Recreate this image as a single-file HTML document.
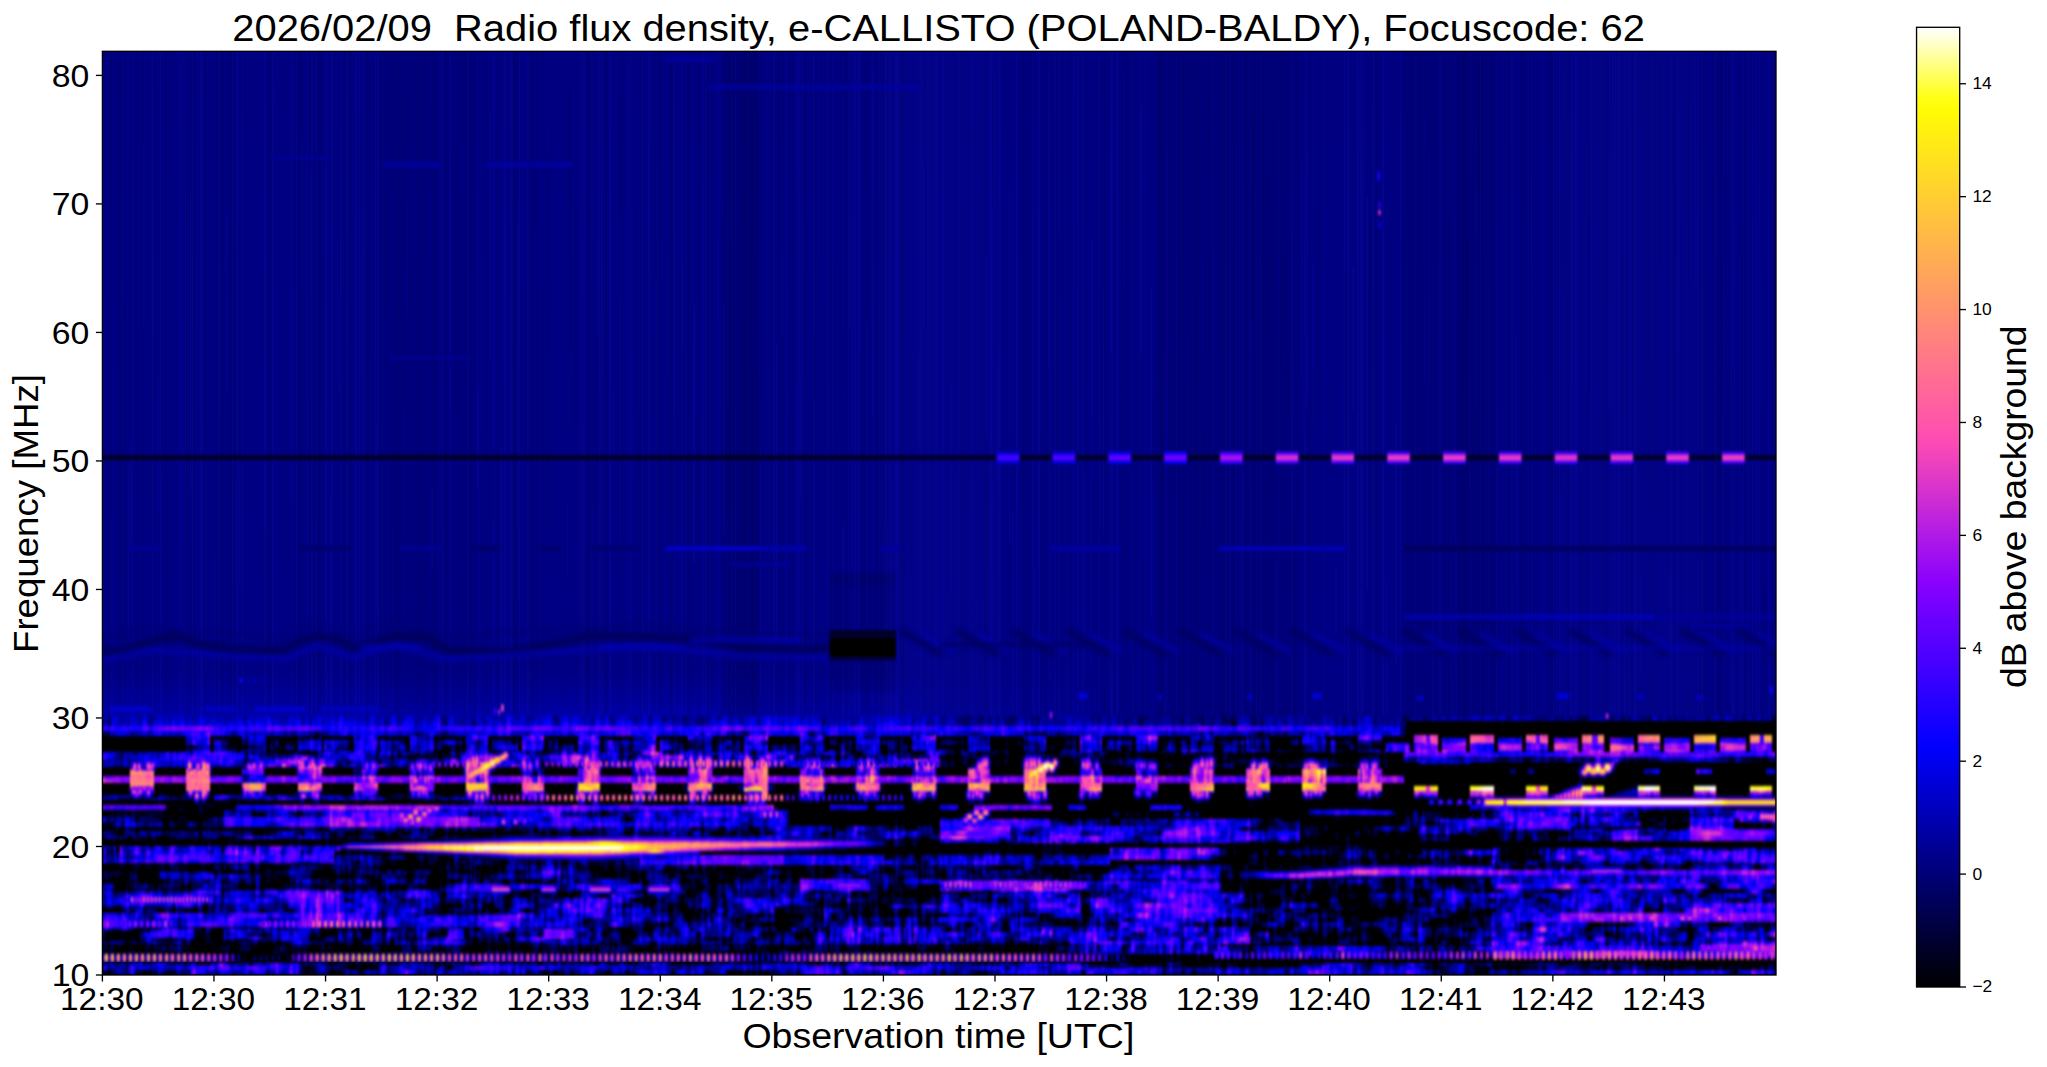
<!DOCTYPE html>
<html><head><meta charset="utf-8"><title>e-CALLISTO spectrogram</title>
<style>html,body{margin:0;padding:0;background:#fff;overflow:hidden}body{width:2047px;height:1067px;font-family:"Liberation Sans", sans-serif}</style></head>
<body>
<svg width="2047" height="1067" viewBox="0 0 2047 1067" font-family='"Liberation Sans", sans-serif' fill="#000" style="display:block">
<defs><clipPath id="axc"><rect x="102.40" y="51.30" width="1673.60" height="923.70"/></clipPath><filter id="bl" x="-1%" y="-5%" width="102%" height="110%" color-interpolation-filters="sRGB"><feGaussianBlur stdDeviation="1.1 1.6"/></filter><filter id="b2" x="-5%" y="-50%" width="110%" height="200%" color-interpolation-filters="sRGB"><feGaussianBlur stdDeviation="1.2 1.4"/></filter><filter id="b3" x="-5%" y="-50%" width="110%" height="200%" color-interpolation-filters="sRGB"><feGaussianBlur stdDeviation="2.5 2.2"/></filter><filter id="bd" x="-2%" y="-2%" width="104%" height="104%" color-interpolation-filters="sRGB"><feGaussianBlur stdDeviation="0.85 1.5"/></filter></defs>
<g clip-path="url(#axc)">
<defs><linearGradient id="ug" x1="0" y1="0" x2="0" y2="1"><stop offset="0" stop-color="#000081"/><stop offset="0.90" stop-color="#000084"/><stop offset="1" stop-color="#000085"/></linearGradient></defs>
<rect x="100.4" y="49.3" width="1677.6" height="670.0" fill="url(#ug)"/>
<linearGradient id="gl" x1="0" y1="0" x2="0" y2="1"><stop offset="0" stop-color="#0000ae" stop-opacity="0"/><stop offset="0.6" stop-color="#0000ae" stop-opacity="0.45"/><stop offset="1" stop-color="#0000ae" stop-opacity="0.95"/></linearGradient>
<rect x="100.4" y="672" width="617.6" height="47.3" fill="url(#gl)"/>
<rect x="718" y="672" width="200" height="47.3" fill="url(#gl)" opacity="0.65"/>
<rect x="918" y="672" width="180" height="47.3" fill="url(#gl)" opacity="0.3"/>
<path d="M318 51v668h2.0V51zM350 51v668h1.5V51zM320 51v668h2.0V51zM958 51v668h2.5V51zM333 51v668h1.0V51zM445 51v668h1.0V51zM1092 480v239h1.5V480zM884 530v189h1.5V530zM1229 533v134h1.0V533zM619 99v119h1.5V99zM1507 446v127h1.0V446zM1104 51v668h1.5V51zM928 51v668h1.0V51zM673 51v668h1.0V51zM1261 51v668h2.5V51zM1373 51v668h1.5V51zM1774 182v181h1.0V182zM646 51v668h1.5V51zM1621 51v668h1.0V51zM550 125v193h1.0V125zM588 51v668h1.5V51zM1028 51v668h1.5V51zM1741 225v247h1.5V225zM1612 51v668h2.0V51zM1182 51v668h2.5V51zM1349 51v668h1.5V51zM1447 51v668h1.5V51zM1568 51v668h1.5V51zM333 51v668h1.5V51zM986 325v353h1.0V325zM122 297v391h1.5V297zM236 245v233h1.0V245zM783 51v668h1.0V51zM1096 51v668h1.0V51zM591 51v668h1.5V51zM380 51v668h1.5V51zM1671 141v262h1.5V141zM315 260v258h1.5V260zM902 51v668h2.5V51zM771 51v668h1.5V51zM832 51v668h1.0V51zM121 51v668h1.0V51zM1551 51v668h1.0V51zM148 51v668h1.0V51zM215 51v668h1.5V51zM1046 51v668h1.0V51zM411 257v168h1.0V257zM1477 60v128h2.0V60zM1253 51v668h2.5V51zM1376 51v668h1.5V51zM781 51v668h1.0V51zM155 63v336h1.0V63zM1732 364v165h1.5V364zM277 51v668h1.0V51zM1602 51v668h1.5V51zM1244 51v668h2.5V51zM1520 51v668h1.5V51zM1654 51v668h1.5V51zM1712 51v668h2.5V51zM1178 51v668h1.0V51zM875 51v668h1.5V51zM1053 51v668h2.0V51zM1164 63v290h1.5V63zM1605 51v668h1.0V51zM379 51v668h1.0V51zM863 51v668h1.5V51zM998 204v136h2.0V204zM645 226v343h1.5V226zM1705 51v668h1.0V51zM658 51v668h2.0V51zM1224 51v668h1.0V51zM1458 51v668h1.0V51zM1251 109v212h2.5V109zM886 522v158h1.0V522zM686 51v668h1.5V51zM344 51v668h2.5V51zM879 51v668h2.5V51zM295 154v135h1.5V154zM230 308v280h2.5V308zM384 192v118h1.0V192zM1560 70v83h1.0V70zM711 51v668h2.0V51zM528 51v668h2.5V51zM1270 373v164h2.5V373zM1507 51v668h1.5V51zM1276 338v97h2.0V338zM1010 431v224h1.0V431zM291 504v215h1.0V504zM1560 198v297h1.5V198zM1286 51v668h1.0V51zM287 293v275h1.0V293zM1511 51v668h1.5V51zM542 291v179h1.0V291zM1528 51v668h1.5V51zM1632 51v668h1.0V51zM473 51v668h2.5V51zM1465 51v668h1.5V51zM151 462v128h1.0V462zM659 51v668h1.5V51zM262 275v87h1.0V275zM574 205v220h2.5V205zM188 51v668h2.0V51zM1762 405v256h1.5V405zM1153 394v88h1.5V394zM860 355v288h1.5V355zM599 51v668h1.5V51zM486 51v668h1.0V51zM796 104v263h1.0V104zM967 51v668h1.0V51zM698 51v668h1.5V51zM1238 51v668h1.0V51zM310 51v668h1.5V51zM1548 51v668h2.0V51zM985 51v668h2.0V51zM811 398v198h1.0V398zM1158 195v237h2.5V195zM761 51v668h1.5V51zM640 51v668h1.0V51zM604 51v668h1.0V51zM653 346v68h1.0V346zM387 51v668h1.0V51zM217 51v668h1.0V51zM696 416v102h2.5V416zM789 51v668h2.0V51zM1272 51v668h1.0V51zM1368 216v310h2.5V216zM543 51v668h1.5V51zM1022 51v668h2.5V51zM433 51v668h1.5V51zM1309 51v668h1.5V51zM239 224v238h1.0V224zM512 51v668h2.0V51zM1524 51v668h1.0V51zM831 51v668h1.0V51zM408 51v668h1.0V51zM391 537v150h1.5V537zM588 167v383h1.0V167zM706 51v668h2.5V51zM1466 239v256h2.0V239zM563 500v219h1.0V500zM1040 469v250h1.5V469zM497 388v275h2.0V388zM973 125v80h1.0V125zM746 51v668h2.5V51zM438 190v194h1.0V190zM1121 51v668h1.0V51zM1198 51v668h1.5V51zM805 51v668h1.5V51zM1529 51v668h1.0V51zM547 153v381h2.0V153zM1621 51v668h1.0V51zM234 51v668h1.5V51zM1293 521v198h2.5V521zM1024 51v668h1.0V51zM1533 51v668h1.0V51zM569 85v265h2.5V85zM1253 51v668h1.5V51zM1100 51v668h1.5V51zM1270 51v668h2.0V51zM686 51v668h1.0V51zM1629 447v272h2.0V447zM877 322v258h1.0V322zM315 151v376h1.0V151zM762 316v248h1.0V316zM1688 51v668h1.5V51zM1747 51v668h2.0V51zM533 51v668h1.0V51zM723 51v668h2.0V51zM1253 76v343h1.0V76zM1159 51v668h1.5V51zM1588 143v282h1.5V143zM122 383v147h1.5V383zM1371 51v668h1.0V51zM317 536v183h1.0V536zM1170 51v668h1.0V51zM1196 51v668h2.5V51zM348 51v668h1.0V51zM752 111v147h2.5V111zM849 552v168h1.5V552zM804 51v668h1.0V51zM492 448v74h2.5V448zM587 431v145h1.5V431zM1125 51v668h2.5V51zM1086 51v668h1.0V51zM534 161v69h2.0V161zM1317 51v668h1.5V51zM485 51v668h1.0V51zM118 364v168h1.0V364zM1477 400v158h1.0V400zM1479 145v350h1.5V145zM1052 113v265h1.5V113zM1603 51v668h1.0V51zM1209 51v668h1.5V51zM1265 51v668h1.5V51zM1220 51v668h2.5V51zM903 51v668h1.0V51zM1460 315v332h1.0V315zM771 51v668h2.5V51zM1552 51v668h1.5V51zM1481 51v668h2.0V51zM1287 352v61h1.5V352zM1133 51v668h2.5V51zM733 51v668h1.0V51zM1636 51v668h1.0V51zM1123 51v668h1.0V51zM845 51v668h1.5V51zM566 156v338h1.0V156zM605 51v668h2.0V51zM1471 169v370h2.0V169zM778 51v668h2.0V51zM1729 51v668h1.0V51zM1158 51v668h1.5V51zM225 273v338h1.0V273zM781 51v668h1.0V51zM984 476v236h1.0V476zM1716 51v668h1.5V51zM1724 178v83h1.0V178zM586 579v140h1.5V579zM395 51v668h2.0V51zM142 51v668h1.5V51zM1586 567v153h1.5V567zM1505 51v668h1.0V51zM221 197v338h1.5V197zM636 201v147h1.0V201zM1345 269v173h2.0V269zM1516 437v178h1.0V437zM655 51v668h1.0V51zM1226 51v668h2.0V51zM849 51v668h2.0V51zM263 529v190h2.0V529zM1743 51v668h1.5V51zM165 51v668h2.0V51zM131 51v668h1.0V51zM964 51v668h1.0V51zM884 51v668h1.0V51zM464 51v668h1.0V51zM1249 51v668h1.0V51zM124 51v668h1.5V51zM795 231v153h2.5V231zM298 51v668h2.0V51zM423 51v668h1.5V51zM821 51v668h1.0V51zM1739 51v668h1.0V51zM602 556v164h1.0V556zM346 230v269h1.0V230zM1462 51v668h2.5V51zM268 51v668h2.5V51zM792 51v668h1.5V51zM135 164v236h1.5V164zM1056 51v668h1.0V51zM509 128v255h1.5V128zM1633 113v290h1.0V113zM230 51v668h1.0V51zM1363 51v668h1.0V51zM992 74v133h1.5V74zM1062 51v668h1.0V51zM1157 51v668h1.5V51zM469 51v668h2.5V51zM532 51v668h1.0V51zM1419 51v668h1.0V51zM744 51v668h1.5V51zM300 51v668h2.0V51zM359 117v96h1.0V117zM1402 240v224h2.0V240zM215 51v668h2.0V51zM398 51v668h1.0V51zM583 51v668h1.5V51zM1391 227v240h1.0V227zM445 67v292h1.0V67zM1127 51v668h1.0V51zM173 51v668h1.0V51zM435 51v668h1.0V51zM639 415v67h1.5V415zM1058 233v219h2.0V233zM602 51v668h1.0V51zM312 51v668h1.5V51zM110 51v668h1.5V51zM834 263v241h1.0V263zM1139 51v668h1.0V51zM214 51v668h1.5V51zM1159 51v668h2.5V51zM1303 51v668h1.0V51zM1481 536v183h1.5V536zM674 413v306h1.0V413zM1232 51v668h2.0V51zM1621 253v165h2.5V253zM636 305v380h1.5V305zM1586 51v668h1.0V51zM1606 51v668h1.0V51zM688 51v668h1.5V51zM1508 51v668h1.0V51zM1161 51v668h2.5V51zM596 336v336h2.0V336zM1115 51v668h1.0V51zM228 51v668h1.5V51zM600 198v172h1.0V198zM1375 51v668h1.5V51zM1673 51v668h2.5V51zM1175 51v668h1.0V51zM1764 586v134h1.5V586zM1044 51v668h1.5V51zM1721 51v668h2.5V51zM1699 469v68h1.0V469zM592 295v210h1.0V295zM1452 51v668h1.5V51zM1567 51v668h2.0V51zM231 51v668h1.5V51zM1702 51v668h1.5V51zM308 51v668h1.0V51zM621 171v329h1.5V171zM1744 51v668h1.5V51zM881 51v668h2.0V51zM1475 560v115h1.0V560zM1188 51v668h1.5V51zM1512 51v668h1.0V51zM186 51v668h2.5V51zM578 51v668h1.0V51zM185 468v78h2.5V468zM1394 51v668h1.0V51zM926 51v668h1.0V51zM514 51v668h1.5V51zM1521 51v668h2.5V51zM1111 349v335h1.0V349zM1279 249v123h2.5V249zM444 51v668h1.0V51zM1331 391v75h1.0V391zM136 51v668h1.5V51zM221 51v668h2.5V51zM889 51v668h2.0V51zM204 51v668h2.0V51zM173 51v668h1.0V51zM536 51v668h1.5V51zM532 505v215h2.5V505zM604 111v345h1.0V111zM926 233v232h1.0V233zM417 51v668h1.5V51zM911 347v231h1.0V347zM221 504v216h1.0V504zM814 332v90h1.0V332zM1203 430v103h1.5V430zM670 51v668h2.5V51zM298 51v668h1.0V51zM1563 120v171h1.0V120zM323 257v141h1.0V257zM887 51v668h1.0V51zM1257 51v668h1.0V51zM1174 356v143h1.0V356zM525 281v176h1.5V281zM729 243v260h2.5V243zM403 448v272h1.0V448zM194 51v668h2.5V51zM117 51v668h2.5V51zM738 539v180h1.5V539zM1065 51v668h1.0V51zM952 51v668h1.0V51zM1279 51v668h1.0V51zM840 51v668h1.5V51zM1070 51v668h1.5V51zM1645 51v668h1.0V51zM900 51v668h1.5V51zM1648 51v668h1.0V51zM455 149v259h1.5V149zM1229 51v668h1.5V51zM515 51v668h2.5V51zM1230 51v668h1.0V51zM1580 489v231h2.5V489zM1719 51v668h2.5V51zM687 51v668h1.0V51zM731 51v668h1.0V51zM1700 51v668h1.0V51zM154 51v668h1.0V51zM497 51v668h1.5V51zM188 103v140h2.0V103zM1725 51v668h1.0V51zM425 51v668h1.0V51zM815 51v668h1.5V51zM866 51v668h2.5V51zM621 51v668h1.5V51zM1070 51v668h1.0V51zM533 332v338h1.0V332zM979 51v668h1.0V51zM367 386v163h1.0V386zM691 461v259h1.5V461zM378 51v668h1.5V51zM920 51v668h1.5V51zM166 477v242h1.5V477zM433 51v668h1.5V51zM1193 188v210h1.5V188zM1491 51v668h1.0V51zM752 372v347h2.5V372zM1031 51v668h1.0V51zM721 217v368h1.5V217zM299 566v154h1.5V566zM1010 570v66h1.0V570zM366 51v668h2.5V51zM585 542v177h1.5V542zM369 64v388h1.0V64zM1192 51v668h1.5V51zM813 86v370h1.5V86zM1403 51v668h1.0V51zM1468 51v668h2.0V51zM680 265v213h1.5V265zM373 51v668h1.0V51zM214 51v668h1.0V51zM1702 51v668h1.0V51zM587 51v668h1.0V51zM486 51v668h1.0V51zM1306 395v226h1.5V395zM872 193v113h1.5V193zM1142 557v162h2.0V557zM1318 206v219h1.5V206zM656 242v331h1.0V242zM1076 221v71h1.0V221zM1283 51v668h1.0V51zM646 228v294h1.5V228zM1659 64v205h2.0V64zM401 97v324h2.0V97zM339 51v668h1.0V51z" fill="#000" fill-opacity="0.085"/>
<path d="M1469 51v668h2.0V51zM438 51v668h1.5V51zM1270 60v114h1.0V60zM872 69v348h2.0V69zM1450 61v160h1.5V61zM630 51v668h1.5V51zM1352 267v143h2.5V267zM1344 51v668h1.0V51zM1150 288v327h2.0V288zM1559 318v87h1.0V318zM490 113v249h1.5V113zM630 51v668h1.5V51zM296 51v668h1.0V51zM1452 300v77h2.5V300zM1305 51v668h1.5V51zM581 51v668h2.0V51zM504 51v668h2.0V51zM362 51v668h1.5V51zM359 51v668h1.0V51zM1049 348v337h1.5V348zM1139 51v668h1.0V51zM1761 275v131h1.0V275zM1009 188v355h1.5V188zM832 51v668h1.5V51zM192 51v668h1.0V51zM1123 75v214h1.0V75zM1634 51v668h1.0V51zM359 406v314h1.0V406zM852 534v186h1.5V534zM1260 51v668h2.0V51zM1609 51v668h1.5V51zM152 51v668h1.0V51zM187 51v668h1.5V51zM1357 51v668h2.5V51zM842 527v193h2.5V527zM519 51v668h1.0V51zM477 196v291h1.0V196zM598 51v668h2.5V51zM1428 148v318h1.5V148zM325 51v668h2.5V51zM1065 51v668h1.0V51zM857 51v668h1.0V51zM1571 51v668h1.5V51zM356 51v668h1.0V51zM646 51v668h1.0V51zM527 515v204h2.5V515zM377 51v668h2.5V51zM1618 51v668h2.0V51zM355 550v169h1.0V550zM111 514v205h1.5V514zM971 51v668h1.0V51zM518 205v394h1.0V205zM1077 51v668h1.5V51zM990 51v668h2.5V51zM1225 51v668h2.5V51zM1570 385v334h1.0V385zM1140 106v248h2.5V106zM567 502v75h1.5V502zM500 448v271h2.5V448zM1361 51v668h1.0V51zM626 61v150h1.0V61zM1357 51v668h1.5V51zM1677 51v668h1.0V51zM239 458v129h1.5V458zM226 215v178h1.0V215zM382 51v668h1.0V51zM1611 156v252h1.5V156zM1743 51v668h1.0V51zM364 51v668h1.0V51zM1361 274v120h1.0V274zM1701 51v668h2.5V51zM1455 51v668h1.5V51zM1629 51v668h1.5V51zM731 51v668h1.5V51zM1451 537v182h1.5V537zM301 142v143h1.0V142zM1073 51v668h1.0V51zM277 51v668h1.0V51zM854 51v668h2.0V51zM196 51v668h1.5V51zM1017 51v668h1.0V51zM158 377v136h1.5V377zM693 305v259h2.5V305zM1255 187v171h1.5V187zM601 51v668h1.5V51zM527 51v668h1.5V51zM1236 51v668h1.5V51zM1241 443v276h2.5V443zM1686 225v399h1.0V225zM1225 55v145h2.5V55zM1449 51v668h1.0V51zM449 51v668h2.5V51zM1363 51v668h1.0V51zM1012 513v199h1.5V513zM919 357v88h2.5V357zM800 275v225h1.0V275zM1624 51v668h1.0V51zM1249 51v668h2.5V51zM1239 51v668h1.5V51zM443 51v668h1.5V51zM1360 51v668h1.5V51zM1517 456v263h1.5V456zM200 51v668h2.5V51zM493 51v668h1.5V51zM609 51v668h2.5V51zM773 51v668h2.0V51zM759 51v668h1.0V51zM1528 51v668h1.0V51zM747 51v668h1.0V51zM686 51v668h1.0V51zM583 51v668h2.5V51zM375 51v668h1.0V51zM1032 51v668h1.5V51zM958 51v668h2.0V51zM920 51v668h2.5V51zM406 205v109h1.5V205zM1498 224v294h1.5V224zM873 51v668h1.0V51zM1576 51v668h1.5V51zM895 51v668h1.5V51zM1193 51v668h1.0V51zM340 51v668h1.5V51zM1188 51v668h1.0V51zM1415 51v668h1.5V51zM1731 51v668h2.5V51zM613 390v70h1.0V390zM602 51v668h1.0V51zM813 51v668h2.0V51zM1585 217v175h1.5V217zM1202 262v95h1.0V262zM579 51v668h1.0V51zM1256 51v668h1.0V51zM467 51v668h2.0V51zM897 51v668h2.0V51zM673 51v668h2.0V51zM1275 563v156h2.5V563zM591 51v668h1.5V51zM237 69v378h1.0V69zM1164 51v668h1.5V51zM1084 474v204h1.5V474zM1624 128v249h1.5V128zM1742 496v215h1.0V496zM1373 51v668h2.0V51zM1612 51v668h2.5V51zM1335 565v69h2.0V565zM1542 51v668h1.0V51zM355 51v668h1.5V51zM850 51v668h1.5V51zM1756 51v668h1.0V51zM153 92v243h1.0V92zM190 197v117h1.5V197zM1400 51v668h1.0V51zM393 530v189h1.0V530zM889 51v668h1.0V51zM885 51v668h2.0V51zM1145 51v668h1.0V51zM604 51v668h1.0V51zM1302 161v273h1.0V161zM857 445v236h1.5V445zM441 51v668h2.0V51zM232 51v668h1.0V51zM735 51v668h1.0V51zM1506 51v668h1.0V51zM1198 51v668h1.5V51zM857 51v668h2.5V51zM1480 51v668h1.0V51zM655 278v375h1.5V278zM1016 51v668h1.5V51zM723 302v233h2.0V302zM827 51v668h1.5V51zM1304 434v285h1.0V434zM1440 51v668h2.0V51zM889 51v668h2.0V51zM866 322v338h2.0V322zM1447 51v668h1.0V51zM1366 196v394h2.5V196zM1382 51v668h2.5V51zM1438 51v668h2.5V51zM431 487v85h2.5V487zM132 51v668h1.0V51zM1020 508v212h1.0V508zM1103 292v241h1.0V292zM1291 51v668h2.0V51zM852 51v668h1.0V51zM1059 51v668h1.0V51zM130 445v107h2.0V445zM642 51v668h1.0V51zM1432 457v262h2.5V457zM1515 334v250h1.5V334zM718 51v668h1.0V51zM813 51v668h1.5V51zM1715 51v668h1.5V51zM1615 51v668h1.5V51zM681 51v668h1.0V51zM997 367v117h2.5V367zM1167 149v288h1.0V149zM1386 579v140h1.5V579zM1670 570v88h1.5V570zM122 51v668h1.0V51zM1640 579v91h1.5V579zM511 51v668h2.0V51zM1176 51v668h1.5V51zM999 51v668h2.0V51zM1323 51v668h1.0V51zM264 51v668h2.5V51zM848 51v668h1.5V51zM1342 249v282h1.0V249zM1424 118v265h1.0V118zM128 465v170h1.0V465zM786 51v668h1.0V51zM205 451v218h1.5V451zM1734 51v668h1.0V51zM620 298v244h1.0V298zM760 445v253h1.5V445zM1312 265v105h1.5V265zM330 497v223h1.0V497zM337 240v140h1.0V240zM376 426v183h1.0V426zM307 51v668h1.0V51zM1759 51v668h1.0V51zM359 257v383h1.5V257zM1348 51v668h1.5V51zM1671 51v668h1.5V51zM202 51v668h1.0V51zM796 51v668h2.5V51zM896 51v668h2.0V51zM1635 51v668h2.0V51zM1082 51v668h1.5V51zM1133 51v668h1.0V51zM1553 51v668h1.5V51zM1243 51v668h1.5V51zM1362 51v668h1.0V51zM1714 51v668h2.5V51zM242 51v668h1.0V51zM1452 51v668h2.5V51zM1756 51v668h1.5V51zM438 92v218h1.5V92zM849 127v198h1.0V127zM1420 455v88h1.5V455zM1739 533v186h2.5V533zM1347 51v668h2.5V51zM339 294v97h1.5V294zM1678 114v241h1.5V114zM923 165v162h1.5V165zM510 51v668h1.0V51zM1034 566v153h1.0V566zM727 194v207h1.5V194zM887 533v187h1.0V533zM1278 51v668h1.0V51zM1602 51v668h1.0V51zM1212 51v668h1.5V51zM1099 51v668h1.0V51zM648 51v668h2.5V51zM1166 500v220h1.5V500zM1476 123v110h1.0V123zM1759 51v668h1.0V51zM1166 51v668h1.5V51zM705 51v668h1.5V51zM891 481v238h1.0V481zM272 51v668h1.5V51zM517 222v306h2.0V222zM478 387v332h1.0V387zM179 51v668h1.5V51zM505 51v668h1.0V51zM628 51v668h1.0V51zM316 51v668h1.0V51zM718 51v668h1.0V51zM1695 100v184h1.5V100zM1048 71v296h2.0V71zM1067 549v170h1.0V549zM1722 416v143h2.0V416zM1591 51v668h1.5V51zM1511 51v668h2.0V51zM726 524v195h1.5V524zM1116 51v668h2.5V51zM1470 51v668h1.5V51zM160 51v668h1.0V51zM1292 51v668h1.0V51zM1229 51v668h2.5V51zM1496 51v668h2.0V51zM185 51v668h1.0V51zM346 51v668h2.0V51zM879 51v668h1.0V51zM291 51v668h1.5V51zM1624 51v668h1.0V51zM190 272v220h1.5V272zM1091 338v330h1.0V338zM1372 51v668h2.0V51zM529 51v668h1.0V51zM1768 51v668h1.5V51zM218 51v668h1.5V51zM682 264v85h1.0V264zM942 51v668h1.5V51zM1575 51v668h1.5V51zM1395 423v241h2.0V423zM332 51v668h1.5V51zM776 345v297h2.0V345zM854 51v668h1.5V51zM1304 177v158h1.5V177zM1723 51v668h1.0V51zM1576 384v336h1.0V384zM799 51v668h1.5V51zM1307 151v261h1.0V151zM1556 51v668h1.0V51zM657 51v668h1.0V51zM143 146v183h1.0V146zM927 51v668h2.0V51zM1559 51v668h1.5V51zM1111 51v668h2.0V51zM1187 513v206h1.5V513zM311 51v668h2.0V51zM935 51v668h2.5V51zM403 405v314h1.0V405zM215 51v668h1.0V51zM331 51v668h1.5V51zM1747 51v668h2.5V51zM236 51v668h2.0V51zM1091 239v173h2.0V239zM986 256v183h1.0V256zM1489 51v668h1.0V51zM1349 51v668h1.5V51zM1456 540v179h1.0V540zM703 51v668h1.0V51zM310 170v228h2.0V170zM1496 51v668h1.5V51zM782 139v198h1.0V139zM1531 51v668h1.0V51zM213 556v164h1.5V556zM1038 51v668h2.0V51zM1055 51v668h1.0V51zM802 51v668h1.0V51zM858 51v668h2.5V51zM1110 51v668h2.5V51zM273 51v668h1.5V51zM951 386v210h1.5V386zM1739 257v359h1.5V257zM387 451v266h1.5V451zM1053 51v668h1.5V51zM1055 51v668h1.0V51zM918 51v668h1.0V51zM182 51v668h1.5V51zM1752 51v668h1.0V51z" fill="#2424ff" fill-opacity="0.075"/>
<rect x="725.0" y="51.3" width="35.0" height="668.0" fill="#000" fill-opacity="0.10"/>
<rect x="1160.0" y="51.3" width="140.0" height="668.0" fill="#000" fill-opacity="0.06"/>
<rect x="1404.0" y="51.3" width="96.0" height="668.0" fill="#000" fill-opacity="0.07"/>
<rect x="380.0" y="51.3" width="90.0" height="668.0" fill="#000" fill-opacity="0.04"/>
<rect x="880.0" y="51.3" width="120.0" height="668.0" fill="#3030ff" fill-opacity="0.05"/>
<rect x="1560.0" y="51.3" width="140.0" height="668.0" fill="#3030ff" fill-opacity="0.04"/>
<g filter="url(#bl)"><rect x="96.4" y="716.34" width="1685.6" height="264.7" fill="#000"/>
<g transform="translate(102.40 718.735) scale(2.0 2.3950)" stroke-width="2.08" fill="none" shape-rendering="crispEdges">
<path stroke="#00001f" d="M560 0h1M566 2h1M22 8h1M98 8h5M105 8h1M265 8h1M576 8h1M578 8h1M753 8h1M63 10h1M72 10h1M85 10h1M92 10h2M151 10h1M205 10h1M225 10h1M231 10h1M233 10h1M235 10h1M288 10h1M290 10h2M294 10h1M307 10h1M316 10h1M372 10h1M428 10h2M452 10h1M481 10h1M484 10h1M502 10h1M506 10h1M530 10h2M539 10h1M618 10h1M641 10h1M682 10h1M42 12h1M70 12h1M86 12h1M91 12h1M123 12h1M145 12h1M170 12h1M174 12h1M225 12h1M228 12h2M259 12h1M313 12h1M397 12h1M418 12h2M430 12h1M452 12h1M467 12h1M474 12h1M482 12h2M512 12h1M531 12h1M548 12h1M559 12h2M568 12h1M601 12h1M630 12h2M636 12h2M100 14h1M502 14h1M149 16h1M152 16h2M164 16h1M260 16h1M264 16h1M307 16h1M315 16h1M361 16h1M363 16h1M372 16h1M557 16h1M560 16h1M578 16h2M602 16h1M630 16h2M650 16h1M139 18h1M169 18h1M391 18h1M421 18h2M424 18h1M429 18h2M436 18h1M444 18h1M447 18h2M487 18h1M507 18h1M540 18h1M562 18h1M565 18h3M573 18h1M585 18h1M587 18h1M592 18h1M596 18h2M642 18h1M646 18h1M740 18h1M180 20h1M528 20h1M110 22h2M115 22h1M127 22h1M180 22h1M208 22h1M312 22h1M534 22h1M593 22h1M598 22h1M627 22h1M737 22h1M7 28h1M258 28h1M261 28h2M321 32h1M377 32h1M388 32h1M431 32h1M442 32h1M473 32h1M526 32h1M555 32h1M581 32h1M543 38h1M576 38h1M4 40h2M7 40h1M9 40h1M19 40h1M21 40h1M23 40h1M25 40h1M27 40h2M30 40h1M49 40h1M77 40h1M81 40h1M99 40h1M184 40h1M249 40h1M251 40h1M253 40h1M261 40h2M343 40h1M449 40h1M505 40h1M514 40h1M519 40h1M525 40h1M527 40h1M531 40h1M535 40h1M539 40h1M545 40h1M652 40h1M666 40h1M668 40h2M676 40h3M685 40h1M693 40h2M737 40h1M763 40h2M28 42h2M33 42h2M38 42h4M51 42h1M261 42h1M397 42h1M617 42h2M642 42h1M651 42h1M654 42h2M663 42h2M773 42h3M780 42h1M785 42h3M790 42h2M2 44h2M10 44h1M33 44h1M38 44h1M40 44h1M483 44h2M498 44h1M501 44h1M513 44h1M583 44h3M587 44h1M594 44h1M655 44h1M658 44h1M666 44h1M738 44h1M776 44h2M825 44h1M829 44h1M7 46h1M14 46h1M53 46h2M56 46h1M94 46h1M97 46h2M100 46h1M107 46h1M128 46h1M147 46h1M149 46h2M163 46h1M167 46h2M175 46h1M189 46h1M193 46h1M196 46h1M208 46h2M212 46h1M236 46h1M245 46h1M262 46h1M295 46h1M311 46h1M317 46h1M326 46h1M398 46h1M415 46h1M578 46h1M600 46h2M606 46h1M631 46h3M654 46h1M693 46h1M7 48h1M31 48h1M70 48h1M75 48h1M110 48h1M114 48h2M121 48h1M151 48h2M154 48h1M163 48h1M195 48h1M201 48h1M210 48h1M212 48h1M216 48h2M219 48h1M229 48h1M247 48h1M251 48h1M270 48h2M282 48h1M300 48h1M310 48h2M316 48h2M324 48h2M332 48h1M416 48h3M600 48h1M604 48h1M606 48h1M608 48h1M626 48h1M634 48h1M637 48h1M643 48h1M649 48h2M688 48h1M692 48h1M697 48h1M703 48h1M712 48h1M718 48h1M782 48h1M663 50h2M676 50h1M700 50h1M703 50h1M721 50h1M732 50h1M735 50h1M751 50h1M50 52h1M53 52h1M63 52h2M66 52h2M95 52h1M97 52h1M108 52h1M113 52h1M393 52h1M401 52h1M407 52h1M622 52h1M7 54h1M397 54h1M453 54h2M472 54h3M476 54h1M478 54h2M560 54h2M597 54h2M605 54h2M608 54h1M610 54h2M615 54h2M618 54h1M621 54h1M625 54h1M629 54h1M631 54h1M562 56h1M576 56h2M593 56h1M604 56h1M612 56h1M615 56h3M619 56h2M630 56h1M648 56h1M653 56h1M663 56h1M670 56h1M674 56h1M702 56h1M715 56h1M724 56h1M141 58h3M157 58h1M164 58h2M391 58h1M394 58h1M396 58h1M400 58h2M406 58h1M409 58h1M416 58h1M469 58h1M492 58h1M558 58h1M702 58h1M712 58h1M720 58h1M127 60h1M141 60h1M144 60h2M159 60h2M166 60h1M169 60h1M172 60h1M179 60h1M182 60h2M193 60h1M195 60h4M229 60h1M255 60h2M409 60h1M531 60h2M573 60h1M575 60h1M610 60h2M621 60h1M624 60h2M627 60h1M629 60h1M634 60h1M646 60h1M650 60h1M656 60h1M658 60h1M676 60h3M689 60h1M9 62h2M18 62h1M22 62h3M28 62h2M31 62h1M33 62h1M38 62h4M50 62h2M60 62h1M62 62h1M91 62h1M93 62h1M108 62h1M110 62h1M114 62h1M122 62h1M125 62h1M128 62h1M132 62h1M155 62h1M159 62h1M169 62h1M178 62h1M183 62h1M185 62h1M194 62h1M201 62h1M213 62h1M218 62h1M230 62h1M232 62h1M237 62h1M239 62h2M243 62h1M249 62h1M275 62h1M283 62h1M286 62h1M289 62h1M293 62h1M295 62h1M303 62h1M318 62h1M326 62h2M329 62h1M332 62h1M335 62h1M337 62h2M360 62h1M366 62h2M373 62h1M394 62h1M401 62h2M430 62h1M442 62h2M469 62h1M504 62h1M507 62h1M595 62h1M600 62h1M698 62h1M704 62h1M781 62h1M787 62h1M794 62h1M59 64h1M67 64h1M71 64h1M77 64h1M84 64h1M89 64h2M119 64h2M124 64h1M142 64h1M145 64h2M152 64h1M155 64h1M164 64h1M169 64h1M178 64h1M181 64h1M184 64h1M194 64h1M201 64h1M213 64h1M244 64h1M258 64h2M261 64h1M269 64h1M287 64h2M296 64h2M300 64h1M303 64h1M309 64h1M318 64h1M330 64h1M343 64h2M352 64h1M354 64h1M360 64h1M367 64h1M386 64h1M398 64h1M409 64h1M411 64h1M433 64h1M436 64h2M448 64h2M461 64h1M467 64h1M485 64h1M503 64h1M559 64h1M562 64h1M568 64h1M0 66h1M3 66h2M7 66h1M28 66h1M75 66h1M82 66h6M90 66h1M93 66h1M104 66h1M126 66h1M136 66h1M148 66h1M151 66h1M162 66h1M185 66h1M230 66h1M245 66h1M248 66h2M257 66h1M261 66h2M283 66h1M292 66h1M300 66h1M308 66h1M310 66h3M320 66h1M324 66h1M326 66h1M334 66h1M344 66h1M349 66h2M376 66h3M381 66h1M383 66h1M409 66h2M412 66h1M415 66h1M418 66h1M451 66h1M463 66h1M469 66h1M486 66h1M498 66h1M559 66h1M762 66h1M2 68h1M4 68h1M12 68h1M22 68h1M40 68h1M69 68h1M83 68h1M95 68h1M109 68h2M116 68h1M122 68h1M125 68h1M152 68h3M162 68h1M177 68h1M179 68h1M190 68h1M195 68h1M222 68h2M225 68h1M236 68h2M273 68h1M289 68h1M296 68h1M299 68h1M339 68h1M396 68h1M399 68h2M559 68h1M564 68h1M595 68h1M605 68h1M608 68h2M615 68h1M640 68h1M769 68h1M6 70h1M12 70h1M15 70h1M25 70h2M30 70h1M41 70h2M60 70h1M66 70h1M90 70h2M93 70h1M99 70h1M105 70h2M108 70h1M110 70h1M113 70h2M123 70h1M125 70h2M129 70h2M136 70h1M140 70h1M143 70h1M229 70h1M271 70h1M296 70h1M301 70h1M307 70h1M310 70h1M393 70h1M397 70h2M570 70h1M584 70h1M599 70h2M608 70h1M624 70h1M628 70h1M633 70h1M644 70h1M648 70h2M659 70h2M673 70h1M680 70h2M807 70h1M295 72h1M297 72h1M303 72h1M307 72h1M310 72h1M316 72h1M330 72h1M602 72h1M604 72h1M641 72h1M661 72h1M663 72h2M681 72h1M688 72h1M694 72h2M721 72h1M746 72h1M748 72h1M791 72h1M800 72h1M832 72h1M201 74h1M214 74h1M217 74h1M220 74h1M224 74h1M226 74h2M237 74h1M272 74h1M274 74h2M291 74h1M327 74h3M345 74h1M365 74h1M371 74h1M374 74h2M377 74h1M391 74h1M396 74h1M415 74h1M429 74h1M480 74h1M489 74h1M496 74h1M591 74h1M614 74h1M616 74h1M620 74h1M624 74h1M643 74h1M663 74h1M714 74h1M801 74h1M121 76h2M150 76h1M169 76h2M185 76h1M187 76h1M201 76h1M213 76h1M279 76h2M299 76h1M307 76h1M311 76h1M356 76h1M358 76h1M382 76h1M385 76h1M393 76h1M400 76h2M411 76h3M437 76h1M440 76h1M442 76h1M490 76h1M562 76h1M592 76h1M599 76h3M642 76h1M645 76h1M650 76h1M693 76h1M696 76h1M719 76h2M722 76h1M813 76h1M816 76h2M821 76h2M832 76h1M92 78h1M186 78h1M190 78h1M201 78h1M272 78h1M276 78h1M288 78h1M310 78h1M362 78h1M492 78h1M568 78h1M574 78h1M579 78h1M619 78h1M627 78h1M630 78h1M655 78h1M662 78h1M780 78h1M14 80h1M21 80h1M27 80h1M30 80h2M34 80h1M38 80h1M79 80h1M92 80h1M94 80h1M162 80h1M166 80h1M173 80h1M175 80h1M216 80h1M275 80h1M280 80h1M288 80h1M296 80h1M306 80h1M337 80h1M341 80h1M344 80h2M347 80h1M353 80h1M356 80h1M359 80h2M380 80h1M385 80h1M395 80h1M398 80h1M407 80h1M409 80h1M461 80h1M582 80h1M591 80h1M611 80h1M777 80h2M229 82h1M284 82h1M290 82h1M302 82h1M310 82h3M322 82h1M333 82h1M336 82h1M348 82h1M355 82h1M359 82h1M385 82h2M388 82h1M396 82h1M403 82h2M421 82h1M433 82h2M456 82h1M471 82h1M473 82h1M494 82h1M576 82h1M584 82h1M595 82h1M598 82h1M602 82h1M609 82h1M616 82h1M618 82h1M650 82h1M654 82h1M674 82h1M683 82h1M689 82h1M691 82h1M242 84h2M245 84h1M285 84h1M291 84h1M295 84h1M297 84h2M301 84h1M304 84h1M314 84h1M320 84h1M324 84h2M327 84h1M344 84h5M350 84h1M356 84h2M366 84h1M370 84h1M382 84h2M391 84h1M395 84h1M399 84h1M413 84h1M451 84h2M468 84h1M473 84h1M484 84h2M558 84h1M575 84h1M594 84h1M604 84h1M611 84h1M624 84h1M626 84h1M640 84h1M676 84h1M684 84h1M243 86h1M252 86h1M271 86h1M273 86h2M276 86h1M282 86h2M293 86h1M318 86h1M335 86h1M346 86h2M356 86h1M384 86h1M410 86h1M431 86h1M476 86h1M478 86h1M480 86h1M484 86h1M487 86h1M498 86h1M503 86h1M506 86h1M556 86h1M561 86h1M571 86h2M575 86h2M579 86h1M596 86h2M604 86h1M624 86h5M634 86h1M648 86h1M656 86h1M660 86h1M662 86h1M670 86h1M672 86h1M688 86h1M692 86h1M749 86h1M794 86h1M825 86h2M830 86h1M832 86h1M836 86h1M19 88h2M46 88h1M80 88h1M112 88h2M121 88h2M128 88h1M137 88h1M142 88h1M146 88h1M152 88h3M156 88h1M172 88h1M251 88h2M257 88h1M270 88h1M280 88h1M323 88h1M333 88h1M353 88h1M360 88h2M428 88h1M431 88h1M437 88h1M453 88h1M486 88h1M503 88h1M551 88h1M603 88h1M613 88h1M615 88h1M617 88h1M621 88h1M626 88h1M629 88h2M638 88h1M648 88h1M675 88h1M712 88h2M741 88h1M752 88h1M757 88h1M788 88h1M796 88h1M805 88h1M831 88h1M4 90h1M10 90h1M46 90h2M50 90h2M53 90h1M60 90h1M81 90h2M84 90h1M116 90h1M134 90h1M140 90h2M152 90h1M156 90h1M163 90h1M167 90h3M183 90h1M206 90h1M212 90h1M218 90h1M241 90h1M245 90h1M273 90h1M287 90h1M297 90h1M332 90h1M336 90h1M340 90h1M346 90h1M354 90h1M362 90h1M405 90h1M519 90h1M588 90h5M595 90h1M620 90h1M626 90h1M629 90h1M632 90h2M645 90h1M670 90h1M683 90h1M758 90h1M768 90h1M785 90h1M795 90h1M14 92h1M52 92h1M54 92h1M60 92h1M106 92h1M125 92h1M127 92h1M131 92h2M141 92h1M144 92h1M148 92h1M155 92h1M182 92h1M198 92h1M200 92h1M244 92h1M254 92h1M261 92h1M297 92h2M301 92h1M313 92h1M324 92h1M340 92h1M350 92h1M352 92h1M354 92h1M431 92h1M454 92h1M468 92h1M505 92h2M512 92h1M540 92h1M577 92h2M580 92h1M584 92h2M603 92h1M611 92h1M618 92h2M621 92h1M624 92h1M627 92h1M629 92h1M645 92h1M657 92h1M666 92h2M672 92h2M683 92h1M691 92h2M694 92h1M768 92h1M771 92h1M795 92h1M775 94h1M780 94h1M787 94h1M790 94h1M792 94h1M794 94h1M1 96h1M3 96h1M14 96h1M21 96h1M32 96h1M40 96h1M56 96h1M60 96h1M68 96h1M74 96h1M88 96h1M92 96h1M94 96h1M96 96h2M100 96h1M102 96h1M108 96h1M111 96h1M113 96h1M129 96h1M155 96h2M166 96h2M171 96h1M179 96h1M203 96h1M218 96h1M220 96h3M228 96h1M232 96h1M234 96h2M240 96h2M263 96h1M276 96h1M279 96h1M322 96h1M324 96h1M328 96h3M341 96h1M351 96h1M354 96h2M365 96h1M372 96h1M376 96h1M392 96h1M412 96h1M420 96h1M424 96h3M440 96h1M449 96h2M457 96h1M471 96h3M476 96h1M481 96h2M498 96h1M511 96h1M573 96h1M575 96h1M642 96h1M666 96h1M672 96h1M676 96h1M678 96h1M42 98h1M223 98h1M286 98h1M364 98h1M366 98h1M370 98h1M375 98h1M379 98h1M473 98h1M573 98h1M656 98h1M661 98h2M667 98h1M687 98h2M690 98h1M75 100h1M78 100h1M81 100h1M102 100h1M150 100h1M156 100h1M162 100h1M168 100h1M228 100h1M237 100h1M279 100h1M282 100h1M294 100h1M303 100h1M309 100h1M312 100h1M354 100h1M436 100h1M442 100h1M445 100h1M487 100h1M490 100h1M535 100h1M547 100h2M52 102h1M173 102h1M187 102h1M226 102h1M295 102h1M447 102h1M100 104h2M105 104h1M121 104h1M166 104h1M172 104h1M452 104h1M701 104h1M713 104h1M715 104h1M717 104h1M740 104h1M742 104h1M746 104h1M755 104h1M759 104h1M771 104h1M773 104h1M777 104h1M786 104h1M792 104h2M808 104h1M813 104h2M819 104h1M836 104h1M2 106h1M17 106h1M26 106h1M31 106h1M34 106h1M83 106h1M101 106h1M105 106h2M113 106h1M117 106h1M130 106h1M166 106h1M213 106h1M225 106h1M228 106h1M230 106h1M235 106h1M251 106h1M254 106h1M312 106h1M330 106h1M335 106h1M347 106h1M371 106h1M416 106h1M435 106h1M438 106h2M530 106h1M555 106h1M592 106h1M670 106h1M672 106h1M682 106h1M686 106h1M689 106h1M691 106h1M707 106h1M814 106h1M817 106h1"/>
<path stroke="#00003e" d="M519 0h1M550 0h1M565 0h1M650 0h2M738 0h1M740 0h3M760 0h1M774 0h1M803 0h1M835 0h2M3 2h1M519 2h1M540 2h1M550 2h1M560 2h1M562 2h1M564 2h1M576 2h1M579 2h1M625 2h1M650 4h1M0 6h1M2 6h1M478 6h1M651 6h1M108 8h1M441 8h2M573 8h1M579 8h2M71 10h1M84 10h1M86 10h1M167 10h1M177 10h1M188 10h1M226 10h1M285 10h1M289 10h1M296 10h1M308 10h1M310 10h1M367 10h1M396 10h1M400 10h1M419 10h1M421 10h1M426 10h2M482 10h1M535 10h2M560 10h1M562 10h1M594 10h1M619 10h1M43 12h1M45 12h1M62 12h1M64 12h1M66 12h1M75 12h2M89 12h1M118 12h1M120 12h1M122 12h1M176 12h1M179 12h1M260 12h1M288 12h1M295 12h2M299 12h2M307 12h1M312 12h1M315 12h1M339 12h1M343 12h1M355 12h2M373 12h1M475 12h1M481 12h1M506 12h1M509 12h1M513 12h1M522 12h1M532 12h1M539 12h1M576 12h1M579 12h1M581 12h1M602 12h1M633 12h1M462 14h1M479 14h1M8 16h2M72 16h1M144 16h1M147 16h1M150 16h1M159 16h1M163 16h1M165 16h1M167 16h1M170 16h2M177 16h1M348 16h2M362 16h1M369 16h1M376 16h1M387 16h1M391 16h1M405 16h1M408 16h1M562 16h1M633 16h6M641 16h1M123 18h1M145 18h1M168 18h1M220 18h1M222 18h1M250 18h1M252 18h1M285 18h1M360 18h1M419 18h2M425 18h1M432 18h1M435 18h1M451 18h2M486 18h1M500 18h1M502 18h1M504 18h3M510 18h2M561 18h1M564 18h1M568 18h2M571 18h2M598 18h1M614 18h1M616 18h1M641 18h1M71 20h1M405 20h1M612 22h1M272 32h1M298 32h1M499 32h1M520 32h1M527 32h1M554 32h1M583 32h1M8 40h1M12 40h1M16 40h1M18 40h1M22 40h1M24 40h1M26 40h1M29 40h1M95 40h1M100 40h1M107 40h1M109 40h1M193 40h1M198 40h2M231 40h1M234 40h1M243 40h1M247 40h1M508 40h1M512 40h1M517 40h1M522 40h1M540 40h1M546 40h1M548 40h1M655 40h1M661 40h2M664 40h2M667 40h1M765 40h1M768 40h1M796 40h1M804 40h2M6 42h1M10 42h1M18 42h1M23 42h1M25 42h3M53 42h3M58 42h1M265 42h1M343 42h1M658 42h1M662 42h1M665 42h1M742 42h1M776 42h1M1 44h1M5 44h1M21 44h1M30 44h1M36 44h1M42 44h1M47 44h1M50 44h1M52 44h1M58 44h2M323 44h2M343 44h1M485 44h1M500 44h1M514 44h3M521 44h1M533 44h1M577 44h1M595 44h1M651 44h1M654 44h1M742 44h1M779 44h3M826 44h1M830 44h2M11 46h1M13 46h1M15 46h1M96 46h1M99 46h1M106 46h1M127 46h1M148 46h1M161 46h1M173 46h2M176 46h1M179 46h1M187 46h1M191 46h2M194 46h1M202 46h1M204 46h1M206 46h1M211 46h1M224 46h1M226 46h1M246 46h2M261 46h1M263 46h1M274 46h1M297 46h1M301 46h1M308 46h1M319 46h2M328 46h1M331 46h2M367 46h1M385 46h2M392 46h2M399 46h1M407 46h1M468 46h1M570 46h1M572 46h1M574 46h1M580 46h1M594 46h1M596 46h1M602 46h4M607 46h1M611 46h2M645 46h3M686 46h1M696 46h1M698 46h1M0 48h1M5 48h2M23 48h1M30 48h1M33 48h1M48 48h1M66 48h2M69 48h1M81 48h1M84 48h3M98 48h2M117 48h1M129 48h2M133 48h2M144 48h1M148 48h2M159 48h1M165 48h1M172 48h1M196 48h1M211 48h1M213 48h1M218 48h1M223 48h1M228 48h1M230 48h4M240 48h1M246 48h1M268 48h2M272 48h2M275 48h1M277 48h1M287 48h1M299 48h1M312 48h1M321 48h3M331 48h1M334 48h2M360 48h1M363 48h1M378 48h1M382 48h2M386 48h1M410 48h1M413 48h1M456 48h1M461 48h3M490 48h2M601 48h1M605 48h1M607 48h1M617 48h1M633 48h1M642 48h1M685 48h1M700 48h1M707 48h1M717 48h1M720 48h3M735 48h1M771 48h2M662 50h1M668 50h1M673 50h1M704 50h1M709 50h1M719 50h2M722 50h2M729 50h1M749 50h2M753 50h1M94 52h1M98 52h1M112 52h1M399 52h2M405 52h1M623 52h1M2 54h1M4 54h1M24 54h1M31 54h1M76 54h1M471 54h1M477 54h1M601 54h1M603 54h1M607 54h1M613 54h2M617 54h1M622 54h1M624 54h1M559 56h1M566 56h1M600 56h1M609 56h1M613 56h2M621 56h1M627 56h1M635 56h2M647 56h1M675 56h3M679 56h1M712 56h1M716 56h1M718 56h1M116 58h1M120 58h1M136 58h1M151 58h1M158 58h1M395 58h1M402 58h1M466 58h1M488 58h1M493 58h1M556 58h2M719 58h1M139 60h2M163 60h3M173 60h1M178 60h1M180 60h1M185 60h1M190 60h2M207 60h1M210 60h1M215 60h1M220 60h2M233 60h1M243 60h1M252 60h1M259 60h1M265 60h1M407 60h1M467 60h1M574 60h1M577 60h1M581 60h1M620 60h1M622 60h1M637 60h1M667 60h1M669 60h1M673 60h3M688 60h1M693 60h2M16 62h2M30 62h1M34 62h1M78 62h1M102 62h1M109 62h1M126 62h2M135 62h1M137 62h1M176 62h1M181 62h2M186 62h1M217 62h1M219 62h1M227 62h1M231 62h1M241 62h2M251 62h2M256 62h4M262 62h1M265 62h1M281 62h1M285 62h1M287 62h1M297 62h1M305 62h2M317 62h1M320 62h1M330 62h1M352 62h4M359 62h1M365 62h1M368 62h1M370 62h1M395 62h2M398 62h2M409 62h1M413 62h1M420 62h2M426 62h2M429 62h1M432 62h1M434 62h1M439 62h1M444 62h1M460 62h1M466 62h1M468 62h1M485 62h1M488 62h1M513 62h1M546 62h1M560 62h1M562 62h1M571 62h2M589 62h1M598 62h2M601 62h1M603 62h1M725 62h1M727 62h1M738 62h1M740 62h1M761 62h1M763 62h1M767 62h1M775 62h2M782 62h1M786 62h1M814 62h1M72 64h1M82 64h1M87 64h2M92 64h1M121 64h1M127 64h1M132 64h1M135 64h2M138 64h2M150 64h1M156 64h1M159 64h1M174 64h1M176 64h1M188 64h1M198 64h2M202 64h1M206 64h1M210 64h1M262 64h1M268 64h1M272 64h1M275 64h1M301 64h1M320 64h1M332 64h1M339 64h1M342 64h1M359 64h1M370 64h1M374 64h3M390 64h1M406 64h1M413 64h1M416 64h1M432 64h1M434 64h1M438 64h1M442 64h2M460 64h1M469 64h1M480 64h1M484 64h1M516 64h2M561 64h1M563 64h1M1 66h1M15 66h1M56 66h1M74 66h1M79 66h1M96 66h1M101 66h2M129 66h1M139 66h1M147 66h1M149 66h2M156 66h1M160 66h1M172 66h1M175 66h1M179 66h2M183 66h1M191 66h1M207 66h1M211 66h1M226 66h1M229 66h1M232 66h1M244 66h1M247 66h1M258 66h1M275 66h1M286 66h1M289 66h1M294 66h1M296 66h1M298 66h2M301 66h2M330 66h1M332 66h1M337 66h1M343 66h1M365 66h2M375 66h1M389 66h1M393 66h2M414 66h1M416 66h1M422 66h2M426 66h1M432 66h1M435 66h1M437 66h1M444 66h2M449 66h1M452 66h1M455 66h2M465 66h2M468 66h1M471 66h1M473 66h1M484 66h2M491 66h1M495 66h1M767 66h1M777 66h1M14 68h1M17 68h1M31 68h1M33 68h1M36 68h2M39 68h1M43 68h2M52 68h2M61 68h1M71 68h1M76 68h1M82 68h1M94 68h1M96 68h1M105 68h1M111 68h1M113 68h1M132 68h2M155 68h1M185 68h1M187 68h2M194 68h1M199 68h1M206 68h1M210 68h1M220 68h1M229 68h1M244 68h2M268 68h1M320 68h1M323 68h1M330 68h1M332 68h1M341 68h1M348 68h1M384 68h1M389 68h1M572 68h1M602 68h1M613 68h2M618 68h1M632 68h1M639 68h1M649 68h1M651 68h1M665 68h1M681 68h1M739 68h1M800 68h1M808 68h1M14 70h1M24 70h1M28 70h2M32 70h1M37 70h3M45 70h3M49 70h1M92 70h1M94 70h3M104 70h1M112 70h1M115 70h2M118 70h2M127 70h2M131 70h1M133 70h2M137 70h1M155 70h3M169 70h1M230 70h2M270 70h1M289 70h5M303 70h1M313 70h1M319 70h1M335 70h1M345 70h1M387 70h1M390 70h1M395 70h1M399 70h1M402 70h2M506 70h1M589 70h3M594 70h1M598 70h1M605 70h1M614 70h3M640 70h1M651 70h1M656 70h2M669 70h1M674 70h1M676 70h1M682 70h2M686 70h3M315 72h1M317 72h1M319 72h1M322 72h1M332 72h1M340 72h1M344 72h3M570 72h1M651 72h1M680 72h1M682 72h1M696 72h1M698 72h2M711 72h1M715 72h3M729 72h1M732 72h2M745 72h1M768 72h3M821 72h1M831 72h1M75 74h1M80 74h1M138 74h1M147 74h1M208 74h1M216 74h1M219 74h1M246 74h1M273 74h1M283 74h1M298 74h2M307 74h1M309 74h1M325 74h2M330 74h1M334 74h1M336 74h1M351 74h1M353 74h1M355 74h1M359 74h2M366 74h1M378 74h2M383 74h1M395 74h1M399 74h1M428 74h1M437 74h1M478 74h1M481 74h1M498 74h1M503 74h1M513 74h1M571 74h1M577 74h1M579 74h2M589 74h1M596 74h1M600 74h2M615 74h1M617 74h1M623 74h1M625 74h2M633 74h1M644 74h1M650 74h1M658 74h1M730 74h1M792 74h2M802 74h2M810 74h1M823 74h1M826 74h1M835 74h1M125 76h1M140 76h1M151 76h1M154 76h1M171 76h1M177 76h1M182 76h1M191 76h1M195 76h1M204 76h1M226 76h1M229 76h1M264 76h2M277 76h1M281 76h1M288 76h1M292 76h1M294 76h1M296 76h1M305 76h1M354 76h2M362 76h1M369 76h1M386 76h2M390 76h1M392 76h1M395 76h2M402 76h2M414 76h1M417 76h1M426 76h1M428 76h1M436 76h1M491 76h1M572 76h1M595 76h1M634 76h1M640 76h1M646 76h1M652 76h1M664 76h1M669 76h2M681 76h1M683 76h1M721 76h1M779 76h1M794 76h1M815 76h1M818 76h2M59 78h2M90 78h2M176 78h1M182 78h1M187 78h1M196 78h1M204 78h1M216 78h1M221 78h1M262 78h2M270 78h1M273 78h1M296 78h1M304 78h2M307 78h1M312 78h1M364 78h1M367 78h1M429 78h1M452 78h1M462 78h1M569 78h1M603 78h1M616 78h1M635 78h1M640 78h2M652 78h1M654 78h1M660 78h2M667 78h2M681 78h1M684 78h1M722 78h1M754 78h1M772 78h1M783 78h1M10 80h2M16 80h1M25 80h1M39 80h2M43 80h1M48 80h1M50 80h1M53 80h1M59 80h1M63 80h3M91 80h1M93 80h1M95 80h1M140 80h1M167 80h2M174 80h1M181 80h1M189 80h1M201 80h1M214 80h1M217 80h1M253 80h1M260 80h1M279 80h1M282 80h1M287 80h1M297 80h1M311 80h1M317 80h1M336 80h1M342 80h2M346 80h1M348 80h2M357 80h1M370 80h3M376 80h1M404 80h2M417 80h1M462 80h1M579 80h1M581 80h1M583 80h1M585 80h1M594 80h1M601 80h1M610 80h1M695 80h1M775 80h1M780 80h1M785 80h1M21 82h1M217 82h1M260 82h2M275 82h1M283 82h1M285 82h1M287 82h1M299 82h1M307 82h1M319 82h2M325 82h1M331 82h1M334 82h1M351 82h1M353 82h2M358 82h1M367 82h2M371 82h1M373 82h2M379 82h1M407 82h1M415 82h1M455 82h1M474 82h2M495 82h1M507 82h1M575 82h1M583 82h1M585 82h1M588 82h1M592 82h1M600 82h1M614 82h1M617 82h1M651 82h1M663 82h1M669 82h1M673 82h1M684 82h1M24 84h1M38 84h1M84 84h1M225 84h1M244 84h1M272 84h1M296 84h1M299 84h1M316 84h1M321 84h1M323 84h1M333 84h1M358 84h1M367 84h2M371 84h2M376 84h1M381 84h1M389 84h2M392 84h1M401 84h1M416 84h2M439 84h1M449 84h2M453 84h1M480 84h2M487 84h1M493 84h1M497 84h1M503 84h1M514 84h1M557 84h1M567 84h1M569 84h1M576 84h1M578 84h1M583 84h1M586 84h1M593 84h1M610 84h1M612 84h1M625 84h1M627 84h1M638 84h2M650 84h1M657 84h1M663 84h1M685 84h1M687 84h1M692 84h1M242 86h1M245 86h1M285 86h1M294 86h1M315 86h2M321 86h1M326 86h3M355 86h1M357 86h1M360 86h1M363 86h1M368 86h1M370 86h1M385 86h1M399 86h1M408 86h1M414 86h1M416 86h2M420 86h1M428 86h1M435 86h1M450 86h1M458 86h1M461 86h1M464 86h2M467 86h2M475 86h1M489 86h1M492 86h1M497 86h1M502 86h1M504 86h1M546 86h2M549 86h1M551 86h1M573 86h1M581 86h1M591 86h1M613 86h1M635 86h1M643 86h1M649 86h1M657 86h1M671 86h1M676 86h1M681 86h1M683 86h2M691 86h1M693 86h1M709 86h1M711 86h1M750 86h1M755 86h1M764 86h1M790 86h1M803 86h1M828 86h1M835 86h1M21 88h2M47 88h1M49 88h1M54 88h1M118 88h1M139 88h1M145 88h1M168 88h2M171 88h1M183 88h1M205 88h2M244 88h1M267 88h1M279 88h1M284 88h4M319 88h1M324 88h1M349 88h3M421 88h1M427 88h1M432 88h1M485 88h1M488 88h1M491 88h1M527 88h1M599 88h1M601 88h2M631 88h1M639 88h1M656 88h2M667 88h1M677 88h1M690 88h2M746 88h1M748 88h1M758 88h1M785 88h1M787 88h1M791 88h1M807 88h1M818 88h1M821 88h4M827 88h1M74 90h1M78 90h1M104 90h1M120 90h2M148 90h1M172 90h1M186 90h1M190 90h1M199 90h1M238 90h2M253 90h1M283 90h1M288 90h1M315 90h1M337 90h1M339 90h1M345 90h1M355 90h1M390 90h1M400 90h1M458 90h1M516 90h1M521 90h1M576 90h1M594 90h1M597 90h1M607 90h1M610 90h1M612 90h1M619 90h1M641 90h1M646 90h1M655 90h1M666 90h4M671 90h1M673 90h3M684 90h1M742 90h2M760 90h2M775 90h1M53 92h1M80 92h1M103 92h1M111 92h1M121 92h1M129 92h1M140 92h1M149 92h1M157 92h1M159 92h1M162 92h2M181 92h1M184 92h1M188 92h1M190 92h2M206 92h1M251 92h1M253 92h1M302 92h1M308 92h1M312 92h1M335 92h1M400 92h1M430 92h1M452 92h2M455 92h1M465 92h1M511 92h1M519 92h1M575 92h2M590 92h3M598 92h1M604 92h1M620 92h1M625 92h1M632 92h2M643 92h1M647 92h2M679 92h1M682 92h1M732 92h1M734 92h2M752 92h1M758 92h1M775 92h1M828 92h1M832 92h1M728 94h1M0 96h1M2 96h1M4 96h2M22 96h2M26 96h4M33 96h2M42 96h1M59 96h1M61 96h1M63 96h1M69 96h1M71 96h1M87 96h1M91 96h1M95 96h1M98 96h2M101 96h1M114 96h1M135 96h1M150 96h1M154 96h1M157 96h1M173 96h2M178 96h1M193 96h1M216 96h1M223 96h2M227 96h1M229 96h1M231 96h1M233 96h1M245 96h1M254 96h1M256 96h2M264 96h1M277 96h1M281 96h1M301 96h1M303 96h1M308 96h1M313 96h1M316 96h3M320 96h2M323 96h1M327 96h1M356 96h1M360 96h1M366 96h1M373 96h3M377 96h2M408 96h1M421 96h1M438 96h2M469 96h1M477 96h1M527 96h1M531 96h1M540 96h1M546 96h1M564 96h1M570 96h1M643 96h2M656 96h1M661 96h1M667 96h1M682 96h2M194 98h1M236 98h1M384 98h1M471 98h1M581 98h1M646 98h1M648 98h1M658 98h1M664 98h1M686 98h1M692 98h1M11 100h1M14 100h1M47 100h1M53 100h1M56 100h1M108 100h1M114 100h1M135 100h1M144 100h1M316 100h1M326 100h1M400 100h1M406 100h1M412 100h1M415 100h1M430 100h1M486 100h1M534 100h1M43 102h1M428 102h1M440 102h1M443 102h1M106 104h1M114 104h1M138 104h1M167 104h1M171 104h1M273 104h1M470 104h1M714 104h1M718 104h1M728 104h1M738 104h2M741 104h1M743 104h1M749 104h1M752 104h1M760 104h1M768 104h1M774 104h2M791 104h1M794 104h3M815 104h1M818 104h1M825 104h1M829 104h1M834 104h1M1 106h1M6 106h1M12 106h1M27 106h1M32 106h1M35 106h1M43 106h1M57 106h1M100 106h1M120 106h1M143 106h1M205 106h1M212 106h1M214 106h1M219 106h2M229 106h1M234 106h1M238 106h1M247 106h4M265 106h1M286 106h1M303 106h1M324 106h1M336 106h1M343 106h1M370 106h1M385 106h1M421 106h1M426 106h1M440 106h1M442 106h1M444 106h1M491 106h1M531 106h1M665 106h2M669 106h1M681 106h1M683 106h1M693 106h1M703 106h2M708 106h1"/>
<path stroke="#00005d" d="M0 0h1M3 0h1M171 0h1M227 0h1M281 0h1M285 0h1M291 0h1M300 0h1M429 0h1M431 0h4M438 0h3M443 0h1M447 0h1M451 0h1M453 0h4M465 0h1M467 0h2M476 0h1M495 0h1M498 0h1M503 0h1M518 0h1M520 0h1M522 0h2M535 0h1M539 0h2M545 0h1M547 0h3M555 0h1M561 0h2M564 0h1M566 0h1M574 0h3M579 0h1M617 0h1M620 0h2M625 0h1M636 0h1M652 0h2M657 0h1M661 0h2M664 0h1M668 0h1M702 0h1M718 0h1M721 0h1M727 0h1M730 0h1M734 0h1M739 0h1M743 0h1M754 0h2M761 0h1M763 0h1M769 0h1M772 0h2M783 0h1M786 0h1M802 0h1M820 0h2M825 0h1M830 0h1M0 2h1M171 2h1M185 2h2M291 2h1M300 2h1M360 2h1M415 2h1M429 2h1M431 2h3M438 2h1M443 2h1M451 2h1M453 2h2M456 2h1M467 2h1M511 2h2M518 2h1M520 2h1M535 2h1M544 2h1M554 2h1M567 2h1M575 2h1M580 2h1M592 2h1M617 2h1M620 2h2M626 2h1M636 2h1M650 2h1M651 4h1M1 6h1M3 6h1M96 6h1M110 6h1M170 6h3M315 6h1M320 6h1M587 6h1M591 6h2M650 6h1M72 8h1M104 8h1M109 8h1M162 8h1M266 8h1M269 8h1M382 8h1M440 8h1M550 8h1M574 8h1M577 8h1M581 8h2M608 8h1M61 10h2M123 10h1M145 10h1M150 10h1M168 10h1M196 10h1M202 10h1M204 10h1M256 10h1M258 10h1M283 10h2M293 10h1M295 10h1M371 10h1M373 10h1M391 10h2M394 10h1M397 10h1M420 10h1M425 10h1M430 10h1M458 10h1M485 10h1M533 10h1M559 10h1M563 10h1M568 10h2M596 10h1M621 10h4M46 12h2M61 12h1M73 12h2M78 12h2M85 12h1M87 12h1M94 12h1M158 12h1M168 12h1M188 12h1M223 12h2M230 12h1M263 12h1M265 12h1M285 12h1M287 12h1M290 12h1M293 12h1M297 12h2M338 12h1M342 12h1M344 12h1M371 12h1M374 12h1M396 12h1M399 12h2M462 12h1M468 12h1M485 12h2M549 12h1M567 12h1M578 12h1M604 12h1M609 12h1M628 12h1M634 12h1M468 14h1M79 16h1M82 16h1M85 16h1M88 16h1M107 16h1M142 16h1M151 16h1M172 16h1M204 16h1M266 16h1M326 16h1M351 16h1M400 16h3M404 16h1M406 16h1M518 16h1M561 16h1M13 18h1M118 18h2M144 18h1M251 18h1M307 18h1M314 18h1M319 18h1M347 18h1M387 18h1M512 18h1M570 18h1M584 18h1M609 18h1M615 18h1M153 20h1M129 22h1M219 22h1M705 22h1M738 22h1M71 24h1M109 32h1M137 32h1M413 32h1M441 32h1M443 32h1M492 32h1M582 32h1M639 32h1M11 40h1M96 40h1M108 40h1M183 40h1M187 40h1M189 40h1M197 40h1M238 40h1M242 40h1M245 40h2M255 40h2M264 40h1M277 40h1M287 40h1M321 40h1M507 40h1M541 40h1M544 40h1M663 40h1M689 40h1M691 40h1M695 40h1M735 40h1M752 40h2M761 40h1M797 40h1M808 40h1M813 40h1M3 42h1M16 42h1M19 42h1M21 42h2M24 42h1M59 42h1M260 42h1M311 42h1M332 42h1M652 42h2M738 42h1M762 42h1M765 42h1M767 42h2M792 42h1M6 44h1M17 44h1M22 44h2M53 44h5M60 44h1M321 44h1M490 44h2M502 44h2M509 44h1M511 44h2M520 44h1M528 44h1M532 44h1M534 44h1M578 44h1M591 44h1M593 44h1M596 44h1M652 44h1M657 44h1M661 44h1M667 44h1M671 44h1M674 44h1M699 44h1M749 44h1M778 44h1M95 46h1M103 46h3M124 46h1M126 46h1M129 46h2M153 46h2M156 46h1M162 46h1M171 46h1M182 46h1M184 46h1M188 46h1M190 46h1M195 46h1M201 46h1M210 46h1M213 46h1M215 46h1M220 46h2M223 46h1M225 46h1M227 46h1M290 46h1M294 46h1M298 46h1M302 46h2M307 46h1M316 46h1M342 46h2M357 46h1M372 46h1M391 46h1M409 46h2M412 46h1M469 46h1M528 46h1M530 46h1M569 46h1M576 46h1M583 46h1M586 46h4M593 46h1M595 46h1M636 46h4M648 46h1M658 46h1M669 46h2M685 46h1M692 46h1M697 46h1M2 48h1M4 48h1M11 48h1M32 48h1M34 48h1M36 48h3M42 48h4M55 48h1M58 48h3M65 48h1M68 48h1M97 48h1M107 48h1M113 48h1M118 48h1M120 48h1M135 48h1M142 48h2M160 48h1M222 48h1M248 48h1M276 48h1M278 48h1M295 48h1M303 48h1M313 48h1M319 48h1M359 48h1M371 48h1M379 48h1M381 48h1M384 48h1M387 48h1M412 48h1M415 48h1M455 48h1M466 48h1M492 48h2M521 48h1M527 48h1M582 48h1M627 48h2M636 48h1M684 48h1M686 48h2M699 48h1M704 48h1M709 48h1M713 48h2M733 48h2M745 48h2M751 48h1M773 48h1M182 50h1M384 50h1M659 50h1M665 50h1M667 50h1M669 50h2M699 50h1M707 50h1M718 50h1M730 50h2M748 50h1M780 50h1M398 52h1M406 52h1M5 54h1M25 54h1M75 54h1M104 54h1M602 54h1M627 54h2M561 56h1M581 56h2M591 56h1M594 56h1M596 56h1M599 56h1M608 56h1M631 56h1M662 56h1M720 56h2M782 56h3M0 58h1M5 58h1M13 58h1M119 58h1M121 58h1M137 58h3M150 58h1M163 58h1M166 58h2M178 58h1M398 58h2M411 58h1M435 58h1M439 58h1M450 58h2M470 58h1M473 58h2M481 58h1M489 58h1M491 58h1M554 58h2M697 58h1M721 58h1M122 60h1M124 60h1M126 60h1M132 60h1M136 60h1M138 60h1M177 60h1M181 60h1M194 60h1M203 60h1M208 60h2M212 60h1M216 60h1M251 60h1M261 60h1M400 60h1M406 60h1M412 60h1M466 60h1M468 60h1M476 60h1M576 60h1M618 60h2M626 60h1M628 60h1M635 60h1M666 60h1M668 60h1M671 60h2M35 62h3M56 62h1M58 62h1M61 62h1M64 62h2M68 62h2M94 62h2M97 62h2M103 62h1M106 62h2M115 62h2M119 62h1M121 62h1M130 62h1M133 62h1M172 62h1M177 62h1M207 62h1M211 62h1M226 62h1M236 62h1M263 62h2M267 62h1M290 62h1M300 62h1M322 62h4M328 62h1M333 62h1M369 62h1M374 62h2M388 62h1M390 62h1M407 62h1M410 62h1M412 62h1M415 62h1M418 62h1M428 62h1M431 62h1M433 62h1M458 62h1M508 62h1M530 62h1M540 62h2M545 62h1M563 62h2M581 62h1M602 62h1M700 62h1M711 62h2M726 62h1M741 62h1M769 62h2M777 62h2M788 62h1M817 62h1M829 62h3M58 64h1M73 64h1M83 64h1M91 64h1M102 64h1M104 64h1M123 64h1M128 64h1M130 64h1M144 64h1M149 64h1M160 64h1M173 64h1M177 64h1M186 64h1M217 64h1M230 64h1M232 64h1M238 64h4M243 64h1M273 64h1M278 64h2M338 64h1M368 64h1M385 64h1M388 64h1M399 64h2M407 64h1M410 64h1M422 64h1M425 64h2M451 64h1M455 64h1M462 64h2M515 64h1M524 64h1M564 64h1M2 66h1M17 66h1M39 66h1M62 66h1M76 66h1M95 66h1M103 66h1M127 66h2M137 66h1M146 66h1M157 66h2M161 66h1M178 66h1M188 66h1M194 66h4M208 66h3M213 66h1M236 66h1M263 66h1M280 66h1M288 66h1M293 66h1M295 66h1M297 66h1M309 66h1M318 66h1M327 66h1M329 66h1M355 66h1M371 66h1M384 66h1M386 66h1M388 66h1M395 66h1M401 66h1M403 66h1M406 66h1M425 66h1M430 66h1M433 66h1M436 66h1M440 66h2M448 66h1M450 66h1M454 66h1M464 66h1M472 66h1M487 66h1M489 66h2M494 66h1M520 66h1M705 66h1M745 66h1M761 66h1M769 66h1M773 66h1M775 66h1M792 66h1M16 68h1M38 68h1M45 68h2M50 68h1M63 68h1M68 68h1M99 68h1M106 68h2M112 68h1M120 68h2M126 68h1M140 68h2M196 68h3M204 68h2M221 68h1M227 68h1M232 68h1M238 68h2M243 68h1M246 68h1M262 68h1M269 68h1M275 68h1M280 68h1M283 68h2M288 68h1M295 68h1M300 68h1M316 68h1M321 68h2M325 68h1M329 68h1M331 68h1M338 68h1M342 68h1M344 68h1M385 68h4M394 68h1M604 68h1M660 68h1M663 68h1M666 68h1M694 68h1M705 68h1M713 68h1M740 68h1M742 68h1M762 68h1M775 68h1M799 68h1M801 68h1M803 68h3M17 70h3M35 70h2M48 70h1M62 70h2M65 70h1M67 70h1M98 70h1M100 70h3M124 70h1M153 70h2M232 70h1M295 70h1M302 70h1M311 70h1M314 70h1M316 70h1M332 70h1M338 70h1M344 70h1M348 70h1M384 70h3M404 70h1M407 70h1M494 70h1M496 70h1M505 70h1M507 70h1M559 70h1M569 70h1M623 70h1M638 70h2M652 70h1M658 70h1M664 70h1M667 70h2M672 70h1M689 70h1M803 70h1M808 70h1M301 72h2M309 72h1M323 72h1M327 72h1M329 72h1M342 72h1M635 72h1M649 72h1M653 72h1M697 72h1M712 72h3M718 72h1M720 72h1M731 72h1M734 72h1M1 74h1M6 74h1M56 74h1M79 74h1M148 74h1M150 74h1M187 74h1M198 74h1M200 74h1M206 74h2M218 74h1M247 74h1M270 74h1M276 74h1M281 74h2M288 74h1M297 74h1M316 74h2M319 74h1M321 74h4M332 74h1M337 74h1M354 74h1M356 74h1M370 74h1M372 74h1M384 74h2M387 74h1M419 74h1M434 74h1M442 74h1M451 74h2M482 74h1M494 74h1M497 74h1M500 74h1M574 74h1M649 74h1M664 74h1M715 74h1M718 74h1M728 74h1M761 74h2M769 74h1M776 74h1M779 74h1M787 74h1M807 74h1M824 74h2M56 76h1M60 76h1M123 76h1M148 76h2M155 76h2M174 76h1M178 76h1M184 76h1M190 76h1M194 76h1M198 76h1M200 76h1M214 76h1M225 76h1M234 76h1M283 76h1M287 76h1M291 76h1M295 76h1M298 76h1M304 76h1M310 76h1M312 76h1M351 76h1M363 76h3M376 76h1M381 76h1M383 76h2M391 76h1M397 76h3M404 76h3M416 76h1M427 76h1M429 76h1M439 76h1M441 76h1M447 76h1M453 76h2M458 76h1M460 76h2M523 76h1M561 76h1M571 76h1M574 76h1M578 76h1M590 76h2M635 76h2M638 76h1M641 76h1M648 76h2M658 76h4M668 76h1M692 76h1M695 76h1M699 76h4M707 76h1M717 76h1M723 76h1M766 76h1M768 76h1M803 76h1M812 76h1M814 76h1M820 76h1M823 76h1M826 76h1M830 76h1M835 76h1M56 78h1M62 78h2M86 78h2M144 78h1M148 78h1M154 78h1M156 78h1M158 78h1M166 78h3M183 78h1M200 78h1M218 78h3M277 78h1M280 78h3M286 78h1M295 78h1M297 78h1M315 78h3M319 78h1M363 78h1M451 78h1M461 78h1M566 78h1M578 78h1M580 78h1M589 78h1M592 78h1M602 78h1M614 78h2M618 78h1M638 78h1M653 78h1M664 78h1M678 78h1M685 78h1M687 78h1M692 78h1M699 78h1M716 78h1M724 78h1M726 78h1M753 78h1M765 78h1M767 78h1M771 78h1M773 78h1M15 80h1M22 80h1M33 80h1M49 80h1M62 80h1M66 80h1M71 80h2M78 80h1M81 80h4M96 80h1M146 80h1M161 80h1M163 80h3M178 80h2M182 80h4M192 80h1M199 80h2M203 80h1M209 80h1M215 80h1M218 80h1M229 80h1M276 80h2M281 80h1M302 80h1M318 80h2M350 80h3M354 80h2M358 80h1M369 80h1M373 80h1M378 80h2M386 80h1M412 80h1M418 80h1M513 80h1M564 80h1M572 80h2M586 80h1M588 80h1M595 80h1M720 80h1M726 80h1M732 80h3M747 80h1M749 80h2M754 80h1M776 80h1M787 80h2M22 82h1M24 82h1M51 82h1M139 82h1M141 82h1M156 82h3M218 82h1M238 82h1M252 82h1M276 82h1M288 82h1M303 82h1M316 82h2M321 82h1M326 82h1M352 82h1M370 82h1M378 82h1M397 82h1M411 82h1M423 82h1M429 82h2M435 82h1M452 82h1M454 82h1M457 82h1M460 82h1M597 82h1M603 82h2M615 82h1M652 82h1M655 82h3M660 82h2M668 82h1M672 82h1M25 84h1M140 84h1M221 84h1M224 84h1M240 84h1M271 84h1M273 84h1M286 84h1M290 84h1M300 84h1M302 84h1M305 84h1M312 84h1M326 84h1M355 84h1M363 84h2M380 84h1M384 84h1M393 84h1M411 84h1M458 84h1M488 84h1M498 84h1M502 84h1M505 84h1M507 84h1M512 84h1M515 84h1M560 84h1M566 84h1M573 84h1M577 84h1M601 84h1M605 84h1M617 84h1M644 84h2M651 84h2M654 84h1M656 84h1M660 84h1M693 84h1M38 86h1M238 86h1M250 86h2M264 86h1M267 86h1M278 86h1M298 86h1M319 86h1M348 86h2M359 86h1M369 86h1M377 86h1M382 86h1M386 86h1M390 86h1M405 86h1M418 86h2M421 86h2M427 86h1M446 86h2M453 86h1M463 86h1M466 86h1M469 86h1M472 86h3M539 86h1M542 86h1M580 86h1M588 86h1M598 86h1M629 86h2M633 86h1M637 86h1M644 86h2M647 86h1M679 86h1M682 86h1M685 86h1M687 86h1M710 86h1M715 86h1M756 86h1M759 86h1M765 86h1M792 86h1M814 86h1M822 86h2M834 86h1M105 88h1M119 88h1M123 88h2M127 88h1M135 88h2M147 88h3M155 88h1M164 88h3M185 88h1M189 88h1M212 88h1M216 88h1M218 88h2M243 88h1M250 88h1M256 88h1M266 88h1M268 88h1M294 88h2M305 88h1M310 88h2M315 88h1M318 88h1M320 88h2M325 88h1M330 88h2M344 88h1M347 88h1M355 88h1M359 88h1M383 88h1M395 88h1M413 88h1M449 88h1M468 88h1M487 88h1M502 88h1M506 88h2M557 88h1M598 88h1M605 88h2M610 88h1M612 88h1M614 88h1M622 88h1M640 88h1M647 88h1M649 88h1M663 88h2M668 88h1M670 88h1M673 88h2M676 88h1M678 88h1M687 88h1M697 88h1M710 88h1M714 88h1M745 88h1M751 88h1M754 88h1M780 88h1M797 88h1M819 88h1M825 88h1M19 90h1M52 90h1M62 90h1M75 90h1M79 90h1M83 90h1M107 90h2M125 90h1M149 90h1M191 90h2M195 90h1M200 90h2M210 90h2M213 90h1M246 90h1M254 90h1M268 90h1M271 90h1M275 90h1M279 90h2M284 90h1M286 90h1M304 90h1M314 90h1M329 90h1M344 90h1M356 90h1M366 90h1M434 90h1M440 90h2M454 90h1M456 90h1M515 90h1M520 90h1M536 90h1M548 90h2M556 90h1M558 90h1M577 90h1M586 90h1M618 90h1M630 90h1M642 90h1M654 90h1M663 90h2M676 90h2M686 90h1M713 90h2M739 90h1M741 90h1M744 90h1M746 90h1M756 90h1M759 90h1M764 90h4M779 90h1M783 90h2M786 90h2M792 90h1M796 90h1M19 92h2M81 92h2M116 92h1M122 92h1M189 92h1M194 92h1M196 92h1M239 92h1M250 92h1M252 92h1M255 92h2M266 92h2M275 92h1M295 92h1M299 92h1M315 92h1M328 92h1M330 92h1M332 92h2M339 92h1M346 92h1M362 92h2M369 92h1M405 92h1M429 92h1M451 92h1M467 92h1M481 92h1M503 92h2M510 92h1M556 92h2M579 92h1M581 92h1M594 92h1M622 92h1M644 92h1M661 92h1M684 92h1M686 92h1M728 92h4M733 92h1M742 92h1M756 92h1M761 92h1M792 92h1M804 92h1M725 94h2M729 94h1M761 94h1M768 94h1M772 94h1M782 94h1M784 94h1M789 94h1M35 96h3M62 96h1M70 96h1M72 96h2M90 96h1M110 96h1M136 96h1M138 96h1M151 96h2M172 96h1M175 96h1M217 96h1M225 96h2M237 96h1M249 96h3M253 96h1M255 96h1M262 96h1M302 96h1M304 96h1M306 96h2M310 96h1M319 96h1M358 96h1M361 96h2M364 96h1M368 96h1M409 96h3M423 96h1M483 96h1M487 96h1M497 96h1M512 96h1M520 96h1M536 96h1M553 96h1M565 96h2M568 96h2M571 96h2M581 96h1M589 96h2M645 96h1M653 96h2M668 96h1M684 96h1M152 98h1M175 98h1M208 98h1M245 98h1M251 98h1M344 98h1M569 98h1M580 98h1M582 98h1M592 98h1M615 98h3M641 98h1M643 98h1M650 98h2M653 98h3M660 98h1M668 98h1M672 98h1M674 98h2M682 98h1M689 98h1M29 100h1M104 100h1M323 100h1M357 100h1M394 100h1M403 100h1M409 100h1M22 102h1M34 102h1M40 102h1M395 102h1M398 102h1M12 104h1M99 104h1M115 104h2M118 104h3M122 104h1M143 104h1M168 104h1M175 104h1M285 104h1M288 104h1M293 104h1M328 104h1M370 104h1M473 104h1M626 104h1M719 104h1M726 104h2M729 104h1M736 104h2M744 104h1M754 104h1M761 104h1M763 104h1M769 104h2M776 104h1M779 104h1M809 104h1M835 104h1M5 106h1M19 106h1M25 106h1M39 106h3M82 106h1M99 106h1M104 106h1M107 106h1M112 106h1M121 106h1M124 106h1M128 106h1M158 106h2M161 106h1M164 106h1M171 106h1M187 106h1M199 106h1M218 106h1M236 106h1M259 106h1M266 106h1M284 106h1M301 106h1M304 106h4M334 106h1M337 106h2M342 106h1M419 106h1M427 106h3M436 106h1M447 106h1M535 106h1M541 106h1M548 106h1M553 106h1M574 106h1M591 106h1M593 106h1M596 106h1M626 106h1M632 106h1M667 106h1M671 106h1M675 106h1M684 106h2M696 106h1M815 106h1M836 106h1"/>
<path stroke="#00007c" d="M9 0h1M18 0h1M23 0h2M71 0h1M100 0h1M104 0h1M132 0h1M142 0h1M148 0h1M159 0h1M170 0h1M172 0h1M179 0h1M185 0h1M190 0h1M213 0h1M215 0h1M226 0h1M245 0h1M254 0h2M266 0h2M273 0h2M280 0h1M283 0h1M287 0h1M290 0h1M292 0h2M297 0h3M302 0h2M308 0h1M319 0h1M328 0h1M360 0h2M366 0h1M368 0h1M371 0h1M374 0h1M378 0h1M405 0h1M415 0h1M419 0h3M427 0h2M430 0h1M436 0h1M444 0h1M448 0h1M452 0h1M457 0h1M461 0h2M464 0h1M466 0h1M471 0h2M494 0h1M497 0h1M499 0h1M507 0h2M510 0h6M517 0h1M521 0h1M525 0h5M532 0h1M534 0h1M536 0h3M541 0h1M544 0h1M546 0h1M552 0h3M556 0h2M559 0h1M563 0h1M567 0h1M577 0h1M580 0h1M586 0h1M589 0h1M591 0h2M596 0h2M601 0h1M604 0h6M612 0h1M616 0h1M622 0h2M626 0h2M637 0h1M639 0h2M642 0h5M654 0h1M660 0h1M672 0h2M677 0h1M680 0h2M690 0h1M697 0h1M703 0h2M716 0h2M719 0h2M722 0h2M726 0h1M728 0h2M733 0h1M735 0h1M737 0h1M751 0h1M756 0h1M759 0h1M764 0h1M770 0h2M778 0h2M782 0h1M784 0h1M787 0h1M789 0h3M794 0h1M796 0h1M809 0h2M816 0h2M832 0h1M834 0h1M23 2h2M141 2h2M170 2h1M172 2h1M179 2h1M226 2h2M285 2h1M293 2h1M297 2h3M302 2h1M328 2h1M361 2h1M363 2h1M368 2h1M375 2h1M405 2h1M412 2h2M421 2h1M427 2h2M430 2h1M436 2h1M439 2h2M447 2h1M452 2h1M455 2h1M462 2h1M464 2h2M468 2h1M472 2h1M476 2h1M478 2h1M480 2h2M495 2h1M498 2h1M503 2h1M508 2h1M513 2h2M522 2h1M526 2h2M529 2h1M536 2h1M538 2h2M541 2h1M545 2h3M549 2h1M552 2h2M555 2h1M561 2h1M563 2h1M574 2h1M577 2h2M586 2h1M591 2h1M596 2h2M601 2h2M604 2h1M608 2h1M622 2h2M627 2h1M637 2h1M640 2h1M642 2h1M646 2h1M651 2h1M649 4h1M15 6h1M65 6h2M91 6h1M95 6h1M112 6h1M169 6h1M319 6h1M472 6h1M474 6h1M477 6h1M479 6h3M535 6h2M564 6h1M566 6h1M586 6h1M588 6h3M599 6h1M627 6h1M127 8h1M137 8h1M160 8h1M163 8h1M267 8h1M300 8h1M381 8h1M383 8h3M439 8h1M443 8h1M462 8h1M544 8h1M549 8h1M572 8h1M575 8h1M611 8h1M60 10h1M70 10h1M100 10h1M148 10h2M169 10h2M178 10h1M187 10h1M223 10h2M257 10h1M259 10h1M265 10h1M271 10h1M286 10h2M297 10h2M317 10h1M364 10h3M370 10h1M399 10h1M423 10h2M483 10h1M510 10h1M513 10h1M541 10h1M561 10h1M565 10h1M567 10h1M49 12h1M60 12h1M77 12h1M80 12h1M84 12h1M119 12h1M121 12h1M146 12h2M167 12h1M169 12h1M175 12h1M182 12h1M196 12h1M226 12h1M232 12h1M241 12h1M243 12h1M251 12h2M258 12h1M262 12h1M269 12h1M301 12h1M308 12h1M314 12h1M316 12h2M335 12h1M337 12h1M340 12h1M345 12h2M369 12h1M379 12h1M382 12h1M394 12h1M401 12h2M466 12h1M502 12h1M514 12h1M535 12h2M570 12h1M574 12h1M577 12h1M583 12h1M603 12h1M608 12h1M616 12h1M624 12h1M7 16h1M10 16h1M13 16h1M71 16h1M80 16h1M83 16h2M86 16h1M89 16h1M92 16h1M106 16h1M114 16h1M120 16h1M132 16h4M138 16h1M141 16h1M143 16h1M146 16h1M174 16h1M176 16h1M252 16h1M258 16h1M325 16h1M339 16h1M350 16h1M364 16h1M366 16h1M373 16h1M375 16h1M386 16h1M392 16h1M399 16h1M413 16h1M0 18h2M9 18h1M70 18h1M120 18h1M124 18h1M140 18h1M142 18h1M152 18h2M170 18h1M178 18h1M208 18h1M223 18h1M225 18h2M259 18h2M291 18h1M306 18h1M339 18h1M363 18h1M369 18h1M375 18h2M388 18h1M431 18h1M508 18h2M610 18h1M679 18h2M495 20h1M638 20h1M128 22h1M220 22h1M405 22h1M704 22h1M706 22h1M72 24h1M71 26h1M271 32h1M758 32h1M760 32h1M706 38h1M15 40h1M64 40h2M74 40h1M82 40h1M84 40h2M94 40h1M102 40h2M191 40h2M196 40h1M230 40h1M233 40h1M235 40h1M237 40h1M240 40h1M248 40h1M254 40h1M257 40h1M260 40h1M263 40h1M265 40h1M288 40h1M323 40h1M506 40h1M536 40h1M657 40h1M660 40h1M736 40h1M742 40h1M747 40h1M749 40h1M762 40h1M803 40h1M810 40h3M814 40h1M2 42h1M4 42h1M7 42h1M20 42h1M189 42h1M221 42h3M259 42h1M277 42h2M310 42h1M323 42h3M659 42h1M666 42h1M668 42h1M761 42h1M763 42h1M766 42h1M781 42h1M9 44h1M20 44h1M26 44h1M34 44h2M45 44h2M51 44h1M209 44h1M300 44h1M320 44h1M325 44h1M331 44h1M342 44h1M475 44h3M480 44h3M486 44h2M497 44h1M499 44h1M510 44h1M519 44h1M522 44h2M526 44h1M530 44h1M575 44h1M588 44h3M592 44h1M653 44h1M656 44h1M659 44h1M670 44h1M700 44h1M741 44h1M748 44h1M753 44h1M769 44h1M835 44h1M12 46h1M101 46h2M119 46h3M131 46h1M151 46h1M166 46h1M180 46h1M214 46h1M218 46h1M234 46h1M237 46h1M242 46h1M249 46h1M251 46h1M254 46h1M269 46h2M287 46h1M304 46h3M314 46h1M318 46h1M321 46h2M330 46h1M333 46h1M344 46h1M362 46h1M373 46h2M383 46h2M387 46h1M390 46h1M396 46h1M400 46h1M408 46h1M413 46h1M456 46h1M464 46h4M529 46h1M573 46h1M584 46h2M590 46h1M653 46h1M663 46h1M671 46h1M674 46h1M687 46h1M689 46h1M691 46h1M13 48h2M16 48h1M18 48h1M22 48h1M24 48h1M29 48h1M35 48h1M39 48h1M41 48h1M46 48h1M52 48h1M56 48h2M72 48h3M87 48h1M89 48h1M96 48h1M101 48h1M109 48h1M111 48h1M131 48h2M161 48h2M164 48h1M214 48h2M249 48h1M252 48h1M259 48h2M279 48h2M283 48h2M288 48h1M290 48h3M301 48h1M329 48h1M336 48h1M357 48h2M364 48h1M385 48h1M388 48h1M409 48h1M454 48h1M457 48h1M468 48h1M498 48h1M520 48h1M522 48h1M524 48h3M529 48h1M579 48h1M602 48h2M715 48h1M738 48h1M742 48h1M747 48h2M753 48h1M768 48h1M770 48h1M774 48h2M777 48h1M382 50h1M660 50h1M671 50h1M710 50h1M715 50h1M717 50h1M728 50h1M734 50h1M754 50h1M779 50h1M782 50h1M396 52h2M0 54h1M38 54h1M61 54h1M103 54h1M623 54h1M626 54h1M595 56h1M601 56h1M605 56h3M622 56h1M625 56h1M633 56h1M673 56h1M678 56h1M680 56h1M698 56h1M725 56h1M751 56h1M781 56h1M785 56h1M787 56h2M2 58h3M7 58h1M12 58h1M14 58h2M122 58h1M124 58h2M128 58h1M131 58h2M135 58h1M144 58h1M147 58h2M159 58h2M183 58h1M397 58h1M403 58h1M405 58h1M415 58h1M417 58h1M423 58h1M432 58h3M471 58h2M475 58h1M480 58h1M490 58h1M496 58h1M698 58h1M724 58h1M735 58h1M753 58h1M771 58h1M773 58h2M116 60h1M121 60h1M176 60h1M184 60h1M187 60h1M189 60h1M192 60h1M235 60h2M239 60h1M242 60h1M249 60h1M257 60h2M264 60h1M267 60h2M410 60h1M413 60h1M451 60h1M459 60h2M465 60h1M477 60h1M623 60h1M636 60h1M665 60h1M57 62h1M73 62h1M77 62h1M96 62h1M105 62h1M117 62h2M120 62h1M124 62h1M131 62h1M134 62h1M173 62h1M184 62h1M202 62h1M229 62h1M235 62h1M266 62h1M272 62h3M280 62h1M288 62h1M292 62h1M296 62h1M301 62h1M331 62h1M379 62h1M386 62h1M414 62h1M419 62h1M423 62h1M425 62h1M437 62h2M441 62h1M465 62h1M486 62h1M509 62h3M516 62h1M529 62h1M542 62h1M554 62h1M696 62h1M701 62h1M703 62h1M723 62h2M736 62h2M768 62h1M780 62h1M783 62h3M795 62h2M813 62h1M815 62h1M818 62h1M824 62h1M832 62h1M93 64h1M103 64h1M117 64h2M131 64h1M133 64h2M147 64h1M151 64h1M157 64h1M161 64h3M212 64h1M236 64h2M242 64h1M277 64h1M331 64h1M336 64h1M355 64h1M369 64h1M377 64h2M382 64h1M384 64h1M387 64h1M401 64h1M403 64h1M405 64h1M412 64h1M423 64h1M427 64h1M444 64h2M450 64h1M452 64h1M454 64h1M456 64h2M459 64h1M468 64h1M518 64h1M520 64h4M14 66h1M32 66h2M40 66h1M43 66h1M57 66h1M60 66h1M69 66h1M94 66h1M99 66h2M142 66h4M173 66h1M182 66h1M186 66h1M206 66h1M219 66h1M227 66h1M231 66h1M233 66h1M237 66h1M243 66h1M272 66h2M278 66h1M281 66h2M287 66h1M328 66h1M331 66h1M367 66h2M374 66h1M385 66h1M397 66h1M402 66h1M407 66h1M427 66h1M431 66h1M438 66h1M442 66h2M446 66h1M453 66h1M474 66h1M488 66h1M492 66h1M521 66h1M563 66h1M702 66h3M719 66h1M729 66h1M739 66h1M741 66h1M744 66h1M755 66h1M766 66h1M768 66h1M772 66h1M774 66h1M776 66h1M778 66h1M806 66h1M34 68h2M47 68h1M49 68h1M51 68h1M56 68h1M59 68h1M64 68h1M72 68h1M74 68h1M98 68h1M117 68h1M123 68h1M130 68h1M148 68h1M151 68h1M159 68h1M182 68h1M184 68h1M192 68h2M233 68h1M241 68h2M248 68h1M263 68h1M287 68h1M301 68h1M324 68h1M328 68h1M335 68h1M390 68h1M393 68h1M395 68h1M397 68h1M408 68h1M619 68h1M647 68h1M707 68h1M710 68h3M714 68h1M743 68h3M755 68h1M761 68h1M768 68h1M802 68h1M806 68h2M5 70h1M20 70h1M31 70h1M33 70h1M64 70h1M78 70h1M97 70h1M103 70h1M117 70h1M142 70h1M175 70h1M308 70h2M328 70h1M330 70h1M334 70h1M339 70h1M346 70h2M405 70h2M495 70h1M597 70h1M602 70h1M604 70h1M617 70h1M634 70h1M647 70h1M653 70h1M684 70h2M690 70h1M695 70h1M836 70h1M308 72h1M321 72h1M331 72h1M333 72h1M338 72h1M348 72h1M700 72h1M710 72h1M719 72h1M730 72h1M744 72h1M749 72h1M766 72h2M771 72h1M784 72h1M792 72h1M799 72h1M822 72h1M830 72h1M7 74h1M9 74h1M59 74h1M63 74h1M76 74h1M121 74h1M141 74h1M146 74h1M149 74h1M172 74h1M186 74h1M191 74h2M194 74h2M215 74h1M225 74h1M239 74h1M245 74h1M268 74h1M287 74h1M303 74h1M308 74h1M315 74h1M320 74h1M331 74h1M338 74h1M342 74h2M346 74h1M352 74h1M367 74h2M386 74h1M424 74h1M426 74h2M435 74h2M438 74h1M440 74h2M450 74h1M455 74h1M477 74h1M479 74h1M495 74h1M502 74h1M512 74h1M514 74h1M590 74h1M634 74h3M642 74h1M645 74h1M653 74h1M655 74h1M671 74h1M683 74h1M708 74h1M710 74h1M716 74h1M719 74h1M731 74h1M760 74h1M767 74h2M771 74h1M777 74h1M788 74h2M795 74h1M804 74h1M809 74h1M830 74h3M834 74h1M1 76h1M87 76h2M90 76h1M124 76h1M138 76h1M142 76h1M144 76h1M152 76h2M162 76h1M172 76h2M175 76h2M183 76h1M192 76h1M205 76h1M209 76h1M212 76h1M218 76h1M221 76h2M224 76h1M227 76h2M278 76h1M284 76h2M293 76h1M297 76h1M308 76h1M352 76h1M357 76h1M361 76h1M366 76h1M368 76h1M374 76h2M377 76h2M380 76h1M419 76h1M425 76h1M433 76h3M438 76h1M455 76h1M459 76h1M462 76h2M489 76h1M493 76h1M507 76h1M510 76h2M522 76h1M526 76h1M594 76h1M617 76h1M637 76h1M639 76h1M653 76h1M655 76h1M665 76h1M671 76h1M691 76h1M706 76h1M712 76h1M716 76h1M737 76h1M764 76h2M776 76h1M788 76h1M795 76h1M801 76h1M810 76h1M833 76h2M64 78h2M79 78h2M85 78h1M88 78h1M129 78h1M140 78h3M149 78h2M165 78h1M198 78h1M205 78h1M222 78h2M253 78h2M257 78h1M267 78h2M279 78h1M294 78h1M299 78h1M318 78h1M443 78h2M448 78h2M454 78h1M463 78h1M484 78h1M567 78h1M617 78h1M665 78h2M669 78h1M672 78h1M679 78h1M688 78h1M693 78h1M696 78h1M698 78h1M717 78h2M720 78h2M723 78h1M725 78h1M728 78h1M764 78h1M766 78h1M774 78h1M778 78h1M782 78h1M784 78h2M787 78h1M789 78h1M13 80h1M20 80h1M24 80h1M26 80h1M56 80h1M60 80h1M85 80h3M90 80h1M122 80h1M124 80h2M142 80h1M147 80h1M176 80h2M188 80h1M204 80h1M210 80h1M221 80h1M228 80h1M252 80h1M261 80h1M264 80h1M271 80h1M274 80h1M286 80h1M300 80h1M316 80h1M320 80h1M329 80h2M333 80h1M366 80h1M368 80h1M387 80h1M416 80h1M458 80h1M463 80h1M466 80h1M489 80h1M562 80h2M570 80h1M575 80h4M587 80h1M597 80h3M697 80h1M699 80h1M703 80h2M719 80h1M728 80h1M746 80h1M751 80h1M753 80h1M758 80h1M764 80h2M784 80h1M786 80h1M790 80h1M20 82h1M23 82h1M25 82h1M52 82h1M55 82h1M62 82h1M138 82h1M142 82h1M146 82h1M216 82h1M221 82h1M228 82h1M230 82h1M253 82h1M264 82h1M274 82h1M277 82h1M279 82h2M282 82h1M286 82h1M300 82h1M305 82h2M315 82h1M318 82h1M332 82h1M364 82h1M387 82h1M406 82h1M410 82h1M436 82h1M451 82h1M459 82h1M467 82h1M501 82h2M586 82h1M593 82h2M596 82h1M605 82h1M611 82h2M658 82h1M662 82h1M664 82h1M667 82h1M671 82h1M724 82h1M39 84h1M83 84h1M85 84h2M212 84h1M246 84h2M250 84h1M252 84h1M254 84h1M274 84h1M283 84h1M287 84h1M310 84h2M313 84h1M328 84h3M334 84h1M351 84h1M369 84h1M375 84h1M394 84h1M410 84h1M414 84h1M440 84h1M454 84h1M467 84h1M471 84h1M495 84h1M510 84h2M570 84h1M572 84h1M587 84h2M591 84h1M596 84h2M602 84h2M606 84h1M620 84h1M643 84h1M647 84h1M658 84h1M661 84h1M686 84h1M691 84h1M694 84h1M34 86h1M140 86h1M150 86h1M152 86h1M156 86h1M239 86h2M244 86h1M246 86h2M249 86h1M253 86h1M261 86h1M263 86h1M265 86h1M269 86h2M297 86h1M305 86h1M310 86h3M350 86h1M353 86h2M358 86h1M362 86h1M380 86h2M388 86h2M396 86h1M401 86h1M429 86h1M437 86h1M449 86h1M462 86h1M471 86h1M493 86h1M495 86h1M501 86h1M543 86h1M545 86h1M550 86h1M553 86h1M566 86h2M574 86h1M582 86h1M589 86h1M603 86h1M610 86h1M616 86h1M632 86h1M654 86h2M659 86h1M686 86h1M697 86h3M726 86h1M753 86h1M763 86h1M789 86h1M791 86h1M797 86h2M800 86h3M815 86h1M820 86h1M94 88h1M97 88h1M108 88h1M144 88h1M150 88h1M159 88h1M167 88h1M190 88h1M213 88h1M246 88h2M269 88h1M276 88h1M283 88h1M288 88h1M302 88h1M306 88h2M317 88h1M332 88h1M335 88h2M348 88h1M354 88h1M366 88h1M402 88h1M405 88h1M412 88h1M414 88h1M419 88h2M426 88h1M429 88h1M433 88h1M445 88h1M458 88h1M490 88h1M505 88h1M528 88h1M532 88h1M539 88h1M556 88h1M568 88h2M586 88h1M596 88h1M611 88h1M643 88h1M662 88h1M669 88h1M688 88h1M692 88h3M698 88h1M706 88h3M738 88h2M747 88h1M749 88h1M778 88h2M803 88h1M806 88h1M808 88h1M817 88h1M826 88h1M20 90h1M63 90h1M72 90h2M76 90h2M88 90h1M94 90h1M122 90h1M127 90h1M151 90h1M153 90h3M162 90h1M187 90h1M194 90h1M198 90h1M207 90h1M240 90h1M249 90h1M258 90h1M270 90h1M272 90h1M282 90h1M299 90h1M301 90h3M307 90h1M310 90h1M328 90h1M338 90h1M341 90h1M343 90h1M357 90h1M389 90h1M402 90h1M431 90h3M453 90h1M457 90h1M482 90h1M517 90h2M532 90h1M537 90h2M540 90h1M550 90h1M559 90h1M580 90h1M593 90h1M631 90h1M649 90h1M662 90h1M672 90h1M680 90h1M685 90h1M698 90h2M735 90h1M738 90h1M740 90h1M745 90h1M771 90h1M778 90h1M782 90h1M797 90h3M804 90h1M828 90h1M831 90h1M21 92h1M102 92h1M113 92h1M134 92h1M139 92h1M146 92h1M150 92h2M158 92h1M164 92h2M168 92h1M193 92h1M197 92h1M238 92h1M257 92h1M271 92h1M274 92h1M293 92h2M296 92h1M309 92h1M318 92h1M323 92h1M327 92h1M336 92h1M351 92h1M356 92h1M383 92h1M386 92h1M389 92h1M402 92h1M418 92h1M422 92h3M441 92h3M456 92h1M458 92h1M464 92h1M475 92h3M480 92h1M482 92h1M514 92h1M516 92h2M539 92h1M543 92h1M574 92h1M587 92h1M589 92h1M593 92h1M596 92h1M623 92h1M630 92h2M646 92h1M649 92h1M685 92h1M690 92h1M709 92h1M712 92h1M736 92h1M745 92h1M753 92h1M755 92h1M759 92h2M763 92h2M767 92h1M769 92h1M785 92h3M813 92h1M822 92h1M831 92h1M722 94h1M724 94h1M727 94h1M753 94h1M757 94h1M771 94h1M781 94h1M788 94h1M30 96h2M39 96h1M89 96h1M137 96h1M159 96h1M162 96h3M176 96h2M236 96h1M252 96h1M258 96h4M278 96h1M300 96h1M305 96h1M357 96h1M359 96h1M367 96h1M478 96h3M486 96h1M488 96h1M494 96h1M513 96h1M517 96h3M539 96h1M555 96h2M567 96h1M576 96h1M580 96h1M582 96h1M592 96h1M600 96h2M605 96h1M634 96h1M641 96h1M646 96h2M651 96h1M655 96h1M658 96h1M662 96h1M673 96h3M681 96h1M685 96h1M793 96h2M565 98h2M577 98h1M591 98h1M619 98h1M638 98h3M644 98h2M649 98h1M659 98h1M673 98h1M679 98h1M693 98h1M367 100h1M3 104h1M107 104h1M112 104h2M117 104h1M161 104h1M176 104h1M180 104h1M272 104h1M274 104h1M282 104h2M286 104h2M289 104h1M292 104h1M294 104h1M296 104h1M302 104h1M316 104h1M326 104h1M371 104h1M416 104h1M429 104h1M435 104h1M453 104h1M474 104h1M630 104h1M722 104h1M730 104h4M735 104h1M753 104h1M762 104h1M765 104h1M767 104h1M830 104h1M833 104h1M10 106h1M13 106h1M30 106h1M42 106h1M53 106h1M56 106h1M65 106h2M74 106h1M85 106h1M91 106h1M111 106h1M135 106h1M137 106h2M142 106h1M144 106h2M172 106h1M180 106h1M183 106h2M188 106h1M200 106h1M202 106h1M231 106h1M233 106h1M237 106h1M255 106h1M258 106h1M261 106h1M264 106h1M292 106h2M308 106h1M321 106h1M327 106h1M344 106h2M372 106h1M386 106h1M388 106h1M422 106h1M424 106h1M433 106h2M445 106h1M448 106h1M452 106h1M473 106h2M477 106h1M479 106h1M532 106h2M537 106h1M539 106h1M544 106h1M547 106h1M549 106h3M561 106h1M570 106h1M575 106h1M577 106h1M580 106h2M631 106h1M633 106h1M668 106h1M673 106h1M697 106h1M706 106h1M709 106h1M712 106h1M742 106h1M757 106h1M772 106h1M784 106h1M797 106h1"/>
<path stroke="#00009b" d="M4 0h1M10 0h2M13 0h1M19 0h1M25 0h2M31 0h1M33 0h2M41 0h2M45 0h3M53 0h1M58 0h1M61 0h4M66 0h1M72 0h1M85 0h1M87 0h1M89 0h4M99 0h1M101 0h1M103 0h1M117 0h1M121 0h1M128 0h1M133 0h1M137 0h2M141 0h1M143 0h1M147 0h1M149 0h2M156 0h3M160 0h1M162 0h4M169 0h1M176 0h2M180 0h3M184 0h1M186 0h1M191 0h1M196 0h2M199 0h3M207 0h2M212 0h1M214 0h1M219 0h1M225 0h1M228 0h1M233 0h1M239 0h1M241 0h1M244 0h1M246 0h1M249 0h2M253 0h1M256 0h1M264 0h2M268 0h2M282 0h1M286 0h1M288 0h2M294 0h3M301 0h1M304 0h1M307 0h1M309 0h1M313 0h3M318 0h1M320 0h1M349 0h2M353 0h1M358 0h2M362 0h4M369 0h1M372 0h1M375 0h3M382 0h2M406 0h1M408 0h2M412 0h3M422 0h1M425 0h2M435 0h1M437 0h1M441 0h2M445 0h2M449 0h2M458 0h3M463 0h1M469 0h2M473 0h3M477 0h5M485 0h9M496 0h1M500 0h3M504 0h1M506 0h1M509 0h1M516 0h1M524 0h1M530 0h2M533 0h1M542 0h2M551 0h1M558 0h1M568 0h2M571 0h3M578 0h1M581 0h3M585 0h1M587 0h2M590 0h1M595 0h1M598 0h2M602 0h2M610 0h1M613 0h3M618 0h2M629 0h2M635 0h1M638 0h1M641 0h1M647 0h3M655 0h2M658 0h2M663 0h1M667 0h1M669 0h1M671 0h1M674 0h1M678 0h2M682 0h3M689 0h1M696 0h1M698 0h1M705 0h1M708 0h5M714 0h2M724 0h2M731 0h2M736 0h1M745 0h3M749 0h1M752 0h2M757 0h2M762 0h1M765 0h1M767 0h2M780 0h1M785 0h1M788 0h1M792 0h2M795 0h1M797 0h5M804 0h2M808 0h1M811 0h1M815 0h1M818 0h2M822 0h1M824 0h1M826 0h2M829 0h1M833 0h1M2 2h1M4 2h1M9 2h1M13 2h1M18 2h1M71 2h1M100 2h1M104 2h1M132 2h1M137 2h1M143 2h1M148 2h1M156 2h2M159 2h1M176 2h2M180 2h2M184 2h1M190 2h2M201 2h1M213 2h1M228 2h1M241 2h1M244 2h2M254 2h3M266 2h2M273 2h2M280 2h2M287 2h1M290 2h1M292 2h1M295 2h2M313 2h1M319 2h2M340 2h1M362 2h1M366 2h1M371 2h1M374 2h1M376 2h1M382 2h2M385 2h2M406 2h1M414 2h1M418 2h3M425 2h1M434 2h1M437 2h1M444 2h1M448 2h1M457 2h1M461 2h1M466 2h1M470 2h2M474 2h1M477 2h1M479 2h1M485 2h1M490 2h2M497 2h1M499 2h1M502 2h1M504 2h1M507 2h1M509 2h2M515 2h1M517 2h1M521 2h1M523 2h1M525 2h1M528 2h1M530 2h1M532 2h1M534 2h1M537 2h1M542 2h2M548 2h1M551 2h1M556 2h4M581 2h3M585 2h1M587 2h1M589 2h2M599 2h2M603 2h1M605 2h3M609 2h2M612 2h1M616 2h1M618 2h2M635 2h1M638 2h2M641 2h1M643 2h3M647 2h3M14 6h1M16 6h2M19 6h1M23 6h2M67 6h1M84 6h2M92 6h1M94 6h1M111 6h1M113 6h1M141 6h1M148 6h2M167 6h1M175 6h1M313 6h1M316 6h1M361 6h1M404 6h1M432 6h1M476 6h1M484 6h1M487 6h1M532 6h1M560 6h1M565 6h1M567 6h3M585 6h1M593 6h1M596 6h1M598 6h1M626 6h1M642 6h1M649 6h1M76 8h1M128 8h1M158 8h1M165 8h1M268 8h1M270 8h2M296 8h2M354 8h1M386 8h1M407 8h2M437 8h2M498 8h1M546 8h1M551 8h1M554 8h2M607 8h1M609 8h1M43 10h1M59 10h1M75 10h2M81 10h1M101 10h1M120 10h1M122 10h1M142 10h1M146 10h1M158 10h1M160 10h1M171 10h1M179 10h1M186 10h1M189 10h1M197 10h1M200 10h2M207 10h1M227 10h1M241 10h1M252 10h1M269 10h1M311 10h1M318 10h1M374 10h1M390 10h1M393 10h1M422 10h1M486 10h1M511 10h2M534 10h1M595 10h1M48 12h1M57 12h1M59 12h1M92 12h1M95 12h1M113 12h2M117 12h1M137 12h1M142 12h1M144 12h1M148 12h1M151 12h1M157 12h1M187 12h1M195 12h1M206 12h1M233 12h2M242 12h1M261 12h1M267 12h1M271 12h1M286 12h1M289 12h1M336 12h1M378 12h1M383 12h1M393 12h1M433 12h1M463 12h2M469 12h1M490 12h2M498 12h1M503 12h2M527 12h1M542 12h1M547 12h1M561 12h2M564 12h1M573 12h1M575 12h1M582 12h1M611 12h1M614 12h1M625 12h1M330 14h1M6 16h1M90 16h1M109 16h2M121 16h1M136 16h1M139 16h2M175 16h1M205 16h2M214 16h1M219 16h2M249 16h1M261 16h2M270 16h1M327 16h1M340 16h1M346 16h1M365 16h1M388 16h1M394 16h1M409 16h4M418 16h1M2 18h3M6 18h3M10 18h1M14 18h1M34 18h1M117 18h1M121 18h1M125 18h1M128 18h1M141 18h1M143 18h1M146 18h1M166 18h1M171 18h1M207 18h1M221 18h1M224 18h1M254 18h1M258 18h1M264 18h1M284 18h1M292 18h1M297 18h1M310 18h1M316 18h1M318 18h1M349 18h1M371 18h1M389 18h1M392 18h1M513 18h1M515 18h1M611 18h2M638 18h1M663 18h1M669 18h1M673 18h1M681 18h1M388 22h1M713 22h3M772 22h2M70 24h1M72 26h1M359 32h2M412 32h1M711 38h1M713 38h1M721 38h1M66 40h1M69 40h2M72 40h1M87 40h1M93 40h1M101 40h1M104 40h1M106 40h1M185 40h1M190 40h1M194 40h1M200 40h1M206 40h1M232 40h1M278 40h1M286 40h1M292 40h2M324 40h1M342 40h1M538 40h1M547 40h1M690 40h1M697 40h2M734 40h1M750 40h2M760 40h1M767 40h1M795 40h1M798 40h2M801 40h1M5 42h1M9 42h1M14 42h2M56 42h2M60 42h1M220 42h1M250 42h1M279 42h4M300 42h1M303 42h1M342 42h1M657 42h1M661 42h1M735 42h1M741 42h1M764 42h1M19 44h1M25 44h1M27 44h1M43 44h1M84 44h2M204 44h1M215 44h2M262 44h1M299 44h1M319 44h1M322 44h1M330 44h1M332 44h1M474 44h1M478 44h1M493 44h1M496 44h1M517 44h2M524 44h2M527 44h1M565 44h1M597 44h1M669 44h1M673 44h1M675 44h1M703 44h1M737 44h1M743 44h1M750 44h3M759 44h1M765 44h1M116 46h3M122 46h2M125 46h1M132 46h1M136 46h1M139 46h1M144 46h1M152 46h1M155 46h1M157 46h2M164 46h2M181 46h1M185 46h2M203 46h1M219 46h1M222 46h1M230 46h2M238 46h1M240 46h2M243 46h2M248 46h1M252 46h2M256 46h1M275 46h1M281 46h1M284 46h2M291 46h1M293 46h1M312 46h1M315 46h1M329 46h1M334 46h2M345 46h1M351 46h1M363 46h1M382 46h1M388 46h1M411 46h1M414 46h1M455 46h1M457 46h1M516 46h1M521 46h1M526 46h1M591 46h2M597 46h1M644 46h1M652 46h1M662 46h1M664 46h1M668 46h1M675 46h1M681 46h1M688 46h1M690 46h1M1 48h1M3 48h1M12 48h1M15 48h1M19 48h1M21 48h1M26 48h2M40 48h1M47 48h1M50 48h1M53 48h2M63 48h1M71 48h1M106 48h1M108 48h1M112 48h1M119 48h1M156 48h1M158 48h1M254 48h1M256 48h1M266 48h1M302 48h1M318 48h1M330 48h1M342 48h2M350 48h2M355 48h2M370 48h1M380 48h1M390 48h1M398 48h1M402 48h2M411 48h1M414 48h1M459 48h2M467 48h1M469 48h1M472 48h1M495 48h1M516 48h4M523 48h1M560 48h1M575 48h1M581 48h1M701 48h2M708 48h1M710 48h1M736 48h1M739 48h3M750 48h1M769 48h1M776 48h1M780 48h2M364 50h1M372 50h2M661 50h1M672 50h1M701 50h1M708 50h1M746 50h1M752 50h1M781 50h1M787 50h1M10 54h1M12 54h1M19 54h3M32 54h2M39 54h2M42 54h1M55 54h1M59 54h1M70 54h1M81 54h1M560 56h1M588 56h1M590 56h1M597 56h2M602 56h2M610 56h2M629 56h1M634 56h1M660 56h1M667 56h1M669 56h1M672 56h1M726 56h1M735 56h1M747 56h1M765 56h2M790 56h1M834 56h1M117 58h1M123 58h1M127 58h1M145 58h1M149 58h1M176 58h1M184 58h1M278 58h1M289 58h1M370 58h1M410 58h1M413 58h2M418 58h1M420 58h1M438 58h1M449 58h1M456 58h2M459 58h2M465 58h1M476 58h1M482 58h2M487 58h1M494 58h1M498 58h1M500 58h1M546 58h1M737 58h1M739 58h1M752 58h1M770 58h1M772 58h1M119 60h2M129 60h3M135 60h1M137 60h1M186 60h1M204 60h2M224 60h2M228 60h1M234 60h1M263 60h1M396 60h1M398 60h2M401 60h1M405 60h1M417 60h1M423 60h1M449 60h2M452 60h2M457 60h1M469 60h3M478 60h1M489 60h2M496 60h1M66 62h1M70 62h1M72 62h1M99 62h3M104 62h1M123 62h1M129 62h1M204 62h1M206 62h1M212 62h1M214 62h1M221 62h1M268 62h1M270 62h2M276 62h2M291 62h1M334 62h1M376 62h1M378 62h1M382 62h1M422 62h1M436 62h1M440 62h1M461 62h1M464 62h1M487 62h1M512 62h1M520 62h2M524 62h1M533 62h1M539 62h1M543 62h2M547 62h1M552 62h1M555 62h1M559 62h1M561 62h1M699 62h1M722 62h1M742 62h1M779 62h1M799 62h2M803 62h2M806 62h1M816 62h1M819 62h1M823 62h1M825 62h1M98 64h1M100 64h2M137 64h1M143 64h1M148 64h1M158 64h1M203 64h1M205 64h1M215 64h2M218 64h2M229 64h1M276 64h1M335 64h1M337 64h1M383 64h1M397 64h1M402 64h1M414 64h2M430 64h2M441 64h1M446 64h2M453 64h1M510 64h2M525 64h1M555 64h1M16 66h1M44 66h2M61 66h1M68 66h1M70 66h1M73 66h1M78 66h1M98 66h1M140 66h2M174 66h1M177 66h1M181 66h1M184 66h1M200 66h3M238 66h2M241 66h2M276 66h1M333 66h1M372 66h1M387 66h1M390 66h1M404 66h2M429 66h1M434 66h1M447 66h1M500 66h1M515 66h1M522 66h1M533 66h1M696 66h1M701 66h1M713 66h3M720 66h2M725 66h1M728 66h1M731 66h1M756 66h1M763 66h1M770 66h2M783 66h1M788 66h1M800 66h2M803 66h1M805 66h1M816 66h1M41 68h1M48 68h1M54 68h1M65 68h3M73 68h1M78 68h1M104 68h1M108 68h1M118 68h2M124 68h1M147 68h1M149 68h2M156 68h1M180 68h1M191 68h1M230 68h1M247 68h1M256 68h2M259 68h2M276 68h1M278 68h1M281 68h2M302 68h1M317 68h2M343 68h1M401 68h1M635 68h1M688 68h1M702 68h1M706 68h1M715 68h1M738 68h1M749 68h2M760 68h1M767 68h1M770 68h1M773 68h2M776 68h2M787 68h1M809 68h1M813 68h1M1 70h1M16 70h1M21 70h1M34 70h1M50 70h1M53 70h4M61 70h1M172 70h3M227 70h1M233 70h1M323 70h1M325 70h1M329 70h1M331 70h1M336 70h2M340 70h1M342 70h1M425 70h1M499 70h1M517 70h1M520 70h1M595 70h1M635 70h1M661 70h1M663 70h1M665 70h2M675 70h1M835 70h1M290 72h1M313 72h1M318 72h1M320 72h1M324 72h1M343 72h1M347 72h1M735 72h3M743 72h1M750 72h1M765 72h1M772 72h2M781 72h1M0 74h1M5 74h1M74 74h1M78 74h1M81 74h1M83 74h1M122 74h1M125 74h1M133 74h1M137 74h1M139 74h1M144 74h1M165 74h1M167 74h2M185 74h1M188 74h1M241 74h1M244 74h1M267 74h1M269 74h1M277 74h1M280 74h1M302 74h1M318 74h1M333 74h1M348 74h1M362 74h1M364 74h1M369 74h1M425 74h1M439 74h1M445 74h1M448 74h2M453 74h1M461 74h1M487 74h1M499 74h1M501 74h1M504 74h1M506 74h1M515 74h1M519 74h2M566 74h1M578 74h1M646 74h1M651 74h2M665 74h1M670 74h1M684 74h1M688 74h1M691 74h2M702 74h1M709 74h1M732 74h3M751 74h1M764 74h1M772 74h1M775 74h1M778 74h1M782 74h1M785 74h1M791 74h1M797 74h1M805 74h1M822 74h1M836 74h1M59 76h1M75 76h1M86 76h1M139 76h1M146 76h2M158 76h1M165 76h1M179 76h1M188 76h2M197 76h1M199 76h1M215 76h1M223 76h1M230 76h1M241 76h1M253 76h2M263 76h1M282 76h1M309 76h1M313 76h3M335 76h1M338 76h1M344 76h2M367 76h1M379 76h1M415 76h1M424 76h1M430 76h1M445 76h1M466 76h1M492 76h1M508 76h1M512 76h2M520 76h2M524 76h1M563 76h1M570 76h1M614 76h1M616 76h1M647 76h1M667 76h1M684 76h1M687 76h2M703 76h3M708 76h1M711 76h1M714 76h1M724 76h1M771 76h1M777 76h2M787 76h1M789 76h1M802 76h1M804 76h1M807 76h1M58 78h1M61 78h1M66 78h1M69 78h1M78 78h1M82 78h3M89 78h1M143 78h1M146 78h2M151 78h1M155 78h1M157 78h1M162 78h1M180 78h2M184 78h1M197 78h1M224 78h1M229 78h1M265 78h2M269 78h1M278 78h1M293 78h1M298 78h1M308 78h2M314 78h1M361 78h1M373 78h1M428 78h1M430 78h1M442 78h1M447 78h1M453 78h1M455 78h1M485 78h1M489 78h1M513 78h1M562 78h1M564 78h1M593 78h1M598 78h1M604 78h1M607 78h1M639 78h1M670 78h2M674 78h1M677 78h1M680 78h1M686 78h1M691 78h1M697 78h1M700 78h3M704 78h3M711 78h2M714 78h2M727 78h1M729 78h1M737 78h1M748 78h1M750 78h2M775 78h2M786 78h1M788 78h1M794 78h1M23 80h1M32 80h1M37 80h1M54 80h1M61 80h1M73 80h1M77 80h1M88 80h1M139 80h1M141 80h1M148 80h1M158 80h1M180 80h1M219 80h1M254 80h1M278 80h1M303 80h1M307 80h1M313 80h1M321 80h1M332 80h1M365 80h1M396 80h2M406 80h1M411 80h1M413 80h2M436 80h1M460 80h1M465 80h1M467 80h1M475 80h1M494 80h2M514 80h1M568 80h1M571 80h1M590 80h1M596 80h1M600 80h1M698 80h1M702 80h1M718 80h1M722 80h1M724 80h1M727 80h1M729 80h1M736 80h2M744 80h2M752 80h1M783 80h1M8 82h1M13 82h2M53 82h1M132 82h1M147 82h1M152 82h1M154 82h1M254 82h1M262 82h2M267 82h1M289 82h1M335 82h1M363 82h1M427 82h2M437 82h1M453 82h1M468 82h1M489 82h1M506 82h1M508 82h1M573 82h1M587 82h1M606 82h1M610 82h1M653 82h1M659 82h1M665 82h2M670 82h1M696 82h4M714 82h1M722 82h2M18 84h1M21 84h3M41 84h1M51 84h1M87 84h1M89 84h3M95 84h1M138 84h1M141 84h1M149 84h1M187 84h1M211 84h1M213 84h1M222 84h2M226 84h1M229 84h1M238 84h1M249 84h1M251 84h1M253 84h1M261 84h1M264 84h1M280 84h1M332 84h1M352 84h3M385 84h2M388 84h1M402 84h1M405 84h1M456 84h1M465 84h2M494 84h1M506 84h1M516 84h1M542 84h2M556 84h1M574 84h1M598 84h2M607 84h1M619 84h1M641 84h2M646 84h1M655 84h1M659 84h1M696 84h1M21 86h1M39 86h1M149 86h1M151 86h1M153 86h2M183 86h1M186 86h1M212 86h1M221 86h1M232 86h1M237 86h1M262 86h1M266 86h1M268 86h1M286 86h1M295 86h1M299 86h1M301 86h2M307 86h1M314 86h1M320 86h1M352 86h1M364 86h4M376 86h1M387 86h1M402 86h1M407 86h1M415 86h1M423 86h1M430 86h1M439 86h2M445 86h1M456 86h1M460 86h1M500 86h1M508 86h1M515 86h1M540 86h1M590 86h1M599 86h1M605 86h1M611 86h2M614 86h1M620 86h1M631 86h1M636 86h1M638 86h1M640 86h1M642 86h1M646 86h1M652 86h1M696 86h1M706 86h2M723 86h2M742 86h1M766 86h1M795 86h1M816 86h1M52 88h2M95 88h1M104 88h1M106 88h1M151 88h1M163 88h1M184 88h1M204 88h1M207 88h1M210 88h2M215 88h1M217 88h1M220 88h1M241 88h1M277 88h1M281 88h1M296 88h2M301 88h1M304 88h1M314 88h1M316 88h1M329 88h1M358 88h1M376 88h1M399 88h1M409 88h1M425 88h1M430 88h1M434 88h1M441 88h2M444 88h1M446 88h2M454 88h1M464 88h2M469 88h1M475 88h2M479 88h1M492 88h1M511 88h2M529 88h1M558 88h1M597 88h1M600 88h1M618 88h2M624 88h1M645 88h1M661 88h1M671 88h1M689 88h1M696 88h1M699 88h1M701 88h1M711 88h1M735 88h2M740 88h1M775 88h1M781 88h4M786 88h1M809 88h2M834 88h1M0 90h1M103 90h1M128 90h2M139 90h1M147 90h1M150 90h1M157 90h1M159 90h1M185 90h1M189 90h1M193 90h1M208 90h2M214 90h1M220 90h1M237 90h1M242 90h1M244 90h1M247 90h1M257 90h1M269 90h1M285 90h1M289 90h1M305 90h2M308 90h1M311 90h1M316 90h3M321 90h2M324 90h1M342 90h1M369 90h1M380 90h1M399 90h1M412 90h1M435 90h1M439 90h1M452 90h1M455 90h1M476 90h1M481 90h1M506 90h2M514 90h1M527 90h1M529 90h1M531 90h1M535 90h1M539 90h1M552 90h2M560 90h1M578 90h1M611 90h1M643 90h2M661 90h1M678 90h1M681 90h1M690 90h2M694 90h1M722 90h1M726 90h1M734 90h1M748 90h1M769 90h1M788 90h1M800 90h1M112 92h1M114 92h2M120 92h1M123 92h2M138 92h1M147 92h1M169 92h2M201 92h3M212 92h1M241 92h1M243 92h1M246 92h2M258 92h1M287 92h1M289 92h1M316 92h2M322 92h1M329 92h1M366 92h1M381 92h2M390 92h1M407 92h1M409 92h1M420 92h2M428 92h1M432 92h2M466 92h1M471 92h2M479 92h1M507 92h1M518 92h1M520 92h2M553 92h2M583 92h1M586 92h1M588 92h1M626 92h1M650 92h1M656 92h1M711 92h1M754 92h1M762 92h1M770 92h1M772 92h1M776 92h1M778 92h1M788 92h1M796 92h1M801 92h1M807 92h1M821 92h1M827 92h1M723 94h1M733 94h2M746 94h2M751 94h1M762 94h2M774 94h1M776 94h1M783 94h1M795 94h1M798 94h1M153 96h1M158 96h1M311 96h1M422 96h1M484 96h1M489 96h2M495 96h1M499 96h1M547 96h1M549 96h1M554 96h1M557 96h1M579 96h1M584 96h1M591 96h1M602 96h1M606 96h1M628 96h1M650 96h1M652 96h1M663 96h1M671 96h1M679 96h2M686 96h1M791 96h1M578 98h1M589 98h2M594 98h1M599 98h2M614 98h1M618 98h1M622 98h1M634 98h1M637 98h1M669 98h1M671 98h1M680 98h2M683 98h1M685 98h1M694 98h1M4 104h1M6 104h2M9 104h3M24 104h1M34 104h1M41 104h1M144 104h3M151 104h1M153 104h1M158 104h1M164 104h1M177 104h2M229 104h2M233 104h3M253 104h1M263 104h1M265 104h2M270 104h2M290 104h1M303 104h3M308 104h1M315 104h1M325 104h1M329 104h1M335 104h2M348 104h1M397 104h1M426 104h1M428 104h1M430 104h2M451 104h1M457 104h1M468 104h1M471 104h1M491 104h1M605 104h1M627 104h1M642 104h1M645 104h1M676 104h1M723 104h1M7 106h1M11 106h1M29 106h1M37 106h2M52 106h1M67 106h3M90 106h1M108 106h3M123 106h1M127 106h1M131 106h1M146 106h2M157 106h1M160 106h1M162 106h1M165 106h1M178 106h1M201 106h1M206 106h1M209 106h1M215 106h2M241 106h1M267 106h2M283 106h1M296 106h1M311 106h1M340 106h1M349 106h1M380 106h3M390 106h1M417 106h1M425 106h1M432 106h1M443 106h1M446 106h1M476 106h1M480 106h2M489 106h1M501 106h1M523 106h1M528 106h1M536 106h1M538 106h1M542 106h2M552 106h1M554 106h1M556 106h1M560 106h1M569 106h1M576 106h1M578 106h1M582 106h1M597 106h1M621 106h1M625 106h1M642 106h1M651 106h1M662 106h1M674 106h1M676 106h2M698 106h2M702 106h1M705 106h1M710 106h1M721 106h1M740 106h2M743 106h1M758 106h1M773 106h1M778 106h1M781 106h1M785 106h1M812 106h2"/>
<path stroke="#0000b9" d="M1 0h2M8 0h1M12 0h1M15 0h3M20 0h1M22 0h1M27 0h2M30 0h1M36 0h3M43 0h2M48 0h1M51 0h2M54 0h4M59 0h2M65 0h1M67 0h4M74 0h3M78 0h2M81 0h1M84 0h1M86 0h1M88 0h1M93 0h1M95 0h2M105 0h3M110 0h5M116 0h1M122 0h6M129 0h3M136 0h1M139 0h2M144 0h1M151 0h1M173 0h1M178 0h1M183 0h1M188 0h2M192 0h1M194 0h2M198 0h1M205 0h2M209 0h1M211 0h1M216 0h3M229 0h1M234 0h1M240 0h1M242 0h2M251 0h1M257 0h3M261 0h3M270 0h1M272 0h1M275 0h5M284 0h1M306 0h1M310 0h1M316 0h2M321 0h3M325 0h1M327 0h1M329 0h1M334 0h2M338 0h1M340 0h1M343 0h2M351 0h1M354 0h1M356 0h2M367 0h1M370 0h1M373 0h1M380 0h2M384 0h4M389 0h2M392 0h1M395 0h1M398 0h5M407 0h1M418 0h1M423 0h2M482 0h3M505 0h1M570 0h1M584 0h1M593 0h2M600 0h1M624 0h1M628 0h1M631 0h1M634 0h1M665 0h2M670 0h1M675 0h2M685 0h1M687 0h2M691 0h1M693 0h3M700 0h2M713 0h1M744 0h1M748 0h1M750 0h1M766 0h1M775 0h1M777 0h1M781 0h1M806 0h2M813 0h2M823 0h1M828 0h1M831 0h1M1 2h1M7 2h2M10 2h3M15 2h1M19 2h1M25 2h1M31 2h1M33 2h2M42 2h1M45 2h2M53 2h1M58 2h1M61 2h2M66 2h1M72 2h1M76 2h1M81 2h1M85 2h1M89 2h4M103 2h1M110 2h2M117 2h1M128 2h1M133 2h1M136 2h1M138 2h1M147 2h1M149 2h1M158 2h1M162 2h2M169 2h1M178 2h1M182 2h2M187 2h2M192 2h1M195 2h2M200 2h1M205 2h1M207 2h1M211 2h2M215 2h1M219 2h1M225 2h1M233 2h1M239 2h1M243 2h1M246 2h1M268 2h2M283 2h1M286 2h1M288 2h2M294 2h1M301 2h1M303 2h2M314 2h2M321 2h1M327 2h1M329 2h1M338 2h1M344 2h1M353 2h2M358 2h2M364 2h2M369 2h1M372 2h1M377 2h2M381 2h1M390 2h1M400 2h3M404 2h1M408 2h2M422 2h1M424 2h1M426 2h1M435 2h1M441 2h2M445 2h2M449 2h1M469 2h1M473 2h1M475 2h1M482 2h1M484 2h1M486 2h2M489 2h1M492 2h1M494 2h1M496 2h1M500 2h1M506 2h1M516 2h1M524 2h1M531 2h1M533 2h1M568 2h2M571 2h3M584 2h1M588 2h1M594 2h2M598 2h1M613 2h3M624 2h1M629 2h2M634 2h1M157 4h1M385 4h1M636 4h3M4 6h3M13 6h1M18 6h1M31 6h1M34 6h1M37 6h2M64 6h1M71 6h1M78 6h1M88 6h1M90 6h1M93 6h1M97 6h1M101 6h1M116 6h2M123 6h2M142 6h1M153 6h2M168 6h1M173 6h2M176 6h2M181 6h2M190 6h1M205 6h6M225 6h2M229 6h1M233 6h2M243 6h1M249 6h1M280 6h1M285 6h2M314 6h1M318 6h1M330 6h1M344 6h1M357 6h1M359 6h1M372 6h1M375 6h1M381 6h1M406 6h1M427 6h5M457 6h1M473 6h1M475 6h1M482 6h2M485 6h1M488 6h2M491 6h1M502 6h1M504 6h1M506 6h1M512 6h2M529 6h3M537 6h4M542 6h1M547 6h1M553 6h1M558 6h2M562 6h2M584 6h1M594 6h2M597 6h1M611 6h2M617 6h1M623 6h1M625 6h1M628 6h1M640 6h2M643 6h1M43 8h1M71 8h1M157 8h1M159 8h1M161 8h1M248 8h1M298 8h1M301 8h1M321 8h1M353 8h1M355 8h2M380 8h1M387 8h1M436 8h1M461 8h1M467 8h1M497 8h1M545 8h1M604 8h1M42 10h1M44 10h1M49 10h2M73 10h2M80 10h1M87 10h1M98 10h2M107 10h1M109 10h1M112 10h2M118 10h2M141 10h1M144 10h1M147 10h1M157 10h1M162 10h1M176 10h1M185 10h1M190 10h1M195 10h1M198 10h1M203 10h1M218 10h1M251 10h1M260 10h1M262 10h2M267 10h1M270 10h1M272 10h1M281 10h1M309 10h1M312 10h1M395 10h1M503 10h1M507 10h1M509 10h1M514 10h1M540 10h1M566 10h1M616 10h1M50 12h1M52 12h1M93 12h1M106 12h1M112 12h1M155 12h1M160 12h1M162 12h1M183 12h1M231 12h1M248 12h1M256 12h1M266 12h1M284 12h1M310 12h2M318 12h1M325 12h1M357 12h1M377 12h1M380 12h2M384 12h1M387 12h1M395 12h1M437 12h1M439 12h1M442 12h1M461 12h1M465 12h1M470 12h1M492 12h1M507 12h2M517 12h1M519 12h1M521 12h1M523 12h1M525 12h1M540 12h2M546 12h1M550 12h2M554 12h2M565 12h2M572 12h1M605 12h1M607 12h1M610 12h1M691 12h1M799 12h1M801 12h2M11 16h2M15 16h1M17 16h1M78 16h1M81 16h1M91 16h1M93 16h2M103 16h1M115 16h1M117 16h1M119 16h1M122 16h1M179 16h1M216 16h1M222 16h1M254 16h1M267 16h1M273 16h1M308 16h1M310 16h1M314 16h1M337 16h1M389 16h2M397 16h1M5 18h1M12 18h1M28 18h4M67 18h3M107 18h1M127 18h1M147 18h2M163 18h1M165 18h1M167 18h1M206 18h1M257 18h1M261 18h1M317 18h1M343 18h1M361 18h2M366 18h1M514 18h1M664 18h1M667 18h2M672 18h1M676 18h3M54 20h1M249 20h1M126 22h1M265 22h1M381 22h1M774 22h1M836 22h1M73 24h1M70 26h1M75 26h1M218 32h1M221 32h1M242 32h1M297 32h1M355 32h1M759 32h1M707 38h1M709 38h1M718 38h1M720 38h1M722 38h1M765 38h1M63 40h1M71 40h1M86 40h1M105 40h1M110 40h2M178 40h1M182 40h1M186 40h1M188 40h1M195 40h1M201 40h1M207 40h1M211 40h1M236 40h1M241 40h1M258 40h2M266 40h2M285 40h1M294 40h1M319 40h1M325 40h1M543 40h1M656 40h1M696 40h1M746 40h1M748 40h1M755 40h1M759 40h1M800 40h1M806 40h1M809 40h1M8 42h1M11 42h1M224 42h1M244 42h2M266 42h1M287 42h1M299 42h1M304 42h1M309 42h1M319 42h1M326 42h1M328 42h1M330 42h1M656 42h1M667 42h1M734 42h1M749 42h1M759 42h2M18 44h1M24 44h1M28 44h2M82 44h1M86 44h1M198 44h1M208 44h1M214 44h1M261 44h1M265 44h1M274 44h1M281 44h1M309 44h1M492 44h1M495 44h1M529 44h1M531 44h1M535 44h1M557 44h1M564 44h1M566 44h1M574 44h1M576 44h1M598 44h1M660 44h1M676 44h1M681 44h1M701 44h1M706 44h1M739 44h1M754 44h1M756 44h1M760 44h1M796 44h1M811 44h1M133 46h1M135 46h1M138 46h1M140 46h1M143 46h1M172 46h1M177 46h1M229 46h1M255 46h1M257 46h1M268 46h1M273 46h1M277 46h2M282 46h1M286 46h1M289 46h1M341 46h1M346 46h1M349 46h2M355 46h2M358 46h1M361 46h1M364 46h1M375 46h1M381 46h1M389 46h1M397 46h1M470 46h1M475 46h1M509 46h1M517 46h1M525 46h1M568 46h1M640 46h2M651 46h1M665 46h1M676 46h2M684 46h1M20 48h1M25 48h1M28 48h1M51 48h1M61 48h2M64 48h1M88 48h1M102 48h3M155 48h1M157 48h1M253 48h1M255 48h1M257 48h2M267 48h1M289 48h1M337 48h1M349 48h1M367 48h3M372 48h1M374 48h1M389 48h1M391 48h1M395 48h1M404 48h1M408 48h1M473 48h1M489 48h1M494 48h1M497 48h1M500 48h1M561 48h1M564 48h2M574 48h1M584 48h3M716 48h1M737 48h1M743 48h1M749 48h1M754 48h1M783 48h2M787 48h1M348 50h1M469 50h1M472 50h1M565 50h1M666 50h1M702 50h1M745 50h1M747 50h1M776 50h2M784 50h2M836 50h1M3 54h1M11 54h1M13 54h1M23 54h1M30 54h1M41 54h1M52 54h1M58 54h1M73 54h1M82 54h2M91 54h1M105 54h1M110 54h1M589 56h1M624 56h1M628 56h1M661 56h1M664 56h1M668 56h1M671 56h1M681 56h1M691 56h1M694 56h1M748 56h2M779 56h1M789 56h1M801 56h1M8 58h1M11 58h1M20 58h2M59 58h2M134 58h1M146 58h1M177 58h1M277 58h1M279 58h3M342 58h3M367 58h1M369 58h1M371 58h1M389 58h1M404 58h1M412 58h1M424 58h1M426 58h2M440 58h1M455 58h1M464 58h1M478 58h1M484 58h1M499 58h1M530 58h1M545 58h1M725 58h1M736 58h1M738 58h1M740 58h1M765 58h1M790 58h1M793 58h1M117 60h1M123 60h1M188 60h1M206 60h1M240 60h1M262 60h1M266 60h1M345 60h3M376 60h1M389 60h1M391 60h1M395 60h1M402 60h2M416 60h1M418 60h1M433 60h2M458 60h1M461 60h1M464 60h1M473 60h1M481 60h3M491 60h2M203 62h1M205 62h1M208 62h3M215 62h1M220 62h1M233 62h1M269 62h1M278 62h1M380 62h2M387 62h1M397 62h1M424 62h1M463 62h1M522 62h1M531 62h2M548 62h1M553 62h1M556 62h2M702 62h1M743 62h1M797 62h1M801 62h1M805 62h1M812 62h1M96 64h2M99 64h1M129 64h1M204 64h1M214 64h1M231 64h1M233 64h1M274 64h1M379 64h1M404 64h1M429 64h1M440 64h1M458 64h1M509 64h1M514 64h1M526 64h3M554 64h1M29 66h1M34 66h1M38 66h1M41 66h1M58 66h2M71 66h2M77 66h1M97 66h1M176 66h1M198 66h2M205 66h1M214 66h2M217 66h1M225 66h1M234 66h2M277 66h1M279 66h1M369 66h2M373 66h1M391 66h2M424 66h1M428 66h1M493 66h1M514 66h1M516 66h1M540 66h1M558 66h1M697 66h1M707 66h1M710 66h1M718 66h1M722 66h1M732 66h2M742 66h2M751 66h4M782 66h1M787 66h1M793 66h1M799 66h1M802 66h1M804 66h1M813 66h1M55 68h1M127 68h1M131 68h1M157 68h2M160 68h2M186 68h1M255 68h1M261 68h1M274 68h1M277 68h1M326 68h1M334 68h1M336 68h2M391 68h1M403 68h1M409 68h1M416 68h2M623 68h1M690 68h1M696 68h1M700 68h1M703 68h1M729 68h1M756 68h1M763 68h1M788 68h1M816 68h1M818 68h1M0 70h1M22 70h1M59 70h1M77 70h1M183 70h1M204 70h1M217 70h1M228 70h1M236 70h1M312 70h1M317 70h1M320 70h1M322 70h1M326 70h2M343 70h1M391 70h2M426 70h1M493 70h1M497 70h2M500 70h1M503 70h2M515 70h2M519 70h1M522 70h2M596 70h1M636 70h2M654 70h1M662 70h1M696 70h1M722 70h1M802 70h1M809 70h1M314 72h1M511 72h1M552 72h1M701 72h1M709 72h1M738 72h1M760 72h5M774 72h3M778 72h3M782 72h2M795 72h1M823 72h1M2 74h1M8 74h1M10 74h2M58 74h1M61 74h2M64 74h1M69 74h1M73 74h1M82 74h1M84 74h2M119 74h1M129 74h1M140 74h1M145 74h1M151 74h1M184 74h1M193 74h1M197 74h1M199 74h1M254 74h1M260 74h1M279 74h1M284 74h3M312 74h1M339 74h1M361 74h1M363 74h1M420 74h1M423 74h1M454 74h1M458 74h1M462 74h2M475 74h2M507 74h1M511 74h1M516 74h2M567 74h1M641 74h1M648 74h1M682 74h1M687 74h1M707 74h1M717 74h1M720 74h1M722 74h2M727 74h1M737 74h1M750 74h1M752 74h1M770 74h1M780 74h1M783 74h1M786 74h1M808 74h1M812 74h2M816 74h1M828 74h1M833 74h1M5 76h2M63 76h1M85 76h1M126 76h1M157 76h1M159 76h1M164 76h1M168 76h1M181 76h1M193 76h1M196 76h1M211 76h1M219 76h2M260 76h2M286 76h1M301 76h1M334 76h1M336 76h1M339 76h1M350 76h1M372 76h1M420 76h1M457 76h1M464 76h2M472 76h4M480 76h2M506 76h1M509 76h1M525 76h1M556 76h1M615 76h1M666 76h1M685 76h1M689 76h2M697 76h1M713 76h1M715 76h1M728 76h2M738 76h1M762 76h1M769 76h1M772 76h1M775 76h1M797 76h2M805 76h1M825 76h1M836 76h1M57 78h1M70 78h3M81 78h1M93 78h1M111 78h1M119 78h1M125 78h1M128 78h1M145 78h1M152 78h2M159 78h1M185 78h1M189 78h1M199 78h1M206 78h1M213 78h1M238 78h1M258 78h1M303 78h1M313 78h1M320 78h1M440 78h2M450 78h1M458 78h1M460 78h1M486 78h1M507 78h1M514 78h1M561 78h1M563 78h1M591 78h1M597 78h1M599 78h1M606 78h1M673 78h1M689 78h2M694 78h1M703 78h1M719 78h1M749 78h1M752 78h1M777 78h1M793 78h1M18 80h1M57 80h2M70 80h1M75 80h2M89 80h1M97 80h2M102 80h1M123 80h1M126 80h1M138 80h1M144 80h1M159 80h1M220 80h1M257 80h1M270 80h1M310 80h1M315 80h1M322 80h1M367 80h1M410 80h1M415 80h1M429 80h2M434 80h2M437 80h1M451 80h2M454 80h3M459 80h1M464 80h1M501 80h2M559 80h1M569 80h1M574 80h1M580 80h1M589 80h1M706 80h1M711 80h2M725 80h1M731 80h1M735 80h1M757 80h1M762 80h2M766 80h2M770 80h1M791 80h1M821 80h1M15 82h1M18 82h1M54 82h1M56 82h1M61 82h1M94 82h1M131 82h1M148 82h1M153 82h1M159 82h1M222 82h1M225 82h1M232 82h1M241 82h1M251 82h1M257 82h2M268 82h2M271 82h3M281 82h1M309 82h1M314 82h1M369 82h1M425 82h2M431 82h2M439 82h2M449 82h1M476 82h2M481 82h1M486 82h1M488 82h1M498 82h1M504 82h1M510 82h1M530 82h1M562 82h3M568 82h1M589 82h1M607 82h1M706 82h1M709 82h1M715 82h1M20 84h1M29 84h1M36 84h1M55 84h1M80 84h1M82 84h1M88 84h1M94 84h1M96 84h1M137 84h1M150 84h1M154 84h1M163 84h2M178 84h1M183 84h1M186 84h1M209 84h2M216 84h1M218 84h1M232 84h1M248 84h1M255 84h1M263 84h1M275 84h1M279 84h1M288 84h1M331 84h1M362 84h1M373 84h1M396 84h1M398 84h1M404 84h1M407 84h1M415 84h1M433 84h2M437 84h2M461 84h1M463 84h2M489 84h1M496 84h1M501 84h1M537 84h1M539 84h1M552 84h1M565 84h1M571 84h1M600 84h1M618 84h1M653 84h1M697 84h1M706 84h1M20 86h1M22 86h1M41 86h1M71 86h1M130 86h3M141 86h1M157 86h1M178 86h1M184 86h2M209 86h3M213 86h1M218 86h1M225 86h1M248 86h1M260 86h1M287 86h2M290 86h1M292 86h1M296 86h1M304 86h1M306 86h1M351 86h1M371 86h2M436 86h1M441 86h1M494 86h1M499 86h1M521 86h1M538 86h1M541 86h1M554 86h2M565 86h1M584 86h2M587 86h1M606 86h1M619 86h1M639 86h1M650 86h1M658 86h1M694 86h1M716 86h1M722 86h1M741 86h1M767 86h1M771 86h1M785 86h1M796 86h1M799 86h1M817 86h3M0 88h1M81 88h1M96 88h1M98 88h1M143 88h1M160 88h1M162 88h1M209 88h1M214 88h1M237 88h2M242 88h1M278 88h1M282 88h1M293 88h1M298 88h1M303 88h1M312 88h1M328 88h1M345 88h1M377 88h1M436 88h1M438 88h2M456 88h1M467 88h1M477 88h1M483 88h2M504 88h1M513 88h1M526 88h1M530 88h2M538 88h1M540 88h1M550 88h1M553 88h1M567 88h1M570 88h4M607 88h1M620 88h1M623 88h1M641 88h2M644 88h1M650 88h1M654 88h2M672 88h1M679 88h1M700 88h1M730 88h2M737 88h1M750 88h1M753 88h1M760 88h2M764 88h1M798 88h1M813 88h1M820 88h1M828 88h1M830 88h1M64 90h1M71 90h1M87 90h1M89 90h1M95 90h1M102 90h1M119 90h1M135 90h1M137 90h2M145 90h2M184 90h1M196 90h2M216 90h2M243 90h1M255 90h2M281 90h1M293 90h2M309 90h1M323 90h1M361 90h1M367 90h1M395 90h1M409 90h1M418 90h1M428 90h1M436 90h2M442 90h1M451 90h1M461 90h1M483 90h1M486 90h1M503 90h1M513 90h1M528 90h1M530 90h1M547 90h1M551 90h1M562 90h2M581 90h1M583 90h1M650 90h1M652 90h2M682 90h1M687 90h2M693 90h1M697 90h1M700 90h2M712 90h1M736 90h1M747 90h1M749 90h2M770 90h1M780 90h1M789 90h1M805 90h1M821 90h2M827 90h1M832 90h2M100 92h2M118 92h1M137 92h1M166 92h2M207 92h1M213 92h1M236 92h2M270 92h1M283 92h2M290 92h3M300 92h1M320 92h2M337 92h1M341 92h1M343 92h3M380 92h1M388 92h1M399 92h1M401 92h1M412 92h1M419 92h1M434 92h1M437 92h1M439 92h2M444 92h1M449 92h1M469 92h1M478 92h1M541 92h2M555 92h1M595 92h1M597 92h1M651 92h2M688 92h1M701 92h1M710 92h1M713 92h2M724 92h1M727 92h1M737 92h1M739 92h1M741 92h1M766 92h1M777 92h1M783 92h2M797 92h1M802 92h1M810 92h1M814 92h2M817 92h1M819 92h2M836 92h1M721 94h1M730 94h1M735 94h1M748 94h1M754 94h1M756 94h1M764 94h1M769 94h1M777 94h1M38 96h1M161 96h1M309 96h1M312 96h1M485 96h1M491 96h1M493 96h1M509 96h1M521 96h3M525 96h1M530 96h1M545 96h1M563 96h1M577 96h2M585 96h1M588 96h1M593 96h2M599 96h1M607 96h3M613 96h2M635 96h1M640 96h1M664 96h1M669 96h1M747 96h1M778 96h2M785 96h3M790 96h1M792 96h1M559 98h1M564 98h1M567 98h2M579 98h1M593 98h1M607 98h1M633 98h1M652 98h1M670 98h1M684 98h1M792 98h3M0 104h1M8 104h1M13 104h1M17 104h2M26 104h2M31 104h1M33 104h1M35 104h2M43 104h1M108 104h1M142 104h1M152 104h1M154 104h1M156 104h2M159 104h1M162 104h1M165 104h1M170 104h1M205 104h2M209 104h1M212 104h1M222 104h1M236 104h1M238 104h1M254 104h1M262 104h1M267 104h3M275 104h1M277 104h3M281 104h1M284 104h1M291 104h1M295 104h1M301 104h1M306 104h2M309 104h1M314 104h1M317 104h1M319 104h1M322 104h1M337 104h1M340 104h1M343 104h3M369 104h1M398 104h1M400 104h3M404 104h1M415 104h1M420 104h2M424 104h1M427 104h1M432 104h3M441 104h1M454 104h1M458 104h1M472 104h1M490 104h1M493 104h1M604 104h1M614 104h1M643 104h1M648 104h1M651 104h1M657 104h1M724 104h2M734 104h1M8 106h2M16 106h1M58 106h1M63 106h1M70 106h1M73 106h1M86 106h1M89 106h1M92 106h1M98 106h1M125 106h2M132 106h1M134 106h1M148 106h1M156 106h1M163 106h1M170 106h1M173 106h2M177 106h1M181 106h2M185 106h1M191 106h1M193 106h1M196 106h1M198 106h1M211 106h1M217 106h1M224 106h1M232 106h1M242 106h1M246 106h1M257 106h1M274 106h1M287 106h1M294 106h1M297 106h1M300 106h1M339 106h1M341 106h1M350 106h1M373 106h1M377 106h2M383 106h1M387 106h1M412 106h1M414 106h2M418 106h1M423 106h1M457 106h1M468 106h1M470 106h1M498 106h2M516 106h1M520 106h2M566 106h1M579 106h1M583 106h1M586 106h1M588 106h1M598 106h2M620 106h1M629 106h2M635 106h1M637 106h1M643 106h1M646 106h2M663 106h2M694 106h1M711 106h1M714 106h2M717 106h1M720 106h1M733 106h1M735 106h1M756 106h1M771 106h1M775 106h1M777 106h1M780 106h1M798 106h1M811 106h1M818 106h3M823 106h1M831 106h1"/>
<path stroke="#0000d8" d="M5 0h3M14 0h1M29 0h1M32 0h1M35 0h1M39 0h2M50 0h1M73 0h1M77 0h1M80 0h1M82 0h1M94 0h1M97 0h2M102 0h1M109 0h1M115 0h1M118 0h1M120 0h1M134 0h1M146 0h1M152 0h4M161 0h1M166 0h2M174 0h2M187 0h1M193 0h1M204 0h1M210 0h1M220 0h5M230 0h2M235 0h4M247 0h2M260 0h1M271 0h1M305 0h1M311 0h2M324 0h1M326 0h1M330 0h3M337 0h1M339 0h1M341 0h2M345 0h4M352 0h1M355 0h1M379 0h1M388 0h1M391 0h1M393 0h1M396 0h2M403 0h2M410 0h2M416 0h2M611 0h1M632 0h2M686 0h1M692 0h1M699 0h1M706 0h2M776 0h1M812 0h1M6 2h1M14 2h1M16 2h2M26 2h2M30 2h1M37 2h2M41 2h1M43 2h2M47 2h2M50 2h3M54 2h4M59 2h2M63 2h2M67 2h1M75 2h1M87 2h2M93 2h1M95 2h2M99 2h1M101 2h1M106 2h2M109 2h1M112 2h3M116 2h1M121 2h1M124 2h2M127 2h1M129 2h3M139 2h2M144 2h1M150 2h1M160 2h1M164 2h2M173 2h1M175 2h1M189 2h1M193 2h2M197 2h3M206 2h1M208 2h3M214 2h1M217 2h2M229 2h1M234 2h1M238 2h1M242 2h1M249 2h3M253 2h1M262 2h1M265 2h1M270 2h1M272 2h1M275 2h1M278 2h2M282 2h1M284 2h1M306 2h3M316 2h1M318 2h1M322 2h2M325 2h1M330 2h1M337 2h1M339 2h1M341 2h1M343 2h1M347 2h1M349 2h3M356 2h1M367 2h1M370 2h1M373 2h1M380 2h1M384 2h1M387 2h1M389 2h1M392 2h1M398 2h2M407 2h1M411 2h1M416 2h2M423 2h1M450 2h1M458 2h3M463 2h1M483 2h1M488 2h1M493 2h1M501 2h1M505 2h1M570 2h1M593 2h1M611 2h1M628 2h1M631 2h3M156 4h1M158 4h2M163 4h1M360 4h2M368 4h1M384 4h1M386 4h1M467 4h1M490 4h1M617 4h1M620 4h2M625 4h3M630 4h2M635 4h1M639 4h2M646 4h1M7 6h1M9 6h1M11 6h2M21 6h2M25 6h1M30 6h1M33 6h1M36 6h1M39 6h1M62 6h2M73 6h2M77 6h1M80 6h1M82 6h2M86 6h1M89 6h1M99 6h1M102 6h1M114 6h2M118 6h1M125 6h1M127 6h2M132 6h2M138 6h1M143 6h1M145 6h3M150 6h3M166 6h1M179 6h2M183 6h2M186 6h1M189 6h1M191 6h1M195 6h2M214 6h1M221 6h1M228 6h1M235 6h1M246 6h1M248 6h1M271 6h1M281 6h1M283 6h1M287 6h2M307 6h2M312 6h1M317 6h1M325 6h1M329 6h1M331 6h1M338 6h1M340 6h1M368 6h2M371 6h1M376 6h1M390 6h1M392 6h2M396 6h1M398 6h1M400 6h1M402 6h1M409 6h1M416 6h2M421 6h1M425 6h1M445 6h3M454 6h1M456 6h1M458 6h3M494 6h1M496 6h3M503 6h1M505 6h1M507 6h1M510 6h2M520 6h3M528 6h1M534 6h1M541 6h1M543 6h1M551 6h1M556 6h2M570 6h3M602 6h2M605 6h1M607 6h2M613 6h1M619 6h2M624 6h1M629 6h1M636 6h1M644 6h1M42 8h1M44 8h1M70 8h1M73 8h1M81 8h1M131 8h2M136 8h1M164 8h1M182 8h3M238 8h1M273 8h1M299 8h1M302 8h3M377 8h1M388 8h1M433 8h3M465 8h1M470 8h1M495 8h1M548 8h1M610 8h1M57 10h1M77 10h3M102 10h2M106 10h1M108 10h1M116 10h1M121 10h1M127 10h1M131 10h2M143 10h1M159 10h1M163 10h1M172 10h1M183 10h2M199 10h1M212 10h2M217 10h1M243 10h1M266 10h1M268 10h1M273 10h1M282 10h1M313 10h1M504 10h1M614 10h1M51 12h1M56 12h1M81 12h1M100 12h4M107 12h1M116 12h1M126 12h2M139 12h3M143 12h1M156 12h1M159 12h1M186 12h1M189 12h2M192 12h1M197 12h1M202 12h1M204 12h1M220 12h1M235 12h1M238 12h1M240 12h1M257 12h1M268 12h1M270 12h1M272 12h1M302 12h3M330 12h1M341 12h1M349 12h3M354 12h1M358 12h1M360 12h1M388 12h1M407 12h2M411 12h1M413 12h1M434 12h2M438 12h1M440 12h2M471 12h1M495 12h1M497 12h1M505 12h1M520 12h1M524 12h1M534 12h1M544 12h2M552 12h2M563 12h1M606 12h1M643 12h1M798 12h1M803 12h1M243 14h1M302 14h1M4 16h2M14 16h1M16 16h1M18 16h3M23 16h1M87 16h1M104 16h1M108 16h1M112 16h1M116 16h1M118 16h1M131 16h1M215 16h1M221 16h1M253 16h1M291 16h1M297 16h1M316 16h2M338 16h1M341 16h1M370 16h1M374 16h1M403 16h1M11 18h1M19 18h2M32 18h2M35 18h1M37 18h2M40 18h1M61 18h1M66 18h1M81 18h2M85 18h1M102 18h1M112 18h1M126 18h1M129 18h1M150 18h2M173 18h1M201 18h1M255 18h2M262 18h1M265 18h2M283 18h1M308 18h1M334 18h1M345 18h2M348 18h1M350 18h1M364 18h1M374 18h1M390 18h1M394 18h1M662 18h1M670 18h1M675 18h1M266 22h1M353 22h1M522 22h1M771 22h1M775 22h1M832 22h2M835 22h1M79 24h1M73 26h1M80 26h1M127 26h1M188 26h1M70 32h1M103 32h1M714 38h1M719 38h1M723 38h1M738 38h1M755 38h1M758 38h1M764 38h1M61 40h2M67 40h2M73 40h1M83 40h1M88 40h2M92 40h1M169 40h1M180 40h2M202 40h1M204 40h1M210 40h1M212 40h1M215 40h1M218 40h1M239 40h1M276 40h1M279 40h3M289 40h2M295 40h1M320 40h1M322 40h1M341 40h1M537 40h1M542 40h1M706 40h1M725 40h2M739 40h1M741 40h1M743 40h1M754 40h1M766 40h1M794 40h1M802 40h1M807 40h1M815 40h1M1 42h1M13 42h1M107 42h1M190 42h2M198 42h1M204 42h1M219 42h1M243 42h1M256 42h1M267 42h1M274 42h1M283 42h2M288 42h1M294 42h2M302 42h1M305 42h1M308 42h1M312 42h3M318 42h1M327 42h1M329 42h1M660 42h1M699 42h1M737 42h1M743 42h1M747 42h2M758 42h1M827 42h1M7 44h2M11 44h1M14 44h1M44 44h1M69 44h1M83 44h1M87 44h1M202 44h1M212 44h2M217 44h1M223 44h1M259 44h1M264 44h1M282 44h1M287 44h1M310 44h1M317 44h2M326 44h3M337 44h1M424 44h1M439 44h1M479 44h1M488 44h2M545 44h2M552 44h1M558 44h1M567 44h1M571 44h1M672 44h1M677 44h1M697 44h1M702 44h1M736 44h1M740 44h1M747 44h1M758 44h1M764 44h1M812 44h2M815 44h1M836 44h1M115 46h1M137 46h1M141 46h1M146 46h1M228 46h1M232 46h1M239 46h1M260 46h1M266 46h1M271 46h2M279 46h2M288 46h1M292 46h1M336 46h1M340 46h1M347 46h2M352 46h1M378 46h1M454 46h1M462 46h2M472 46h3M476 46h1M491 46h1M495 46h1M500 46h2M513 46h1M518 46h1M522 46h1M524 46h1M527 46h1M562 46h1M564 46h3M598 46h1M643 46h1M649 46h1M666 46h2M673 46h1M680 46h1M682 46h1M92 48h4M105 48h1M296 48h1M339 48h2M344 48h1M373 48h1M394 48h1M399 48h1M407 48h1M470 48h1M496 48h1M499 48h1M511 48h2M562 48h1M583 48h1M587 48h1M596 48h1M744 48h1M752 48h1M778 48h2M788 48h1M336 50h1M340 50h1M733 50h1M775 50h1M778 50h1M786 50h1M791 50h1M835 50h1M385 52h1M15 54h1M49 54h1M51 54h1M54 54h1M57 54h1M65 54h1M68 54h1M79 54h1M90 54h1M100 54h1M102 54h1M114 54h1M116 54h1M626 56h1M666 56h1M689 56h2M697 56h1M719 56h1M722 56h1M731 56h2M736 56h1M746 56h1M752 56h2M773 56h2M776 56h1M778 56h1M786 56h1M791 56h2M806 56h2M823 56h1M832 56h2M836 56h1M1 58h1M6 58h1M16 58h1M18 58h1M24 58h1M61 58h1M99 58h1M118 58h1M126 58h1M130 58h1M133 58h1M271 58h1M273 58h1M275 58h2M282 58h1M286 58h1M341 58h1M345 58h1M358 58h1M361 58h2M366 58h1M368 58h1M379 58h2M387 58h1M430 58h1M437 58h1M445 58h1M452 58h2M458 58h1M461 58h1M463 58h1M477 58h1M479 58h1M485 58h2M495 58h1M497 58h1M501 58h2M529 58h1M549 58h1M726 58h1M734 58h1M741 58h1M766 58h1M769 58h1M775 58h1M794 58h1M814 58h1M828 58h1M118 60h1M133 60h2M222 60h2M241 60h1M298 60h1M341 60h1M343 60h2M348 60h2M351 60h1M357 60h1M361 60h1M367 60h1M375 60h1M379 60h1M404 60h1M414 60h1M420 60h1M424 60h1M432 60h1M435 60h1M454 60h1M456 60h1M472 60h1M475 60h1M488 60h1M494 60h1M501 60h1M71 62h1M216 62h1M222 62h1M228 62h1M377 62h1M462 62h1M517 62h2M523 62h1M527 62h2M695 62h1M802 62h1M807 62h2M835 62h2M235 64h1M333 64h1M424 64h1M428 64h1M504 64h3M513 64h1M519 64h1M529 64h1M540 64h2M30 66h2M36 66h2M42 66h1M46 66h1M63 66h1M66 66h2M212 66h1M218 66h1M240 66h1M274 66h1M502 66h2M513 66h1M517 66h1M526 66h1M541 66h1M695 66h1M700 66h1M706 66h1M708 66h1M716 66h2M727 66h1M730 66h1M738 66h1M740 66h1M746 66h2M750 66h1M760 66h1M764 66h2M779 66h1M784 66h1M789 66h1M807 66h2M814 66h2M817 66h1M836 66h1M42 68h1M58 68h1M77 68h1M97 68h1M100 68h1M129 68h1M143 68h2M146 68h1M228 68h1M234 68h1M240 68h1M249 68h2M258 68h1M279 68h1M285 68h1M327 68h1M382 68h2M402 68h1M413 68h1M415 68h1M701 68h1M704 68h1M708 68h1M716 68h2M719 68h1M721 68h2M746 68h2M751 68h2M754 68h1M757 68h1M759 68h1M771 68h2M783 68h1M810 68h1M812 68h1M814 68h1M826 68h1M2 70h2M52 70h1M205 70h1M207 70h1M213 70h1M218 70h1M234 70h1M255 70h3M284 70h1M321 70h1M324 70h1M363 70h2M419 70h1M421 70h1M424 70h1M508 70h1M514 70h1M521 70h1M524 70h1M526 70h3M603 70h1M655 70h1M714 70h3M723 70h1M739 70h2M755 70h2M783 70h1M789 70h2M810 70h1M820 70h2M834 70h1M312 72h1M501 72h1M550 72h1M739 72h1M751 72h1M777 72h1M793 72h2M798 72h1M65 74h2M68 74h1M70 74h2M86 74h1M123 74h2M130 74h1M134 74h3M162 74h1M166 74h1M173 74h3M182 74h2M190 74h1M240 74h1M243 74h1M278 74h1M301 74h1M313 74h1M340 74h1M347 74h1M350 74h1M358 74h1M373 74h1M465 74h1M470 74h1M484 74h1M486 74h1M505 74h1M508 74h1M510 74h1M521 74h1M555 74h1M558 74h2M562 74h4M637 74h2M640 74h1M654 74h1M681 74h1M685 74h1M689 74h1M693 74h1M696 74h1M701 74h1M721 74h1M725 74h1M740 74h1M753 74h1M758 74h1M765 74h2M784 74h1M790 74h1M806 74h1M817 74h1M820 74h1M827 74h1M829 74h1M0 76h1M2 76h1M7 76h1M11 76h1M57 76h1M64 76h2M74 76h1M76 76h1M89 76h1M91 76h2M119 76h1M127 76h3M137 76h1M143 76h1M145 76h1M161 76h1M163 76h1M166 76h2M206 76h1M210 76h1M231 76h1M235 76h1M238 76h1M262 76h1M300 76h1M302 76h2M316 76h1M319 76h1M326 76h2M332 76h2M337 76h1M348 76h1M432 76h1M446 76h1M456 76h1M467 76h1M487 76h1M503 76h2M519 76h1M555 76h1M557 76h4M654 76h1M672 76h1M680 76h1M698 76h1M710 76h1M725 76h3M733 76h2M739 76h2M750 76h2M753 76h1M760 76h2M780 76h1M791 76h3M796 76h1M800 76h1M808 76h2M811 76h1M824 76h1M68 78h1M73 78h1M77 78h1M96 78h2M126 78h2M138 78h2M164 78h1M209 78h1M214 78h2M225 78h1M237 78h1M252 78h1M256 78h1M301 78h2M327 78h1M329 78h1M427 78h1M439 78h1M459 78h1M510 78h3M515 78h1M543 78h1M558 78h3M565 78h1M590 78h1M605 78h1M708 78h1M710 78h1M713 78h1M731 78h2M736 78h1M762 78h1M768 78h1M781 78h1M790 78h3M12 80h1M67 80h1M69 80h1M74 80h1M111 80h1M116 80h1M119 80h1M121 80h1M133 80h1M143 80h1M149 80h1M160 80h1M205 80h1M207 80h1M222 80h1M225 80h1M227 80h1M263 80h1M267 80h1M314 80h1M323 80h2M331 80h1M362 80h2M427 80h1M443 80h1M457 80h1M472 80h1M477 80h2M496 80h1M511 80h2M515 80h1M566 80h1M701 80h1M705 80h1M710 80h1M721 80h1M756 80h1M759 80h2M782 80h1M836 80h1M0 82h2M9 82h1M12 82h1M16 82h1M19 82h1M38 82h1M57 82h3M63 82h1M84 82h1M90 82h2M93 82h1M133 82h1M137 82h1M144 82h1M149 82h1M155 82h1M160 82h1M213 82h1M227 82h1M231 82h1M234 82h1M237 82h1M240 82h1M243 82h1M308 82h1M313 82h1M424 82h1M438 82h1M447 82h1M450 82h1M478 82h1M487 82h1M500 82h1M503 82h1M505 82h1M509 82h1M513 82h1M515 82h1M525 82h1M533 82h1M566 82h1M569 82h1M572 82h1M574 82h1M591 82h1M710 82h3M726 82h1M13 84h2M16 84h2M19 84h1M26 84h2M34 84h1M37 84h1M40 84h1M42 84h1M47 84h1M50 84h1M71 84h2M74 84h1M77 84h3M93 84h1M97 84h2M131 84h2M139 84h1M151 84h1M153 84h1M156 84h1M179 84h1M182 84h1M215 84h1M220 84h1M228 84h1M237 84h1M260 84h1M262 84h1M270 84h1M276 84h2M289 84h1M303 84h1M306 84h1M335 84h1M397 84h1M418 84h1M432 84h1M435 84h1M448 84h1M455 84h1M457 84h1M517 84h2M532 84h2M545 84h2M561 84h1M589 84h2M662 84h1M698 84h2M712 84h2M18 86h2M36 86h2M40 86h1M72 86h1M74 86h1M91 86h1M133 86h1M148 86h1M155 86h1M187 86h1M215 86h1M219 86h2M235 86h2M254 86h1M289 86h1M300 86h1M309 86h1M313 86h1M361 86h1M375 86h1M397 86h2M404 86h1M406 86h1M424 86h1M444 86h1M448 86h1M454 86h1M457 86h1M496 86h1M514 86h1M525 86h1M544 86h1M583 86h1M602 86h1M615 86h1M617 86h1M641 86h1M653 86h1M708 86h1M718 86h1M725 86h1M727 86h1M735 86h4M770 86h1M82 88h1M99 88h1M101 88h2M107 88h1M157 88h1M191 88h1M194 88h2M208 88h1M236 88h1M249 88h1M289 88h1M308 88h2M326 88h1M346 88h1M364 88h2M367 88h1M369 88h1M384 88h1M390 88h1M416 88h2M435 88h1M440 88h1M448 88h1M461 88h3M480 88h1M482 88h1M489 88h1M497 88h2M501 88h1M508 88h1M510 88h1M525 88h1M562 88h3M566 88h1M646 88h1M660 88h1M704 88h1M715 88h1M723 88h1M755 88h1M759 88h1M767 88h1M772 88h1M801 88h2M814 88h2M835 88h1M21 90h1M23 90h1M65 90h2M85 90h1M93 90h1M99 90h2M118 90h1M123 90h1M136 90h1M142 90h1M144 90h1M188 90h1M215 90h1M236 90h1M277 90h2M295 90h2M319 90h2M325 90h1M365 90h1M368 90h1M381 90h1M386 90h1M388 90h1M391 90h2M407 90h1M413 90h1M420 90h2M460 90h1M465 90h1M472 90h1M477 90h1M479 90h2M485 90h1M487 90h2M490 90h1M511 90h2M522 90h1M533 90h1M543 90h1M545 90h2M554 90h1M564 90h1M651 90h1M660 90h1M689 90h1M709 90h1M715 90h1M718 90h1M721 90h1M723 90h1M725 90h1M733 90h1M737 90h1M762 90h2M772 90h1M774 90h1M790 90h1M801 90h1M95 92h1M99 92h1M135 92h2M142 92h1M160 92h1M240 92h1M242 92h1M249 92h1M268 92h1M276 92h2M280 92h1M282 92h1M286 92h1M288 92h1M319 92h1M342 92h1M361 92h1M365 92h1M370 92h2M410 92h1M425 92h2M436 92h1M447 92h2M457 92h1M488 92h1M490 92h1M500 92h1M502 92h1M515 92h1M524 92h2M527 92h1M529 92h1M544 92h1M559 92h1M654 92h1M687 92h1M689 92h1M696 92h1M698 92h2M708 92h1M722 92h2M725 92h2M765 92h1M779 92h1M782 92h1M789 92h1M791 92h1M798 92h1M803 92h1M808 92h2M818 92h1M823 92h1M825 92h1M541 94h1M701 94h2M732 94h1M736 94h1M743 94h1M755 94h1M767 94h1M773 94h1M797 94h1M160 96h1M503 96h1M505 96h1M524 96h1M533 96h1M537 96h1M548 96h1M583 96h1M587 96h1M603 96h1M610 96h1M615 96h2M629 96h1M633 96h1M636 96h3M648 96h2M659 96h2M670 96h1M691 96h1M746 96h1M772 96h1M777 96h1M782 96h1M784 96h1M795 96h1M797 96h1M584 98h1M595 98h1M601 98h1M608 98h3M621 98h1M623 98h1M626 98h1M635 98h2M723 98h1M791 98h1M798 98h1M802 98h3M5 104h1M21 104h1M23 104h1M25 104h1M32 104h1M40 104h1M42 104h1M69 104h2M83 104h1M91 104h1M109 104h1M111 104h1M139 104h1M147 104h1M160 104h1M163 104h1M169 104h1M179 104h1M208 104h1M211 104h1M213 104h2M223 104h1M231 104h2M237 104h1M247 104h3M251 104h2M255 104h1M258 104h2M276 104h1M297 104h1M318 104h1M323 104h2M327 104h1M341 104h2M347 104h1M353 104h1M365 104h2M399 104h1M403 104h1M405 104h2M414 104h1M417 104h1M422 104h1M425 104h1M436 104h3M459 104h2M463 104h1M465 104h1M469 104h1M475 104h3M602 104h1M608 104h2M617 104h3M621 104h1M625 104h1M637 104h1M641 104h1M644 104h1M653 104h1M658 104h1M28 106h1M54 106h2M64 106h1M75 106h1M81 106h1M84 106h1M93 106h1M122 106h1M133 106h1M136 106h1M167 106h1M175 106h1M179 106h1M186 106h1M190 106h1M195 106h1M208 106h1M239 106h1M243 106h1M256 106h1M260 106h1M273 106h1M275 106h1M278 106h2M282 106h1M288 106h1M298 106h1M309 106h1M346 106h1M369 106h1M376 106h1M391 106h2M409 106h1M430 106h2M451 106h1M456 106h1M478 106h1M482 106h1M486 106h2M497 106h1M502 106h1M504 106h1M513 106h3M517 106h1M527 106h1M559 106h1M562 106h1M568 106h1M571 106h1M573 106h1M587 106h1M590 106h1M601 106h1M614 106h1M619 106h1M627 106h1M634 106h1M638 106h1M641 106h1M648 106h1M650 106h1M659 106h2M678 106h3M695 106h1M700 106h2M713 106h1M716 106h1M718 106h1M722 106h2M732 106h1M736 106h1M738 106h2M745 106h1M748 106h1M750 106h2M764 106h1M774 106h1M776 106h1M782 106h2M789 106h2M792 106h1M799 106h2M803 106h1M806 106h2M821 106h1M832 106h1"/>
<path stroke="#0000f7" d="M21 0h1M49 0h1M83 0h1M108 0h1M135 0h1M145 0h1M202 0h1M232 0h1M252 0h1M336 0h1M394 0h1M5 2h1M20 2h1M22 2h1M28 2h2M32 2h1M36 2h1M39 2h1M65 2h1M68 2h3M74 2h1M78 2h3M82 2h1M84 2h1M86 2h1M94 2h1M97 2h1M102 2h1M105 2h1M108 2h1M120 2h1M122 2h2M126 2h1M134 2h2M146 2h1M151 2h1M153 2h3M161 2h1M167 2h1M174 2h1M204 2h1M216 2h1M220 2h2M224 2h1M230 2h1M235 2h3M240 2h1M257 2h3M261 2h1M264 2h1M271 2h1M276 2h2M305 2h1M309 2h1M312 2h1M317 2h1M326 2h1M331 2h1M334 2h3M342 2h1M345 2h2M348 2h1M352 2h1M355 2h1M357 2h1M379 2h1M388 2h1M393 2h1M395 2h3M403 2h1M410 2h1M110 4h1M112 4h2M117 4h1M124 4h1M128 4h1M155 4h1M160 4h3M164 4h2M195 4h1M280 4h1M291 4h1M293 4h1M362 4h2M369 4h1M371 4h1M383 4h1M418 4h4M431 4h3M453 4h2M465 4h2M471 4h2M474 4h1M476 4h1M478 4h1M491 4h1M566 4h1M596 4h2M616 4h1M619 4h1M622 4h2M629 4h1M632 4h1M642 4h4M647 4h1M8 6h1M10 6h1M20 6h1M27 6h1M32 6h1M35 6h1M40 6h2M50 6h1M61 6h1M68 6h2M87 6h1M98 6h1M119 6h1M131 6h1M134 6h1M136 6h1M139 6h2M144 6h1M178 6h1M185 6h1M187 6h1M194 6h1M197 6h1M204 6h1M215 6h1M222 6h3M227 6h1M236 6h1M241 6h1M245 6h1M250 6h3M255 6h2M265 6h2M272 6h2M278 6h2M282 6h1M284 6h1M290 6h2M294 6h1M305 6h1M324 6h1M335 6h3M339 6h1M341 6h3M345 6h1M362 6h2M370 6h1M373 6h2M377 6h1M389 6h1M391 6h1M394 6h2M397 6h1M401 6h1M403 6h1M410 6h2M418 6h1M426 6h1M441 6h4M448 6h2M453 6h1M455 6h1M486 6h1M493 6h1M501 6h1M508 6h2M518 6h1M533 6h1M552 6h1M561 6h1M616 6h1M618 6h1M621 6h2M638 6h1M50 8h3M74 8h2M77 8h2M80 8h1M129 8h1M154 8h2M188 8h1M210 8h1M272 8h1M274 8h1M351 8h1M360 8h1M378 8h2M463 8h2M466 8h1M469 8h1M490 8h1M496 8h1M517 8h1M547 8h1M600 8h2M606 8h1M635 8h1M47 10h2M51 10h1M114 10h1M117 10h1M140 10h1M155 10h1M161 10h1M165 10h1M174 10h2M182 10h1M214 10h1M242 10h1M255 10h1M261 10h1M274 10h1M280 10h1M314 10h1M505 10h1M597 10h1M53 12h1M98 12h2M131 12h1M149 12h2M163 12h1M191 12h1M198 12h1M205 12h1M212 12h1M217 12h1M227 12h1M239 12h1M244 12h1M247 12h1M283 12h1M309 12h1M326 12h1M331 12h1M353 12h1M359 12h1M409 12h2M415 12h1M436 12h1M443 12h1M493 12h2M496 12h1M518 12h1M526 12h1M533 12h1M644 12h1M690 12h1M692 12h1M694 12h2M796 12h2M804 12h1M135 14h2M239 14h1M383 14h1M3 16h1M21 16h1M65 16h1M70 16h1M73 16h1M76 16h1M95 16h1M111 16h1M207 16h1M223 16h1M250 16h2M257 16h1M342 16h1M393 16h1M395 16h1M27 18h1M36 18h1M39 18h1M41 18h1M77 18h1M83 18h2M116 18h1M172 18h1M204 18h2M227 18h2M253 18h1M275 18h1M278 18h1M286 18h1M311 18h1M335 18h1M337 18h2M395 18h1M398 18h1M659 18h1M665 18h2M671 18h1M674 18h1M682 18h2M133 22h1M356 22h1M489 22h1M776 22h1M778 22h1M799 22h1M803 22h1M834 22h1M77 24h2M80 24h1M99 24h1M76 26h1M79 26h1M217 32h1M684 36h1M735 38h1M759 38h1M91 40h1M122 40h1M124 40h1M132 40h1M167 40h1M174 40h1M205 40h1M208 40h1M213 40h2M216 40h1M219 40h2M222 40h1M268 40h2M282 40h1M284 40h1M299 40h1M311 40h1M318 40h1M326 40h2M707 40h1M722 40h1M727 40h1M730 40h3M745 40h1M758 40h1M827 40h1M0 42h1M12 42h1M69 42h1M75 42h3M81 42h1M84 42h2M97 42h2M108 42h1M192 42h3M199 42h1M202 42h1M216 42h3M240 42h1M242 42h1M246 42h2M249 42h1M252 42h2M255 42h1M257 42h2M269 42h2M275 42h2M289 42h2M292 42h2M298 42h1M301 42h1M317 42h1M320 42h2M335 42h1M338 42h1M700 42h1M707 42h1M736 42h1M756 42h1M13 44h1M16 44h1M67 44h1M70 44h1M75 44h3M79 44h1M81 44h1M89 44h1M221 44h2M224 44h1M240 44h1M250 44h1M260 44h1M263 44h1M266 44h1M275 44h1M280 44h1M292 44h1M303 44h3M308 44h1M311 44h1M314 44h1M316 44h1M329 44h1M333 44h1M335 44h2M338 44h1M341 44h1M430 44h1M494 44h1M536 44h1M540 44h1M562 44h1M568 44h3M678 44h1M680 44h1M692 44h2M698 44h1M735 44h1M744 44h1M761 44h3M766 44h1M795 44h1M797 44h1M801 44h1M805 44h1M808 44h1M810 44h1M814 44h1M114 46h1M134 46h1M145 46h1M233 46h1M258 46h2M276 46h1M313 46h1M353 46h2M359 46h2M379 46h1M420 46h2M424 46h2M458 46h1M461 46h1M471 46h1M477 46h2M487 46h1M490 46h1M492 46h2M504 46h1M506 46h1M510 46h2M520 46h1M523 46h1M557 46h2M560 46h2M567 46h1M642 46h1M650 46h1M659 46h1M90 48h1M285 48h1M297 48h2M338 48h1M341 48h1M352 48h1M354 48h1M377 48h1M392 48h1M401 48h1M405 48h1M458 48h1M471 48h1M513 48h1M559 48h1M566 48h1M571 48h1M577 48h2M580 48h1M589 48h1M591 48h1M593 48h3M785 48h1M791 48h1M793 48h1M206 50h1M330 50h1M470 50h1M561 50h1M716 50h1M783 50h1M788 50h1M790 50h1M793 50h1M832 50h3M384 52h1M14 54h1M22 54h1M26 54h1M29 54h1M37 54h1M43 54h1M47 54h2M50 54h1M56 54h1M69 54h1M72 54h1M74 54h1M80 54h1M97 54h1M101 54h1M109 54h1M111 54h1M623 56h1M686 56h2M692 56h1M723 56h1M727 56h1M734 56h1M750 56h1M764 56h1M767 56h1M775 56h1M777 56h1M780 56h1M802 56h1M805 56h1M831 56h1M835 56h1M17 58h1M19 58h1M25 58h1M57 58h2M62 58h1M68 58h1M82 58h2M90 58h1M100 58h1M114 58h1M270 58h1M274 58h1M283 58h2M287 58h1M290 58h1M294 58h1M298 58h1M346 58h4M351 58h1M357 58h1M359 58h1M372 58h1M374 58h3M381 58h2M386 58h1M388 58h1M419 58h1M421 58h2M425 58h1M431 58h1M436 58h1M442 58h1M454 58h1M462 58h1M503 58h1M531 58h1M547 58h1M552 58h2M695 58h2M723 58h1M751 58h1M754 58h1M756 58h2M764 58h1M782 58h1M787 58h1M789 58h1M791 58h2M813 58h1M823 58h1M282 60h2M342 60h1M350 60h1M358 60h1M360 60h1M362 60h1M380 60h3M393 60h1M421 60h1M425 60h3M429 60h2M439 60h1M442 60h1M448 60h1M455 60h1M463 60h1M474 60h1M480 60h1M484 60h1M493 60h1M497 60h2M500 60h1M502 60h1M67 62h1M234 62h1M279 62h1M385 62h1M525 62h1M558 62h1M798 62h1M820 62h1M833 62h1M94 64h2M226 64h2M334 64h1M380 64h2M507 64h2M512 64h1M530 64h1M546 64h1M556 64h3M725 64h1M727 64h2M762 64h1M35 66h1M47 66h4M203 66h2M216 66h1M224 66h1M501 66h1M506 66h1M509 66h1M518 66h2M523 66h3M528 66h2M532 66h1M534 66h3M539 66h1M557 66h1M711 66h2M723 66h1M734 66h1M748 66h1M757 66h1M781 66h1M785 66h1M812 66h1M818 66h1M833 66h3M57 68h1M101 68h2M142 68h1M145 68h1M181 68h1M231 68h1M235 68h1M252 68h3M286 68h1M333 68h1M356 68h1M392 68h1M404 68h3M410 68h1M418 68h1M695 68h1M697 68h1M699 68h1M718 68h1M720 68h1M723 68h1M725 68h1M728 68h1M737 68h1M748 68h1M753 68h1M764 68h1M766 68h1M779 68h2M782 68h1M784 68h3M792 68h1M798 68h1M815 68h1M817 68h1M819 68h1M4 70h1M51 70h1M58 70h1M176 70h1M185 70h1M206 70h1M208 70h1M216 70h1M219 70h1M235 70h1M264 70h1M269 70h1M341 70h1M356 70h1M359 70h3M420 70h1M423 70h1M427 70h2M430 70h1M432 70h1M448 70h1M502 70h1M513 70h1M518 70h1M529 70h1M711 70h3M717 70h2M721 70h1M754 70h1M782 70h1M784 70h3M811 70h1M819 70h1M822 70h1M825 70h2M518 72h1M537 72h1M539 72h1M542 72h1M740 72h1M742 72h1M752 72h1M759 72h1M796 72h1M829 72h1M3 74h2M57 74h1M67 74h1M72 74h1M77 74h1M87 74h2M120 74h1M126 74h1M128 74h1M143 74h1M155 74h1M164 74h1M178 74h2M189 74h1M196 74h1M257 74h1M261 74h1M266 74h1M300 74h1M314 74h1M357 74h1M421 74h1M447 74h1M456 74h2M464 74h1M466 74h1M471 74h1M483 74h1M518 74h1M522 74h2M553 74h2M557 74h1M639 74h1M666 74h1M672 74h3M680 74h1M703 74h1M705 74h2M724 74h1M726 74h1M735 74h1M744 74h1M747 74h1M749 74h1M757 74h1M759 74h1M763 74h1M773 74h2M796 74h1M811 74h1M815 74h1M819 74h1M821 74h1M4 76h1M8 76h1M13 76h1M32 76h1M47 76h1M51 76h2M58 76h1M61 76h1M66 76h1M71 76h3M78 76h3M84 76h1M133 76h1M160 76h1M180 76h1M207 76h2M246 76h1M317 76h1M325 76h1M329 76h2M346 76h2M349 76h1M423 76h1M431 76h1M477 76h2M484 76h1M486 76h1M514 76h1M517 76h1M531 76h2M564 76h1M566 76h1M678 76h2M686 76h1M744 76h1M754 76h1M763 76h1M773 76h2M783 76h1M799 76h1M806 76h1M827 76h1M67 78h1M76 78h1M102 78h2M116 78h1M120 78h3M124 78h1M130 78h1M163 78h1M188 78h1M207 78h1M228 78h1M241 78h1M244 78h2M255 78h1M259 78h1M328 78h1M333 78h1M419 78h1M433 78h2M437 78h1M445 78h2M456 78h2M464 78h1M466 78h1M483 78h1M494 78h1M506 78h1M508 78h1M544 78h1M551 78h1M595 78h2M600 78h2M675 78h2M695 78h1M707 78h1M709 78h1M730 78h1M733 78h1M747 78h1M755 78h1M758 78h1M760 78h2M763 78h1M769 78h2M801 78h1M803 78h1M17 80h1M19 80h1M103 80h1M106 80h1M114 80h1M132 80h1M134 80h1M145 80h1M150 80h3M154 80h1M157 80h1M206 80h1M226 80h1M230 80h1M232 80h1M238 80h1M258 80h1M262 80h1M268 80h2M272 80h2M328 80h1M419 80h1M423 80h3M428 80h1M433 80h1M444 80h1M447 80h3M470 80h1M474 80h1M476 80h1M479 80h1M498 80h1M500 80h1M507 80h1M510 80h1M516 80h1M530 80h1M558 80h1M560 80h1M565 80h1M567 80h1M700 80h1M709 80h1M714 80h1M717 80h1M723 80h1M730 80h1M743 80h1M755 80h1M761 80h1M781 80h1M810 80h1M820 80h1M830 80h1M835 80h1M5 82h1M7 82h1M11 82h1M26 82h1M39 82h1M47 82h1M50 82h1M60 82h1M83 82h1M89 82h1M92 82h1M95 82h1M122 82h1M134 82h1M145 82h1M151 82h1M212 82h1M219 82h1M223 82h2M226 82h1M233 82h1M239 82h1M244 82h1M255 82h1M259 82h1M266 82h1M270 82h1M278 82h1M442 82h1M446 82h1M479 82h2M482 82h2M485 82h1M496 82h2M514 82h1M526 82h1M529 82h1M534 82h1M556 82h1M559 82h1M567 82h1M570 82h1M590 82h1M695 82h1M704 82h1M713 82h1M725 82h1M15 84h1M28 84h1M35 84h1M46 84h1M48 84h1M52 84h2M56 84h1M62 84h1M73 84h1M75 84h2M92 84h1M121 84h2M142 84h1M146 84h3M152 84h1M157 84h1M162 84h1M165 84h1M177 84h1M180 84h2M217 84h1M219 84h1M227 84h1M230 84h1M239 84h1M257 84h1M267 84h1M269 84h1M282 84h1M307 84h1M361 84h1M378 84h2M387 84h1M420 84h1M422 84h1M429 84h1M431 84h1M441 84h2M459 84h1M462 84h1M500 84h1M508 84h1M525 84h1M529 84h2M538 84h1M553 84h2M704 84h1M709 84h1M714 84h1M804 84h1M13 86h1M16 86h1M23 86h2M29 86h1M31 86h1M33 86h1M35 86h1M66 86h1M69 86h2M75 86h3M84 86h1M89 86h2M95 86h1M121 86h1M126 86h1M158 86h3M162 86h1M175 86h1M177 86h1M179 86h2M182 86h1M190 86h1M205 86h1M222 86h1M226 86h1M231 86h1M233 86h1M259 86h1M291 86h1M308 86h1M426 86h1M442 86h1M459 86h1M513 86h1M516 86h1M520 86h1M522 86h2M537 86h1M586 86h1M601 86h1M607 86h1M651 86h1M717 86h1M731 86h2M739 86h2M772 86h1M774 86h1M100 88h1M103 88h1M158 88h1M161 88h1M192 88h2M196 88h1M239 88h1M248 88h1M290 88h1M327 88h1M368 88h1M370 88h1M380 88h3M389 88h1M394 88h1M404 88h1M408 88h1M410 88h1M443 88h1M457 88h1M466 88h1M478 88h1M481 88h1M493 88h2M521 88h1M533 88h1M543 88h1M548 88h1M695 88h1M702 88h2M705 88h1M724 88h1M756 88h1M762 88h2M766 88h1M768 88h1M771 88h1M800 88h1M811 88h2M816 88h1M829 88h1M34 90h1M41 90h2M45 90h1M61 90h1M67 90h1M70 90h1M86 90h1M90 90h2M98 90h1M101 90h1M158 90h1M178 90h3M290 90h1M312 90h2M360 90h1M364 90h1M377 90h1M383 90h1M404 90h1M408 90h1M410 90h1M414 90h1M417 90h1M422 90h1M429 90h1M459 90h1M464 90h1M468 90h1M484 90h1M491 90h1M500 90h1M502 90h1M505 90h1M508 90h1M510 90h1M525 90h1M534 90h1M544 90h1M555 90h1M566 90h1M579 90h1M679 90h1M692 90h1M724 90h1M727 90h1M732 90h1M773 90h1M776 90h1M781 90h1M791 90h1M813 90h1M817 90h3M823 90h1M829 90h2M22 92h2M94 92h1M97 92h2M119 92h1M171 92h1M208 92h1M211 92h1M248 92h1M279 92h1M285 92h1M338 92h1M357 92h1M368 92h1M376 92h1M379 92h1M384 92h2M408 92h1M427 92h1M435 92h1M446 92h1M450 92h1M483 92h1M486 92h1M491 92h1M499 92h1M509 92h1M522 92h2M538 92h1M546 92h1M558 92h1M582 92h1M653 92h1M655 92h1M659 92h2M695 92h1M697 92h1M700 92h1M738 92h1M740 92h1M746 92h1M774 92h1M790 92h1M799 92h1M805 92h2M826 92h1M699 94h1M705 94h1M714 94h1M741 94h2M744 94h2M750 94h1M758 94h1M760 94h1M796 94h1M500 96h1M506 96h1M508 96h1M516 96h1M526 96h1M528 96h1M532 96h1M544 96h1M550 96h1M586 96h1M598 96h1M604 96h1M622 96h4M627 96h1M630 96h1M632 96h1M639 96h1M692 96h1M702 96h1M712 96h1M729 96h1M735 96h2M743 96h3M748 96h1M767 96h2M771 96h1M775 96h2M780 96h2M783 96h1M788 96h2M796 96h1M798 96h1M560 98h1M563 98h1M583 98h1M585 98h1M588 98h1M596 98h1M598 98h1M605 98h2M611 98h1M613 98h1M620 98h1M625 98h1M628 98h1M632 98h1M722 98h1M790 98h1M797 98h1M799 98h1M805 98h3M2 104h1M16 104h1M19 104h2M22 104h1M28 104h3M57 104h1M65 104h1M68 104h1M71 104h1M92 104h2M96 104h1M110 104h1M148 104h1M150 104h1M155 104h1M181 104h1M215 104h2M221 104h1M226 104h3M241 104h1M243 104h1M250 104h1M256 104h2M261 104h1M264 104h1M280 104h1M298 104h3M310 104h4M320 104h1M332 104h3M338 104h2M349 104h1M354 104h1M361 104h1M396 104h1M419 104h1M423 104h1M439 104h1M442 104h1M444 104h1M447 104h1M450 104h1M456 104h1M461 104h1M464 104h1M467 104h1M479 104h1M481 104h1M492 104h1M600 104h1M606 104h2M615 104h1M622 104h1M628 104h1M636 104h1M638 104h1M652 104h1M654 104h1M678 104h1M680 104h1M44 106h1M51 106h1M59 106h1M61 106h2M71 106h1M79 106h1M88 106h1M96 106h1M139 106h1M141 106h1M168 106h1M176 106h1M189 106h1M192 106h1M204 106h1M240 106h1M245 106h1M270 106h3M290 106h2M310 106h1M361 106h1M365 106h2M375 106h1M379 106h1M384 106h1M389 106h1M393 106h2M397 106h1M406 106h1M408 106h1M413 106h1M449 106h1M453 106h2M463 106h1M475 106h1M484 106h2M488 106h1M496 106h1M500 106h1M503 106h1M529 106h1M534 106h1M557 106h1M565 106h1M567 106h1M584 106h2M589 106h1M600 106h1M602 106h1M618 106h1M622 106h2M636 106h1M645 106h1M649 106h1M657 106h1M661 106h1M719 106h1M744 106h1M747 106h1M755 106h1M759 106h2M768 106h1M770 106h1M779 106h1M787 106h2M791 106h1M793 106h1M796 106h1M810 106h1M822 106h1M835 106h1"/>
<path stroke="#1200ff" d="M119 0h1M168 0h1M203 0h1M333 0h1M35 2h1M40 2h1M49 2h1M73 2h1M77 2h1M98 2h1M115 2h1M118 2h1M145 2h1M152 2h1M166 2h1M202 2h1M222 2h2M231 2h1M247 2h2M252 2h1M263 2h1M310 2h2M324 2h1M332 2h1M391 2h1M0 4h1M3 4h1M6 4h4M13 4h1M15 4h5M24 4h1M59 4h1M62 4h2M65 4h3M71 4h2M81 4h1M111 4h1M114 4h1M116 4h1M120 4h1M123 4h1M125 4h1M127 4h1M129 4h1M131 4h3M137 4h2M141 4h1M151 4h1M153 4h2M166 4h2M169 4h4M181 4h1M184 4h3M190 4h2M196 4h1M269 4h1M273 4h2M278 4h2M285 4h3M290 4h1M292 4h1M294 4h3M300 4h1M340 4h1M344 4h1M359 4h1M370 4h1M372 4h1M382 4h1M387 4h1M389 4h2M405 4h1M415 4h1M425 4h1M429 4h2M434 4h1M446 4h2M455 4h2M461 4h2M464 4h1M468 4h1M470 4h1M473 4h1M475 4h1M477 4h1M479 4h3M485 4h1M487 4h3M492 4h1M498 4h1M502 4h2M511 4h2M560 4h1M562 4h1M565 4h1M579 4h2M582 4h2M586 4h3M595 4h1M598 4h4M614 4h2M618 4h1M628 4h1M633 4h2M641 4h1M648 4h1M26 6h1M29 6h1M56 6h1M59 6h1M120 6h1M122 6h1M193 6h1M200 6h2M230 6h3M237 6h1M253 6h2M277 6h1M289 6h1M292 6h1M306 6h1M334 6h1M346 6h2M399 6h1M420 6h1M422 6h3M451 6h2M500 6h1M514 6h3M645 6h4M46 8h2M49 8h1M79 8h1M126 8h1M130 8h1M133 8h1M190 8h1M211 8h1M217 8h1M247 8h1M294 8h2M322 8h1M352 8h1M405 8h2M409 8h1M468 8h1M471 8h1M499 8h1M518 8h1M552 8h2M602 8h2M605 8h1M52 10h1M56 10h1M105 10h1M111 10h1M126 10h1M128 10h1M130 10h1M133 10h2M137 10h1M139 10h1M156 10h1M164 10h1M173 10h1M191 10h1M219 10h2M240 10h1M248 10h1M275 10h2M508 10h1M570 10h1M58 12h1M105 12h1M108 12h2M115 12h1M128 12h1M130 12h1M132 12h3M154 12h1M161 12h1M199 12h2M203 12h1M213 12h2M218 12h1M246 12h1M273 12h1M280 12h2M323 12h2M327 12h1M370 12h1M385 12h1M405 12h2M412 12h1M416 12h1M499 12h1M615 12h1M650 12h1M687 12h3M693 12h1M720 12h1M747 12h1M800 12h1M805 12h1M126 14h1M130 14h1M185 14h1M189 14h1M321 14h1M413 14h1M415 14h2M712 14h1M777 14h1M832 14h1M2 16h1M22 16h1M57 16h1M61 16h3M67 16h3M75 16h1M77 16h1M113 16h1M123 16h1M127 16h2M208 16h1M213 16h1M228 16h1M244 16h1M255 16h1M292 16h1M296 16h1M311 16h2M318 16h1M320 16h1M328 16h1M343 16h1M21 18h1M45 18h1M54 18h2M57 18h1M60 18h1M62 18h1M86 18h1M113 18h2M130 18h1M149 18h1M179 18h1M239 18h1M290 18h1M305 18h1M312 18h1M333 18h1M340 18h1M344 18h1M370 18h1M372 18h2M661 18h1M133 20h1M71 22h1M218 22h1M239 22h1M357 22h1M377 22h1M523 22h1M777 22h1M804 22h1M75 24h1M98 24h1M100 24h3M74 26h1M77 26h1M122 26h1M196 26h1M216 26h1M239 26h1M267 26h1M313 26h2M78 32h1M299 32h1M358 32h1M742 38h1M748 38h1M750 38h1M761 38h1M90 40h1M112 40h1M123 40h1M133 40h1M144 40h1M168 40h1M170 40h4M179 40h1M203 40h1M209 40h1M217 40h1M223 40h1M229 40h1M270 40h1M274 40h2M283 40h1M291 40h1M296 40h1M298 40h1M310 40h1M314 40h1M340 40h1M710 40h2M723 40h2M733 40h1M756 40h1M816 40h1M67 42h2M70 42h1M78 42h3M82 42h1M93 42h3M109 42h1M132 42h2M197 42h1M205 42h1M212 42h2M215 42h1M225 42h1M251 42h1M254 42h1M268 42h1M285 42h2M296 42h2M306 42h2M322 42h1M336 42h1M341 42h1M706 42h1M718 42h1M739 42h1M746 42h1M757 42h1M821 42h1M825 42h2M12 44h1M15 44h1M66 44h1M68 44h1M74 44h1M78 44h1M80 44h1M88 44h1M107 44h1M109 44h2M197 44h1M203 44h1M218 44h1M220 44h1M235 44h2M238 44h2M242 44h1M245 44h1M269 44h1M277 44h2M288 44h1M290 44h2M293 44h1M296 44h1M301 44h2M313 44h1M315 44h1M334 44h1M339 44h2M421 44h1M425 44h1M431 44h2M438 44h1M440 44h1M444 44h1M446 44h2M455 44h1M469 44h1M544 44h1M548 44h1M551 44h1M553 44h1M556 44h1M559 44h2M563 44h1M679 44h1M682 44h1M689 44h1M694 44h3M704 44h2M707 44h1M711 44h1M734 44h1M745 44h2M755 44h1M757 44h1M800 44h1M804 44h1M142 46h1M267 46h1M283 46h1M339 46h1M419 46h1M422 46h2M426 46h2M459 46h1M480 46h2M485 46h1M498 46h1M502 46h2M508 46h1M512 46h1M514 46h2M519 46h1M552 46h1M559 46h1M678 46h1M683 46h1M91 48h1M286 48h1M348 48h1M353 48h1M375 48h1M397 48h1M501 48h1M503 48h2M514 48h2M530 48h1M569 48h1M576 48h1M588 48h1M590 48h1M592 48h1M757 48h1M786 48h1M789 48h2M792 48h1M465 50h1M562 50h1M768 50h1M792 50h1M382 52h2M1 54h1M6 54h1M27 54h1M36 54h1M46 54h1M62 54h1M92 54h1M96 54h1M106 54h1M112 54h2M115 54h1M117 54h1M665 56h1M682 56h1M685 56h1M693 56h1M729 56h1M754 56h1M763 56h1M768 56h5M814 56h1M829 56h1M10 58h1M23 58h1M39 58h1M54 58h1M56 58h1M63 58h1M65 58h1M81 58h1M84 58h3M108 58h1M129 58h1M285 58h1M291 58h3M297 58h1M350 58h1M353 58h2M360 58h1M363 58h3M373 58h1M390 58h1M428 58h2M446 58h1M507 58h1M544 58h1M551 58h1M722 58h1M732 58h2M742 58h1M755 58h1M758 58h1M767 58h2M776 58h1M779 58h1M783 58h2M788 58h1M796 58h2M800 58h2M824 58h1M272 60h2M275 60h1M284 60h1M286 60h1M289 60h1M352 60h2M363 60h2M366 60h1M368 60h1M370 60h2M374 60h1M383 60h1M388 60h1M392 60h1M394 60h1M397 60h1M415 60h1M422 60h1M428 60h1M443 60h1M445 60h1M462 60h1M479 60h1M485 60h3M495 60h1M499 60h1M223 62h3M383 62h2M519 62h1M526 62h1M534 62h1M536 62h2M549 62h1M551 62h1M809 62h1M811 62h1M822 62h1M834 62h1M234 64h1M539 64h1M547 64h2M726 64h1M731 64h1M739 64h1M766 64h2M792 64h1M51 66h1M53 66h2M65 66h1M220 66h1M222 66h1M507 66h1M510 66h1M527 66h1M542 66h1M547 66h2M555 66h1M698 66h1M709 66h1M726 66h1M735 66h1M749 66h1M780 66h1M790 66h1M794 66h1M831 66h2M103 68h1M128 68h1M251 68h1M357 68h2M361 68h1M372 68h1M377 68h1M407 68h1M411 68h1M414 68h1M709 68h1M730 68h2M758 68h1M778 68h1M797 68h1M820 68h1M823 68h3M834 68h1M178 70h2M182 70h1M184 70h1M189 70h2M215 70h1M237 70h1M239 70h1M241 70h2M265 70h1M267 70h1M287 70h1M318 70h1M333 70h1M357 70h2M362 70h1M431 70h1M433 70h1M449 70h1M478 70h1M491 70h2M525 70h1M532 70h2M537 70h1M539 70h2M543 70h2M710 70h1M719 70h1M724 70h1M738 70h1M741 70h2M748 70h1M753 70h1M757 70h1M761 70h1M787 70h2M791 70h1M801 70h1M824 70h1M832 70h2M524 72h1M540 72h1M554 72h1M702 72h1M708 72h1M741 72h1M753 72h1M797 72h1M824 72h1M13 74h1M90 74h1M127 74h1M132 74h1M142 74h1M156 74h1M176 74h2M242 74h1M258 74h1M262 74h1M264 74h1M341 74h1M349 74h1M446 74h1M460 74h1M485 74h1M509 74h1M524 74h1M526 74h1M537 74h1M556 74h1M568 74h1M570 74h1M647 74h1M667 74h1M669 74h1M679 74h1M686 74h1M690 74h1M694 74h1M697 74h1M699 74h2M738 74h2M741 74h1M745 74h1M748 74h1M781 74h1M814 74h1M818 74h1M3 76h1M9 76h1M30 76h2M33 76h1M35 76h1M44 76h1M46 76h1M55 76h1M62 76h1M69 76h2M83 76h1M102 76h2M120 76h1M136 76h1M232 76h2M245 76h1M252 76h1M257 76h1M320 76h1M331 76h1M340 76h1M342 76h1M476 76h1M479 76h1M482 76h1M485 76h1M496 76h1M505 76h1M515 76h2M527 76h1M530 76h1M533 76h1M551 76h1M568 76h2M673 76h2M709 76h1M730 76h1M732 76h1M745 76h1M748 76h1M752 76h1M770 76h1M790 76h1M828 76h2M74 78h2M94 78h2M98 78h1M110 78h1M123 78h1M131 78h1M133 78h1M137 78h1M160 78h2M211 78h2M230 78h1M236 78h1M300 78h1M321 78h1M326 78h1M330 78h1M332 78h1M335 78h1M424 78h3M436 78h1M438 78h1M467 78h1M481 78h2M487 78h1M495 78h1M509 78h1M550 78h1M552 78h1M556 78h2M734 78h1M738 78h1M740 78h1M795 78h1M804 78h1M810 78h1M815 78h2M821 78h1M826 78h1M830 78h2M68 80h1M101 80h1M105 80h1M110 80h1M112 80h1M120 80h1M127 80h1M129 80h1M131 80h1M137 80h1M153 80h1M156 80h1M208 80h1M223 80h2M231 80h1M241 80h1M247 80h1M251 80h1M259 80h1M265 80h2M308 80h2M325 80h1M327 80h1M364 80h1M420 80h1M426 80h1M431 80h1M440 80h1M442 80h1M453 80h1M468 80h2M473 80h1M480 80h2M484 80h1M503 80h1M517 80h2M529 80h1M533 80h1M561 80h1M713 80h1M716 80h1M809 80h1M817 80h2M822 80h1M826 80h1M829 80h1M831 80h1M834 80h1M3 82h2M6 82h1M27 82h1M35 82h2M40 82h2M44 82h3M64 82h1M82 82h1M98 82h1M111 82h1M121 82h1M124 82h1M126 82h1M129 82h1M143 82h1M150 82h1M215 82h1M220 82h1M235 82h2M242 82h1M245 82h1M250 82h1M256 82h1M265 82h1M362 82h1M441 82h1M444 82h1M484 82h1M499 82h1M511 82h1M516 82h1M531 82h1M546 82h1M548 82h3M555 82h1M705 82h1M707 82h2M716 82h3M721 82h1M727 82h2M0 84h1M8 84h2M31 84h1M44 84h2M54 84h1M57 84h1M61 84h1M70 84h1M81 84h1M114 84h1M133 84h1M136 84h1M155 84h1M158 84h1M170 84h1M175 84h2M184 84h2M194 84h1M231 84h1M233 84h1M236 84h1M256 84h1M258 84h1M281 84h1M309 84h1M374 84h1M403 84h1M406 84h1M419 84h1M421 84h1M423 84h1M427 84h2M430 84h1M436 84h1M447 84h1M460 84h1M499 84h1M509 84h1M519 84h3M523 84h1M531 84h1M534 84h3M544 84h1M548 84h1M555 84h1M695 84h1M700 84h2M705 84h1M707 84h1M710 84h2M724 84h1M17 86h1M42 86h1M46 86h3M62 86h1M67 86h2M73 86h1M88 86h1M94 86h1M96 86h1M117 86h1M122 86h1M129 86h1M134 86h1M138 86h2M147 86h1M161 86h1M163 86h2M166 86h1M168 86h1M170 86h1M181 86h1M204 86h1M214 86h1M216 86h1M224 86h1M228 86h2M234 86h1M258 86h1M373 86h1M378 86h2M438 86h1M455 86h1M519 86h1M524 86h1M526 86h4M618 86h1M700 86h1M703 86h2M730 86h1M734 86h1M768 86h1M773 86h1M775 86h1M779 86h1M784 86h1M787 86h2M203 88h1M240 88h1M291 88h1M299 88h1M313 88h1M385 88h1M401 88h1M415 88h1M418 88h1M455 88h1M460 88h1M472 88h1M500 88h1M514 88h2M522 88h1M536 88h2M544 88h2M549 88h1M559 88h2M652 88h1M729 88h1M732 88h1M734 88h1M765 88h1M773 88h1M776 88h1M799 88h1M836 88h1M22 90h1M25 90h1M38 90h2M43 90h2M69 90h1M92 90h1M97 90h1M124 90h1M160 90h1M276 90h1M291 90h1M300 90h1M326 90h2M376 90h1M379 90h1M385 90h1M393 90h1M401 90h1M411 90h1M416 90h1M424 90h1M430 90h1M443 90h2M449 90h2M462 90h1M467 90h1M478 90h1M498 90h1M501 90h1M509 90h1M524 90h1M542 90h1M561 90h1M567 90h2M658 90h2M702 90h1M710 90h1M716 90h1M719 90h2M730 90h2M806 90h2M820 90h1M96 92h1M143 92h1M161 92h1M214 92h1M272 92h2M281 92h1M367 92h1M374 92h1M377 92h1M395 92h1M397 92h1M411 92h1M413 92h1M417 92h1M438 92h1M445 92h1M463 92h1M485 92h1M487 92h1M489 92h1M498 92h1M501 92h1M508 92h1M528 92h1M530 92h4M545 92h1M547 92h2M552 92h1M560 92h1M563 92h2M566 92h1M658 92h1M702 92h1M706 92h1M715 92h1M751 92h1M773 92h1M800 92h1M816 92h1M824 92h1M829 92h2M538 94h1M542 94h1M698 94h1M703 94h1M731 94h1M759 94h1M502 96h1M504 96h1M507 96h1M514 96h1M529 96h1M535 96h1M538 96h1M541 96h2M559 96h1M595 96h1M611 96h2M617 96h1M626 96h1M631 96h1M690 96h1M693 96h1M698 96h1M701 96h1M703 96h1M711 96h1M713 96h2M728 96h1M737 96h1M741 96h2M752 96h1M756 96h2M761 96h1M556 98h2M561 98h1M586 98h2M602 98h1M624 98h1M627 98h1M629 98h1M631 98h1M712 98h2M780 98h1M788 98h2M795 98h2M800 98h2M37 104h3M44 104h1M47 104h2M51 104h2M56 104h1M64 104h1M67 104h1M82 104h1M90 104h1M98 104h1M183 104h1M193 104h1M196 104h1M199 104h2M202 104h1M210 104h1M217 104h2M225 104h1M239 104h2M242 104h1M260 104h1M330 104h1M346 104h1M350 104h1M352 104h1M363 104h1M368 104h1M372 104h1M375 104h1M378 104h1M380 104h1M385 104h1M394 104h1M407 104h3M412 104h1M440 104h1M445 104h1M448 104h2M462 104h1M466 104h1M480 104h1M603 104h1M616 104h1M620 104h1M623 104h1M649 104h2M655 104h2M679 104h1M766 104h1M15 106h1M47 106h4M60 106h1M72 106h1M76 106h2M80 106h1M95 106h1M149 106h2M154 106h2M169 106h1M197 106h1M203 106h1M269 106h1M277 106h1M280 106h2M289 106h1M299 106h1M351 106h1M353 106h1M402 106h1M404 106h1M410 106h1M455 106h1M459 106h2M462 106h1M467 106h1M471 106h2M505 106h1M519 106h1M522 106h1M564 106h1M594 106h2M615 106h1M724 106h1M726 106h1M734 106h1M737 106h1M746 106h1M749 106h1M761 106h3M767 106h1M769 106h1M794 106h2M801 106h2M804 106h1M808 106h1M828 106h1M834 106h1"/>
<path stroke="#2a00ff" d="M21 2h1M83 2h1M119 2h1M203 2h1M232 2h1M260 2h1M394 2h1M1 4h2M4 4h1M10 4h3M14 4h1M23 4h1M25 4h1M56 4h1M58 4h1M60 4h2M64 4h1M68 4h2M73 4h2M76 4h1M78 4h3M91 4h1M107 4h1M109 4h1M115 4h1M118 4h2M121 4h2M126 4h1M130 4h1M136 4h1M142 4h1M147 4h4M152 4h1M173 4h8M182 4h2M188 4h1M192 4h1M194 4h1M197 4h1M201 4h1M211 4h1M213 4h1M225 4h5M233 4h2M244 4h1M265 4h1M267 4h2M270 4h3M275 4h1M277 4h1M281 4h1M288 4h2M297 4h3M302 4h1M304 4h1M308 4h1M321 4h2M325 4h1M328 4h2M353 4h3M358 4h1M364 4h3M373 4h3M381 4h1M388 4h1M392 4h2M396 4h1M398 4h1M400 4h1M404 4h1M406 4h4M412 4h3M416 4h2M423 4h2M427 4h2M435 4h2M438 4h3M445 4h1M448 4h2M451 4h2M457 4h1M459 4h2M469 4h1M482 4h3M486 4h1M493 4h3M497 4h1M499 4h1M501 4h1M504 4h1M506 4h1M513 4h1M526 4h2M532 4h1M535 4h2M539 4h3M544 4h1M554 4h1M558 4h2M561 4h1M563 4h2M567 4h1M574 4h5M581 4h1M584 4h2M589 4h1M592 4h1M594 4h1M602 4h1M604 4h1M608 4h3M624 4h1M28 6h1M54 6h2M57 6h2M60 6h1M121 6h1M198 6h1M202 6h1M258 6h1M264 6h1M309 6h1M311 6h1M333 6h1M348 6h1M365 6h3M419 6h1M614 6h2M45 8h1M134 8h1M156 8h1M189 8h1M191 8h2M212 8h1M218 8h1M239 8h1M241 8h1M243 8h1M275 8h1M349 8h1M357 8h1M519 8h2M638 8h2M829 8h1M58 10h1M104 10h1M115 10h1M129 10h1M154 10h1M192 10h1M211 10h1M216 10h1M238 10h1M244 10h1M829 10h1M104 12h1M129 12h1M136 12h1M164 12h2M184 12h2M201 12h1M207 12h1M219 12h1M253 12h3M282 12h1M321 12h2M328 12h2M332 12h1M352 12h1M386 12h1M414 12h1M642 12h1M645 12h1M649 12h1M656 12h1M663 12h1M685 12h1M713 12h1M719 12h1M746 12h1M806 12h1M127 14h1M183 14h1M191 14h2M244 14h1M332 14h1M693 14h1M714 14h2M774 14h1M796 14h1M799 14h1M802 14h1M1 16h1M58 16h1M60 16h1M64 16h1M66 16h1M74 16h1M124 16h3M129 16h2M180 16h1M182 16h1M209 16h2M212 16h1M226 16h1M256 16h1M274 16h1M313 16h1M331 16h1M396 16h1M26 18h1M46 18h1M56 18h1M58 18h1M63 18h1M65 18h1M78 18h1M115 18h1M202 18h2M229 18h1M240 18h1M277 18h1M281 18h1M300 18h1M313 18h1M365 18h1M393 18h1M404 18h2M660 18h1M131 20h1M275 20h1M496 20h1M498 20h1M72 22h1M136 22h1M165 22h1M383 22h1M387 22h1M490 22h1M498 22h1M519 22h1M800 22h3M74 24h1M76 24h1M293 24h1M81 26h1M98 26h2M104 26h1M119 26h1M125 26h1M128 26h2M132 26h1M160 26h1M187 26h1M197 26h1M217 26h1M222 26h1M399 26h1M419 26h1M515 26h1M568 26h1M76 32h1M739 38h1M756 38h1M113 40h1M116 40h1M121 40h1M143 40h1M165 40h1M175 40h3M221 40h1M224 40h1M313 40h1M328 40h1M332 40h1M335 40h1M338 40h1M699 40h1M709 40h1M712 40h2M715 40h1M718 40h1M721 40h1M744 40h1M66 42h1M72 42h1M74 42h1M83 42h1M86 42h1M91 42h2M96 42h1M100 42h1M103 42h1M105 42h2M195 42h2M203 42h1M214 42h1M226 42h1M230 42h2M238 42h1M241 42h1M248 42h1M271 42h2M291 42h1M315 42h2M340 42h1M701 42h1M712 42h1M715 42h3M719 42h1M733 42h1M750 42h1M753 42h3M822 42h1M61 44h1M71 44h3M90 44h2M97 44h2M108 44h1M144 44h1M147 44h1M167 44h1M189 44h1M219 44h1M237 44h1M246 44h2M252 44h3M256 44h3M270 44h1M273 44h1M276 44h1M279 44h1M284 44h1M289 44h1M295 44h1M298 44h1M306 44h1M312 44h1M420 44h1M422 44h2M426 44h3M434 44h1M437 44h1M441 44h2M445 44h1M448 44h1M454 44h1M456 44h1M464 44h5M470 44h1M537 44h1M539 44h1M541 44h1M543 44h1M547 44h1M549 44h2M561 44h1M572 44h1M688 44h1M690 44h2M726 44h1M733 44h1M767 44h1M802 44h2M806 44h1M337 46h1M380 46h1M429 46h1M482 46h3M486 46h1M494 46h1M496 46h2M505 46h1M507 46h1M553 46h1M563 46h1M672 46h1M679 46h1M345 48h1M347 48h1M393 48h1M396 48h1M400 48h1M406 48h1M425 48h1M476 48h1M485 48h4M502 48h1M506 48h1M509 48h1M545 48h1M552 48h1M558 48h1M567 48h2M570 48h1M597 48h2M756 48h1M759 48h1M765 48h1M835 48h2M471 50h1M491 50h1M501 50h1M563 50h1M789 50h1M831 50h1M16 54h1M18 54h1M66 54h1M95 54h1M99 54h1M107 54h2M688 56h1M733 56h1M737 56h1M762 56h1M793 56h1M800 56h1M808 56h1M815 56h1M817 56h1M830 56h1M22 58h1M26 58h1M38 58h1M55 58h1M66 58h1M69 58h1M98 58h1M103 58h1M107 58h1M110 58h1M113 58h1M115 58h1M288 58h1M295 58h1M302 58h3M319 58h1M352 58h1M378 58h1M383 58h3M441 58h1M443 58h1M448 58h1M504 58h3M508 58h1M543 58h1M548 58h1M550 58h1M727 58h1M759 58h2M762 58h2M778 58h1M781 58h1M785 58h1M795 58h1M809 58h1M815 58h1M829 58h1M833 58h2M836 58h1M271 60h1M274 60h1M276 60h6M285 60h1M297 60h1M330 60h2M354 60h1M356 60h1M359 60h1M369 60h1M372 60h1M378 60h1M386 60h2M419 60h1M431 60h1M438 60h1M446 60h1M503 60h1M810 62h1M821 62h1M531 64h3M545 64h1M552 64h2M710 64h1M720 64h2M732 64h1M761 64h1M763 64h3M787 64h1M793 64h1M799 64h2M806 64h1M52 66h1M55 66h1M64 66h1M221 66h1M223 66h1M228 66h1M508 66h1M511 66h2M537 66h1M544 66h3M552 66h1M556 66h1M699 66h1M724 66h1M736 66h2M758 66h2M786 66h1M809 66h2M819 66h1M823 66h1M829 66h2M354 68h1M360 68h1M367 68h1M374 68h1M376 68h1M378 68h1M412 68h1M698 68h1M724 68h1M727 68h1M732 68h3M736 68h1M765 68h1M781 68h1M789 68h1M794 68h1M829 68h1M831 68h3M57 70h1M177 70h1M191 70h2M194 70h1M211 70h2M214 70h1M243 70h1M263 70h1M266 70h1M268 70h1M288 70h1M365 70h1M382 70h2M441 70h2M444 70h1M447 70h1M473 70h1M475 70h1M501 70h1M509 70h1M538 70h1M547 70h1M720 70h1M743 70h1M747 70h1M749 70h1M752 70h1M760 70h1M762 70h1M771 70h1M781 70h1M812 70h1M823 70h1M827 70h1M831 70h1M529 72h1M532 72h1M545 72h2M549 72h1M703 72h2M758 72h1M828 72h1M111 74h1M131 74h1M152 74h1M159 74h2M163 74h1M259 74h1M265 74h1M422 74h1M459 74h1M472 74h1M474 74h1M488 74h1M550 74h1M552 74h1M561 74h1M668 74h1M677 74h2M704 74h1M736 74h1M742 74h2M746 74h1M10 76h1M14 76h1M26 76h4M43 76h1M45 76h1M49 76h2M53 76h1M77 76h1M82 76h1M104 76h1M111 76h1M116 76h1M130 76h1M132 76h1M134 76h2M236 76h2M240 76h1M242 76h1M247 76h1M249 76h1M255 76h2M318 76h1M324 76h1M328 76h1M343 76h1M421 76h2M468 76h1M470 76h2M494 76h2M518 76h1M529 76h1M536 76h2M547 76h2M550 76h1M567 76h1M677 76h1M731 76h1M736 76h1M741 76h3M747 76h1M749 76h1M755 76h4M782 76h1M784 76h2M104 78h2M132 78h1M134 78h1M210 78h1M251 78h1M334 78h1M420 78h1M423 78h1M431 78h2M435 78h1M465 78h1M504 78h1M548 78h1M735 78h1M739 78h1M744 78h3M756 78h2M800 78h1M802 78h1M813 78h1M832 78h1M113 80h1M115 80h1M128 80h1M234 80h1M250 80h1M326 80h1M334 80h1M361 80h1M422 80h1M432 80h1M438 80h2M446 80h1M450 80h1M471 80h1M485 80h1M497 80h1M499 80h1M506 80h1M519 80h2M525 80h1M531 80h1M534 80h1M707 80h2M715 80h1M738 80h1M741 80h2M792 80h1M808 80h1M819 80h1M823 80h1M832 80h1M2 82h1M34 82h1M42 82h2M69 82h1M72 82h1M78 82h1M80 82h1M85 82h1M88 82h1M96 82h1M101 82h2M110 82h1M112 82h1M123 82h1M125 82h1M130 82h1M136 82h1M211 82h1M443 82h1M448 82h1M512 82h1M532 82h1M535 82h1M537 82h1M539 82h1M545 82h1M551 82h2M557 82h2M560 82h1M565 82h1M700 82h1M720 82h1M1 84h1M5 84h1M12 84h1M30 84h1M43 84h1M49 84h1M58 84h2M69 84h1M111 84h1M116 84h1M130 84h1M134 84h1M159 84h3M166 84h1M171 84h2M188 84h1M193 84h1M195 84h1M197 84h2M214 84h1M234 84h2M265 84h1M268 84h1M424 84h2M524 84h1M528 84h1M540 84h1M547 84h1M703 84h1M715 84h1M717 84h1M720 84h1M722 84h1M726 84h1M728 84h1M736 84h1M787 84h2M800 84h1M805 84h1M826 84h1M831 84h1M8 86h1M14 86h2M25 86h1M27 86h2M30 86h1M32 86h1M58 86h4M85 86h2M93 86h1M116 86h1M123 86h1M128 86h1M142 86h1M165 86h1M167 86h1M169 86h1M172 86h3M176 86h1M188 86h2M191 86h1M206 86h1M217 86h1M223 86h1M227 86h1M230 86h1M303 86h1M403 86h1M425 86h1M518 86h1M530 86h1M695 86h1M701 86h2M721 86h1M728 86h2M733 86h1M769 86h1M778 86h1M786 86h1M197 88h2M292 88h1M300 88h1M375 88h1M386 88h1M388 88h1M392 88h1M397 88h2M403 88h1M411 88h1M459 88h1M495 88h1M499 88h1M509 88h1M516 88h1M535 88h1M554 88h2M651 88h1M653 88h1M658 88h2M716 88h1M726 88h2M774 88h1M777 88h1M24 90h1M27 90h1M30 90h1M33 90h1M40 90h1M68 90h1M96 90h1M248 90h1M292 90h1M358 90h2M370 90h1M394 90h1M396 90h2M403 90h1M415 90h1M419 90h1M423 90h1M427 90h1M466 90h1M497 90h1M499 90h1M504 90h1M523 90h1M541 90h1M569 90h2M573 90h1M696 90h1M708 90h1M711 90h1M717 90h1M777 90h1M824 90h2M209 92h2M219 92h1M269 92h1M278 92h1M360 92h1M364 92h1M387 92h1M392 92h2M403 92h2M414 92h1M459 92h4M526 92h1M536 92h2M562 92h1M705 92h1M707 92h1M780 92h1M811 92h2M551 94h1M700 94h1M704 94h1M720 94h1M737 94h1M739 94h1M749 94h1M765 94h2M552 96h1M560 96h1M562 96h1M596 96h1M621 96h1M687 96h1M694 96h1M696 96h2M699 96h1M704 96h2M721 96h1M724 96h2M730 96h1M732 96h3M739 96h2M753 96h1M755 96h1M766 96h1M773 96h1M558 98h1M562 98h1M630 98h1M707 98h2M711 98h1M714 98h1M716 98h2M721 98h1M724 98h1M779 98h1M781 98h2M785 98h3M808 98h1M1 104h1M49 104h2M53 104h1M66 104h1M79 104h1M81 104h1M84 104h3M88 104h2M95 104h1M97 104h1M141 104h1M149 104h1M182 104h1M185 104h1M198 104h1M201 104h1M204 104h1M207 104h1M224 104h1M244 104h3M321 104h1M331 104h1M351 104h1M355 104h2M364 104h1M367 104h1M376 104h1M379 104h1M381 104h1M386 104h1M395 104h1M410 104h1M413 104h1M418 104h1M443 104h1M446 104h1M455 104h1M482 104h1M489 104h1M639 104h2M14 106h1M78 106h1M140 106h1M153 106h1M194 106h1M207 106h1M210 106h1M276 106h1M295 106h1M352 106h1M355 106h1M363 106h2M368 106h1M374 106h1M396 106h1M405 106h1M407 106h1M411 106h1M450 106h1M458 106h1M461 106h1M465 106h1M469 106h1M492 106h2M495 106h1M506 106h4M511 106h2M518 106h1M525 106h2M558 106h1M611 106h1M617 106h1M628 106h1M639 106h1M644 106h1M656 106h1M658 106h1M725 106h1M727 106h2M731 106h1M752 106h1M754 106h1M765 106h1M786 106h1M824 106h1M829 106h1M833 106h1"/>
<path stroke="#4200ff" d="M168 2h1M333 2h1M5 4h1M20 4h1M26 4h2M57 4h1M70 4h1M75 4h1M77 4h1M82 4h1M85 4h1M89 4h2M92 4h1M94 4h4M103 4h4M108 4h1M134 4h2M139 4h2M143 4h1M145 4h2M168 4h1M187 4h1M189 4h1M193 4h1M200 4h1M205 4h1M207 4h4M212 4h1M214 4h2M230 4h3M243 4h1M245 4h2M249 4h1M256 4h1M258 4h2M261 4h4M266 4h1M276 4h1M282 4h2M301 4h1M303 4h1M305 4h1M307 4h1M315 4h1M320 4h1M323 4h1M326 4h2M330 4h1M334 4h2M337 4h3M341 4h1M343 4h1M345 4h2M356 4h2M367 4h1M376 4h3M380 4h1M391 4h1M394 4h2M397 4h1M399 4h1M401 4h2M410 4h2M422 4h1M426 4h1M437 4h1M442 4h3M458 4h1M463 4h1M496 4h1M500 4h1M505 4h1M507 4h1M510 4h1M515 4h1M517 4h6M525 4h1M528 4h3M534 4h1M537 4h2M542 4h2M545 4h3M553 4h1M555 4h1M557 4h1M571 4h3M590 4h2M593 4h1M603 4h1M605 4h3M611 4h3M199 6h1M203 6h1M257 6h1M259 6h1M261 6h2M310 6h1M364 6h1M48 8h1M135 8h1M185 8h1M213 8h1M240 8h1M293 8h1M325 8h1M350 8h1M410 8h2M413 8h1M489 8h1M521 8h1M628 8h2M634 8h1M636 8h2M45 10h2M135 10h2M210 10h1M215 10h1M253 10h2M279 10h1M615 10h1M830 10h1M111 12h1M135 12h1M215 12h2M245 12h1M279 12h1M489 12h1M647 12h2M653 12h1M686 12h1M745 12h1M748 12h1M771 12h4M826 12h1M833 12h2M129 14h1M656 14h1M664 14h1M687 14h1M729 14h1M732 14h1M771 14h3M797 14h2M833 14h1M0 16h1M56 16h1M59 16h1M96 16h1M181 16h1M224 16h2M229 16h1M233 16h1M247 16h1M285 16h1M319 16h1M335 16h2M416 16h2M49 18h1M64 18h1M88 18h2M106 18h1M108 18h1M111 18h1M161 18h1M177 18h1M180 18h1M233 18h1M276 18h1M282 18h1M289 18h1M336 18h1M399 18h1M137 20h1M70 22h1M101 22h2M134 22h1M276 22h1M354 22h2M360 22h1M378 22h1M410 22h1M416 22h1M499 22h1M103 24h1M193 24h1M69 26h1M78 26h1M82 26h1M100 26h1M107 26h1M109 26h1M117 26h2M120 26h2M123 26h2M140 26h2M172 26h1M178 26h1M180 26h2M190 26h1M195 26h1M202 26h2M223 26h1M233 26h1M235 26h3M254 26h1M265 26h2M280 26h1M293 26h1M315 26h2M318 26h1M341 26h1M380 26h1M395 26h1M397 26h2M420 26h2M438 26h1M516 26h1M540 26h1M557 26h3M563 26h2M567 26h1M569 26h3M580 26h1M354 32h1M115 40h1M117 40h1M119 40h2M131 40h1M146 40h1M152 40h1M158 40h1M166 40h1M297 40h1M300 40h1M303 40h3M315 40h1M336 40h1M700 40h1M703 40h1M705 40h1M708 40h1M716 40h1M728 40h2M821 40h1M61 42h2M65 42h1M71 42h1M73 42h1M87 42h1M89 42h2M99 42h1M101 42h2M104 42h1M110 42h1M127 42h1M134 42h3M144 42h1M208 42h2M227 42h1M229 42h1M232 42h1M234 42h2M239 42h1M273 42h1M339 42h1M711 42h1M713 42h1M720 42h1M740 42h1M744 42h2M751 42h1M62 44h2M65 44h1M92 44h2M96 44h1M106 44h1M111 44h1M140 44h1M146 44h1M148 44h2M168 44h1M192 44h3M196 44h1M225 44h3M230 44h2M234 44h1M241 44h1M243 44h2M249 44h1M251 44h1M255 44h1M267 44h1M272 44h1M283 44h1M286 44h1M294 44h1M297 44h1M307 44h1M419 44h1M443 44h1M449 44h1M453 44h1M457 44h3M462 44h2M471 44h3M538 44h1M555 44h1M683 44h1M686 44h2M710 44h1M712 44h1M717 44h2M727 44h3M732 44h1M794 44h1M798 44h2M807 44h1M809 44h1M430 46h1M443 46h1M460 46h1M479 46h1M488 46h2M499 46h1M556 46h1M661 46h1M346 48h1M434 48h9M452 48h2M475 48h1M482 48h2M508 48h1M510 48h1M546 48h1M553 48h1M557 48h1M563 48h1M755 48h1M758 48h1M818 48h1M834 48h1M502 50h2M567 50h2M755 50h1M757 50h1M769 50h6M816 50h4M379 52h3M17 54h1M28 54h1M34 54h1M44 54h2M53 54h1M78 54h1M93 54h1M98 54h1M695 56h1M742 56h1M745 56h1M755 56h1M757 56h1M760 56h2M794 56h1M797 56h1M809 56h1M820 56h1M822 56h1M9 58h1M27 58h1M31 58h2M40 58h1M43 58h6M50 58h3M64 58h1M70 58h1M72 58h1M74 58h2M79 58h1M89 58h1M91 58h2M97 58h1M104 58h2M109 58h1M111 58h2M269 58h1M317 58h1M329 58h1M336 58h2M356 58h1M377 58h1M444 58h1M447 58h1M509 58h2M514 58h2M527 58h1M731 58h1M743 58h1M761 58h1M786 58h1M799 58h1M802 58h1M804 58h3M808 58h1M817 58h1M822 58h1M826 58h1M832 58h1M270 60h1M287 60h1M290 60h1M294 60h1M305 60h1M316 60h1M329 60h1M332 60h1M365 60h1M373 60h1M377 60h1M384 60h1M390 60h1M437 60h1M440 60h1M444 60h1M447 60h1M535 62h1M550 62h1M220 64h1M542 64h1M549 64h1M705 64h1M707 64h3M719 64h1M733 64h1M735 64h1M738 64h1M741 64h1M760 64h1M769 64h1M771 64h3M786 64h1M788 64h3M803 64h2M530 66h1M543 66h1M549 66h1M553 66h2M791 66h1M795 66h1M797 66h2M811 66h1M820 66h2M824 66h1M826 66h1M355 68h1M359 68h1M363 68h2M366 68h1M368 68h3M373 68h1M375 68h1M379 68h3M735 68h1M793 68h1M796 68h1M811 68h1M828 68h1M830 68h1M187 70h2M193 70h1M209 70h1M238 70h1M285 70h2M355 70h1M380 70h1M422 70h1M429 70h1M435 70h1M440 70h1M443 70h1M450 70h1M474 70h1M479 70h1M486 70h2M510 70h2M534 70h1M541 70h2M545 70h2M554 70h2M558 70h1M697 70h1M709 70h1M725 70h1M736 70h2M744 70h1M746 70h1M750 70h2M758 70h2M770 70h1M772 70h1M780 70h1M795 70h1M818 70h1M828 70h1M830 70h1M521 72h1M528 72h1M541 72h1M705 72h1M707 72h1M754 72h1M756 72h2M827 72h1M43 74h1M91 74h2M95 74h1M104 74h1M106 74h1M116 74h1M154 74h1M158 74h1M161 74h1M256 74h1M263 74h1M467 74h1M469 74h1M527 74h1M529 74h1M531 74h2M538 74h2M547 74h1M551 74h1M560 74h1M698 74h1M754 74h3M12 76h1M16 76h1M34 76h1M36 76h1M41 76h2M48 76h1M67 76h2M81 76h1M93 76h1M96 76h2M105 76h1M131 76h1M239 76h1M321 76h3M469 76h1M528 76h1M534 76h2M543 76h2M552 76h3M735 76h1M746 76h1M786 76h1M106 78h1M112 78h4M117 78h1M208 78h1M234 78h2M240 78h1M243 78h1M324 78h2M331 78h1M475 78h1M478 78h1M480 78h1M496 78h1M501 78h1M503 78h1M505 78h1M516 78h1M526 78h1M532 78h2M542 78h1M553 78h1M555 78h1M759 78h1M799 78h1M805 78h1M812 78h1M814 78h1M817 78h1M820 78h1M822 78h2M835 78h1M99 80h1M117 80h1M135 80h1M237 80h1M240 80h1M245 80h2M249 80h1M255 80h2M335 80h1M421 80h1M441 80h1M486 80h1M504 80h1M508 80h2M526 80h1M532 80h1M537 80h1M550 80h1M557 80h1M740 80h1M794 80h1M811 80h3M816 80h1M824 80h2M833 80h1M10 82h1M17 82h1M28 82h1M37 82h1M48 82h1M65 82h3M70 82h2M73 82h1M77 82h1M79 82h1M86 82h1M97 82h1M99 82h1M106 82h1M114 82h1M116 82h1M128 82h1M135 82h1M214 82h1M247 82h1M361 82h1M445 82h1M524 82h1M528 82h1M547 82h1M701 82h1M719 82h1M785 82h1M800 82h1M804 82h1M836 82h1M3 84h2M6 84h2M33 84h1M60 84h1M67 84h2M99 84h1M110 84h1M112 84h1M126 84h1M135 84h1M144 84h1M169 84h1M190 84h2M196 84h1M199 84h1M204 84h3M259 84h1M266 84h1M278 84h1M308 84h1M426 84h1M443 84h1M522 84h1M526 84h1M541 84h1M549 84h1M551 84h1M702 84h1M708 84h1M718 84h1M721 84h1M723 84h1M725 84h1M727 84h1M737 84h1M803 84h1M823 84h2M827 84h1M829 84h2M832 84h2M5 86h1M7 86h1M9 86h1M12 86h1M44 86h2M49 86h1M51 86h1M55 86h1M57 86h1M63 86h1M65 86h1M78 86h1M87 86h1M92 86h1M97 86h1M124 86h2M127 86h1M137 86h1M144 86h1M146 86h1M171 86h1M203 86h1M207 86h1M255 86h1M257 86h1M443 86h1M509 86h2M512 86h1M517 86h1M535 86h2M705 86h1M719 86h2M780 86h1M199 88h1M371 88h2M391 88h1M393 88h1M396 88h1M407 88h1M523 88h1M534 88h1M542 88h1M722 88h1M725 88h1M728 88h1M26 90h1M29 90h1M31 90h2M37 90h1M161 90h1M173 90h1M175 90h1M177 90h1M225 90h1M382 90h1M384 90h1M387 90h1M398 90h1M438 90h1M445 90h3M463 90h1M469 90h1M489 90h1M495 90h1M526 90h1M703 90h1M707 90h1M728 90h1M812 90h1M814 90h2M826 90h1M391 92h1M394 92h1M396 92h1M415 92h1M484 92h1M494 92h2M497 92h1M534 92h1M716 92h1M721 92h1M748 92h1M781 92h1M706 94h1M713 94h1M715 94h4M740 94h1M770 94h1M492 96h1M496 96h1M501 96h1M543 96h1M561 96h1M688 96h2M700 96h1M706 96h1M709 96h2M722 96h1M726 96h1M738 96h1M750 96h2M754 96h1M758 96h3M763 96h2M769 96h1M774 96h1M813 96h1M597 98h1M612 98h1M695 98h2M709 98h2M715 98h1M719 98h2M727 98h1M729 98h1M778 98h1M783 98h2M809 98h5M815 98h3M14 104h2M45 104h2M58 104h1M63 104h1M73 104h2M78 104h1M80 104h1M140 104h1M184 104h1M186 104h2M190 104h3M195 104h1M197 104h1M203 104h1M219 104h2M359 104h2M373 104h2M377 104h1M382 104h1M388 104h1M411 104h1M478 104h1M87 106h1M97 106h1M151 106h1M244 106h1M354 106h1M356 106h1M403 106h1M464 106h1M466 106h1M483 106h1M510 106h1M524 106h1M563 106h1M572 106h1M605 106h1M609 106h1M612 106h2M616 106h1M624 106h1M640 106h1M655 106h1M729 106h1M809 106h1M827 106h1"/>
<path stroke="#5b00ff" d="M21 4h2M28 4h4M34 4h1M38 4h1M41 4h4M55 4h1M84 4h1M86 4h1M88 4h1M93 4h1M98 4h4M144 4h1M198 4h2M202 4h1M204 4h1M206 4h1M218 4h2M221 4h4M235 4h2M241 4h1M248 4h1M250 4h2M254 4h2M257 4h1M260 4h1M284 4h1M306 4h1M309 4h1M313 4h2M316 4h1M324 4h1M331 4h1M333 4h1M336 4h1M342 4h1M347 4h1M351 4h2M379 4h1M403 4h1M441 4h1M450 4h1M508 4h2M514 4h1M516 4h1M523 4h2M531 4h1M533 4h1M550 4h1M552 4h1M556 4h1M568 4h3M260 6h1M263 6h1M450 6h1M186 8h2M216 8h1M242 8h1M244 8h1M246 8h1M323 8h1M330 8h2M358 8h2M412 8h1M491 8h1M494 8h1M522 8h1M663 8h1M717 8h1M745 8h2M830 8h1M239 10h1M245 10h3M211 12h1M651 12h1M659 12h4M664 12h1M666 12h1M670 12h3M712 12h1M721 12h2M749 12h1M768 12h1M775 12h1M824 12h2M800 14h1M805 14h2M828 14h1M97 16h1M99 16h1M227 16h1M240 16h1M278 16h1M281 16h1M287 16h1M309 16h1M345 16h1M414 16h2M59 18h1M287 18h1M341 18h2M400 18h2M416 18h1M418 18h1M181 20h1M77 22h1M131 22h1M156 22h1M159 22h1M349 22h1M409 22h1M518 22h1M544 22h1M629 22h1M633 22h1M797 22h2M295 24h3M59 26h1M66 26h1M68 26h1M83 26h2M86 26h4M92 26h3M103 26h1M105 26h1M108 26h1M139 26h1M142 26h1M151 26h3M158 26h1M164 26h1M170 26h2M179 26h1M194 26h1M198 26h4M204 26h1M206 26h2M215 26h1M221 26h1M224 26h4M230 26h3M234 26h1M249 26h2M252 26h2M255 26h1M273 26h2M277 26h1M286 26h1M288 26h1M292 26h1M295 26h1M303 26h2M311 26h2M317 26h1M319 26h2M334 26h1M337 26h2M340 26h1M389 26h1M391 26h1M394 26h1M400 26h2M408 26h1M414 26h1M428 26h1M437 26h1M449 26h1M458 26h1M486 26h2M501 26h1M507 26h1M510 26h3M525 26h1M532 26h1M536 26h2M539 26h1M541 26h2M556 26h1M562 26h1M585 26h1M614 26h1M620 26h1M624 26h3M629 26h1M132 30h1M219 32h1M301 38h1M118 40h1M126 40h1M135 40h2M142 40h1M151 40h1M159 40h1M271 40h1M308 40h2M312 40h1M317 40h1M329 40h1M339 40h1M701 40h1M717 40h1M757 40h1M818 40h3M822 40h1M826 40h1M63 42h2M111 42h3M126 42h1M128 42h1M131 42h1M156 42h1M167 42h1M187 42h2M228 42h1M233 42h1M236 42h2M703 42h1M714 42h1M721 42h1M723 42h3M730 42h1M752 42h1M820 42h1M64 44h1M94 44h1M100 44h1M103 44h1M105 44h1M112 44h2M141 44h1M143 44h1M145 44h1M150 44h1M153 44h1M160 44h2M166 44h1M169 44h1M191 44h1M195 44h1M229 44h1M268 44h1M271 44h1M285 44h1M429 44h1M433 44h1M451 44h2M461 44h1M542 44h1M554 44h1M573 44h1M685 44h1M715 44h2M719 44h1M724 44h2M768 44h1M338 46h1M376 46h2M439 46h4M444 46h1M549 46h3M554 46h1M660 46h1M376 48h1M419 48h1M424 48h1M443 48h3M449 48h3M474 48h1M484 48h1M505 48h1M507 48h1M543 48h2M550 48h1M572 48h2M760 48h1M764 48h1M766 48h2M813 48h3M819 48h2M832 48h2M807 50h2M815 50h1M820 50h1M823 50h6M830 50h1M63 54h1M67 54h1M71 54h1M77 54h1M89 54h1M94 54h1M16 56h1M35 56h1M87 56h1M94 56h1M115 56h1M517 56h1M525 56h2M536 56h1M547 56h1M683 56h1M696 56h1M728 56h1M730 56h1M756 56h1M803 56h2M813 56h1M818 56h2M30 58h1M33 58h1M35 58h3M42 58h1M49 58h1M53 58h1M67 58h1M71 58h1M73 58h1M76 58h1M78 58h1M87 58h2M93 58h1M95 58h2M101 58h2M106 58h1M296 58h1M299 58h1M301 58h1M305 58h1M307 58h3M314 58h1M316 58h1M318 58h1M320 58h9M330 58h6M338 58h1M340 58h1M355 58h1M516 58h1M521 58h1M523 58h2M528 58h1M532 58h1M536 58h2M540 58h1M542 58h1M744 58h1M749 58h2M777 58h1M780 58h1M798 58h1M803 58h1M807 58h1M820 58h1M825 58h1M830 58h2M835 58h1M269 60h1M288 60h1M291 60h3M299 60h1M302 60h1M304 60h1M306 60h5M312 60h4M317 60h3M324 60h5M335 60h6M355 60h1M436 60h1M441 60h1M538 62h1M221 64h2M225 64h1M537 64h1M543 64h2M550 64h2M704 64h1M715 64h1M722 64h3M734 64h1M740 64h1M742 64h1M768 64h1M770 64h1M774 64h1M778 64h1M785 64h1M794 64h2M797 64h2M801 64h1M805 64h1M807 64h2M813 64h2M505 66h1M531 66h1M550 66h2M796 66h1M822 66h1M828 66h1M351 68h3M362 68h1M365 68h1M726 68h1M790 68h1M795 68h1M821 68h2M827 68h1M835 68h1M180 70h2M186 70h1M240 70h1M353 70h2M366 70h1M381 70h1M434 70h1M437 70h1M445 70h2M451 70h4M471 70h2M477 70h1M480 70h1M482 70h1M484 70h1M490 70h1M512 70h1M530 70h2M535 70h2M548 70h3M552 70h2M556 70h1M726 70h1M735 70h1M745 70h1M763 70h1M766 70h1M778 70h2M792 70h1M794 70h1M796 70h1M800 70h1M813 70h4M829 70h1M525 72h3M530 72h2M533 72h1M535 72h2M706 72h1M755 72h1M825 72h1M12 74h1M21 74h2M42 74h1M48 74h1M89 74h1M93 74h1M96 74h2M102 74h2M105 74h1M109 74h2M113 74h1M117 74h2M153 74h1M180 74h2M473 74h1M525 74h1M530 74h1M542 74h3M548 74h1M676 74h1M695 74h1M15 76h1M17 76h3M21 76h5M37 76h2M40 76h1M54 76h1M94 76h2M98 76h2M106 76h1M113 76h1M117 76h1M243 76h2M248 76h1M250 76h2M258 76h2M341 76h1M373 76h1M488 76h1M500 76h3M539 76h2M549 76h1M565 76h1M676 76h1M759 76h1M99 78h1M101 78h1M135 78h1M226 78h1M231 78h2M239 78h1M246 78h2M249 78h2M322 78h2M422 78h1M470 78h1M472 78h1M477 78h1M488 78h1M500 78h1M502 78h1M517 78h1M519 78h2M525 78h1M531 78h1M534 78h1M537 78h1M540 78h1M545 78h3M549 78h1M594 78h1M741 78h1M797 78h2M809 78h1M811 78h1M827 78h1M829 78h1M834 78h1M104 80h1M118 80h1M130 80h1M136 80h1M155 80h1M233 80h1M235 80h1M239 80h1M244 80h1M248 80h1M445 80h1M482 80h2M487 80h1M521 80h1M524 80h1M528 80h1M535 80h1M543 80h1M545 80h5M551 80h1M555 80h2M768 80h2M793 80h1M807 80h1M815 80h1M827 80h1M29 82h1M33 82h1M49 82h1M68 82h1M74 82h3M81 82h1M87 82h1M103 82h1M105 82h1M113 82h1M115 82h1M127 82h1M209 82h2M246 82h1M248 82h2M527 82h1M536 82h1M540 82h1M542 82h2M553 82h2M561 82h1M571 82h1M703 82h1M779 82h1M783 82h2M786 82h2M794 82h1M801 82h1M803 82h1M831 82h2M835 82h1M10 84h2M32 84h1M66 84h1M101 84h2M115 84h1M117 84h1M120 84h1M123 84h1M127 84h3M143 84h1M145 84h1M167 84h2M173 84h2M189 84h1M192 84h1M200 84h4M207 84h1M444 84h1M446 84h1M527 84h1M716 84h1M719 84h1M735 84h1M744 84h1M752 84h1M754 84h1M771 84h2M785 84h2M797 84h3M801 84h1M806 84h1M819 84h1M825 84h1M834 84h1M836 84h1M0 86h1M6 86h1M26 86h1M43 86h1M50 86h1M53 86h2M56 86h1M83 86h1M98 86h1M101 86h2M109 86h4M114 86h2M120 86h1M135 86h2M143 86h1M145 86h1M192 86h3M208 86h1M374 86h1M511 86h1M531 86h3M600 86h1M783 86h1M200 88h1M202 88h1M387 88h1M496 88h1M518 88h2M524 88h1M541 88h1M546 88h2M561 88h1M565 88h1M733 88h1M770 88h1M28 90h1M35 90h2M143 90h1M174 90h1M176 90h1M224 90h1M226 90h1M228 90h1M232 90h1M234 90h2M371 90h2M378 90h1M406 90h1M425 90h2M448 90h1M695 90h1M706 90h1M729 90h1M802 90h2M810 90h1M816 90h1M172 92h1M215 92h2M220 92h1M358 92h1M372 92h2M406 92h1M416 92h1M492 92h2M535 92h1M549 92h1M551 92h1M561 92h1M567 92h1M703 92h1M747 92h1M750 92h1M496 94h1M719 94h1M738 94h1M534 96h1M558 96h1M695 96h1M715 96h2M720 96h1M723 96h1M727 96h1M731 96h1M749 96h1M762 96h1M765 96h1M804 96h1M819 96h1M603 98h2M697 98h1M706 98h1M718 98h1M725 98h2M728 98h1M730 98h1M738 98h2M742 98h1M773 98h1M814 98h1M818 98h4M825 98h1M828 98h2M54 104h2M61 104h1M72 104h1M75 104h1M77 104h1M188 104h2M194 104h1M357 104h2M362 104h1M383 104h2M387 104h1M390 104h1M393 104h1M484 104h1M486 104h2M624 104h1M357 106h4M395 106h1M401 106h1M494 106h1M652 106h3M730 106h1M753 106h1M805 106h1M826 106h1M830 106h1"/>
<path stroke="#7300ff" d="M32 4h2M36 4h2M39 4h2M45 4h3M50 4h2M53 4h2M83 4h1M87 4h1M102 4h1M216 4h2M220 4h1M238 4h3M242 4h1M247 4h1M252 4h2M310 4h1M317 4h3M332 4h1M349 4h2M548 4h2M551 4h1M53 8h1M214 8h1M276 8h1M326 8h2M633 8h1M662 8h1M718 8h1M747 8h1M53 10h1M210 12h1M274 12h1M646 12h1M657 12h1M665 12h1M667 12h1M673 12h3M684 12h1M714 12h1M716 12h1M740 12h1M750 12h1M789 12h2M828 12h2M832 12h1M733 14h1M193 16h1M211 16h1M232 16h1M284 16h1M334 16h1M747 16h1M87 18h1M90 18h3M174 18h1M181 18h1M230 18h1M238 18h1M288 18h1M309 18h1M397 18h1M402 18h2M410 18h1M414 18h1M273 20h1M437 20h1M75 22h2M78 22h1M80 22h1M238 22h1M268 22h1M382 22h1M517 22h1M104 24h1M107 24h1M190 24h1M294 24h1M443 24h1M544 24h1M549 24h1M10 26h1M33 26h2M41 26h1M55 26h1M57 26h2M60 26h2M67 26h1M85 26h1M95 26h3M101 26h2M110 26h1M112 26h3M137 26h2M143 26h1M150 26h1M159 26h1M166 26h1M169 26h1M173 26h2M177 26h1M189 26h1M205 26h1M208 26h2M228 26h1M240 26h1M251 26h1M256 26h2M259 26h1M270 26h2M278 26h2M281 26h3M285 26h1M287 26h1M294 26h1M327 26h1M333 26h1M335 26h1M339 26h1M344 26h2M347 26h2M363 26h1M374 26h1M376 26h1M388 26h1M390 26h1M392 26h2M396 26h1M406 26h1M418 26h1M422 26h1M426 26h1M453 26h1M457 26h1M459 26h2M480 26h2M483 26h3M488 26h1M498 26h1M503 26h2M506 26h1M513 26h2M528 26h2M533 26h3M560 26h1M565 26h2M584 26h1M588 26h1M592 26h1M596 26h4M613 26h1M615 26h5M621 26h1M627 26h1M638 26h1M648 26h2M164 28h2M522 28h2M17 30h1M108 32h1M316 38h1M320 38h1M127 40h3M134 40h1M137 40h5M147 40h1M225 40h3M273 40h1M302 40h1M306 40h1M316 40h1M330 40h1M333 40h1M704 40h1M714 40h1M740 40h1M817 40h1M825 40h1M88 42h1M129 42h1M137 42h1M141 42h3M161 42h1M163 42h3M168 42h2M184 42h3M702 42h1M705 42h1M708 42h3M722 42h1M726 42h1M729 42h1M731 42h2M95 44h1M99 44h1M101 44h1M104 44h1M121 44h1M127 44h1M133 44h1M139 44h1M152 44h1M157 44h1M159 44h1M165 44h1M170 44h1M183 44h1M185 44h1M187 44h1M190 44h1M228 44h1M232 44h2M248 44h1M450 44h1M460 44h1M684 44h1M709 44h1M723 44h1M730 44h1M431 46h1M438 46h1M445 46h1M555 46h1M420 48h1M423 48h1M446 48h1M448 48h1M532 48h1M536 48h1M551 48h1M554 48h1M556 48h1M762 48h2M812 48h1M821 48h1M831 48h1M498 50h1M756 50h1M794 50h3M806 50h1M809 50h6M821 50h2M829 50h1M9 54h1M35 54h1M64 54h1M84 54h3M118 54h1M17 56h1M34 56h1M62 56h2M78 56h1M96 56h1M513 56h1M534 56h2M537 56h1M540 56h1M741 56h1M743 56h1M758 56h2M796 56h1M798 56h1M810 56h2M816 56h1M821 56h1M28 58h2M34 58h1M41 58h1M77 58h1M80 58h1M94 58h1M300 58h1M306 58h1M310 58h1M312 58h2M315 58h1M339 58h1M513 58h1M518 58h3M522 58h1M526 58h1M533 58h3M539 58h1M541 58h1M729 58h1M745 58h2M748 58h1M816 58h1M819 58h1M821 58h1M295 60h1M300 60h1M303 60h1M311 60h1M333 60h2M385 60h1M223 64h2M228 64h1M536 64h1M538 64h1M696 64h2M703 64h1M706 64h1M711 64h1M713 64h2M716 64h1M736 64h2M743 64h1M775 64h3M782 64h3M791 64h1M796 64h1M802 64h1M809 64h1M812 64h1M815 64h3M836 64h1M504 66h1M538 66h1M349 68h2M210 70h1M436 70h1M438 70h2M455 70h1M458 70h3M470 70h1M476 70h1M481 70h1M485 70h1M488 70h2M551 70h1M557 70h1M700 70h4M708 70h1M727 70h1M764 70h2M767 70h1M773 70h1M777 70h1M793 70h1M799 70h1M817 70h1M826 72h1M94 74h1M107 74h1M157 74h1M255 74h1M468 74h1M528 74h1M536 74h1M540 74h2M546 74h1M549 74h1M569 74h1M675 74h1M20 76h1M39 76h1M101 76h1M109 76h2M118 76h1M483 76h1M497 76h3M538 76h1M546 76h1M675 76h1M109 78h1M118 78h1M136 78h1M227 78h1M242 78h1M421 78h1M471 78h1M473 78h2M476 78h1M479 78h1M518 78h1M529 78h2M538 78h2M541 78h1M554 78h1M742 78h2M796 78h1M806 78h2M819 78h1M824 78h2M828 78h1M833 78h1M836 78h1M236 80h1M243 80h1M488 80h1M505 80h1M523 80h1M536 80h1M539 80h2M544 80h1M552 80h1M739 80h1M804 80h1M806 80h1M828 80h1M31 82h1M517 82h1M523 82h1M538 82h1M544 82h1M702 82h1M732 82h2M748 82h1M758 82h1M771 82h1M780 82h1M782 82h1M789 82h1M793 82h1M799 82h1M802 82h1M808 82h1M810 82h1M812 82h2M818 82h1M821 82h1M823 82h1M826 82h2M833 82h2M2 84h1M63 84h1M65 84h1M105 84h2M113 84h1M124 84h2M208 84h1M550 84h1M734 84h1M738 84h1M741 84h1M743 84h1M745 84h1M751 84h1M753 84h1M757 84h1M762 84h1M767 84h1M778 84h3M783 84h2M795 84h1M802 84h1M810 84h1M813 84h1M818 84h1M828 84h1M835 84h1M1 86h1M11 86h1M52 86h1M64 86h1M79 86h2M105 86h2M195 86h1M202 86h1M256 86h1M534 86h1M201 88h1M373 88h1M517 88h1M520 88h1M717 88h1M769 88h1M221 90h1M223 90h1M227 90h1M231 90h1M233 90h1M374 90h1M492 90h1M494 90h1M565 90h1M571 90h2M582 90h1M808 90h2M811 90h1M834 90h2M217 92h2M359 92h1M375 92h1M398 92h1M550 92h1M565 92h1M704 92h1M696 94h2M712 94h1M551 96h1M597 96h1M619 96h2M707 96h2M717 96h1M799 96h1M802 96h1M808 96h1M812 96h1M817 96h2M820 96h1M698 98h3M704 98h2M737 98h1M740 98h2M743 98h3M774 98h1M777 98h1M822 98h1M824 98h1M826 98h2M830 98h1M59 104h2M62 104h1M76 104h1M87 104h1M94 104h1M389 104h1M391 104h2M485 104h1M362 106h1M367 106h1M398 106h1M603 106h2M606 106h1M608 106h1"/>
<path stroke="#8b02fd" d="M35 4h1M48 4h2M52 4h1M203 4h1M237 4h1M311 4h2M348 4h1M215 8h1M219 8h1M324 8h1M328 8h2M415 8h1M492 8h1M527 8h1M630 8h2M276 12h1M658 12h1M676 12h6M698 12h1M715 12h1M718 12h1M742 12h3M770 12h1M788 12h1M791 12h1M827 12h1M734 14h1M741 14h2M747 14h1M190 16h1M195 16h1M246 16h1M276 16h2M286 16h1M748 16h1M109 18h2M279 18h1M396 18h1M408 20h1M523 20h1M574 20h1M74 22h1M79 22h1M103 22h1M107 22h1M130 22h1M193 22h1M240 22h1M272 22h1M275 22h1M293 22h1M296 22h2M303 22h1M350 22h1M415 22h1M437 22h1M494 22h1M549 22h2M639 22h1M109 24h1M240 24h1M303 24h1M547 24h1M555 24h1M9 26h1M11 26h3M26 26h3M31 26h2M40 26h1M54 26h1M56 26h1M62 26h4M91 26h1M106 26h1M111 26h1M115 26h2M126 26h1M130 26h2M133 26h1M144 26h5M165 26h1M167 26h1M175 26h2M193 26h1M229 26h1M238 26h1M258 26h1M260 26h3M264 26h1M284 26h1M289 26h3M306 26h3M310 26h1M336 26h1M342 26h2M346 26h1M362 26h1M364 26h1M368 26h1M373 26h1M375 26h1M402 26h2M423 26h2M427 26h1M431 26h2M436 26h1M446 26h1M448 26h1M450 26h1M454 26h3M477 26h2M482 26h1M497 26h1M500 26h1M502 26h1M505 26h1M508 26h2M518 26h1M530 26h2M538 26h1M543 26h1M548 26h2M555 26h1M561 26h1M581 26h1M586 26h2M589 26h2M594 26h2M612 26h1M622 26h2M642 26h3M650 26h1M130 28h2M163 28h1M517 28h5M220 32h1M270 32h1M228 38h1M438 38h1M125 40h1M130 40h1M145 40h1M228 40h1M272 40h1M307 40h1M702 40h1M719 40h2M115 42h2M125 42h1M130 42h1M145 42h4M160 42h1M162 42h1M166 42h1M170 42h3M178 42h1M183 42h1M727 42h2M819 42h1M102 44h1M119 44h2M126 44h1M128 44h1M134 44h3M142 44h1M151 44h1M158 44h1M162 44h3M171 44h1M175 44h1M178 44h2M184 44h1M186 44h1M708 44h1M713 44h1M720 44h3M731 44h1M436 46h2M446 46h1M450 46h3M421 48h2M447 48h1M531 48h1M534 48h2M549 48h1M761 48h1M794 48h3M822 48h2M826 48h5M797 50h3M805 50h1M87 54h2M9 56h1M64 56h1M66 56h1M77 56h1M511 56h1M539 56h1M541 56h2M552 56h2M744 56h1M795 56h1M799 56h1M812 56h1M311 58h1M525 58h1M728 58h1M747 58h1M818 58h1M296 60h1M301 60h1M321 60h1M323 60h1M534 64h1M695 64h1M700 64h1M712 64h1M779 64h1M781 64h1M818 64h2M823 64h1M828 64h4M834 64h2M825 66h1M827 66h1M791 68h1M836 68h1M349 70h1M461 70h1M483 70h1M698 70h2M704 70h1M707 70h1M734 70h1M769 70h1M774 70h3M797 70h2M98 74h2M533 74h1M545 74h1M100 76h1M112 76h1M114 76h2M542 76h1M545 76h1M781 76h1M100 78h1M468 78h2M498 78h2M535 78h2M808 78h1M818 78h1M100 80h1M109 80h1M242 80h1M522 80h1M527 80h1M538 80h1M542 80h1M553 80h2M805 80h1M814 80h1M100 82h1M117 82h1M119 82h2M520 82h1M729 82h1M731 82h1M734 82h4M746 82h2M749 82h4M754 82h1M757 82h1M772 82h1M778 82h1M781 82h1M788 82h1M790 82h3M798 82h1M805 82h1M809 82h1M811 82h1M816 82h2M819 82h1M822 82h1M824 82h2M829 82h2M64 84h1M100 84h1M103 84h1M108 84h2M119 84h1M729 84h1M733 84h1M740 84h1M742 84h1M755 84h1M766 84h1M781 84h1M796 84h1M812 84h1M815 84h3M3 86h2M10 86h1M99 86h1M113 86h1M201 86h1M374 88h1M379 88h1M406 88h1M718 88h1M222 90h1M229 90h1M373 90h1M493 90h1M496 90h1M704 90h2M378 92h1M568 92h1M572 92h2M717 92h1M749 92h1M709 94h1M515 96h1M618 96h1M718 96h1M770 96h1M800 96h2M805 96h3M810 96h1M814 96h3M822 96h2M828 96h1M701 98h1M703 98h1M731 98h1M735 98h2M746 98h1M754 98h2M772 98h1M775 98h1M823 98h1M831 98h2M483 104h1M488 104h1M45 106h2M94 106h1M152 106h1M400 106h1M610 106h1M766 106h1"/>
<path stroke="#a312ed" d="M220 8h1M245 8h1M414 8h1M416 8h1M493 8h1M525 8h1M632 8h1M656 8h2M652 12h1M705 12h1M708 12h2M717 12h1M735 12h3M741 12h1M769 12h1M777 12h2M781 12h4M787 12h1M792 12h2M809 12h2M830 12h2M743 14h1M746 14h1M189 16h1M191 16h1M230 16h1M234 16h1M239 16h1M275 16h1M279 16h2M283 16h1M290 16h1M344 16h1M93 18h2M97 18h1M175 18h2M188 18h1M232 18h1M234 18h1M409 18h1M412 18h1M417 18h1M524 20h1M548 20h1M104 22h2M351 22h1M443 22h1M555 22h1M632 22h1M636 22h1M638 22h1M108 24h1M304 24h1M442 24h1M553 24h1M5 26h4M29 26h2M35 26h5M90 26h1M136 26h1M149 26h1M162 26h1M168 26h1M184 26h1M219 26h2M263 26h1M269 26h1M296 26h2M309 26h1M361 26h1M367 26h1M369 26h4M378 26h2M381 26h1M387 26h1M404 26h1M417 26h1M425 26h1M429 26h2M434 26h2M445 26h1M452 26h1M473 26h4M479 26h1M489 26h1M520 26h1M550 26h1M593 26h1M603 26h2M609 26h1M632 26h2M640 26h2M645 26h1M647 26h1M129 28h1M132 28h2M155 28h1M321 28h1M524 28h3M490 30h1M353 32h1M224 38h2M114 40h1M301 40h1M118 42h2M122 42h1M149 42h1M173 42h4M704 42h1M115 44h2M118 44h1M122 44h1M132 44h1M137 44h2M173 44h2M176 44h1M180 44h3M188 44h1M714 44h1M432 46h1M435 46h1M447 46h3M453 46h1M798 46h1M533 48h1M537 48h2M540 48h1M542 48h1M547 48h1M555 48h1M797 48h2M824 48h2M497 50h1M800 50h1M804 50h1M71 56h1M512 56h1M538 56h1M549 56h1M551 56h1M684 56h1M738 56h3M511 58h1M517 58h1M320 60h1M322 60h1M535 64h1M698 64h1M701 64h2M780 64h1M810 64h2M824 64h1M826 64h2M832 64h2M350 70h3M456 70h1M705 70h2M728 70h2M768 70h1M101 74h1M108 74h1M114 74h1M535 74h1M108 76h1M541 76h1M108 78h1M233 78h1M248 78h1M521 78h1M523 78h2M527 78h1M107 80h2M795 80h1M797 80h2M800 80h1M30 82h1M32 82h1M104 82h1M108 82h2M518 82h1M521 82h1M541 82h1M730 82h1M738 82h1M740 82h1M743 82h2M753 82h1M759 82h4M765 82h3M770 82h1M773 82h2M795 82h1M797 82h1M806 82h2M815 82h1M820 82h1M104 84h1M445 84h1M731 84h2M739 84h1M747 84h4M756 84h1M761 84h1M768 84h1M770 84h1M777 84h1M782 84h1M811 84h1M814 84h1M82 86h1M100 86h1M103 86h2M108 86h1M119 86h1M196 86h1M200 86h1M781 86h1M378 88h1M230 90h1M570 92h1M718 92h1M695 94h1M707 94h1M710 94h2M719 96h1M803 96h1M809 96h1M811 96h1M821 96h1M824 96h1M833 96h1M702 98h1M732 98h3M747 98h1M756 98h1M762 98h2M771 98h1M776 98h1M833 98h1M835 98h2M399 106h1M607 106h1M825 106h1"/>
<path stroke="#bb21de" d="M332 8h1M526 8h1M658 8h2M275 12h1M699 12h1M702 12h3M706 12h2M733 12h2M763 12h1M776 12h1M785 12h2M811 12h1M821 12h1M192 16h1M194 16h1M231 16h1M245 16h1M288 16h1M332 16h2M231 18h1M280 18h1M408 18h1M411 18h1M135 20h1M214 20h1M248 22h1M294 22h1M304 22h1M386 22h1M495 22h1M547 22h2M631 22h1M634 22h1M637 22h1M105 24h1M241 24h1M248 24h1M327 24h1M437 24h1M441 24h1M545 24h1M552 24h1M2 26h3M154 26h2M163 26h1M183 26h1M185 26h2M210 26h1M212 26h1M245 26h1M248 26h1M276 26h1M305 26h1M326 26h1M365 26h2M377 26h1M405 26h1M407 26h1M410 26h1M413 26h1M415 26h1M444 26h1M447 26h1M451 26h1M472 26h1M496 26h1M519 26h1M527 26h1M544 26h1M553 26h1M591 26h1M628 26h1M631 26h1M637 26h1M639 26h1M646 26h1M104 28h1M128 28h1M134 28h1M527 28h1M216 32h1M269 32h1M121 42h1M179 42h4M117 44h1M124 44h2M129 44h1M131 44h1M433 46h2M539 48h1M541 48h1M548 48h1M799 48h1M809 48h1M801 50h1M803 50h1M512 58h1M538 58h1M730 58h1M624 64h1M699 64h1M820 64h3M457 70h1M462 70h2M465 70h1M730 70h1M100 74h1M112 74h1M115 74h1M534 74h1M107 76h1M107 78h1M528 78h1M541 80h1M799 80h1M801 80h1M803 80h1M519 82h1M741 82h1M745 82h1M755 82h2M763 82h2M777 82h1M814 82h1M828 82h1M118 84h1M769 84h1M81 86h1M118 86h1M197 86h3M776 86h2M782 86h1M375 90h1M496 92h1M569 92h1M571 92h1M720 92h1M708 94h1M825 96h1M829 96h1M831 96h2M834 96h2M748 98h2M753 98h1M757 98h1M764 98h5M834 98h1"/>
<path stroke="#d331ce" d="M523 8h2M660 8h1M692 8h3M700 12h2M732 12h1M762 12h1M764 12h1M816 12h5M235 16h2M282 16h1M236 18h1M406 18h1M47 20h1M75 20h1M184 20h1M242 20h1M497 20h1M108 22h1M183 22h1M359 22h1M436 22h1M442 22h1M553 22h1M572 22h1M580 22h2M245 24h1M326 24h1M1 26h1M135 26h1M213 26h1M247 26h1M275 26h1M298 26h1M302 26h1M322 26h3M354 26h1M383 26h1M386 26h1M409 26h1M412 26h1M433 26h1M439 26h1M517 26h1M524 26h1M526 26h1M545 26h1M547 26h1M552 26h1M630 26h1M70 28h1M126 28h2M135 28h1M266 28h1M268 28h2M489 28h1M107 32h1M466 32h1M114 42h1M120 42h1M155 42h1M177 42h1M114 44h1M123 44h1M130 44h1M172 44h1M177 44h1M800 48h2M804 48h5M802 50h1M67 56h1M548 56h1M550 56h1M623 64h1M825 64h1M467 70h2M731 70h1M733 70h1M497 78h1M522 78h1M107 82h1M118 82h1M522 82h1M739 82h1M742 82h1M768 82h2M775 82h1M796 82h1M776 84h1M721 88h1M836 90h1M719 92h1M830 96h1M836 96h1M750 98h3M758 98h2M761 98h1M769 98h2"/>
<path stroke="#eb40bf" d="M661 8h1M666 8h2M691 8h1M695 8h1M720 8h3M726 12h1M729 12h3M760 12h2M765 12h1M812 12h4M237 16h2M289 16h1M235 18h1M237 18h1M298 18h1M407 18h1M48 20h1M211 20h1M547 20h1M635 20h2M109 22h1M242 22h1M326 22h1M329 22h1M385 22h1M440 22h1M545 22h1M552 22h1M582 22h1M242 24h1M324 24h1M434 24h1M436 24h1M551 24h1M0 26h1M134 26h1M157 26h1M161 26h1M191 26h1M214 26h1M411 26h1M442 26h1M468 26h2M493 26h1M499 26h1M521 26h1M546 26h1M574 26h1M579 26h1M605 26h1M81 28h1M136 28h1M154 28h1M220 28h1M267 28h1M354 28h4M388 28h1M490 28h1M572 28h1M611 28h1M437 30h1M718 30h1M745 30h2M408 32h1M802 48h2M464 70h1M466 70h1M469 70h1M732 70h1M796 80h1M802 80h1M776 82h1M107 84h1M2 86h1M719 88h2M827 96h1M760 98h1"/>
<path stroke="#ff4fb0" d="M664 8h2M684 8h1M689 8h2M715 8h2M727 12h2M241 18h1M100 20h1M274 20h1M492 20h1M42 22h1M106 22h1M244 22h2M321 22h1M384 22h1M433 22h1M439 22h1M441 22h1M551 22h1M573 22h2M635 22h1M22 24h2M106 24h1M246 24h1M192 26h1M211 26h1M241 26h1M244 26h1M246 26h1M268 26h1M272 26h1M300 26h2M328 26h2M350 26h1M358 26h1M440 26h1M443 26h1M471 26h1M490 26h1M492 26h1M494 26h1M572 26h1M600 26h1M610 26h1M636 26h1M42 28h1M103 28h1M137 28h1M210 28h2M219 28h1M265 28h1M270 28h1M293 28h1M360 28h1M491 28h3M544 28h2M573 28h1M575 28h2M610 28h1M628 28h1M239 32h1M331 40h1M337 40h1M107 86h1M826 96h1"/>
<path stroke="#ff5fa0" d="M685 8h4M712 8h3M719 8h1M768 8h2M754 12h1M759 12h1M23 20h1M295 20h1M322 20h1M411 20h1M299 22h2M324 22h1M434 22h1M462 22h1M583 22h1M630 22h1M24 24h1M44 24h4M52 24h2M546 24h1M554 24h1M42 26h1M156 26h1M182 26h1M218 26h1M321 26h1M325 26h1M356 26h1M360 26h1M441 26h1M461 26h1M470 26h1M491 26h1M522 26h2M551 26h1M554 26h1M577 26h2M606 26h1M634 26h1M49 28h1M52 28h1M80 28h1M107 28h3M212 28h1M271 28h1M294 28h1M330 28h1M332 28h1M466 28h1M468 28h1M494 28h1M497 28h3M546 28h1M574 28h1M639 28h1M301 30h1M332 30h1M334 40h1"/>
<path stroke="#ff6e91" d="M740 8h3M770 8h1M755 12h4M183 20h1M606 20h1M192 22h1M243 22h1M325 22h1M328 22h1M461 22h1M554 22h1M576 22h1M600 22h1M628 22h1M751 22h1M15 24h1M17 24h2M20 24h2M25 24h1M42 24h2M48 24h2M51 24h1M243 24h1M435 24h1M462 24h1M470 24h1M22 26h2M43 26h2M47 26h1M49 26h1M242 26h1M330 26h1M332 26h1M355 26h1M357 26h1M416 26h1M462 26h1M466 26h1M582 26h2M607 26h1M43 28h2M48 28h1M50 28h1M98 28h4M213 28h3M218 28h1M272 28h3M350 28h1M381 28h3M411 28h3M416 28h1M465 28h1M495 28h2M547 28h5M577 28h1M609 28h1M629 28h1M44 30h1"/>
<path stroke="#ff7e81" d="M743 8h1M771 8h2M775 8h2M299 18h1M407 20h1M575 20h1M246 22h2M323 22h1M330 22h1M435 22h1M463 22h1M579 22h1M604 22h2M14 24h1M16 24h1M19 24h1M50 24h1M332 24h1M468 24h1M15 26h7M24 26h2M46 26h1M48 26h1M243 26h1M299 26h1M331 26h1M351 26h3M463 26h1M573 26h1M575 26h1M601 26h2M45 28h1M53 28h1M72 28h1M216 28h2M295 28h2M331 28h1M349 28h1M469 28h1M552 28h1M630 28h2M635 28h1M638 28h1M330 30h2M332 32h1"/>
<path stroke="#ff8d72" d="M744 8h1M749 8h2M773 8h2M777 8h1M824 8h2M828 8h1M187 18h1M331 20h2M182 22h1M332 22h1M546 22h1M575 22h1M577 22h1M603 22h1M330 24h2M14 26h1M45 26h1M50 26h4M349 26h1M382 26h1M465 26h1M495 26h1M576 26h1M635 26h1M71 28h1M73 28h1M79 28h1M275 28h2M377 28h1M406 28h1M410 28h1M442 28h2M470 28h1M553 28h2M608 28h1M632 28h3M636 28h1M330 32h1"/>
<path stroke="#ff9d62" d="M748 8h1M778 8h1M796 8h2M826 8h2M182 20h1M301 22h1M331 22h1M601 22h1M385 26h1M611 26h1M77 28h1M301 28h2M405 28h1M433 28h2M439 28h1M441 28h1M461 28h1M555 28h1M607 28h1M637 28h1M331 32h1"/>
<path stroke="#ffac53" d="M798 8h2M831 8h4M187 22h1M606 22h1M609 22h2M359 26h1M384 26h1M464 26h1M74 28h3M78 28h1M243 28h1M298 28h1M300 28h1M303 28h2M407 28h1M435 28h1M438 28h1M440 28h1M462 28h3M471 28h1M578 28h1M606 28h1"/>
<path stroke="#ffbc43" d="M800 8h4M578 22h1M602 22h1M608 26h1M184 28h1M242 28h1M244 28h2M299 28h1M409 28h1M436 28h2M467 28h1"/>
<path stroke="#ffcb34" d="M804 8h2M607 22h1M746 22h1M467 26h1M183 28h1M185 28h4M190 28h3M238 28h1M241 28h1M246 28h1M248 28h1M408 28h1M583 28h1M605 28h1"/>
<path stroke="#ffdb24" d="M806 8h1M182 28h1M189 28h1M239 28h2M247 28h1M579 28h1M582 28h1M247 52h1"/>
<path stroke="#ffea15" d="M750 22h1M580 28h2M600 28h5M248 52h1"/>
<path stroke="#fff906" d="M249 52h4"/>
<path stroke="#ffff3e" d="M608 22h1"/>
<path stroke="#ffff9e" d="M611 22h1"/>
<path stroke="#ffffff" d="M471 20h1M474 20h1M191 54h64"/>
</g>
<g transform="translate(102.40 717.537) scale(2.0 2.3950)" stroke-width="1.08" fill="none" shape-rendering="crispEdges">
<path stroke="#00001f" d="M579 6h1M157 7h1M462 7h1M466 7h1M470 7h2M583 7h1M462 10h1M635 10h1M644 10h3M300 11h1M353 11h1M467 11h1M580 11h1M636 11h2M44 14h1M65 14h1M87 14h1M101 14h1M145 14h1M195 14h1M198 14h2M220 14h1M260 14h1M263 14h1M283 14h1M287 14h1M325 14h1M397 14h1M400 14h2M427 14h1M448 14h1M507 14h1M527 14h1M537 14h1M586 14h1M593 14h1M595 14h1M597 14h1M617 14h1M621 14h2M624 14h1M86 15h1M93 15h1M98 15h2M105 15h1M162 15h1M166 15h1M178 15h1M212 15h1M217 15h1M221 15h1M259 15h1M265 15h1M267 15h1M285 15h1M355 15h1M367 15h2M389 15h1M423 15h1M433 15h1M440 15h3M444 15h1M447 15h1M461 15h1M467 15h1M469 15h2M497 15h1M512 15h2M531 15h1M533 15h4M547 15h1M550 15h1M552 15h1M555 15h1M563 15h1M571 15h1M616 15h1M637 15h2M353 16h1M355 16h1M359 16h1M379 16h1M407 16h1M430 16h1M438 16h2M445 16h1M452 16h1M458 16h1M477 16h1M482 16h2M490 16h2M511 16h1M517 16h1M556 16h1M575 16h1M160 17h1M435 17h3M471 17h1M485 17h2M488 17h1M496 17h1M498 17h1M500 17h1M520 17h2M545 17h2M601 17h1M606 17h1M629 17h1M632 17h1M656 17h1M698 17h1M703 17h1M708 17h1M712 17h1M717 17h1M719 17h1M723 17h2M731 17h1M737 17h1M739 17h2M761 17h1M809 17h3M816 17h1M819 17h2M828 17h2M219 18h1M495 18h1M522 18h1M527 18h1M600 18h1M628 18h1M712 18h1M728 18h1M761 18h1M763 18h1M767 18h1M770 18h1M772 18h1M775 18h1M814 18h1M825 18h1M827 18h1M829 18h1M836 18h1M138 19h1M168 20h1M173 20h1M179 20h1M252 20h1M313 20h1M315 20h1M317 20h1M341 20h1M376 20h1M401 20h1M419 20h1M423 20h2M426 20h1M431 20h1M444 20h1M447 20h1M454 20h1M458 20h2M499 20h1M504 20h3M510 20h1M515 20h1M535 20h1M538 20h1M541 20h2M566 20h1M586 20h1M618 20h1M620 20h2M623 20h1M625 20h1M739 20h1M111 21h1M198 21h1M205 21h1M219 21h2M333 21h1M366 21h1M390 21h1M396 21h1M562 21h2M565 21h1M614 21h1M737 21h1M756 21h1M138 22h1M196 22h1M477 22h1M756 22h1M194 23h1M217 23h1M305 23h1M320 23h1M476 23h1M755 23h1M129 24h1M249 24h1M265 24h2M365 24h1M393 24h1M425 24h1M530 24h1M646 24h1M738 24h1M753 24h1M739 25h1M743 25h1M738 27h1M153 28h1M194 28h1M292 28h1M305 28h1M319 28h1M334 28h1M389 28h1M677 28h1M736 28h1M767 28h1M166 29h1M290 29h1M307 29h1M317 29h1M348 29h1M362 29h1M390 29h1M418 29h1M765 29h1M152 30h1M181 30h1M209 30h1M221 30h1M236 30h1M306 30h1M318 30h1M336 30h1M348 30h1M375 30h1M403 30h1M488 30h1M627 30h1M762 30h1M125 31h1M473 31h1M515 31h1M571 31h1M729 31h1M758 31h1M95 32h1M404 32h1M515 32h1M571 32h1M25 33h1M38 33h1M42 33h1M121 33h1M140 33h1M151 33h2M172 33h1M175 33h1M181 33h1M236 33h1M273 33h1M417 33h1M461 33h1M525 33h1M627 33h1M9 34h3M13 34h2M18 34h2M54 34h2M65 34h2M109 34h1M154 34h1M167 34h1M194 34h1M218 34h1M303 34h1M355 34h1M378 34h1M412 34h1M414 34h1M441 34h1M491 34h1M517 34h1M519 34h1M544 34h1M576 34h1M607 34h3M628 34h3M632 34h1M664 34h2M668 34h1M674 34h1M684 34h1M689 34h1M28 35h1M101 35h1M135 35h1M182 35h1M185 35h1M214 35h1M217 35h1M221 35h1M237 35h1M265 35h1M271 35h1M274 35h2M332 35h1M351 35h2M385 35h2M406 35h2M410 35h1M432 35h1M437 35h1M462 35h1M490 35h1M545 35h1M551 35h1M553 35h1M192 36h1M245 36h1M248 36h1M268 36h1M270 36h1M293 36h1M299 36h1M469 36h1M666 36h2M675 36h1M33 37h1M36 37h2M40 37h2M58 37h4M501 37h1M542 37h2M573 37h3M50 38h1M435 38h1M606 38h3M613 38h22M810 38h27M0 39h1M40 39h1M48 39h1M75 39h1M171 39h1M249 39h1M266 39h1M287 39h1M655 39h1M690 39h1M770 39h1M772 39h1M780 39h1M430 41h1M616 41h3M620 41h3M629 41h4M634 41h2M639 41h1M641 41h2M442 42h1M456 42h1M553 42h2M688 42h1M693 42h1M475 43h1M478 43h1M487 43h1M580 43h1M583 43h1M585 43h1M596 43h2M740 46h1M744 46h1M750 46h1M763 46h1M768 46h2M835 46h1M700 47h1M721 47h1M782 47h1M784 47h1M788 47h1M680 48h2M239 49h1M241 49h5M250 49h1M261 49h5M274 49h1M281 49h1M293 49h1M665 49h1M8 50h1M24 50h1M32 50h1M34 50h1M50 50h1M58 50h1M122 50h1M124 50h1M127 50h2M137 50h2M149 50h1M164 50h1M174 50h2M181 50h1M192 50h1M194 50h2M197 50h2M359 50h1M361 50h2M365 50h1M411 50h1M413 50h1M602 50h2M605 50h1M607 50h1M71 51h3M105 51h1M155 51h1M167 51h5M387 51h5M393 51h1M406 51h1M449 51h1M451 51h1M517 51h1M519 51h1M623 51h1M739 51h1M123 52h1M127 52h2M130 52h2M135 52h5M141 52h5M449 52h1M451 52h1M578 52h2M582 52h1M118 53h1M466 53h2M470 53h1M473 53h1M476 53h1M484 53h1M497 53h1M502 53h1M534 53h1M539 53h1M541 53h2M544 53h1M560 53h1M385 54h2M388 54h1M509 54h1M517 54h1M539 54h3M543 54h2M556 54h1M777 54h1M119 55h1M365 55h8M377 55h1M679 55h2M699 55h1M701 55h1M715 55h1M718 55h1M726 55h1M814 55h1M4 56h1M60 56h1M100 56h1M103 56h1M123 56h1M144 56h1M339 56h1M346 56h1M470 56h2M473 56h2M7 57h1M122 57h1M129 57h2M157 57h5M321 57h1M337 57h1M340 57h2M344 57h2M347 57h2M352 57h1M363 57h1M404 57h1M428 57h1M437 57h1M442 57h1M446 57h1M454 57h1M472 57h1M477 57h1M480 57h1M482 57h1M497 57h1M499 57h1M501 57h3M173 58h3M561 58h1M582 58h1M610 58h2M618 58h1M632 58h1M637 58h1M639 58h1M646 58h1M650 58h1M655 58h1M667 58h1M674 58h2M679 58h1M685 58h1M687 58h1M693 58h1M180 59h1M182 59h1M187 59h1M190 59h7M621 59h1M625 59h1M627 59h1M634 59h3M642 59h1M658 59h1M660 59h2M668 59h1M673 59h1M678 59h1M684 59h1M688 59h2M211 60h1M213 60h2M217 60h3M226 60h2M230 60h3M254 60h1M260 60h1M702 60h1M715 60h1M737 60h1M769 60h1M14 61h2M24 61h1M27 61h1M29 61h1M42 61h1M49 61h2M52 61h2M57 61h2M62 61h1M72 61h2M84 61h2M95 61h2M110 61h3M237 61h1M245 61h2M248 61h1M697 61h1M711 61h1M729 61h1M736 61h1M738 61h1M751 61h1M772 61h2M796 61h2M819 61h1M823 61h1M828 61h1M604 62h1M613 62h1M618 62h4M717 62h1M729 62h1M752 62h1M754 62h1M606 63h1M715 63h1M720 63h1M1 64h2M7 64h1M30 64h1M37 64h1M50 64h2M569 64h7M0 65h1M9 65h2M15 65h1M17 65h1M621 67h3M629 67h1M634 67h1M642 67h1M656 67h2M659 67h3M663 67h2M667 67h1M671 67h2M675 67h1M680 67h4M685 67h2M691 67h3M435 68h1M470 68h1M478 68h1M480 68h1M484 68h2M493 68h1M498 68h1M517 68h1M521 68h1M527 68h1M544 68h5M553 68h1M571 68h1M621 68h1M685 68h1M596 69h1M600 69h1M682 69h1M12 72h1M16 72h1M21 72h1M41 72h1M59 72h1M66 72h1M69 72h1M71 72h1M74 72h1M76 72h1M88 72h1M110 72h1M115 72h1M129 72h1M131 72h1M149 72h1M213 72h1M218 72h1M389 72h1M396 72h1M411 72h1M414 72h1M564 72h2M568 72h1M584 72h3M591 72h1M615 72h1M617 72h1M634 72h1M637 72h1M683 72h1M691 72h1M6 73h2M9 73h1M13 73h1M32 73h1M121 73h1M125 73h1M169 73h1M206 73h2M234 73h1M361 73h2M367 73h1M375 73h1M381 73h1M383 73h4M391 73h1M399 73h1M424 73h1M446 73h1M448 73h1M503 73h1M578 73h1M588 73h1M611 73h2M614 73h1M616 73h1M642 73h1M692 73h1M52 78h1M344 78h1M356 78h2M379 78h1M401 78h2M405 78h1M409 78h1M417 78h1M6 79h1M22 79h1M25 79h1M36 79h1M46 79h2M343 79h1M348 79h4M354 79h2M375 79h1M381 79h1M386 79h1M408 79h1M614 80h1M620 80h1M624 80h1M626 80h2M649 80h2M668 80h1M681 80h1M619 81h1M653 81h1M655 81h3M685 81h2M166 82h2M174 82h1M184 82h2M190 82h1M194 82h1M16 88h3M28 88h1M61 88h1M67 88h1M79 88h1M89 88h1M175 88h1M1 89h1M4 89h1M12 89h1M34 92h1M68 93h1M70 93h1M3 94h1M17 94h2M20 94h1M32 94h1M41 94h1M47 94h1M53 94h2M66 94h1M80 94h1M85 94h1M111 94h1M122 94h1M125 94h1M200 94h3M209 94h2M259 94h1M262 94h1M264 94h1M276 94h1M311 94h1M314 94h1M334 94h1M418 94h1M441 94h1M455 94h1M459 94h3M476 94h1M480 94h1M588 94h1M612 94h1M624 94h1M647 94h2M654 94h1M661 94h2M666 94h1M673 94h1M4 95h2M7 95h3M23 95h3M36 95h2M39 95h1M72 95h2M75 95h1M77 95h1M104 95h2M108 95h1M133 95h1M137 95h3M142 95h1M146 95h1M148 95h1M155 95h2M184 95h1M193 95h1M207 95h2M220 95h2M228 95h1M238 95h2M244 95h1M249 95h1M252 95h1M273 95h1M277 95h1M280 95h1M295 95h2M299 95h1M301 95h1M306 95h3M312 95h1M315 95h1M321 95h1M331 95h1M347 95h1M352 95h2M356 95h1M365 95h1M370 95h1M379 95h1M388 95h1M390 95h1M396 95h2M406 95h1M410 95h3M414 95h1M417 95h1M421 95h1M427 95h1M445 95h2M450 95h1M487 95h2M546 95h1M553 95h1M577 95h1M659 95h2M671 95h1M690 95h1M5 98h1M13 98h1M15 98h1M37 98h1M39 98h1M62 98h1M85 98h1M89 98h1M91 98h2M98 98h3M102 98h1M133 98h2M145 98h1M154 98h2M158 98h1M161 98h1M164 98h2M172 98h1M174 98h1M191 98h1M199 98h1M201 98h1M209 98h2M214 98h1M222 98h1M227 98h1M244 98h1M271 98h1M278 98h1M284 98h1M299 98h1M305 98h1M327 98h3M346 98h1M348 98h1M361 98h1M372 98h1M425 98h2M440 98h3M469 98h1M472 98h1M478 98h2M486 98h1M510 98h1M536 98h1M29 99h2M35 99h2M41 99h1M48 99h1M104 99h1M107 99h1M177 99h1M185 99h1M211 99h2M217 99h2M224 99h1M229 99h2M238 99h1M247 99h1M256 99h1M258 99h1M283 99h1M289 99h1M292 99h1M298 99h1M301 99h1M307 99h1M310 99h1M313 99h1M320 99h1M323 99h1M338 99h1M341 99h1M351 99h1M355 99h1M357 99h2M360 99h1M367 99h1M369 99h1M373 99h1M376 99h1M382 99h1M385 99h1M390 99h2M394 99h1M402 99h2M409 99h1M450 99h1M480 99h1M483 99h2M489 99h1M491 99h2M494 99h2M497 99h1M538 99h1M547 99h2M63 100h1M84 100h1M87 100h1M96 100h1M99 100h1M159 100h1M165 100h1M267 100h1M270 100h1M273 100h1M276 100h1M288 100h1M291 100h1M300 100h1M318 100h2M322 100h1M337 100h1M340 100h1M451 100h1M570 100h1M574 100h1M576 100h1M604 100h1M606 100h3M610 100h1M692 100h2M32 101h1M38 101h1M57 101h1M59 101h2M62 101h1M105 101h1M123 101h1M138 101h1M141 101h1M147 101h1M153 101h1M297 101h1M306 101h1M315 101h1M345 101h1M348 101h1M351 101h2M418 101h1M421 101h1M427 101h1M433 101h1M439 101h1M749 101h1M0 102h1M3 102h1M6 102h1M15 102h1M37 102h1M46 102h1M55 102h1M58 102h1M60 102h2M87 102h1M97 102h1M100 102h1M103 102h1M108 102h1M113 102h1M116 102h1M119 102h1M122 102h1M128 102h1M131 102h1M134 102h1M137 102h1M140 102h1M143 102h1M146 102h1M149 102h1M152 102h1M158 102h1M161 102h1M164 102h1M167 102h1M170 102h1M172 102h1M175 102h1M178 102h2M181 102h2M190 102h2M193 102h2M196 102h2M199 102h1M208 102h2M214 102h2M220 102h1M227 102h1M233 102h1M236 102h1M241 102h1M245 102h1M250 102h2M253 102h2M257 102h1M259 102h2M263 102h1M265 102h1M268 102h1M275 102h1M277 102h1M284 102h1M287 102h1M290 102h1M293 102h1M299 102h1M308 102h1M311 102h1M344 102h1M347 102h1M350 102h1M376 102h1M384 102h1M405 102h1M411 102h1M423 102h1M426 102h1M432 102h1M435 102h1M441 102h1M444 102h1M449 102h1M453 102h1M455 102h1M458 102h1M461 102h1M464 102h1M468 102h1M470 102h1M476 102h1M509 102h2M512 102h1M533 102h1M538 102h1M719 102h1M725 102h1M12 103h1M41 103h1M121 103h1M127 103h1M132 103h1M138 103h1M148 103h1M166 103h1M169 103h1M185 103h2M188 103h1M218 103h1M266 103h1M286 103h1M297 103h2M301 103h1M355 103h1M358 103h1M366 103h1M369 103h1M385 103h1M390 103h1M396 103h1M402 103h1M404 103h1M406 103h2M437 103h2M442 103h1M445 103h1M500 103h1M502 103h1M504 103h2M507 103h1M513 103h1M524 103h1M528 103h1M540 103h1M548 103h1M562 103h1M587 103h1M601 103h1M603 103h1M605 103h1M608 103h2M632 103h1M634 103h1M648 103h1M683 103h1M685 103h1M695 103h1M697 103h2M700 103h1M702 103h1M704 103h1M710 103h3M728 103h4M734 103h1M740 103h1M752 103h1M764 103h1M770 103h1M775 103h2M783 103h1M786 103h3M818 103h1M825 103h1M830 103h1M834 103h1M494 104h1M503 104h1M508 104h1M516 104h2M528 104h1M533 104h1M538 104h1M544 104h1M548 104h2M553 104h1M556 104h1M565 104h2M578 104h2M590 104h1M672 104h1M682 104h1M686 104h1M689 104h1M560 105h2M633 105h1M663 105h1M665 105h1M668 105h1"/>
<path stroke="#00003e" d="M578 6h1M580 6h1M106 7h1M108 7h1M322 7h1M355 7h1M436 7h1M465 7h1M469 7h1M554 7h1M576 7h1M600 7h1M580 10h1M637 10h2M331 11h1M354 11h1M442 11h1M461 11h1M547 11h1M550 11h1M554 11h1M576 11h1M579 11h1M629 11h1M639 11h1M294 13h1M106 14h1M149 14h1M174 14h1M176 14h1M179 14h1M197 14h1M200 14h1M203 14h1M224 14h3M241 14h1M288 14h1M307 14h1M315 14h1M317 14h1M326 14h1M343 14h1M369 14h1M372 14h2M378 14h1M393 14h1M396 14h1M399 14h1M405 14h1M407 14h2M410 14h1M423 14h1M447 14h1M467 14h1M512 14h2M568 14h1M592 14h1M594 14h1M618 14h1M620 14h1M720 14h1M75 15h2M84 15h2M96 15h1M148 15h1M155 15h1M157 15h1M164 15h2M167 15h1M177 15h1M196 15h1M219 15h1M222 15h2M228 15h1M266 15h1M269 15h1M281 15h1M297 15h1M353 15h1M356 15h1M374 15h1M395 15h1M402 15h1M425 15h1M429 15h1M434 15h1M443 15h1M446 15h1M451 15h1M463 15h1M465 15h1M482 15h1M490 15h1M495 15h1M508 15h1M544 15h1M546 15h1M553 15h2M561 15h2M565 15h1M570 15h1M575 15h1M641 15h1M305 16h1M352 16h1M356 16h1M384 16h1M419 16h2M433 16h1M437 16h1M443 16h1M478 16h1M480 16h1M512 16h1M551 16h1M157 17h2M381 17h1M431 17h2M460 17h1M472 17h2M475 17h1M477 17h1M489 17h1M495 17h1M497 17h1M517 17h1M519 17h1M556 17h1M575 17h1M581 17h2M679 17h1M686 17h1M704 17h1M709 17h1M721 17h1M728 17h3M735 17h1M738 17h1M742 17h3M764 17h2M767 17h2M771 17h2M775 17h1M833 17h1M72 18h1M137 18h1M154 18h1M164 18h1M325 18h2M478 18h1M583 18h1M633 18h1M698 18h2M701 18h1M724 18h2M729 18h1M746 18h1M773 18h2M777 18h1M779 18h1M815 18h1M822 18h3M828 18h1M219 19h1M544 19h1M745 19h1M118 20h2M152 20h1M166 20h2M219 20h1M239 20h1M318 20h1M420 20h1M435 20h2M478 20h2M509 20h1M511 20h2M531 20h2M557 20h2M573 20h1M587 20h2M592 20h1M597 20h1M599 20h1M622 20h1M627 20h1M641 20h2M70 21h1M90 21h2M110 21h1M127 21h3M138 21h1M276 21h1M365 21h1M556 21h1M561 21h1M564 21h1M738 21h1M153 22h1M209 22h1M216 22h1M305 22h1M320 22h1M516 22h1M54 23h1M97 23h1M137 23h1M160 23h1M249 23h1M460 23h1M473 23h1M744 25h1M747 25h3M751 25h1M739 27h1M237 28h1M320 28h1M361 28h1M376 28h1M404 28h1M417 28h1M737 28h1M740 28h1M152 29h1M306 29h1M318 29h1M336 29h1M403 29h1M472 29h1M734 29h1M766 29h1M153 30h1M194 30h1M291 30h1M335 30h1M763 30h2M181 31h1M209 31h1M236 31h1M759 31h2M81 32h1M96 32h2M125 32h1M181 32h1M209 32h1M236 32h1M461 32h1M525 32h1M726 32h1M756 32h1M20 33h1M33 33h1M35 33h2M39 33h1M53 33h1M95 33h1M120 33h1M123 33h1M139 33h1M144 33h1M146 33h1M167 33h1M174 33h1M178 33h2M194 33h1M303 33h1M635 33h1M638 33h1M696 33h5M702 33h10M723 33h1M807 33h17M835 33h2M8 34h1M12 34h1M20 34h1M22 34h1M38 34h2M42 34h1M45 34h1M53 34h1M64 34h1M70 34h1M102 34h1M147 34h1M156 34h2M210 34h1M276 34h1M348 34h1M379 34h1M488 34h1M495 34h1M498 34h1M518 34h1M522 34h1M524 34h1M572 34h1M577 34h3M601 34h1M603 34h1M605 34h1M669 34h1M673 34h1M678 34h2M683 34h1M687 34h1M49 35h1M105 35h1M244 35h1M297 35h1M302 35h1M349 35h2M354 35h1M356 35h1M358 35h1M409 35h1M436 35h1M438 35h1M470 35h1M472 35h1M489 35h1M549 35h2M552 35h1M666 35h2M675 35h1M47 36h1M191 36h1M238 36h1M241 36h1M269 36h1M301 36h1M322 36h1M680 36h1M685 36h2M48 37h1M50 37h3M54 37h3M39 38h1M49 38h1M337 38h1M15 39h1M50 39h1M65 39h2M74 39h1M76 39h1M85 39h1M98 39h1M172 39h1M196 39h1M218 39h1M252 39h1M256 39h2M264 39h2M290 39h3M343 39h1M434 39h1M444 39h1M645 39h1M657 39h1M683 39h1M696 39h1M603 40h1M429 42h1M669 42h2M682 42h1M687 42h1M692 42h1M695 42h1M474 43h1M486 43h1M492 43h1M495 43h2M500 43h1M509 43h1M513 43h1M518 43h1M525 43h2M590 43h1M598 43h1M817 43h1M745 46h1M766 46h2M773 46h3M792 46h1M699 47h1M722 47h2M725 47h1M727 47h1M729 47h1M735 47h1M751 47h1M771 47h1M783 47h1M791 47h1M10 50h1M12 50h1M15 50h1M17 50h1M19 50h4M35 50h2M41 50h2M44 50h3M48 50h1M66 50h1M96 50h1M110 50h1M115 50h1M117 50h3M126 50h1M136 50h1M146 50h1M150 50h1M183 50h1M191 50h1M319 50h2M322 50h2M327 50h1M342 50h1M358 50h1M360 50h1M368 50h1M371 50h1M387 50h1M408 50h2M516 50h1M622 50h1M74 51h1M172 51h7M385 51h2M396 51h2M450 51h1M456 51h1M586 51h1M737 51h2M125 52h2M129 52h1M146 52h4M520 52h2M529 52h1M588 52h1M594 52h1M598 52h1M119 53h1M471 53h1M474 53h1M477 53h3M485 53h2M548 53h1M555 53h1M384 54h1M504 54h1M534 54h2M542 54h1M547 54h1M549 54h1M553 54h1M120 55h2M360 55h5M666 55h1M702 55h1M716 55h1M724 55h1M760 55h1M763 55h1M801 55h1M805 55h1M813 55h1M834 55h1M2 56h1M8 56h1M13 56h1M90 56h1M145 56h5M441 56h1M443 56h2M447 56h2M479 56h1M4 57h1M100 57h1M103 57h1M123 57h1M144 57h1M162 57h1M164 57h1M338 57h2M346 57h1M470 57h2M473 57h2M478 57h1M179 58h4M581 58h1M595 58h1M599 58h1M614 58h1M619 58h1M629 58h1M631 58h1M643 58h1M657 58h1M662 58h1M670 58h1M677 58h1M185 59h2M197 59h5M576 59h1M622 59h1M624 59h1M628 59h1M664 59h1M669 59h1M672 59h1M237 60h2M244 60h5M250 60h1M253 60h1M699 60h1M712 60h1M717 60h1M720 60h1M725 60h2M752 60h1M792 60h1M794 60h1M1 61h1M10 61h1M17 61h1M22 61h2M28 61h1M33 61h1M36 61h1M51 61h1M63 61h1M65 61h2M69 61h1M86 61h1M89 61h1M91 61h2M94 61h1M109 61h1M113 61h2M700 61h2M704 61h1M707 61h1M723 61h2M727 61h1M762 61h1M774 61h1M776 61h1M782 61h1M790 61h2M795 61h1M798 61h1M804 61h3M809 61h2M820 61h1M610 62h2M622 62h1M692 62h1M730 62h1M751 62h1M757 62h1M759 62h1M604 63h2M607 63h2M576 64h5M584 64h2M592 64h1M5 65h1M8 65h1M14 65h1M28 65h1M44 65h2M565 66h1M569 67h1M573 67h4M620 67h1M638 67h2M647 67h1M651 67h1M653 67h1M658 67h1M662 67h1M684 67h1M687 67h1M689 67h2M694 67h1M437 68h1M439 68h1M441 68h2M465 68h1M481 68h1M483 68h1M500 68h1M514 68h3M518 68h1M543 68h1M558 68h1M596 68h1M600 68h1M682 68h1M599 69h1M622 69h1M631 69h1M648 69h1M684 69h1M687 69h1M202 70h1M248 70h1M272 70h1M1 72h1M18 72h1M24 72h2M28 72h2M34 72h1M42 72h1M64 72h1M70 72h1M72 72h2M90 72h1M133 72h1M135 72h2M152 72h1M164 72h1M166 72h1M212 72h1M215 72h1M229 72h1M231 72h1M236 72h1M271 72h1M291 72h1M311 72h1M328 72h1M388 72h1M390 72h1M392 72h1M395 72h1M398 72h1M415 72h1M418 72h1M491 72h1M496 72h1M559 72h2M590 72h1M596 72h1M636 72h1M652 72h1M685 72h1M689 72h1M11 73h1M14 73h2M23 73h1M40 73h1M144 73h1M204 73h1M227 73h1M255 73h1M266 73h1M272 73h1M284 73h1M353 73h1M365 73h2M423 73h1M500 73h1M506 73h1M564 73h2M568 73h1M584 73h3M591 73h1M615 73h1M617 73h1M634 73h1M637 73h1M683 73h1M691 73h1M345 78h1M353 78h1M400 78h1M404 78h1M407 78h1M0 79h1M5 79h1M9 79h1M16 79h1M21 79h1M24 79h1M26 79h5M54 79h1M339 79h4M352 79h1M376 79h1M380 79h1M383 79h2M393 79h1M615 80h1M623 80h1M652 80h1M654 80h1M683 80h1M687 80h3M617 81h2M671 81h1M673 81h1M677 81h1M684 81h1M173 82h1M176 82h1M189 82h1M195 82h1M470 86h1M66 88h1M68 88h1M92 88h1M178 88h2M232 88h1M2 89h1M10 89h2M33 92h1M26 93h1M38 93h1M44 93h1M63 93h2M73 93h2M78 93h2M83 93h1M87 93h1M473 93h2M15 94h1M21 94h1M29 94h1M31 94h1M34 94h1M44 94h1M52 94h1M55 94h1M68 94h2M74 94h2M107 94h1M109 94h1M119 94h1M121 94h1M129 94h2M140 94h1M154 94h1M183 94h1M194 94h1M196 94h4M213 94h1M219 94h1M250 94h2M255 94h1M257 94h1M293 94h1M297 94h1M313 94h1M323 94h3M335 94h1M349 94h2M354 94h1M407 94h1M436 94h1M442 94h2M451 94h2M462 94h1M540 94h1M574 94h2M599 94h1M611 94h1M626 94h1M644 94h1M652 94h1M657 94h1M667 94h1M669 94h1M672 94h1M679 94h3M691 94h1M802 94h1M70 95h2M76 95h1M103 95h1M110 95h1M123 95h2M132 95h1M143 95h1M152 95h1M181 95h1M203 95h1M214 95h2M222 95h2M227 95h1M234 95h2M243 95h1M245 95h1M247 95h2M258 95h1M265 95h3M271 95h1M282 95h1M289 95h1M303 95h1M316 95h3M333 95h1M336 95h3M344 95h2M348 95h1M351 95h1M362 95h1M364 95h1M366 95h1M368 95h1M387 95h1M391 95h4M398 95h1M403 95h2M416 95h1M423 95h1M486 95h1M495 95h1M511 95h1M520 95h1M527 95h1M547 95h1M556 95h2M597 95h1M658 95h1M670 95h1M684 95h1M686 95h1M692 95h2M14 98h1M16 98h1M86 98h1M90 98h1M101 98h1M135 98h1M147 98h1M149 98h1M166 98h2M169 98h2M192 98h1M196 98h1M204 98h1M215 98h1M217 98h1M220 98h1M226 98h1M228 98h2M246 98h1M260 98h2M272 98h1M282 98h2M285 98h1M300 98h1M339 98h1M343 98h1M345 98h1M352 98h1M355 98h1M358 98h1M360 98h1M362 98h1M367 98h2M382 98h1M494 98h1M511 98h1M6 99h1M9 99h1M12 99h1M15 99h1M18 99h1M21 99h1M24 99h1M27 99h1M33 99h1M39 99h1M58 99h1M97 99h1M100 99h1M110 99h1M113 99h1M116 99h1M125 99h1M173 99h1M176 99h1M179 99h1M184 99h1M187 99h2M191 99h1M197 99h1M199 99h2M202 99h2M205 99h2M232 99h2M235 99h1M239 99h1M244 99h1M248 99h1M250 99h1M253 99h1M257 99h1M259 99h1M262 99h1M265 99h1M268 99h1M271 99h1M274 99h1M277 99h1M280 99h1M295 99h1M304 99h1M317 99h1M353 99h1M372 99h1M378 99h1M381 99h1M387 99h1M393 99h1M396 99h1M399 99h1M405 99h1M408 99h1M414 99h1M417 99h1M420 99h1M423 99h1M429 99h1M435 99h1M438 99h1M444 99h1M453 99h1M456 99h1M459 99h1M462 99h1M465 99h1M468 99h1M477 99h1M479 99h1M482 99h1M488 99h1M32 100h1M38 100h1M57 100h1M59 100h2M62 100h1M105 100h1M123 100h1M138 100h1M141 100h1M147 100h1M153 100h1M297 100h1M306 100h1M315 100h1M345 100h1M348 100h1M351 100h2M418 100h1M421 100h1M427 100h1M433 100h1M439 100h1M571 100h1M575 100h1M592 100h1M611 100h1M642 100h1M647 100h1M662 100h1M665 100h3M690 100h1M2 101h1M5 101h1M8 101h1M17 101h1M20 101h1M23 101h1M26 101h1M36 101h1M44 101h2M50 101h2M54 101h1M98 101h1M101 101h1M111 101h1M117 101h1M120 101h1M126 101h1M129 101h1M132 101h1M343 101h1M346 101h1M349 101h1M361 101h1M363 101h1M388 101h1M397 101h1M424 101h1M474 101h1M485 101h1M492 101h1M497 101h2M500 101h2M10 102h1M13 102h1M31 102h1M49 102h1M59 102h1M106 102h1M109 102h1M124 102h1M151 102h1M155 102h1M157 102h1M160 102h1M163 102h1M166 102h1M169 102h1M221 102h1M242 102h1M266 102h1M269 102h1M272 102h1M278 102h1M281 102h1M296 102h1M302 102h1M305 102h1M314 102h1M356 102h1M359 102h1M362 102h1M389 102h1M401 102h1M407 102h1M413 102h1M416 102h1M419 102h1M422 102h1M434 102h1M437 102h1M446 102h1M452 102h1M467 102h1M6 103h2M21 103h1M47 103h1M53 103h1M74 103h1M103 103h1M122 103h1M135 103h2M142 103h1M147 103h1M170 103h1M172 103h1M174 103h1M180 103h1M184 103h1M209 103h1M219 103h1M230 103h1M238 103h1M246 103h1M248 103h1M253 103h2M256 103h2M262 103h1M267 103h1M299 103h1M304 103h1M325 103h2M328 103h1M357 103h1M365 103h1M368 103h1M386 103h1M388 103h1M394 103h1M435 103h1M439 103h1M448 103h1M456 103h2M506 103h1M557 103h2M563 103h1M599 103h2M631 103h1M635 103h1M646 103h1M662 103h2M682 103h1M684 103h1M686 103h3M690 103h2M699 103h1M701 103h1M705 103h2M709 103h1M713 103h2M716 103h1M738 103h2M748 103h1M755 103h3M769 103h1M779 103h1M782 103h1M833 103h1M835 103h1M495 104h1M498 104h2M501 104h2M505 104h2M509 104h3M513 104h1M518 104h3M557 104h2M564 104h1M567 104h1M572 104h1M594 104h2M632 104h1M664 104h1M671 104h1M683 104h1M685 104h1M694 104h1M672 105h1M682 105h1M686 105h1M689 105h1"/>
<path stroke="#00005d" d="M107 6h1M157 6h1M321 6h1M354 6h1M462 6h1M466 6h2M470 6h2M109 7h1M158 7h3M353 7h1M356 7h1M360 7h1M461 7h1M468 7h1M549 7h1M577 7h1M581 7h2M300 10h1M353 10h1M461 10h1M467 10h1M550 10h1M554 10h1M576 10h1M579 10h1M636 10h1M639 10h1M299 11h1M301 11h1M303 11h2M330 11h1M351 11h1M355 11h2M405 11h1M439 11h1M463 11h1M466 11h1M544 11h1M546 11h1M551 11h3M555 11h1M574 11h2M581 11h1M609 11h1M66 14h1M72 14h1M99 14h1M104 14h2M107 14h1M116 14h2M137 14h1M147 14h1M151 14h1M204 14h1M206 14h1M217 14h1M227 14h1M234 14h1M251 14h1M258 14h1M262 14h1M282 14h1M291 14h1M300 14h1M316 14h1M345 14h2M371 14h1M377 14h1M379 14h1M406 14h1M409 14h1M411 14h1M425 14h1M429 14h1M446 14h1M451 14h1M482 14h1M508 14h1M514 14h1M522 14h1M526 14h1M530 14h1M532 14h1M560 14h1M569 14h1M587 14h1M590 14h1M609 14h1M9 15h1M16 15h2M71 15h1M79 15h2M87 15h1M145 15h1M198 15h1M218 15h1M240 15h1M260 15h1M263 15h1M287 15h1M324 15h1M327 15h1M380 15h1M401 15h1M422 15h1M424 15h1M435 15h2M445 15h1M452 15h1M464 15h1M466 15h1M483 15h1M491 15h1M499 15h1M501 15h1M542 15h2M545 15h1M566 15h1M358 16h1M382 16h1M385 16h1M434 16h1M461 16h1M471 16h5M479 16h1M481 16h1M484 16h1M487 16h1M489 16h1M492 16h1M496 16h1M498 16h2M513 16h1M553 16h1M359 17h1M378 17h1M380 17h1M407 17h1M438 17h1M470 17h1M494 17h1M548 17h1M576 17h1M580 17h1M603 17h3M655 17h1M677 17h2M680 17h1M685 17h1M687 17h2M691 17h1M695 17h3M705 17h2M718 17h1M726 17h1M741 17h1M745 17h1M763 17h1M769 17h2M773 17h1M776 17h2M805 17h1M808 17h1M834 17h1M155 18h2M215 18h1M377 18h1M460 18h1M526 18h1M556 18h1M574 18h1M608 18h1M653 18h4M697 18h1M700 18h1M702 18h2M714 18h1M720 18h1M723 18h1M726 18h2M730 18h2M735 18h1M739 18h1M743 18h3M753 18h1M760 18h1M762 18h1M766 18h1M776 18h1M778 18h1M786 18h1M790 18h1M813 18h1M820 18h2M833 18h3M325 19h2M495 19h1M628 19h1M741 19h1M750 19h1M7 20h1M9 20h1M117 20h1M144 20h1M146 20h1M175 20h1M177 20h1M276 20h2M316 20h1M337 20h1M339 20h2M375 20h1M421 20h2M425 20h1M513 20h2M533 20h2M544 20h1M556 20h1M560 20h1M584 20h1M589 20h1M594 20h1M596 20h1M598 20h1M619 20h1M197 21h1M305 21h1M320 21h1M477 21h1M612 21h1M639 21h1M26 22h1M195 22h1M460 22h1M157 23h1M215 23h1M137 24h1M160 24h1M180 24h1M460 24h1M521 24h1M740 25h1M742 25h1M745 25h2M750 25h1M333 28h1M291 29h1M335 29h1M375 29h1M735 29h1M767 29h1M305 30h1M319 30h1M389 30h1M432 30h1M732 30h1M766 30h1M194 31h1M221 31h1M348 31h1M417 31h1M627 31h1M762 31h1M194 32h1M265 32h1M273 32h1M303 32h1M417 32h1M627 32h1M635 32h1M727 32h1M28 33h1M31 33h2M40 33h2M86 33h1M96 33h1M138 33h1M145 33h1M148 33h1M150 33h1M168 33h2M180 33h1M580 33h1M610 33h1M659 33h1M751 33h3M779 33h17M803 33h1M15 34h2M34 34h1M37 34h1M43 34h2M69 34h1M142 34h1M155 34h1M159 34h2M166 34h1M168 34h1M173 34h1M211 34h3M221 34h1M237 34h1M243 34h1M265 34h1M271 34h1M380 34h1M383 34h2M387 34h1M405 34h1M416 34h1M493 34h1M496 34h2M523 34h1M634 34h1M688 34h1M99 35h1M106 35h1M108 35h1M183 35h2M193 35h1M215 35h1M219 35h2M245 35h1M248 35h1M353 35h1M381 35h2M433 35h2M440 35h1M463 35h1M469 35h1M680 35h1M685 35h2M188 36h1M266 36h2M300 36h1M465 36h1M467 36h1M663 36h1M53 37h1M777 38h1M796 38h1M803 38h1M39 39h1M49 39h1M68 39h2M81 39h1M99 39h1M184 39h1M193 39h1M251 39h1M255 39h1M285 39h1M656 39h1M697 39h1M768 39h1M771 39h1M834 39h1M444 40h1M646 40h1M672 42h1M685 42h1M689 42h1M476 43h1M493 43h1M497 43h1M499 43h1M501 43h1M511 43h1M516 43h1M520 43h1M524 43h1M533 43h2M579 43h1M586 43h1M589 43h1M818 43h1M746 46h4M781 46h1M793 46h1M711 47h1M724 47h1M730 47h1M734 47h1M738 47h1M752 47h1M756 47h1M777 47h1M670 48h1M679 48h1M659 49h1M666 49h2M673 49h1M1 50h2M7 50h1M18 50h1M38 50h1M43 50h1M51 50h1M57 50h1M64 50h1M125 50h1M152 50h2M156 50h1M159 50h1M171 50h1M199 50h2M202 50h1M205 50h1M210 50h5M216 50h6M223 50h4M307 50h3M312 50h1M314 50h1M343 50h2M346 50h1M369 50h2M386 50h1M388 50h1M390 50h1M403 50h1M407 50h1M414 50h1M456 50h1M517 50h3M617 50h1M623 50h1M179 51h3M183 51h1M383 51h1M455 51h1M457 51h1M585 51h1M740 51h1M742 51h1M150 52h3M508 52h1M512 52h1M518 52h1M581 52h1M589 52h1M593 52h1M597 52h1M120 53h1M391 53h1M382 54h2M550 54h3M555 54h1M122 55h1M357 55h3M529 55h1M720 55h2M725 55h1M751 55h1M759 55h1M762 55h1M764 55h1M806 55h1M829 55h1M836 55h1M12 56h1M54 56h1M150 56h2M2 57h1M8 57h1M13 57h1M60 57h1M90 57h1M145 57h2M163 57h1M165 57h4M441 57h1M443 57h2M447 57h2M479 57h1M185 58h3M574 58h2M597 58h1M620 58h1M641 58h1M654 58h1M659 58h1M690 58h1M188 59h1M202 59h1M205 59h1M263 59h3M267 59h2M671 59h1M697 60h1M713 60h1M716 60h1M719 60h1M721 60h1M729 60h1M735 60h2M751 60h1M753 60h1M772 60h2M797 60h1M9 61h1M16 61h1M30 61h1M41 61h1M76 61h1M78 61h1M93 61h1M115 61h1M698 61h1M703 61h1M705 61h2M718 61h1M728 61h1M731 61h4M739 61h1M750 61h1M756 61h1M763 61h4M768 61h1M777 61h1M802 61h2M807 61h2M816 61h2M824 61h1M624 62h2M631 62h2M634 62h1M649 62h7M667 62h1M669 62h8M681 62h2M685 62h3M689 62h3M693 62h2M760 62h1M609 63h1M716 63h1M719 63h1M581 64h3M586 64h6M593 64h1M2 65h1M4 65h1M6 65h2M16 65h1M43 65h1M569 65h2M570 67h2M577 67h1M616 67h4M628 67h1M635 67h1M637 67h1M640 67h1M420 68h1M423 68h1M433 68h1M440 68h1M449 68h1M451 68h1M461 68h1M467 68h1M474 68h1M506 68h1M509 68h1M529 68h1M552 68h1M599 68h1M622 68h1M631 68h1M648 68h1M684 68h1M687 68h1M496 69h1M617 69h1M630 69h1M638 69h1M247 70h1M273 70h1M283 70h1M19 72h1M45 72h1M65 72h1M68 72h1M78 72h1M81 72h1M89 72h1M106 72h2M118 72h1M127 72h2M142 72h1M211 72h1M214 72h1M270 72h1M300 72h1M325 72h2M339 72h1M387 72h1M397 72h1M503 72h1M587 72h1M589 72h1M595 72h1M603 72h1M654 72h1M665 72h1M670 72h2M679 72h1M684 72h1M8 73h1M30 73h2M38 73h2M43 73h1M80 73h1M123 73h1M141 73h1M168 73h1M182 73h1M233 73h1M256 73h1M265 73h1M291 73h1M311 73h1M328 73h1M374 73h1M422 73h1M452 73h1M494 73h2M499 73h1M507 73h1M510 73h1M559 73h2M590 73h1M596 73h1M636 73h1M652 73h1M685 73h1M689 73h1M55 78h1M347 78h1M395 78h1M399 78h1M406 78h1M410 78h1M416 78h1M2 79h1M4 79h1M14 79h1M18 79h1M31 79h1M336 79h1M338 79h1M374 79h1M378 79h1M387 79h1M394 79h1M418 79h1M616 80h1M625 80h1M667 80h1M680 80h1M658 81h1M188 82h1M191 82h1M193 82h1M470 87h1M15 88h1M29 88h1M34 88h1M40 88h1M42 88h1M73 88h1M87 88h1M90 88h1M93 88h1M173 88h1M221 88h1M32 92h1M84 92h1M88 92h1M61 93h1M65 93h1M179 93h2M226 93h3M232 93h1M235 93h1M470 93h1M1 94h1M11 94h1M14 94h1M19 94h1M30 94h1M33 94h1M72 94h2M77 94h1M86 94h1M94 94h1M104 94h3M120 94h1M142 94h1M146 94h1M148 94h1M155 94h1M182 94h1M184 94h1M193 94h1M207 94h2M228 94h1M249 94h1M253 94h1M273 94h1M287 94h1M294 94h3M299 94h1M307 94h1M322 94h1M326 94h1M352 94h1M356 94h1M363 94h1M369 94h1M371 94h1M389 94h1M400 94h2M431 94h1M433 94h2M438 94h3M444 94h1M456 94h2M464 94h1M467 94h1M473 94h1M477 94h3M579 94h1M582 94h2M586 94h1M645 94h1M653 94h1M655 94h2M682 94h2M803 94h1M26 95h1M38 95h1M95 95h1M100 95h3M131 95h1M134 95h1M136 95h1M147 95h1M149 95h1M151 95h1M153 95h1M157 95h1M168 95h1M216 95h1M218 95h1M224 95h1M226 95h1M232 95h1M237 95h1M240 95h1M246 95h1M268 95h1M270 95h1M272 95h1M279 95h1M283 95h2M286 95h1M288 95h1M290 95h3M300 95h1M302 95h1M304 95h2M309 95h1M320 95h1M327 95h4M332 95h1M341 95h3M346 95h1M360 95h2M367 95h1M372 95h1M374 95h1M376 95h2M413 95h1M422 95h1M469 95h1M484 95h1M510 95h1M519 95h1M539 95h1M548 95h1M555 95h1M561 95h2M694 95h1M38 98h1M87 98h1M153 98h1M160 98h1M179 98h1M207 98h1M216 98h1M221 98h1M224 98h1M237 98h1M249 98h1M252 98h1M255 98h2M259 98h1M262 98h1M281 98h1M330 98h3M338 98h1M349 98h1M354 98h1M356 98h1M359 98h1M376 98h1M488 98h1M512 98h1M523 98h1M0 99h1M3 99h1M52 99h1M61 99h1M103 99h1M119 99h1M122 99h1M128 99h1M131 99h1M137 99h1M140 99h1M143 99h1M149 99h1M158 99h1M161 99h1M164 99h1M167 99h1M170 99h1M172 99h1M178 99h1M182 99h1M190 99h1M193 99h1M196 99h1M209 99h1M214 99h2M226 99h2M241 99h1M254 99h1M284 99h1M287 99h1M290 99h1M299 99h1M347 99h1M350 99h1M411 99h1M426 99h1M432 99h1M441 99h1M447 99h1M449 99h1M455 99h1M458 99h1M461 99h1M464 99h1M470 99h1M476 99h1M2 100h1M5 100h1M8 100h1M17 100h1M20 100h1M23 100h1M26 100h1M36 100h1M44 100h2M50 100h2M54 100h1M98 100h1M101 100h1M111 100h1M117 100h1M120 100h1M126 100h1M129 100h1M132 100h1M343 100h1M346 100h1M349 100h1M361 100h1M363 100h1M388 100h1M397 100h1M424 100h1M474 100h1M485 100h1M492 100h1M497 100h2M500 100h2M564 100h1M566 100h1M573 100h1M580 100h3M633 100h2M646 100h1M651 100h1M657 100h1M661 100h1M663 100h1M669 100h1M694 100h1M30 101h1M35 101h1M41 101h2M48 101h1M223 101h2M247 101h1M283 101h1M298 101h1M310 101h1M320 101h1M338 101h1M355 101h1M358 101h1M360 101h1M373 101h1M379 101h1M385 101h1M391 101h1M473 101h1M491 101h1M495 101h1M4 102h1M7 102h1M16 102h1M19 102h1M25 102h1M28 102h1M112 102h1M115 102h1M118 102h1M121 102h1M127 102h1M130 102h1M136 102h1M139 102h1M142 102h1M145 102h1M148 102h1M154 102h1M365 102h1M368 102h1M371 102h1M374 102h1M377 102h1M380 102h1M386 102h1M392 102h1M404 102h1M410 102h1M425 102h1M431 102h1M534 102h1M3 103h1M24 103h1M33 103h1M36 103h1M65 103h1M69 103h1M99 103h2M119 103h2M137 103h1M161 103h2M164 103h2M178 103h1M206 103h1M220 103h1M227 103h1M231 103h1M268 103h1M284 103h1M300 103h1M305 103h1M319 103h1M322 103h1M329 103h1M348 103h1M352 103h1M354 103h1M359 103h1M363 103h1M367 103h1M399 103h1M403 103h1M405 103h1M408 103h1M424 103h1M446 103h1M490 103h2M508 103h1M529 103h1M532 103h1M536 103h1M539 103h1M607 103h1M610 103h1M630 103h1M640 103h1M642 103h1M651 103h1M657 103h1M664 103h1M668 103h2M672 103h3M715 103h1M717 103h1M721 103h1M735 103h1M744 103h1M747 103h1M753 103h1M758 103h1M761 103h1M763 103h1M765 103h1M496 104h2M512 104h1M515 104h1M525 104h1M527 104h1M529 104h1M554 104h1M563 104h1M631 104h1M634 104h1M646 104h2M660 104h2M673 104h1M681 104h1M684 104h1M559 105h1M570 105h1M576 105h1M632 105h1M664 105h1M671 105h1M683 105h1M685 105h1M694 105h1"/>
<path stroke="#00007c" d="M106 6h1M108 6h1M322 6h1M355 6h1M360 6h1M436 6h1M465 6h1M469 6h1M554 6h1M576 6h2M581 6h1M583 6h1M600 6h1M76 7h1M103 7h3M156 7h1M212 7h2M300 7h1M323 7h1M383 7h1M385 7h2M415 7h1M433 7h3M437 7h2M463 7h1M490 7h1M495 7h1M544 7h1M546 7h1M550 7h1M555 7h1M574 7h2M604 7h1M299 10h1M330 10h2M351 10h1M354 10h1M439 10h1M442 10h1M547 10h1M551 10h1M553 10h1M629 10h1M323 11h1M352 11h1M360 11h1M435 11h1M438 11h1M440 11h2M443 11h1M464 11h2M470 11h1M498 11h1M578 11h1M583 11h1M608 11h1M628 11h1M630 11h1M633 11h2M43 14h1M63 14h1M98 14h1M118 14h1M120 14h1M122 14h2M144 14h1M150 14h1M158 14h1M162 14h1M164 14h1M175 14h1M202 14h1M212 14h1M229 14h1M233 14h1M252 14h1M261 14h1M265 14h1M267 14h1M269 14h1M286 14h1M297 14h1M308 14h1M310 14h1M318 14h1M324 14h1M342 14h1M344 14h1M355 14h2M366 14h1M424 14h1M437 14h1M439 14h2M452 14h1M461 14h1M463 14h1M466 14h1M519 14h1M524 14h2M539 14h1M564 14h1M579 14h3M583 14h1M589 14h1M600 14h1M608 14h1M614 14h1M629 14h2M639 14h1M719 14h1M10 15h1M15 15h1M21 15h1M74 15h1M77 15h1M81 15h1M109 15h1M149 15h1M154 15h1M160 15h1M163 15h1M176 15h1M179 15h1M195 15h1M197 15h1M213 15h2M224 15h2M249 15h1M268 15h1M283 15h1M288 15h1M296 15h1M300 15h2M317 15h1M320 15h1M354 15h1M369 15h1M372 15h2M381 15h2M396 15h2M400 15h1M403 15h1M421 15h1M432 15h1M480 15h2M484 15h1M487 15h1M489 15h1M492 15h1M540 15h2M615 15h1M105 16h1M217 16h2M271 16h1M354 16h1M357 16h1M383 16h1M435 16h2M467 16h1M469 16h1M485 16h2M488 16h1M493 16h2M497 16h1M500 16h1M549 16h2M552 16h1M555 16h1M305 17h1M476 17h1M547 17h1M653 17h2M657 17h1M659 17h1M673 17h1M675 17h2M684 17h1M689 17h1M722 17h1M727 17h1M732 17h1M746 17h1M751 17h1M760 17h1M766 17h1M774 17h1M778 17h1M786 17h1M806 17h1M817 17h2M836 17h1M15 18h1M17 18h1M73 18h1M75 18h1M133 18h1M136 18h1M249 18h1M320 18h1M327 18h1M496 18h1M498 18h1M516 18h1M523 18h3M545 18h1M577 18h3M634 18h1M696 18h1M704 18h1M707 18h1M710 18h1M719 18h1M736 18h2M741 18h2M754 18h1M759 18h1M780 18h3M785 18h1M789 18h1M791 18h1M799 18h1M816 18h1M819 18h1M156 19h1M522 19h1M556 19h1M600 19h1M6 20h1M10 20h1M13 20h1M57 20h1M67 20h1M69 20h2M120 20h1M122 20h1M129 20h1M145 20h1M147 20h1M176 20h1M229 20h1M281 20h1M297 20h1M312 20h1M320 20h1M343 20h1M563 20h1M565 20h1M593 20h1M595 20h1M609 20h1M613 20h1M615 20h3M626 20h1M628 20h1M14 21h1M20 21h1M81 21h1M126 21h1M265 21h1M349 21h1M460 21h1M499 21h1M522 21h1M739 21h1M97 22h1M249 22h1M132 23h1M162 23h1M475 23h1M496 23h1M520 23h2M525 23h1M754 23h1M128 24h1M132 24h1M157 24h2M267 24h1M520 24h1M525 24h1M752 24h1M741 25h1M738 28h1M153 29h1M194 29h1M319 29h1M292 30h1M320 30h1M334 30h1M417 30h1M516 30h1M765 30h1M164 31h1M488 31h1M761 31h1M764 31h1M98 32h1M164 32h2M248 32h1M322 32h1M757 32h1M1 33h2M8 33h1M13 33h2M24 33h1M45 33h1M66 33h3M84 33h2M93 33h2M97 33h1M119 33h1M124 33h2M147 33h1M149 33h1M153 33h1M166 33h1M176 33h2M265 33h1M348 33h1M521 33h1M636 33h1M754 33h1M756 33h1M762 33h1M764 33h1M766 33h1M831 33h1M3 34h1M17 34h1M21 34h1M23 34h1M31 34h1M40 34h2M52 34h1M63 34h1M67 34h2M72 34h4M79 34h1M104 34h1M158 34h1M161 34h1M164 34h2M274 34h1M352 34h1M415 34h1M462 34h1M573 34h2M602 34h1M604 34h1M633 34h1M690 34h1M48 35h1M51 35h1M100 35h1M191 35h2M216 35h1M241 35h1M293 35h1M299 35h1M322 35h1M357 35h1M408 35h1M439 35h1M464 35h1M471 35h1M547 35h2M239 36h1M296 36h1M325 36h1M328 36h1M468 36h1M672 36h1M682 36h1M49 37h1M805 38h1M62 39h1M64 39h1M67 39h1M70 39h1M77 39h1M79 39h2M82 39h1M84 39h1M124 39h1M173 39h1M178 39h1M189 39h1M219 39h1M268 39h1M286 39h1M288 39h1M295 39h1M311 39h1M640 39h1M644 39h1M698 39h1M710 39h1M767 39h1M796 39h1M803 39h1M432 40h1M604 40h2M443 41h1M683 42h1M691 42h1M331 43h1M477 43h1M489 43h1M510 43h1M512 43h1M514 43h2M517 43h1M519 43h1M521 43h1M527 43h1M530 43h1M535 43h1M577 43h1M588 43h1M207 45h1M532 46h1M706 46h1M701 47h1M705 47h1M712 47h1M717 47h1M720 47h1M728 47h1M742 47h1M778 47h2M790 47h1M662 48h2M677 48h2M682 48h1M660 49h2M11 50h1M16 50h1M25 50h2M37 50h1M39 50h2M47 50h1M52 50h1M54 50h2M67 50h1M90 50h1M95 50h1M97 50h1M111 50h1M113 50h1M123 50h1M130 50h1M151 50h1M157 50h1M162 50h1M176 50h2M196 50h1M201 50h1M209 50h1M215 50h1M222 50h1M227 50h1M235 50h4M293 50h9M306 50h1M310 50h2M315 50h1M321 50h1M328 50h1M345 50h1M347 50h1M355 50h3M363 50h1M367 50h1M385 50h1M389 50h1M404 50h2M418 50h1M455 50h1M457 50h1M564 50h1M585 50h2M184 51h6M366 51h1M370 51h2M374 51h1M378 51h1M381 51h1M448 51h1M452 51h2M464 51h1M468 51h1M514 51h2M520 51h1M528 51h1M579 51h1M582 51h1M584 51h1M587 51h1M595 51h2M741 51h1M153 52h4M391 52h1M420 52h1M432 52h1M440 52h1M453 52h1M459 52h1M506 52h1M509 52h2M513 52h1M516 52h1M522 52h2M571 52h1M573 52h1M590 52h1M121 53h1M390 53h1M379 54h3M123 55h5M353 55h4M735 55h1M757 55h2M761 55h1M765 55h1M768 55h1M787 55h1M802 55h1M809 55h1M812 55h1M815 55h1M817 55h1M827 55h1M832 55h1M0 56h1M3 56h1M20 56h2M55 56h1M75 56h1M81 56h1M99 56h1M104 56h1M152 56h2M506 56h1M12 57h1M54 57h1M169 57h3M298 57h1M188 58h4M577 58h1M598 58h1M633 58h1M653 58h1M658 58h1M666 58h1M668 58h1M678 58h1M683 58h1M203 59h1M206 59h16M256 59h7M266 59h1M623 59h1M626 59h1M665 59h1M5 60h1M714 60h1M724 60h1M727 60h1M738 60h1M776 60h1M790 60h2M796 60h1M35 61h1M64 61h1M67 61h1M70 61h2M87 61h2M715 61h1M722 61h1M730 61h1M740 61h2M749 61h1M754 61h2M767 61h1M775 61h1M778 61h1M781 61h1M783 61h1M818 61h1M821 61h2M826 61h1M832 61h1M835 61h2M627 62h1M629 62h2M633 62h1M635 62h1M637 62h10M648 62h1M656 62h5M666 62h1M668 62h1M680 62h1M688 62h1M746 62h1M750 62h1M610 63h3M717 63h2M731 63h1M760 63h1M594 64h5M1 65h1M39 65h2M46 65h1M55 65h1M571 65h1M573 65h1M569 66h1M676 66h2M564 67h1M572 67h1M615 67h1M652 67h1M654 67h1M665 67h2M688 67h1M419 68h1M422 68h1M425 68h1M436 68h1M443 68h2M462 68h1M510 68h1M533 68h1M549 68h1M556 68h1M617 68h1M630 68h1M638 68h1M603 69h1M620 69h1M625 69h1M636 69h2M652 69h2M203 70h1M226 70h1M246 70h1M275 70h1M282 70h1M272 71h1M0 72h1M4 72h1M20 72h1M46 72h1M53 72h1M56 72h1M67 72h1M91 72h1M104 72h1M108 72h1M114 72h1M117 72h1M134 72h1M159 72h1M162 72h1M205 72h1M228 72h1M230 72h1M237 72h2M289 72h1M336 72h2M356 72h1M384 72h2M391 72h1M399 72h1M487 72h1M490 72h1M494 72h2M499 72h2M506 72h2M510 72h1M569 72h1M648 72h1M5 73h1M10 73h1M27 73h1M33 73h1M35 73h3M44 73h1M124 73h1M137 73h1M140 73h1M143 73h1M147 73h1M150 73h2M172 73h1M183 73h1M185 73h1M187 73h1M219 73h1M241 73h1M264 73h1M285 73h1M300 73h1M325 73h2M339 73h1M368 73h1M453 73h1M463 73h1M497 73h2M502 73h1M508 73h2M514 73h1M587 73h1M589 73h1M595 73h1M603 73h1M654 73h1M665 73h1M670 73h2M679 73h1M684 73h1M30 74h3M53 74h1M55 74h1M8 78h1M396 78h1M398 78h1M411 78h2M414 78h1M10 79h2M17 79h1M38 79h1M49 79h1M337 79h1M379 79h1M401 79h1M403 79h1M409 79h1M619 80h1M653 80h1M655 80h1M657 80h1M669 80h1M672 80h1M685 80h2M691 80h1M659 81h1M663 81h1M666 81h1M670 81h1M674 81h1M196 82h1M198 82h1M178 83h1M5 88h1M37 88h1M45 88h1M64 88h1M83 88h1M174 88h1M225 88h2M229 88h1M231 88h1M76 89h2M84 89h1M88 89h1M91 89h1M475 91h1M470 92h1M473 92h1M42 93h1M75 93h1M85 93h2M89 93h1M233 93h1M2 94h1M10 94h1M28 94h1M35 94h1M40 94h1M42 94h2M70 94h2M76 94h1M108 94h1M123 94h1M133 94h1M137 94h3M156 94h1M203 94h1M214 94h1M220 94h3M238 94h2M244 94h1M252 94h1M258 94h1M265 94h1M277 94h1M280 94h1M289 94h1M301 94h1M303 94h1M306 94h1M308 94h1M312 94h1M315 94h1M318 94h1M321 94h1M331 94h1M347 94h1M351 94h1M353 94h1M365 94h1M390 94h1M419 94h1M428 94h1M430 94h1M447 94h2M465 94h1M470 94h1M472 94h1M483 94h1M576 94h1M595 94h1M618 94h2M622 94h2M646 94h1M799 94h1M801 94h1M813 94h1M96 95h1M135 95h1M150 95h1M159 95h1M163 95h1M165 95h1M169 95h1M179 95h2M217 95h1M225 95h1M229 95h1M233 95h1M236 95h1M241 95h2M269 95h1M281 95h1M285 95h1M319 95h1M357 95h1M373 95h1M375 95h1M378 95h1M485 95h1M490 95h1M497 95h2M506 95h1M521 95h1M531 95h1M549 95h1M554 95h1M685 95h1M688 95h2M150 98h2M178 98h1M198 98h1M202 98h1M225 98h1M250 98h1M257 98h1M340 98h1M342 98h1M353 98h1M377 98h2M383 98h1M485 98h1M520 98h1M527 98h1M531 98h1M540 98h1M553 98h1M555 98h1M31 99h1M37 99h1M46 99h1M55 99h1M134 99h1M146 99h1M155 99h1M181 99h1M220 99h2M242 99h1M260 99h1M263 99h1M266 99h1M269 99h1M272 99h1M275 99h1M281 99h1M293 99h1M302 99h1M308 99h1M311 99h1M314 99h1M362 99h1M437 99h1M452 99h1M467 99h1M30 100h1M35 100h1M41 100h2M48 100h1M223 100h2M247 100h1M283 100h1M298 100h1M310 100h1M320 100h1M338 100h1M355 100h1M358 100h1M360 100h1M373 100h1M379 100h1M385 100h1M391 100h1M473 100h1M491 100h1M495 100h1M559 100h2M569 100h1M572 100h1M602 100h2M614 100h1M617 100h1M643 100h1M645 100h1M648 100h1M650 100h1M658 100h1M660 100h1M668 100h1M677 100h1M686 100h1M12 101h1M76 101h1M79 101h1M82 101h1M85 101h1M88 101h1M107 101h1M185 101h1M203 101h1M206 101h1M211 101h2M217 101h2M229 101h2M232 101h1M235 101h1M238 101h1M256 101h1M286 101h1M289 101h1M292 101h1M301 101h1M307 101h1M313 101h1M341 101h1M364 101h1M366 101h1M369 101h2M375 101h2M381 101h2M390 101h1M402 101h1M450 101h1M462 101h1M465 101h1M480 101h1M483 101h1M488 101h2M494 101h1M1 102h1M133 102h1M383 102h1M8 103h1M13 103h1M23 103h1M35 103h1M39 103h1M42 103h1M64 103h1M67 103h1M70 103h1M75 103h1M102 103h1M104 103h3M111 103h1M128 103h1M139 103h1M153 103h1M163 103h1M177 103h1M181 103h1M183 103h1M199 103h1M212 103h3M217 103h1M221 103h2M225 103h1M229 103h1M233 103h1M235 103h1M239 103h1M241 103h3M245 103h1M252 103h1M255 103h1M270 103h1M273 103h1M283 103h1M306 103h1M308 103h1M310 103h1M316 103h2M324 103h1M353 103h1M360 103h2M372 103h1M387 103h1M389 103h1M391 103h3M426 103h2M429 103h3M433 103h1M436 103h1M454 103h2M458 103h1M493 103h1M511 103h2M535 103h1M537 103h2M606 103h1M611 103h1M629 103h1M639 103h1M641 103h1M643 103h1M645 103h1M649 103h2M689 103h1M724 103h1M726 103h2M736 103h2M745 103h2M749 103h1M754 103h1M759 103h2M762 103h1M514 104h1M521 104h2M524 104h1M526 104h1M629 104h1M635 104h1M659 104h1M674 104h2M530 105h2M540 105h1M545 105h2M569 105h1M574 105h2M580 105h2M584 105h1M592 105h1M631 105h1M634 105h1M646 105h2M660 105h2M673 105h1M681 105h1M684 105h1"/>
<path stroke="#00009b" d="M76 6h1M103 6h3M109 6h1M156 6h1M158 6h3M212 6h2M300 6h1M323 6h1M353 6h1M356 6h1M383 6h1M385 6h2M415 6h1M433 6h3M437 6h2M461 6h1M463 6h1M468 6h1M490 6h1M495 6h1M544 6h1M546 6h1M549 6h2M555 6h1M574 6h2M582 6h1M604 6h1M72 7h1M81 7h1M100 7h1M155 7h1M162 7h1M188 7h1M211 7h1M382 7h1M384 7h1M405 7h1M407 7h2M413 7h1M439 7h2M464 7h1M545 7h1M548 7h1M573 7h1M601 7h1M301 10h1M303 10h2M355 10h2M360 10h1M405 10h1M463 10h2M466 10h1M544 10h1M546 10h1M552 10h1M555 10h1M574 10h2M578 10h1M581 10h1M608 10h2M634 10h1M302 11h1M332 11h1M357 11h3M434 11h1M437 11h1M468 11h2M497 11h1M519 11h1M527 11h1M545 11h1M573 11h1M606 11h2M631 11h2M774 11h1M42 14h1M45 14h1M64 14h1M70 14h2M75 14h2M79 14h2M119 14h1M141 14h2M146 14h1M155 14h1M157 14h1M165 14h1M187 14h2M201 14h1M218 14h2M232 14h1M240 14h1M254 14h1M257 14h1M266 14h1M280 14h1M298 14h2M303 14h1M312 14h1M327 14h1M335 14h1M353 14h1M363 14h1M380 14h1M422 14h1M438 14h1M441 14h2M464 14h1M469 14h1M471 14h1M483 14h1M496 14h1M498 14h1M520 14h2M523 14h1M531 14h1M536 14h1M567 14h1M582 14h1M588 14h1M601 14h1M604 14h2M619 14h1M631 14h2M721 14h1M8 15h1M11 15h1M13 15h1M28 15h1M30 15h1M44 15h1M78 15h1M97 15h1M108 15h1M110 15h1M116 15h2M132 15h3M138 15h1M147 15h1M152 15h2M174 15h1M180 15h1M194 15h1M204 15h1M216 15h1M226 15h1M258 15h1M304 15h1M306 15h2M315 15h1M329 15h1M343 15h1M347 15h2M358 15h1M371 15h1M387 15h2M393 15h1M399 15h1M420 15h1M430 15h1M485 15h2M488 15h1M494 15h1M24 16h2M27 16h2M248 16h1M431 16h2M440 16h2M470 16h1M495 16h1M203 17h1M353 17h3M357 17h1M439 17h1M443 17h1M491 17h1M551 17h1M660 17h1M674 17h1M681 17h1M690 17h1M692 17h1M694 17h1M733 17h1M749 17h2M753 17h1M759 17h1M762 17h1M779 17h1M783 17h1M785 17h1M788 17h3M793 17h1M807 17h1M16 18h1M74 18h1M131 18h1M134 18h1M381 18h1M437 18h1M489 18h1M607 18h1M629 18h1M651 18h1M695 18h1M708 18h1M715 18h2M721 18h1M751 18h2M783 18h1M787 18h2M792 18h1M801 18h1M808 18h5M320 19h1M377 19h1M460 19h1M478 19h1M527 19h1M633 19h1M744 19h1M8 20h1M34 20h1M58 20h1M66 20h1M68 20h1M127 20h2M143 20h1M151 20h1M174 20h1M278 20h1M307 20h1M310 20h1M319 20h1M338 20h1M342 20h1M398 20h1M400 20h1M402 20h1M460 20h1M522 20h1M562 20h1M610 20h1M614 20h1M740 20h1M756 20h1M21 21h1M45 21h1M97 21h1M130 21h1M216 21h1M239 21h1M360 21h1M377 21h1M381 21h1M516 21h1M54 22h1M215 22h1M217 22h1M755 22h1M269 23h1M406 23h1M474 23h1M527 23h1M126 24h1M214 24h1M269 24h2M406 24h1M522 24h1M305 29h1M389 29h1M736 29h1M361 30h1M376 30h1M404 30h1M733 30h1M767 30h1M165 31h1M730 31h1M763 31h1M766 31h1M77 32h1M129 32h1M348 32h1M469 32h1M762 32h1M764 32h1M766 32h1M0 33h1M3 33h1M5 33h1M9 33h1M11 33h2M15 33h1M21 33h1M30 33h1M69 33h1M81 33h1M83 33h1M87 33h1M92 33h1M98 33h1M110 33h2M116 33h2M136 33h1M154 33h1M164 33h2M248 33h1M276 33h1M378 33h1M414 33h1M488 33h1M491 33h1M516 33h1M544 33h1M576 33h1M600 33h1M631 33h2M660 33h1M748 33h2M775 33h1M796 33h1M830 33h1M832 33h1M834 33h1M1 34h2M4 34h2M24 34h2M32 34h2M35 34h2M71 34h1M80 34h1M87 34h1M98 34h1M101 34h1M111 34h1M122 34h1M141 34h1M169 34h1M217 34h1M245 34h1M248 34h1M297 34h1M351 34h1M385 34h1M407 34h1M411 34h1M432 34h1M469 34h1M494 34h1M545 34h2M551 34h1M553 34h1M575 34h1M46 35h1M50 35h1M107 35h1M268 35h1M301 35h1M435 35h1M663 35h1M672 35h1M186 36h1M240 36h1M294 36h2M331 36h1M466 36h1M670 36h1M677 36h1M387 37h1M688 37h1M368 38h4M382 38h1M688 38h1M693 38h2M710 38h1M767 38h2M775 38h1M778 38h1M782 38h1M788 38h2M791 38h1M795 38h1M797 38h1M804 38h1M808 38h1M61 39h1M63 39h1M72 39h2M78 39h1M97 39h1M109 39h1M111 39h1M144 39h1M169 39h2M183 39h1M185 39h1M187 39h1M190 39h1M195 39h1M248 39h1M258 39h3M274 39h1M289 39h1M293 39h2M296 39h1M338 39h1M341 39h1M439 39h1M603 39h1M639 39h1M643 39h1M805 39h1M810 39h1M814 39h2M610 40h1M645 40h1M431 41h1M684 42h1M696 42h3M424 43h1M488 43h1M494 43h1M502 43h2M523 43h1M528 43h1M568 43h1M571 43h1M574 43h1M578 43h1M205 45h1M210 45h1M531 46h1M533 46h2M700 46h1M707 47h1M709 47h1M715 47h1M718 47h2M732 47h1M736 47h2M755 47h1M757 47h1M770 47h1M772 47h1M776 47h1M780 47h1M789 47h1M658 48h1M669 48h1M674 48h2M672 49h1M4 50h2M53 50h1M68 50h3M76 50h1M79 50h1M86 50h1M89 50h1M91 50h4M109 50h1M129 50h1M132 50h2M158 50h1M160 50h1M172 50h1M204 50h1M207 50h2M240 50h2M244 50h5M250 50h8M264 50h1M274 50h1M281 50h12M302 50h1M305 50h1M313 50h1M316 50h2M324 50h1M326 50h1M341 50h1M349 50h3M374 50h1M383 50h1M416 50h2M464 50h1M468 50h1M559 50h1M587 50h1M595 50h1M736 50h1M190 51h5M355 51h9M365 51h1M367 51h3M375 51h3M379 51h2M435 51h1M454 51h1M511 51h1M513 51h1M523 51h1M525 51h1M536 51h1M550 51h1M564 51h1M581 51h1M594 51h1M157 52h2M390 52h1M429 52h3M433 52h1M435 52h1M439 52h1M445 52h1M454 52h4M500 52h1M507 52h1M514 52h1M552 52h1M567 52h2M570 52h1M572 52h1M580 52h1M591 52h1M387 53h3M374 54h5M548 54h1M128 55h2M347 55h6M506 55h1M530 55h1M719 55h1M727 55h1M732 55h1M773 55h1M781 55h2M784 55h2M807 55h2M810 55h2M831 55h1M833 55h1M835 55h1M15 56h1M31 56h1M38 56h1M59 56h1M154 56h3M507 56h1M529 56h1M828 56h1M0 57h1M3 57h1M20 57h2M55 57h1M75 57h1M81 57h1M99 57h1M104 57h1M172 57h3M294 57h4M506 57h1M192 58h3M621 58h1M625 58h1M627 58h1M635 58h2M642 58h1M660 58h2M673 58h1M684 58h1M688 58h2M222 59h12M244 59h1M247 59h2M250 59h6M272 59h1M3 60h2M59 60h1M81 60h1M723 60h1M728 60h1M739 60h1M750 60h1M762 60h1M766 60h1M774 60h1M777 60h1M782 60h1M795 60h1M798 60h1M814 60h1M34 61h1M77 61h1M696 61h1M699 61h1M702 61h1M712 61h1M717 61h1M742 61h1M744 61h1M746 61h1M748 61h1M758 61h2M761 61h1M784 61h4M789 61h1M833 61h2M623 62h1M636 62h1M647 62h1M663 62h1M677 62h1M679 62h1M683 62h2M744 62h2M747 62h3M613 63h4M599 64h2M48 65h1M53 65h2M572 65h1M574 65h2M564 66h1M570 66h1M573 66h4M668 66h3M673 66h2M678 66h2M578 67h3M612 67h3M636 67h1M426 68h1M434 68h1M438 68h1M448 68h1M450 68h1M452 68h1M458 68h1M460 68h1M463 68h2M466 68h1M468 68h2M473 68h1M501 68h2M505 68h1M513 68h1M535 68h3M542 68h1M557 68h1M603 68h1M620 68h1M625 68h1M636 68h2M652 68h2M497 69h1M624 69h1M626 69h2M662 69h1M689 69h1M201 70h1M249 70h1M259 70h1M274 70h1M276 70h1M2 72h2M47 72h1M52 72h1M55 72h1M82 72h2M87 72h1M95 72h1M105 72h1M113 72h1M163 72h1M171 72h1M210 72h1M232 72h1M235 72h1M267 72h1M341 72h1M355 72h1M359 72h2M386 72h1M492 72h2M497 72h2M502 72h1M508 72h2M514 72h1M647 72h1M666 72h1M669 72h1M678 72h1M690 72h1M16 73h2M22 73h1M26 73h1M61 73h1M75 73h1M79 73h1M126 73h1M130 73h1M132 73h1M145 73h2M148 73h1M165 73h1M167 73h1M173 73h3M179 73h1M186 73h1M194 73h1M242 73h2M254 73h1M257 73h1M289 73h1M336 73h2M369 73h3M455 73h1M461 73h2M483 73h1M504 73h2M513 73h1M515 73h1M517 73h1M569 73h1M648 73h1M35 74h1M1 78h1M35 78h1M50 78h1M53 78h1M346 78h1M348 78h1M397 78h1M413 78h1M415 78h1M3 79h1M15 79h1M32 79h3M39 79h1M45 79h1M402 79h1M405 79h1M618 80h1M656 80h1M671 80h1M677 80h1M660 81h3M197 82h1M199 82h2M170 83h1M179 83h1M6 88h2M9 88h1M44 88h1M65 88h1M85 88h2M176 88h2M228 88h1M230 88h1M233 88h3M24 89h2M62 89h1M78 89h1M89 89h1M31 92h1M35 92h1M87 92h1M24 93h1M43 93h1M178 93h1M225 93h1M0 94h1M4 94h1M6 94h1M9 94h1M16 94h1M22 94h1M25 94h1M27 94h1M36 94h1M103 94h1M110 94h1M124 94h1M132 94h1M143 94h1M181 94h1M223 94h1M227 94h1M234 94h2M243 94h1M245 94h1M247 94h2M267 94h1M316 94h2M333 94h1M336 94h3M344 94h2M348 94h1M362 94h1M366 94h1M380 94h1M385 94h1M388 94h1M402 94h1M405 94h1M420 94h1M425 94h1M429 94h1M435 94h1M449 94h1M463 94h1M466 94h1M468 94h1M513 94h1M539 94h1M553 94h1M556 94h1M578 94h1M596 94h1M598 94h1M620 94h2M659 94h2M671 94h1M690 94h1M805 94h1M817 94h1M97 95h3M158 95h1M162 95h1M164 95h1M170 95h1M175 95h1M178 95h1M230 95h1M278 95h1M489 95h1M491 95h1M494 95h1M514 95h1M517 95h2M536 95h1M687 95h1M176 98h2M193 98h1M197 98h1M258 98h1M350 98h2M357 98h1M483 98h2M489 98h1M493 98h1M495 98h1M505 98h1M508 98h2M513 98h1M516 98h3M539 98h1M542 98h1M545 98h2M554 98h1M10 99h1M13 99h1M43 99h1M49 99h1M106 99h1M109 99h1M124 99h1M148 99h1M151 99h1M157 99h1M160 99h1M163 99h1M166 99h1M169 99h1M278 99h1M296 99h1M305 99h1M356 99h1M359 99h1M389 99h1M401 99h1M407 99h1M413 99h1M416 99h1M419 99h1M422 99h1M428 99h1M434 99h1M440 99h1M443 99h1M446 99h1M107 100h1M185 100h1M206 100h1M211 100h2M217 100h2M229 100h2M238 100h1M256 100h1M286 100h1M289 100h1M292 100h1M301 100h1M307 100h1M313 100h1M341 100h1M364 100h1M366 100h1M369 100h2M375 100h2M382 100h1M390 100h1M402 100h1M450 100h1M480 100h1M483 100h1M489 100h1M494 100h1M577 100h1M589 100h1M591 100h1M593 100h2M596 100h1M599 100h1M615 100h2M618 100h2M622 100h1M626 100h1M631 100h2M635 100h1M637 100h1M644 100h1M672 100h2M685 100h1M687 100h1M811 100h1M9 101h1M18 101h1M21 101h1M24 101h1M27 101h1M33 101h1M39 101h1M110 101h1M125 101h1M176 101h1M184 101h1M188 101h1M197 101h1M200 101h1M202 101h1M205 101h1M233 101h1M239 101h1M244 101h1M248 101h1M250 101h1M253 101h1M262 101h1M271 101h1M274 101h1M280 101h1M304 101h1M317 101h1M353 101h1M372 101h1M378 101h1M384 101h1M387 101h1M393 101h1M396 101h1M399 101h1M408 101h1M414 101h1M417 101h1M420 101h1M423 101h1M429 101h1M438 101h1M456 101h1M459 101h1M471 101h1M477 101h1M479 101h1M482 101h1M1 103h2M9 103h1M11 103h1M20 103h1M37 103h2M57 103h1M68 103h1M71 103h1M73 103h1M80 103h2M93 103h1M101 103h1M107 103h1M110 103h1M149 103h2M154 103h1M157 103h3M175 103h2M179 103h1M189 103h1M200 103h1M205 103h1M208 103h1M210 103h2M216 103h1M223 103h1M232 103h1M234 103h1M236 103h1M240 103h1M244 103h1M251 103h1M258 103h2M261 103h1M269 103h1M309 103h1M311 103h1M314 103h1M318 103h1M320 103h1M323 103h1M333 103h1M335 103h1M340 103h1M351 103h1M364 103h1M373 103h1M380 103h1M384 103h1M409 103h2M421 103h1M425 103h1M432 103h1M434 103h1M451 103h2M474 103h2M479 103h1M492 103h1M509 103h2M533 103h1M626 103h1M637 103h2M644 103h1M658 103h1M661 103h1M670 103h1M675 103h1M677 103h2M681 103h1M718 103h1M720 103h1M722 103h2M766 103h1M500 104h1M534 104h1M599 104h1M677 104h1M551 105h1M571 105h1M577 105h1M582 105h2M585 105h2M593 105h1M596 105h1M629 105h1M635 105h1M659 105h1M674 105h2"/>
<path stroke="#0000b9" d="M72 6h1M81 6h1M100 6h1M155 6h1M162 6h1M188 6h1M211 6h1M382 6h1M384 6h1M405 6h1M407 6h2M413 6h1M439 6h2M464 6h1M545 6h1M548 6h1M573 6h1M601 6h1M75 7h1M79 7h1M161 7h1M163 7h1M244 7h1M299 7h1M358 7h1M412 7h1M414 7h1M492 7h1M606 7h1M635 7h1M323 10h1M352 10h1M358 10h1M435 10h1M438 10h1M440 10h2M443 10h1M465 10h1M470 10h1M498 10h1M573 10h1M583 10h1M628 10h1M630 10h2M633 10h1M673 10h1M707 10h1M761 10h1M763 10h1M765 10h1M322 11h1M324 11h2M378 11h1M382 11h1M384 11h2M406 11h3M410 11h2M415 11h1M433 11h1M436 11h1M490 11h1M577 11h1M582 11h1M604 11h1M768 11h1M775 11h1M57 14h1M74 14h1M77 14h2M81 14h1M109 14h1M112 14h1M114 14h2M121 14h1M134 14h1M139 14h2M154 14h1M160 14h1M163 14h1M186 14h1M205 14h1M207 14h1M213 14h2M235 14h1M242 14h1M256 14h1M268 14h1M289 14h2M294 14h1M296 14h1M301 14h1M304 14h1M311 14h1M313 14h2M323 14h1M329 14h1M354 14h1M358 14h1M364 14h2M381 14h2M421 14h1M433 14h1M465 14h1M470 14h1M480 14h2M497 14h1M517 14h1M533 14h3M563 14h1M578 14h1M602 14h2M606 14h1M610 14h2M616 14h1M628 14h1M7 15h1M12 15h1M14 15h1M18 15h3M25 15h3M34 15h1M67 15h1M73 15h1M118 15h1M131 15h1M151 15h1M156 15h1M161 15h1M188 15h1M193 15h1M206 15h1M227 15h1M229 15h1M233 15h2M241 15h1M248 15h1M250 15h2M262 15h1M264 15h1M282 15h1M286 15h1M291 15h1M303 15h1M310 15h1M316 15h1M318 15h1M345 15h2M351 15h2M357 15h1M359 15h2M412 15h1M419 15h1M431 15h1M493 15h1M500 15h1M698 15h2M707 15h1M720 15h1M34 16h1M442 16h1M462 16h2M465 16h1M554 16h1M218 17h1M356 17h1M379 17h1M384 17h1M490 17h1M651 17h1M658 17h1M661 17h4M669 17h1M672 17h1M734 17h1M752 17h1M782 17h1M784 17h1M787 17h1M791 17h2M794 17h1M801 17h2M804 17h1M835 17h1M18 18h1M76 18h1M212 18h1M296 18h1M351 18h1M474 18h1M520 18h2M546 18h1M601 18h2M606 18h1M630 18h2M652 18h1M686 18h2M691 18h1M694 18h1M705 18h2M709 18h1M722 18h1M738 18h1M784 18h1M793 18h1M802 18h1M807 18h1M200 19h1M215 19h1M249 19h1M516 19h1M583 19h1M742 19h2M756 19h2M4 20h2M14 20h1M20 20h1M32 20h2M37 20h2M55 20h2M123 20h1M150 20h1M230 20h1M234 20h3M238 20h1M251 20h1M253 20h2M263 20h1M283 20h1M308 20h1M311 20h1M335 20h1M368 20h2M377 20h1M561 20h1M564 20h1M600 20h1M26 21h1M209 21h1M297 21h1M350 21h1M409 21h1M544 21h1M573 21h1M160 22h1M269 22h1M520 22h2M527 22h1M161 23h1M181 23h1M210 23h1M212 23h1M491 23h1M526 23h1M219 24h2M271 24h1M380 24h1M405 24h1M408 24h1M410 24h2M414 24h1M739 28h1M237 29h1M292 29h1M334 29h1M333 30h1M472 30h1M14 31h1M42 31h1M81 31h1M109 31h1M128 31h1M163 31h1M303 31h2M387 31h2M520 31h1M525 31h1M527 31h1M102 32h1M128 32h1M488 32h1M580 32h1M610 32h1M638 32h1M4 33h1M10 33h1M19 33h1M29 33h1M57 33h1M64 33h1M80 33h1M82 33h1M112 33h4M129 33h1M210 33h1M243 33h1M322 33h1M380 33h1M387 33h1M469 33h1M495 33h1M519 33h1M606 33h1M628 33h1M637 33h1M755 33h1M757 33h1M761 33h1M763 33h1M765 33h1M767 33h1M797 33h1M799 33h1M802 33h1M824 33h2M827 33h1M0 34h1M6 34h2M26 34h2M30 34h1M49 34h1M62 34h1M76 34h1M85 34h2M97 34h1M112 34h1M116 34h2M131 34h1M162 34h1M174 34h2M178 34h1M214 34h1M275 34h1M293 34h1M302 34h1M322 34h1M356 34h1M358 34h1M406 34h1M410 34h1M436 34h1M470 34h1M472 34h1M188 35h1M270 35h1M677 35h1M682 35h1M189 36h1M246 36h2M689 36h1M388 37h1M524 37h1M75 38h1M365 38h1M367 38h1M399 38h2M483 38h1M686 38h1M689 38h1M692 38h1M695 38h1M712 38h1M781 38h1M783 38h1M785 38h3M790 38h1M793 38h1M798 38h2M801 38h2M809 38h1M71 39h1M83 39h1M86 39h2M89 39h1M105 39h1M107 39h1M126 39h1M149 39h1M174 39h1M179 39h1M186 39h1M191 39h2M197 39h1M217 39h1M220 39h1M244 39h1M253 39h1M261 39h1M269 39h2M283 39h2M310 39h1M313 39h2M318 39h1M340 39h1M342 39h1M605 39h1M636 39h3M641 39h2M763 39h1M795 39h1M797 39h1M804 39h1M808 39h1M811 39h3M816 39h1M823 39h1M827 39h2M833 39h1M433 40h2M439 40h1M606 40h2M609 40h1M690 42h1M796 42h2M333 43h1M529 43h1M532 43h1M536 43h1M546 43h1M549 43h1M569 43h1M575 43h1M587 43h1M674 43h1M199 45h2M206 45h1M211 45h1M535 46h1M699 46h1M702 47h2M716 47h1M743 47h1M750 47h1M759 47h1M768 47h2M664 48h1M668 48h1M671 48h1M683 48h1M6 50h1M9 50h1M56 50h1M88 50h1M100 50h1M112 50h1M131 50h1M134 50h2M154 50h1M161 50h1M228 50h2M239 50h1M242 50h1M258 50h6M265 50h1M268 50h6M275 50h6M303 50h2M318 50h1M378 50h1M391 50h1M394 50h2M400 50h1M415 50h1M454 50h1M514 50h2M520 50h1M528 50h1M560 50h1M579 50h1M582 50h1M584 50h1M594 50h1M596 50h1M737 50h3M742 50h1M195 51h4M341 51h7M349 51h6M434 51h1M440 51h1M442 51h1M447 51h1M461 51h1M463 51h1M512 51h1M521 51h1M524 51h1M532 51h1M543 51h1M559 51h1M578 51h1M583 51h1M593 51h1M159 52h3M387 52h3M424 52h1M426 52h1M434 52h1M448 52h1M452 52h1M460 52h2M481 52h1M515 52h1M524 52h2M527 52h1M564 52h1M569 52h1M122 53h1M386 53h1M372 54h2M130 55h3M342 55h5M507 55h1M698 55h1M722 55h1M734 55h1M736 55h1M739 55h1M746 55h2M767 55h1M769 55h1M783 55h1M792 55h1M797 55h1M804 55h1M818 55h3M830 55h1M11 56h1M39 56h2M76 56h1M82 56h1M91 56h1M102 56h1M157 56h1M505 56h1M508 56h1M530 56h1M31 57h1M38 57h1M59 57h1M175 57h2M291 57h3M507 57h1M828 57h1M195 58h4M272 58h1M576 58h1M622 58h1M634 58h1M664 58h1M669 58h1M672 58h1M204 59h1M234 59h2M240 59h1M242 59h2M245 59h2M249 59h1M12 60h1M60 60h1M82 60h1M100 60h1M102 60h1M698 60h1M731 60h4M756 60h1M763 60h3M768 60h1M799 60h2M813 60h1M713 61h1M743 61h1M745 61h1M757 61h1M760 61h1M829 61h1M831 61h1M626 62h1M628 62h1M661 62h1M664 62h1M617 63h2M744 63h1M601 64h1M32 65h2M41 65h1M47 65h1M571 66h2M577 66h1M664 66h1M667 66h1M671 66h2M675 66h1M680 66h3M685 66h2M691 66h2M581 67h1M609 67h3M655 67h1M424 68h1M430 68h1M432 68h1M453 68h1M455 68h1M459 68h1M471 68h1M476 68h1M503 68h1M507 68h1M532 68h1M534 68h1M539 68h1M550 68h1M624 68h1M626 68h2M662 68h1M689 68h1M522 69h2M526 69h1M633 69h1M654 69h1M661 69h1M222 70h1M250 70h2M253 70h1M260 70h1M54 72h1M58 72h1M84 72h3M103 72h1M153 72h3M158 72h1M160 72h1M169 72h2M206 72h4M234 72h1M239 72h1M268 72h2M272 72h1M354 72h1M357 72h1M442 72h1M486 72h1M504 72h2M513 72h1M515 72h1M517 72h1M667 72h2M674 72h1M677 72h1M12 73h1M18 73h1M21 73h1M28 73h2M34 73h1M41 73h2M62 73h2M71 73h1M129 73h1M131 73h1M149 73h1M178 73h1M184 73h1M188 73h2M191 73h3M262 73h1M273 73h1M287 73h1M341 73h1M352 73h1M449 73h1M451 73h1M460 73h1M475 73h1M482 73h1M516 73h1M519 73h1M523 73h1M543 73h2M547 73h1M551 73h1M558 73h1M647 73h1M666 73h1M669 73h1M678 73h1M690 73h1M14 74h1M16 74h1M26 74h1M36 74h1M38 74h2M52 74h1M54 74h1M6 78h2M22 78h2M25 78h1M47 78h1M343 78h1M350 78h2M354 78h2M13 79h1M40 79h1M44 79h1M400 79h1M404 79h1M407 79h1M417 79h1M617 80h1M658 80h1M673 80h1M684 80h1M675 81h2M192 82h1M201 82h2M204 82h3M187 83h1M8 88h1M13 88h2M30 88h1M36 88h1M224 88h1M227 88h1M27 89h1M70 89h2M74 89h2M87 89h1M92 89h2M475 90h1M27 92h1M30 92h1M36 92h1M41 92h1M45 92h1M67 92h1M71 92h2M83 92h1M77 93h1M93 93h1M224 93h1M5 94h1M7 94h2M23 94h2M37 94h1M39 94h1M95 94h1M100 94h2M134 94h1M149 94h1M152 94h1M157 94h1M215 94h2M218 94h1M224 94h1M232 94h1M237 94h1M246 94h1M266 94h1M268 94h1M270 94h3M279 94h1M282 94h3M286 94h1M288 94h1M292 94h1M304 94h2M309 94h1M320 94h1M328 94h1M342 94h2M346 94h1M360 94h2M370 94h1M379 94h1M381 94h1M399 94h1M412 94h1M415 94h1M424 94h1M426 94h1M432 94h1M446 94h1M471 94h1M546 94h3M554 94h2M557 94h1M577 94h1M670 94h1M806 94h1M815 94h1M828 94h1M160 95h1M166 95h2M171 95h1M173 95h2M176 95h2M231 95h1M358 95h1M499 95h1M505 95h1M525 95h1M529 95h2M550 95h1M203 98h1M341 98h1M490 98h1M497 98h3M503 98h1M507 98h1M519 98h1M530 98h1M535 98h1M7 99h1M16 99h1M19 99h1M22 99h1M25 99h1M28 99h1M34 99h1M40 99h1M112 99h1M115 99h1M136 99h1M139 99h1M142 99h1M154 99h1M365 99h1M368 99h1M374 99h1M380 99h1M392 99h1M395 99h1M398 99h1M431 99h1M9 100h1M12 100h1M18 100h1M21 100h1M24 100h1M27 100h1M33 100h1M39 100h1M76 100h1M79 100h1M82 100h1M85 100h1M88 100h1M110 100h1M125 100h1M176 100h1M184 100h1M188 100h1M200 100h1M202 100h2M205 100h1M232 100h1M235 100h1M239 100h1M244 100h1M248 100h1M271 100h1M274 100h1M280 100h1M304 100h1M317 100h1M372 100h1M378 100h1M381 100h1M387 100h1M393 100h1M396 100h1M399 100h1M408 100h1M414 100h1M417 100h1M420 100h1M429 100h1M438 100h1M456 100h1M459 100h1M462 100h1M465 100h1M471 100h1M477 100h1M479 100h1M482 100h1M488 100h1M556 100h1M561 100h1M563 100h1M568 100h1M584 100h1M590 100h1M595 100h1M600 100h2M612 100h2M621 100h1M623 100h1M625 100h1M630 100h1M638 100h1M641 100h1M649 100h1M653 100h1M656 100h1M659 100h1M664 100h1M670 100h1M674 100h1M676 100h1M678 100h1M682 100h3M688 100h2M812 100h1M6 101h1M15 101h1M58 101h1M61 101h1M97 101h1M100 101h1M113 101h1M116 101h1M173 101h1M175 101h1M179 101h1M182 101h1M187 101h1M191 101h1M194 101h1M196 101h1M199 101h1M226 101h1M236 101h1M245 101h1M257 101h1M259 101h1M265 101h1M268 101h1M277 101h1M284 101h1M295 101h1M405 101h1M411 101h1M435 101h1M441 101h1M444 101h1M447 101h1M453 101h1M468 101h1M470 101h1M4 103h1M10 103h1M25 103h2M31 103h2M44 103h1M46 103h1M54 103h1M56 103h1M63 103h1M66 103h1M72 103h1M79 103h1M83 103h1M91 103h2M109 103h1M141 103h1M151 103h2M160 103h1M182 103h1M196 103h1M201 103h2M215 103h1M237 103h1M260 103h1M279 103h1M282 103h1M307 103h1M312 103h2M321 103h1M327 103h1M332 103h1M334 103h1M337 103h1M341 103h1M343 103h1M347 103h1M381 103h1M412 103h1M416 103h1M420 103h1M449 103h2M453 103h1M468 103h1M470 103h1M476 103h1M480 103h2M489 103h1M614 103h1M617 103h1M627 103h2M636 103h1M660 103h1M676 103h1M692 103h1M719 103h1M725 103h1M523 105h1M532 105h1M537 105h1M541 105h3M547 105h1M550 105h1M555 105h1M562 105h1M588 105h1M591 105h1M599 105h1M677 105h1"/>
<path stroke="#0000d8" d="M75 6h1M79 6h1M126 6h1M129 6h1M137 6h1M161 6h1M163 6h1M244 6h1M269 6h1M299 6h1M352 6h1M358 6h1M412 6h1M414 6h1M492 6h1M606 6h1M635 6h1M639 6h1M672 9h2M699 9h2M765 9h1M793 9h1M809 9h1M302 10h1M322 10h1M332 10h1M357 10h1M359 10h1M434 10h1M437 10h1M468 10h2M497 10h1M519 10h1M527 10h1M545 10h1M582 10h1M606 10h2M632 10h1M672 10h1M699 10h1M703 10h1M760 10h1M781 10h1M321 11h1M329 11h1M350 11h1M377 11h1M379 11h1M383 11h1M386 11h2M409 11h1M491 11h2M495 11h1M517 11h2M520 11h1M522 11h1M525 11h1M601 11h1M610 11h1M653 11h1M713 11h1M769 11h3M47 14h3M60 14h3M73 14h1M108 14h1M111 14h1M131 14h3M143 14h1M161 14h1M216 14h1M248 14h1M253 14h1M255 14h1M309 14h1M322 14h1M336 14h2M339 14h2M351 14h2M357 14h1M359 14h2M387 14h2M412 14h1M418 14h1M430 14h1M434 14h1M443 14h1M484 14h3M490 14h1M495 14h1M548 14h2M562 14h1M565 14h1M573 14h1M576 14h2M607 14h1M633 14h1M635 14h1M641 14h1M643 14h1M695 14h1M713 14h1M716 14h1M722 14h1M775 14h1M6 15h1M22 15h3M29 15h1M31 15h1M37 15h1M43 15h1M45 15h1M68 15h1M70 15h1M120 15h1M122 15h2M144 15h1M150 15h1M159 15h1M175 15h1M181 15h1M186 15h1M190 15h1M199 15h1M203 15h1M210 15h2M215 15h1M252 15h1M261 15h1M293 15h1M295 15h1M308 15h1M319 15h1M323 15h1M328 15h1M331 15h1M342 15h1M344 15h1M349 15h1M366 15h1M384 15h2M700 15h1M703 15h1M719 15h1M26 16h1M29 16h2M37 16h1M101 16h1M268 16h2M272 16h1M300 16h2M324 16h1M466 16h1M468 16h1M679 16h1M714 16h3M826 16h1M24 17h2M27 17h2M271 17h1M352 17h1M467 17h1M553 17h1M652 17h1M665 17h1M682 17h2M693 17h1M754 17h1M756 17h3M795 17h1M803 17h1M24 18h1M42 18h1M80 18h1M132 18h1M157 18h2M162 18h1M216 18h1M359 18h1M386 18h1M470 18h1M497 18h1M517 18h1M519 18h1M548 18h1M632 18h1M635 18h1M637 18h1M684 18h1M688 18h1M692 18h2M717 18h2M732 18h1M749 18h2M800 18h1M805 18h2M817 18h2M72 19h1M131 19h1M137 19h1M154 19h1M327 19h1M381 19h1M489 19h1M498 19h1M577 19h1M0 20h4M12 20h1M21 20h1M30 20h2M35 20h1M40 20h1M60 20h1M65 20h1M88 20h1M116 20h1M121 20h1M124 20h1M142 20h1M148 20h1M203 20h1M255 20h1M264 20h1M280 20h1M282 20h1M291 20h1M306 20h1M325 20h1M334 20h1M347 20h1M349 20h1M374 20h1M399 20h1M404 20h1M516 20h1M611 20h1M46 21h1M156 21h1M215 21h1M218 21h1M238 21h1M240 21h1M293 21h1M300 21h1M359 21h1M387 21h2M433 21h2M443 21h1M489 21h1M572 21h1M628 21h1M137 22h1M157 22h1M194 22h1M212 22h1M496 22h1M158 23h1M213 23h2M352 23h1M472 23h1M162 24h1M210 24h1M212 24h1M239 24h1M388 24h1M412 24h2M496 24h1M527 24h1M743 24h1M81 25h1M320 29h1M404 29h1M417 29h1M734 30h1M20 31h1M48 31h1M80 31h1M129 31h1M137 31h1M154 31h1M265 31h2M377 31h1M432 31h1M521 31h1M526 31h1M580 31h2M635 31h1M638 31h1M765 31h1M767 31h1M25 32h1M53 32h1M80 32h1M154 32h1M276 32h1M387 32h1M544 32h1M632 32h1M761 32h1M763 32h1M765 32h1M767 32h1M6 33h2M22 33h1M63 33h1M65 33h1M89 33h1M118 33h1M126 33h1M128 33h1M131 33h1M135 33h1M156 33h2M163 33h1M237 33h1M293 33h1M405 33h1M498 33h1M517 33h1M572 33h1M605 33h1M607 33h1M629 33h2M658 33h1M661 33h1M724 33h1M747 33h1M750 33h1M774 33h1M777 33h1M798 33h1M828 33h2M833 33h1M61 34h1M77 34h2M81 34h1M113 34h1M123 34h1M132 34h1M170 34h1M172 34h1M191 34h1M193 34h1M215 34h1M241 34h1M244 34h1M299 34h1M349 34h2M354 34h1M386 34h1M434 34h1M437 34h2M490 34h1M238 35h1M266 35h1M269 35h1M325 35h1M465 35h1M670 35h1M187 36h1M190 36h1M324 36h1M329 36h1M665 36h1M674 36h1M67 37h1M75 37h1M252 37h1M377 37h1M380 37h1M382 37h1M393 37h1M395 37h1M490 37h1M689 37h1M68 38h1M74 38h1M76 38h1M81 38h1M85 38h1M364 38h1M366 38h1M372 38h1M381 38h1M395 38h1M398 38h1M419 38h4M484 38h2M539 38h1M684 38h2M687 38h1M691 38h1M703 38h1M705 38h1M708 38h1M715 38h1M717 38h1M724 38h1M763 38h1M769 38h1M773 38h1M776 38h1M779 38h1M784 38h1M792 38h1M806 38h1M92 39h4M100 39h1M102 39h1M104 39h1M106 39h1M108 39h1M110 39h1M112 39h1M122 39h2M143 39h1M146 39h1M150 39h3M154 39h1M180 39h1M206 39h1M208 39h1M214 39h3M231 39h1M234 39h1M243 39h1M246 39h2M254 39h1M263 39h1M273 39h1M275 39h3M297 39h1M319 39h1M604 39h1M609 39h4M635 39h1M712 39h1M737 39h1M747 39h1M749 39h1M766 39h1M801 39h2M809 39h1M831 39h1M611 40h4M625 40h1M644 40h1M834 40h1M436 41h1M333 42h1M798 42h1M801 42h1M804 42h1M808 42h1M811 42h2M337 43h1M422 43h2M441 43h2M469 43h1M522 43h1M545 43h1M548 43h1M566 43h2M570 43h1M572 43h1M675 43h1M677 43h5M201 45h1M536 46h1M701 46h1M734 46h1M710 47h1M713 47h2M739 47h1M741 47h1M758 47h1M775 47h1M792 47h1M665 48h1M676 48h1M3 50h1M78 50h1M80 50h1M82 50h2M87 50h1M107 50h1M203 50h1M230 50h1M232 50h1M234 50h1M243 50h1M249 50h1M325 50h1M329 50h1M331 50h1M352 50h3M375 50h1M381 50h1M406 50h1M461 50h1M463 50h1M511 50h1M513 50h1M521 50h1M523 50h3M550 50h1M581 50h1M583 50h1M740 50h2M199 51h4M335 51h1M339 51h1M420 51h1M424 51h1M439 51h1M445 51h1M459 51h1M467 51h1M480 51h2M490 51h1M506 51h1M522 51h1M526 51h1M533 51h1M535 51h1M552 51h3M558 51h1M560 51h1M577 51h1M743 51h1M162 52h5M386 52h1M419 52h1M425 52h1M428 52h1M436 52h1M438 52h1M442 52h1M446 52h1M464 52h1M493 52h1M499 52h1M505 52h1M517 52h1M551 52h1M553 52h1M565 52h2M592 52h1M123 53h2M365 54h7M133 55h2M339 55h3M508 55h1M695 55h1M697 55h1M729 55h1M731 55h1M745 55h1M748 55h2M752 55h2M766 55h1M774 55h1M788 55h1M793 55h1M800 55h1M803 55h1M816 55h1M823 55h1M6 56h1M14 56h1M19 56h1M25 56h1M30 56h1M32 56h1M36 56h2M42 56h2M52 56h2M79 56h1M89 56h1M101 56h1M158 56h2M522 56h2M531 56h1M824 56h1M827 56h1M11 57h1M15 57h1M39 57h2M76 57h1M82 57h1M91 57h1M102 57h1M177 57h3M288 57h3M505 57h1M508 57h1M529 57h2M199 58h3M268 58h1M624 58h1M628 58h1M236 59h1M238 59h2M241 59h1M0 60h1M6 60h2M13 60h1M79 60h2M99 60h1M103 60h1M722 60h1M730 60h1M740 60h2M749 60h1M754 60h2M767 60h1M775 60h1M778 60h1M781 60h1M783 60h1M812 60h1M815 60h1M714 61h1M716 61h1M747 61h1M779 61h1M788 61h1M825 61h1M830 61h1M662 62h1M665 62h1M619 63h2M729 63h1M759 63h1M602 64h2M31 65h1M34 65h3M38 65h1M42 65h1M49 65h1M52 65h1M576 65h4M584 65h2M592 65h1M625 66h1M649 66h5M657 66h1M660 66h1M663 66h1M665 66h2M683 66h2M687 66h1M689 66h2M693 66h2M583 67h2M607 67h2M431 68h1M445 68h1M454 68h1M457 68h1M508 68h1M511 68h1M540 68h2M551 68h1M633 68h1M654 68h1M661 68h1M490 69h2M494 69h2M499 69h1M519 69h2M524 69h2M527 69h2M547 69h1M554 69h2M629 69h1M634 69h1M655 69h1M200 70h1M223 70h1M245 70h1M252 70h1M258 70h1M262 70h1M277 70h1M281 70h1M51 72h1M77 72h1M92 72h1M96 72h1M99 72h1M102 72h1M112 72h1M156 72h1M227 72h1M255 72h1M266 72h1M284 72h1M358 72h1M363 72h2M441 72h1M443 72h2M489 72h1M516 72h1M519 72h1M523 72h1M543 72h2M547 72h1M551 72h1M558 72h1M672 72h2M1 73h1M19 73h1M24 73h2M45 73h1M59 73h1M66 73h1M69 73h1M72 73h3M76 73h1M88 73h1M90 73h1M127 73h1M133 73h1M135 73h2M152 73h1M164 73h1M166 73h1M190 73h1M220 73h7M240 73h1M258 73h3M263 73h1M283 73h1M286 73h1M288 73h1M351 73h1M450 73h1M454 73h1M458 73h2M464 73h1M478 73h1M512 73h1M553 73h1M555 73h1M667 73h2M677 73h1M15 74h1M17 74h1M27 74h1M29 74h1M33 74h1M40 74h1M46 74h2M51 74h1M30 75h1M32 75h1M53 75h1M0 78h1M5 78h1M9 78h1M16 78h1M24 78h1M26 78h5M36 78h1M46 78h1M54 78h1M340 78h1M349 78h1M663 80h1M666 80h1M674 80h1M664 81h1M164 83h1M168 83h2M171 83h1M180 83h4M186 83h1M3 88h1M31 88h1M35 88h1M43 88h1M222 88h1M471 88h1M473 88h2M26 89h1M38 89h2M41 89h1M63 89h1M69 89h1M72 89h1M90 89h1M180 89h1M471 91h1M25 92h1M28 92h2M37 92h1M39 92h2M62 92h1M66 92h1M69 92h1M85 92h1M89 92h1M474 92h1M76 93h1M90 93h3M175 93h1M177 93h1M222 93h2M102 94h1M131 94h1M136 94h1M147 94h1M151 94h1M153 94h1M159 94h1M168 94h1M225 94h2M240 94h2M281 94h1M290 94h2M300 94h1M302 94h1M327 94h1M329 94h2M332 94h1M341 94h1M364 94h1M368 94h1M382 94h2M395 94h1M408 94h2M414 94h1M421 94h1M427 94h1M445 94h1M450 94h1M487 94h2M495 94h1M512 94h1M520 94h1M597 94h1M658 94h1M684 94h1M686 94h1M692 94h2M800 94h1M814 94h1M818 94h2M833 94h1M161 95h1M359 95h1M493 95h1M500 95h1M507 95h1M516 95h1M524 95h1M528 95h1M491 98h1M500 98h1M506 98h1M514 98h1M522 98h1M525 98h1M533 98h1M544 98h1M550 98h1M1 99h1M4 99h1M118 99h1M121 99h1M127 99h1M130 99h1M133 99h1M145 99h1M371 99h1M377 99h1M383 99h1M386 99h1M404 99h1M410 99h1M425 99h1M6 100h1M15 100h1M58 100h1M97 100h1M100 100h1M113 100h1M116 100h1M173 100h1M179 100h1M187 100h1M191 100h1M194 100h1M197 100h1M199 100h1M233 100h1M236 100h1M250 100h1M253 100h1M257 100h1M259 100h1M262 100h1M265 100h1M268 100h1M277 100h1M295 100h1M353 100h1M384 100h1M405 100h1M423 100h1M435 100h1M444 100h1M453 100h1M468 100h1M567 100h1M583 100h1M585 100h2M588 100h1M597 100h2M624 100h1M629 100h1M636 100h1M639 100h2M652 100h1M671 100h1M810 100h1M0 101h1M3 101h1M103 101h1M119 101h1M122 101h1M128 101h1M131 101h1M137 101h1M140 101h1M143 101h1M149 101h1M152 101h1M158 101h1M161 101h1M164 101h1M167 101h1M190 101h1M193 101h1M208 101h2M214 101h2M227 101h1M241 101h1M251 101h1M299 101h1M426 101h1M432 101h1M449 101h1M455 101h1M458 101h1M461 101h1M464 101h1M476 101h1M5 103h1M14 103h5M55 103h1M76 103h3M82 103h1M90 103h1M98 103h1M108 103h1M140 103h1M156 103h1M190 103h1M203 103h2M207 103h1M224 103h1M249 103h1M271 103h2M274 103h1M315 103h1M330 103h1M336 103h1M339 103h1M342 103h1M349 103h2M383 103h1M411 103h1M417 103h1M419 103h1M423 103h1M459 103h2M467 103h1M473 103h1M477 103h1M612 103h1M615 103h2M652 103h1M656 103h1M671 103h1M679 103h1M693 103h2M494 105h1M503 105h2M507 105h2M528 105h1M533 105h1M535 105h2M539 105h1M548 105h2M552 105h2M566 105h1M568 105h1M573 105h1M578 105h2M587 105h1M589 105h2M597 105h2"/>
<path stroke="#0000f7" d="M42 6h2M49 6h1M70 6h1M130 6h1M165 6h1M192 6h1M216 6h1M219 6h2M238 6h1M242 6h1M267 6h1M270 6h1M293 6h1M295 6h1M298 6h1M301 6h1M327 6h2M351 6h1M378 6h1M380 6h1M387 6h2M517 6h1M519 6h1M527 6h1M609 6h2M630 6h2M634 6h1M637 6h1M126 7h1M129 7h1M137 7h1M269 7h1M352 7h1M639 7h1M671 9h1M675 9h1M677 9h1M680 9h1M698 9h1M701 9h2M707 9h1M732 9h1M763 9h1M792 9h1M816 9h2M324 10h2M350 10h1M377 10h2M382 10h1M384 10h2M406 10h3M410 10h2M415 10h1M433 10h1M436 10h1M490 10h1M577 10h1M604 10h1M610 10h1M671 10h1M675 10h1M677 10h1M698 10h1M700 10h3M704 10h1M706 10h1M708 10h1M762 10h1M764 10h1M782 10h2M788 10h3M349 11h1M380 11h2M388 11h1M413 11h2M416 11h1M493 11h2M496 11h1M521 11h1M572 11h1M600 11h1M602 11h2M605 11h1M611 11h1M642 11h2M647 11h2M650 11h1M656 11h1M694 11h1M712 11h1M773 11h1M833 11h1M46 14h1M113 14h1M156 14h1M159 14h1M190 14h1M210 14h2M215 14h1M230 14h1M293 14h1M295 14h1M328 14h1M331 14h1M338 14h1M341 14h1M349 14h1M384 14h2M420 14h1M435 14h2M491 14h1M499 14h1M518 14h1M551 14h1M555 14h1M561 14h1M570 14h1M572 14h1M574 14h1M636 14h1M644 14h1M649 14h2M688 14h2M691 14h1M694 14h1M826 14h1M3 15h3M38 15h1M42 15h1M65 15h1M119 15h1M125 15h1M141 15h2M146 15h1M208 15h2M232 15h1M237 15h2M254 15h1M257 15h1M280 15h1M298 15h1M305 15h1M312 15h1M335 15h1M350 15h1M361 15h1M363 15h1M386 15h1M695 15h3M701 15h2M704 15h1M706 15h1M708 15h1M711 15h1M721 15h1M723 15h1M31 16h1M42 16h1M52 16h1M98 16h1M293 16h1M329 16h1M464 16h1M677 16h1M699 16h2M711 16h1M713 16h1M814 16h1M824 16h2M831 16h2M26 17h1M34 17h1M248 17h1M358 17h1M382 17h1M385 17h1M461 17h1M469 17h1M492 17h2M666 17h3M670 17h1M780 17h2M796 17h1M799 17h1M22 18h2M25 18h1M135 18h1M209 18h1M214 18h1M378 18h1M380 18h1M471 18h1M494 18h1M518 18h1M575 18h1M581 18h2M636 18h1M657 18h1M685 18h1M689 18h1M733 18h2M755 18h1M795 18h4M803 18h2M15 19h1M17 19h1M74 19h1M133 19h1M162 19h1M164 19h1M212 19h1M216 19h1M296 19h1M496 19h1M608 19h1M746 19h1M749 19h1M11 20h1M29 20h1M36 20h1M39 20h1M41 20h1M45 20h1M59 20h1M61 20h1M64 20h1M81 20h1M95 20h1M209 20h1M215 20h2M233 20h1M260 20h1M265 20h1M285 20h2M292 20h2M300 20h1M305 20h1M336 20h1M360 20h1M381 20h1M403 20h1M489 20h1M527 20h1M583 20h1M612 20h1M633 20h1M165 21h1M196 21h1M243 21h1M266 21h1M325 21h1M386 21h1M577 21h1M755 21h1M476 22h1M739 22h1M164 23h1M270 23h2M380 23h1M492 23h1M497 23h1M524 23h1M753 23h1M136 24h1M213 24h1M274 24h1M276 24h1M356 24h1M360 24h1M377 24h1M379 24h1M409 24h1M489 24h1M497 24h2M526 24h1M739 24h1M188 25h1M239 25h1M267 25h1M361 29h1M376 29h1M737 29h1M24 31h2M46 31h1M53 31h1M70 31h1M98 31h1M104 31h1M156 31h1M267 31h1M271 31h1M276 31h1M354 31h1M492 31h1M519 31h1M632 31h1M639 31h1M731 31h1M20 32h1M24 32h1M42 32h1M45 32h1M241 32h1M243 32h1M325 32h1M328 32h1M521 32h1M576 32h1M600 32h1M728 32h1M18 33h1M43 33h1M56 33h1M72 33h3M90 33h2M104 33h1M130 33h1M132 33h2M159 33h1M161 33h1M185 33h1M191 33h1M212 33h2M384 33h1M416 33h1M493 33h1M522 33h1M524 33h1M603 33h1M608 33h1M662 33h4M772 33h1M800 33h2M804 33h1M826 33h1M29 34h1M57 34h1M95 34h1M105 34h1M110 34h1M115 34h1M121 34h1M124 34h1M130 34h1M140 34h1M163 34h1M171 34h1M179 34h1M181 34h3M219 34h1M409 34h1M440 34h1M463 34h1M489 34h1M549 34h2M47 35h1M267 35h1M296 35h1M300 35h1M328 35h1M331 35h1M467 35h1M323 36h1M326 36h1M664 36h1M668 36h1M68 37h1M74 37h1M76 37h1M249 37h3M253 37h1M304 37h4M318 37h2M378 37h1M389 37h1M392 37h1M394 37h1M397 37h3M420 37h1M483 37h1M487 37h1M489 37h1M491 37h1M525 37h1M529 37h2M533 37h1M535 37h2M539 37h1M685 37h2M701 37h1M67 38h1M69 38h2M72 38h1M77 38h4M82 38h1M84 38h1M171 38h1M249 38h2M267 38h1M287 38h1M311 38h1M373 38h3M380 38h1M387 38h3M392 38h3M426 38h2M486 38h2M491 38h1M533 38h1M690 38h1M699 38h2M704 38h1M716 38h1M725 38h3M737 38h1M747 38h1M749 38h1M762 38h1M766 38h1M770 38h1M774 38h1M780 38h1M794 38h1M800 38h1M807 38h1M88 39h1M90 39h2M113 39h1M125 39h1M130 39h4M148 39h1M153 39h1M175 39h3M182 39h1M188 39h1M194 39h1M201 39h2M204 39h1M207 39h1M212 39h2M230 39h1M238 39h1M245 39h1M262 39h1M271 39h1M279 39h3M298 39h1M303 39h2M309 39h1M312 39h1M323 39h1M339 39h1M435 39h1M607 39h1M613 39h1M619 39h1M624 39h2M627 39h2M633 39h1M703 39h1M705 39h1M708 39h1M715 39h1M717 39h1M724 39h1M798 39h2M806 39h1M822 39h1M824 39h1M826 39h1M832 39h1M835 39h1M154 40h1M608 40h1M615 40h1M624 40h1M626 40h1M633 40h1M638 40h1M828 40h1M156 41h1M442 41h1M201 42h1M206 42h2M430 42h1M441 42h1M799 42h2M803 42h1M813 42h1M816 42h1M334 43h1M421 43h1M425 43h1M428 43h2M440 43h1M468 43h1M470 43h1M531 43h1M539 43h2M550 43h1M562 43h1M564 43h2M576 43h1M671 43h1M673 43h1M676 43h1M686 43h1M694 43h1M796 43h2M705 46h1M726 46h1M815 46h1M532 47h1M731 47h1M733 47h1M740 47h1M745 47h2M760 47h1M773 47h2M781 47h1M480 48h2M77 50h1M85 50h1M98 50h1M102 50h3M108 50h1M155 50h1M231 50h1M335 50h1M379 50h1M398 50h2M448 50h2M451 50h1M459 50h1M467 50h1M490 50h1M506 50h1M512 50h1M522 50h1M553 50h2M558 50h1M578 50h1M593 50h1M203 51h3M207 51h1M320 51h1M322 51h2M326 51h4M331 51h4M337 51h2M433 51h1M436 51h1M446 51h1M460 51h1M462 51h1M466 51h1M473 51h1M478 51h1M527 51h1M529 51h1M534 51h1M545 51h2M549 51h1M551 51h1M556 51h2M580 51h1M588 51h1M597 51h1M167 52h4M427 52h1M437 52h1M441 52h1M447 52h1M462 52h2M480 52h1M488 52h3M504 52h1M526 52h1M530 52h1M536 52h1M550 52h1M125 53h4M361 54h4M135 55h2M335 55h4M523 55h1M531 55h1M723 55h1M733 55h1M737 55h1M742 55h1M750 55h1M754 55h1M770 55h1M772 55h1M780 55h1M786 55h1M791 55h1M824 55h1M826 55h1M24 56h1M29 56h1M33 56h1M41 56h1M47 56h2M57 56h2M61 56h1M80 56h1M83 56h1M105 56h1M108 56h1M110 56h1M160 56h2M556 56h1M558 56h1M6 57h1M14 57h1M19 57h1M25 57h1M32 57h1M36 57h2M42 57h2M52 57h1M79 57h1M101 57h1M180 57h2M286 57h2M522 57h2M531 57h1M824 57h1M202 58h1M263 58h5M671 58h1M237 59h1M827 59h1M2 60h1M11 60h1M39 60h1M43 60h5M61 60h1M74 60h2M83 60h1M90 60h1M98 60h1M101 60h1M104 60h1M108 60h1M742 60h1M744 60h1M746 60h1M748 60h1M758 60h2M761 60h1M784 60h4M789 60h1M801 60h1M811 60h1M823 60h1M827 60h2M780 61h1M621 63h1M692 63h1M745 63h14M604 64h1M29 65h2M37 65h1M580 65h1M583 65h1M586 65h3M590 65h2M578 66h1M626 66h2M630 66h3M644 66h5M654 66h1M656 66h1M658 66h2M661 66h2M688 66h1M582 67h1M585 67h1M588 67h1M590 67h3M606 67h1M371 68h1M427 68h1M446 68h2M456 68h1M472 68h1M477 68h1M504 68h1M538 68h1M629 68h1M634 68h1M655 68h1M489 69h1M498 69h1M500 69h1M517 69h2M521 69h1M544 69h3M548 69h1M553 69h1M558 69h1M221 70h1M224 70h2M254 70h1M261 70h1M278 70h1M262 71h1M48 72h3M93 72h1M161 72h1M182 72h1M204 72h1M233 72h1M256 72h1M265 72h1M361 72h2M365 72h1M367 72h1M376 72h2M430 72h1M440 72h1M484 72h1M488 72h1M512 72h1M553 72h1M555 72h1M676 72h1M0 73h1M4 73h1M20 73h1M64 73h1M70 73h1M81 73h1M89 73h1M120 73h1M128 73h1M142 73h1M162 73h1M180 73h2M203 73h1M274 73h9M372 73h1M465 73h1M471 73h2M474 73h1M520 73h1M522 73h1M548 73h1M556 73h2M673 73h2M25 74h1M28 74h1M34 74h1M37 74h1M26 75h1M31 75h1M35 75h2M38 75h1M52 75h1M55 75h1M2 78h1M4 78h1M14 78h1M18 78h1M21 78h1M31 78h1M339 78h1M341 78h2M352 78h1M19 79h2M37 79h1M41 79h1M48 79h1M395 79h1M406 79h1M410 79h1M416 79h1M659 80h4M670 80h1M665 81h1M161 83h2M165 83h1M172 83h1M175 83h1M177 83h1M4 88h1M33 88h1M223 88h1M28 89h1M61 89h1M67 89h1M79 89h1M83 89h1M85 89h2M175 89h1M26 92h1M38 92h1M63 92h1M68 92h1M70 92h1M73 92h1M86 92h1M176 93h1M221 93h1M229 93h1M231 93h1M96 94h1M135 94h1M150 94h1M163 94h1M165 94h1M169 94h1M179 94h2M217 94h1M229 94h1M233 94h1M236 94h1M242 94h1M269 94h1M285 94h1M319 94h1M357 94h1M367 94h1M384 94h1M393 94h1M397 94h1M410 94h2M417 94h1M490 94h2M494 94h1M506 94h1M514 94h1M519 94h1M521 94h1M536 94h1M549 94h2M564 94h1M694 94h1M807 94h1M816 94h1M831 94h2M172 95h1M503 95h1M522 95h1M537 95h1M545 95h1M552 95h1M501 98h2M504 98h1M521 98h1M526 98h1M528 98h1M541 98h1M549 98h1M3 100h1M61 100h1M119 100h1M140 100h1M158 100h1M161 100h1M175 100h1M182 100h1M190 100h1M193 100h1M196 100h1M208 100h2M214 100h2M226 100h1M241 100h1M245 100h1M284 100h1M411 100h1M441 100h1M447 100h1M461 100h1M464 100h1M470 100h1M476 100h1M562 100h1M587 100h1M620 100h1M681 100h1M796 100h2M813 100h1M816 100h1M37 101h1M46 101h1M52 101h1M55 101h1M134 101h1M146 101h1M170 101h1M172 101h1M178 101h1M181 101h1M220 101h1M254 101h1M260 101h1M263 101h1M272 101h1M275 101h1M287 101h1M290 101h1M293 101h1M302 101h1M308 101h1M311 101h1M344 101h1M347 101h1M350 101h1M467 101h1M19 103h1M27 103h1M45 103h1M155 103h1M191 103h1M195 103h1M198 103h1M228 103h1M250 103h1M331 103h1M344 103h2M382 103h1M415 103h1M418 103h1M422 103h1M618 103h1M625 103h1M653 103h1M659 103h1M680 103h1M509 105h1M511 105h1M516 105h2M538 105h1M544 105h1M556 105h1M558 105h1M565 105h1M594 105h1M601 105h1"/>
<path stroke="#1200ff" d="M44 6h1M46 6h2M51 6h1M135 6h1M164 6h1M217 6h2M239 6h1M247 6h1M268 6h1M274 6h2M296 6h1M302 6h1M304 6h1M326 6h1M379 6h1M499 6h1M523 6h4M42 7h2M49 7h1M130 7h1M165 7h1M192 7h1M216 7h1M219 7h2M238 7h1M242 7h1M267 7h1M270 7h1M293 7h1M295 7h1M298 7h1M301 7h1M327 7h2M351 7h1M378 7h1M380 7h1M387 7h2M517 7h1M519 7h1M527 7h1M609 7h2M630 7h2M634 7h1M637 7h1M674 9h1M678 9h2M681 9h1M703 9h1M708 9h1M730 9h2M761 9h2M764 9h1M784 9h1M790 9h2M810 9h1M815 9h1M820 9h1M321 10h1M329 10h1M379 10h1M381 10h1M383 10h1M386 10h2M409 10h1M491 10h2M495 10h1M517 10h2M520 10h1M522 10h1M525 10h1M601 10h1M670 10h1M674 10h1M676 10h1M705 10h1M709 10h1M757 10h1M759 10h1M784 10h1M791 10h1M793 10h1M813 10h5M820 10h1M327 11h1M471 11h1M524 11h1M526 11h1M649 11h1M651 11h1M688 11h1M691 11h3M719 11h1M772 11h1M777 11h1M50 14h1M52 14h1M56 14h1M58 14h2M182 14h1M238 14h1M350 14h1M370 14h1M386 14h1M419 14h1M492 14h1M547 14h1M550 14h1M552 14h1M566 14h1M634 14h1M637 14h1M648 14h1M690 14h1M692 14h1M717 14h2M776 14h1M778 14h1M801 14h1M824 14h2M831 14h1M0 15h2M35 15h1M47 15h3M63 15h1M66 15h1M69 15h1M112 15h1M114 15h2M121 15h1M124 15h1M139 15h2M205 15h1M207 15h1M256 15h1M289 15h2M311 15h1M313 15h2M364 15h2M677 15h1M688 15h2M691 15h1M694 15h1M705 15h1M709 15h2M713 15h1M716 15h1M722 15h1M725 15h2M731 15h1M775 15h1M779 15h1M809 15h2M814 15h3M821 15h2M826 15h1M32 16h2M35 16h1M38 16h1M40 16h1M43 16h2M50 16h2M53 16h3M183 16h1M304 16h1M330 16h1M659 16h1M673 16h1M675 16h2M678 16h1M680 16h1M698 16h1M701 16h2M707 16h1M710 16h1M712 16h1M717 16h1M719 16h2M725 16h1M810 16h4M815 16h1M820 16h4M827 16h2M830 16h1M29 17h3M37 17h1M52 17h1M217 17h1M272 17h1M300 17h1M383 17h1M549 17h1M671 17h1M755 17h1M797 17h1M52 18h2M79 18h1M101 18h1M160 18h1M213 18h1M218 18h1M353 18h1M357 18h1M438 18h1M443 18h1M547 18h1M576 18h1M603 18h1M605 18h1M690 18h1M758 18h1M794 18h1M42 19h1M134 19h1M155 19h1M209 19h1M351 19h1M359 19h1M386 19h1M437 19h1M523 19h1M526 19h1M545 19h1M574 19h1M634 19h1M751 19h1M28 20h1M63 20h1M102 20h1M126 20h1M149 20h1M156 20h1M199 20h2M202 20h1M240 20h1M250 20h1M279 20h1M284 20h1M287 20h2M296 20h1M309 20h1M326 20h1M344 20h2M371 20h1M394 20h1M577 20h1M745 20h1M49 21h1M134 21h1M212 21h1M416 21h1M435 21h1M518 21h1M527 21h1M633 21h1M740 21h1M162 22h1M406 22h1M154 23h2M163 23h1M211 23h1M267 23h1M273 23h1M358 23h1M379 23h1M414 23h1M493 23h1M752 23h1M130 24h2M155 24h1M159 24h1M164 24h1M181 24h1M273 24h1M357 24h2M378 24h1M381 24h1M383 24h1M416 24h1M523 24h1M629 24h1M748 24h1M127 25h1M187 25h1M215 25h1M217 25h1M507 25h1M333 29h1M738 29h1M21 31h1M45 31h1M76 31h2M99 31h1M108 31h1M127 31h1M133 31h1M157 31h1M293 31h1M297 31h3M360 31h1M414 31h1M434 31h1M468 31h1M516 31h1M524 31h1M576 31h1M583 31h1M603 31h1M14 32h1M104 32h1M163 32h1M188 32h1M293 32h1M356 32h1M378 32h1M380 32h1M405 32h1M414 32h1M491 32h1M495 32h1M519 32h1M49 33h1M58 33h1M79 33h1M102 33h1M182 33h1M211 33h1M241 33h1M245 33h1M274 33h1M379 33h1M407 33h1M432 33h1M462 33h1M496 33h1M518 33h1M578 33h1M601 33h1M609 33h1M634 33h1M656 33h1M666 33h2M721 33h1M742 33h5M776 33h1M778 33h1M805 33h1M28 34h1M48 34h1M56 34h1M60 34h1M82 34h1M84 34h1M94 34h1M96 34h1M99 34h1M106 34h1M108 34h1M114 34h1M118 34h3M125 34h1M129 34h1M133 34h1M137 34h2M176 34h2M184 34h2M188 34h1M220 34h1M268 34h1M301 34h1M325 34h1M382 34h1M464 34h1M552 34h1M186 35h1M239 35h1M295 35h1M468 35h1M665 35h1M689 35h2M327 36h1M330 36h1M673 36h1M679 36h1M690 36h1M70 37h1M72 37h2M77 37h6M178 37h5M196 37h1M226 37h1M254 37h3M273 37h2M277 37h3M281 37h1M287 37h1M302 37h2M308 37h4M317 37h1M365 37h4M370 37h3M375 37h2M379 37h1M381 37h1M390 37h2M400 37h1M419 37h1M421 37h3M426 37h1M484 37h3M488 37h1M526 37h3M532 37h1M534 37h1M537 37h1M687 37h1M2 38h1M6 38h1M10 38h1M71 38h1M73 38h1M83 38h1M86 38h2M89 38h1M172 38h2M184 38h1M193 38h1M196 38h1M218 38h1M252 38h1M256 38h2M264 38h3M290 38h3M310 38h1M313 38h2M318 38h2M377 38h3M390 38h2M396 38h2M423 38h3M453 38h1M490 38h1M524 38h3M529 38h2M532 38h1M534 38h5M696 38h1M734 38h1M736 38h1M753 38h1M757 38h1M772 38h1M101 39h1M103 39h1M127 39h1M129 39h1M135 39h2M138 39h3M145 39h1M161 39h1M168 39h1M181 39h1M200 39h1M205 39h1M222 39h1M233 39h1M242 39h1M278 39h1M299 39h1M302 39h1M305 39h1M307 39h2M315 39h1M317 39h1M321 39h1M327 39h2M332 39h1M606 39h1M608 39h1M614 39h2M620 39h1M623 39h1M626 39h1M629 39h1M631 39h2M634 39h1M699 39h2M704 39h1M716 39h1M725 39h2M762 39h1M800 39h1M807 39h1M821 39h1M825 39h1M829 39h2M619 40h3M623 40h1M627 40h3M634 40h1M636 40h2M639 40h2M643 40h1M833 40h1M835 40h1M437 41h1M441 41h1M200 42h1M211 42h1M436 42h1M794 42h2M802 42h1M805 42h1M810 42h1M815 42h1M420 43h1M426 43h2M434 43h1M443 43h2M462 43h1M466 43h2M537 43h2M541 43h1M544 43h1M547 43h1M551 43h1M563 43h1M687 43h2M692 43h2M695 43h1M798 43h1M801 43h1M804 43h1M808 43h1M811 43h2M823 43h2M828 43h1M205 44h1M436 45h1M428 46h1M543 46h1M702 46h2M707 46h1M721 46h1M727 46h1M801 46h1M812 46h3M531 47h1M534 47h1M704 47h1M708 47h1M744 47h1M747 47h3M761 47h1M765 47h1M793 47h1M819 47h3M836 47h1M477 48h2M659 48h1M667 48h1M673 48h1M75 50h1M81 50h1M101 50h1M106 50h1M339 50h1M377 50h1M392 50h1M450 50h1M452 50h1M460 50h1M462 50h1M466 50h1M473 50h1M526 50h1M549 50h1M551 50h2M556 50h2M566 50h1M577 50h1M588 50h1M743 50h1M208 51h13M224 51h1M307 51h1M312 51h1M314 51h6M321 51h1M324 51h2M419 51h1M421 51h3M432 51h1M438 51h1M441 51h1M443 51h2M479 51h1M484 51h1M488 51h2M500 51h1M507 51h4M537 51h2M542 51h1M544 51h1M547 51h1M555 51h1M589 51h1M591 51h1M598 51h1M744 51h1M759 51h1M171 52h3M421 52h1M443 52h2M458 52h1M469 52h1M492 52h1M494 52h1M498 52h1M532 52h1M546 52h1M549 52h1M129 53h6M119 54h1M137 55h3M327 55h8M510 55h2M519 55h1M522 55h1M524 55h1M545 55h1M558 55h1M728 55h1M738 55h1M740 55h1M790 55h1M794 55h3M798 55h1M10 56h1M26 56h3M56 56h1M68 56h1M70 56h1M74 56h1M107 56h1M109 56h1M112 56h1M114 56h1M162 56h1M298 56h1M509 56h2M521 56h1M524 56h1M532 56h1M557 56h1M24 57h1M29 57h2M33 57h1M41 57h1M47 57h2M53 57h1M57 57h2M61 57h1M83 57h1M89 57h1M105 57h1M108 57h1M110 57h1M182 57h3M282 57h4M556 57h1M558 57h1M203 58h3M260 58h3M626 58h1M665 58h1M827 58h1M8 60h1M18 60h3M38 60h1M48 60h1M56 60h3M68 60h1M97 60h1M105 60h3M696 60h1M743 60h1M745 60h1M757 60h1M760 60h1M804 60h3M819 60h2M695 61h1M678 62h1M622 63h1M649 63h1M653 63h2M670 63h1M691 63h1M605 64h2M50 65h2M581 65h1M593 65h1M729 65h1M579 66h2M621 66h2M624 66h1M629 66h1M633 66h1M641 66h3M655 66h1M586 67h2M589 67h1M601 67h1M603 67h3M428 68h1M512 68h1M371 69h1M421 69h1M479 69h1M486 69h1M492 69h1M514 69h3M529 69h1M543 69h1M552 69h1M628 69h1M198 70h2M220 70h1M244 70h1M280 70h1M254 71h1M258 71h4M57 72h1M94 72h1M101 72h1M157 72h1M172 72h2M183 72h1M185 72h1M187 72h1M241 72h1M264 72h1M285 72h1M353 72h1M366 72h1M378 72h3M431 72h2M435 72h1M437 72h1M485 72h1M520 72h1M522 72h1M548 72h1M556 72h2M2 73h2M46 73h2M53 73h1M55 73h1M65 73h1M67 73h2M78 73h1M104 73h1M106 73h1M109 73h1M134 73h1M159 73h1M163 73h1M176 73h1M195 73h1M198 73h5M244 73h10M261 73h1M470 73h1M473 73h1M476 73h1M479 73h3M538 73h1M672 73h1M18 74h1M50 74h1M14 75h4M27 75h1M29 75h1M33 75h1M39 75h2M46 75h2M51 75h1M54 75h1M3 78h1M10 78h2M17 78h1M32 78h1M38 78h1M45 78h1M49 78h1M336 78h1M12 79h1M42 79h2M399 79h1M675 80h1M203 82h1M163 83h1M166 83h2M174 83h1M176 83h1M184 83h2M190 83h1M194 83h1M789 85h1M1 88h1M29 89h1M34 89h1M40 89h1M42 89h1M66 89h1M68 89h1M73 89h1M173 89h1M178 89h2M473 89h1M473 91h1M44 92h1M61 92h1M64 92h1M74 92h1M78 92h2M93 92h1M26 94h1M38 94h1M97 94h1M99 94h1M162 94h1M164 94h1M170 94h1M278 94h1M374 94h1M376 94h1M387 94h1M391 94h2M394 94h1M396 94h1M423 94h1M486 94h1M489 94h1M493 94h1M505 94h1M510 94h2M517 94h2M527 94h1M529 94h3M537 94h1M552 94h1M559 94h1M565 94h2M570 94h1M685 94h1M689 94h1M812 94h1M523 95h1M533 95h1M496 98h1M524 98h1M532 98h1M537 98h1M543 98h1M547 98h1M552 98h1M0 100h1M52 100h1M103 100h1M122 100h1M128 100h1M131 100h1M137 100h1M143 100h1M149 100h1M152 100h1M164 100h1M167 100h1M178 100h1M227 100h1M251 100h1M287 100h1M290 100h1M299 100h1M344 100h1M347 100h1M350 100h1M426 100h1M432 100h1M449 100h1M455 100h1M458 100h1M557 100h2M578 100h2M628 100h1M654 100h1M675 100h1M738 100h1M798 100h1M809 100h1M814 100h2M817 100h1M833 100h3M31 101h1M155 101h1M221 101h1M242 101h1M266 101h1M269 101h1M281 101h1M314 101h1M362 101h1M437 101h1M452 101h1M28 103h3M62 103h1M88 103h2M95 103h2M192 103h2M277 103h2M280 103h2M338 103h1M346 103h1M362 103h1M374 103h1M379 103h1M461 103h1M465 103h1M469 103h1M472 103h1M478 103h1M482 103h1M484 103h1M534 103h1M613 103h1M619 103h1M601 104h1M495 105h1M498 105h2M501 105h2M505 105h2M510 105h1M513 105h1M518 105h3M557 105h1M564 105h1M567 105h1M572 105h1M595 105h1M611 105h1M613 105h1"/>
<path stroke="#2a00ff" d="M45 6h1M48 6h1M52 6h1M240 6h1M276 6h1M297 6h1M303 6h1M632 6h2M44 7h1M70 7h1M135 7h1M164 7h1M217 7h2M247 7h1M268 7h1M274 7h2M296 7h1M304 7h1M326 7h1M379 7h1M499 7h1M523 7h1M525 7h1M670 9h1M676 9h1M704 9h1M706 9h1M709 9h1M734 9h1M760 9h1M783 9h1M785 9h5M811 9h1M813 9h2M821 9h1M349 10h1M380 10h1M388 10h1M413 10h2M416 10h1M493 10h2M496 10h1M521 10h1M572 10h1M600 10h1M602 10h2M605 10h1M611 10h1M678 10h2M732 10h1M755 10h1M785 10h3M792 10h1M809 10h1M811 10h2M818 10h2M821 10h1M326 11h1M328 11h1M412 11h1M499 11h1M644 11h1M646 11h1M657 11h3M687 11h1M689 11h1M695 11h1M714 11h1M720 11h1M776 11h1M778 11h1M828 11h1M834 11h1M51 14h1M128 14h1M231 14h1M247 14h1M279 14h1M489 14h1M494 14h1M542 14h1M553 14h2M638 14h1M645 14h1M647 14h1M698 14h2M707 14h1M768 14h1M2 15h1M33 15h1M39 15h3M46 15h1M50 15h1M55 15h1M64 15h1M111 15h1M182 15h1M187 15h1M235 15h1M242 15h1M255 15h1M292 15h1M294 15h1M299 15h1M309 15h1M334 15h1M336 15h2M339 15h2M362 15h1M418 15h1M651 15h1M673 15h1M675 15h1M678 15h2M690 15h1M692 15h1M717 15h2M724 15h1M727 15h2M730 15h1M776 15h1M778 15h1M780 15h1M793 15h2M801 15h1M808 15h1M811 15h3M817 15h1M819 15h2M823 15h3M831 15h1M36 16h1M41 16h1M47 16h3M100 16h1M188 16h1M295 16h1M323 16h1M655 16h2M660 16h1M674 16h1M681 16h1M686 16h1M696 16h1M703 16h2M706 16h1M708 16h2M718 16h1M721 16h1M723 16h2M726 16h1M728 16h1M771 16h2M775 16h1M777 16h1M809 16h1M816 16h1M819 16h1M829 16h1M833 16h1M32 17h2M35 17h1M40 17h1M42 17h1M51 17h1M53 17h3M98 17h1M105 17h1M268 17h1M293 17h1M301 17h1M324 17h1M440 17h1M550 17h1M552 17h1M555 17h1M798 17h1M800 17h1M47 18h2M200 18h1M267 18h1M270 18h1M273 18h2M354 18h1M384 18h1M413 18h1M439 18h1M491 18h1M551 18h1M580 18h1M604 18h1M658 18h1M747 18h1M73 19h1M136 19h1M160 19h1M293 19h1M518 19h1M524 19h2M578 19h1M26 20h2M46 20h1M49 20h1M62 20h1M96 20h1M101 20h1M125 20h1M130 20h1M138 20h1M141 20h1M165 20h1M198 20h1M201 20h1M212 20h1M218 20h1M231 20h1M237 20h1M256 20h1M259 20h1M266 20h1M333 20h1M348 20h1M359 20h1M391 20h1M395 20h1M443 20h1M750 20h1M42 21h1M77 21h1M160 21h1M217 21h1M269 21h1M351 21h1M353 21h1M436 21h1M555 21h1M583 21h1M600 21h1M634 21h1M154 22h1M181 22h1M210 22h1M271 22h1M273 22h1M493 22h1M524 22h2M135 23h1M408 23h1M413 23h1M133 24h1M135 24h1M161 24h1M165 24h1M211 24h1M352 24h1M354 24h2M387 24h1M407 24h1M415 24h1M491 24h1M524 24h1M747 24h1M751 24h1M55 25h1M216 25h1M222 25h1M265 25h2M286 25h1M292 25h1M308 25h1M419 25h1M449 25h1M508 25h1M512 25h1M556 25h1M567 25h2M237 30h1M518 30h2M522 30h1M49 31h1M72 31h1M78 31h1M100 31h1M103 31h1M126 31h1M131 31h1M159 31h1M188 31h2M220 31h1M248 31h1M272 31h1M324 31h4M349 31h1M353 31h1M355 31h2M378 31h1M380 31h1M440 31h3M472 31h1M491 31h1M499 31h1M544 31h1M582 31h1M610 31h2M732 31h1M21 32h1M49 32h1M126 32h1M156 32h2M191 32h1M432 32h1M516 32h1M16 33h1M23 33h1M44 33h1M59 33h1M61 33h2M77 33h1M88 33h1M127 33h1M134 33h1M155 33h1M188 33h1M325 33h1M328 33h1M352 33h1M356 33h1M383 33h1M385 33h1M472 33h1M497 33h1M523 33h1M551 33h1M553 33h1M577 33h1M579 33h1M689 33h1M720 33h1M722 33h1M725 33h1M768 33h1M770 33h2M773 33h1M806 33h1M46 34h1M51 34h1M59 34h1M83 34h1M92 34h2M100 34h1M126 34h1M139 34h1M180 34h1M192 34h1M216 34h1M328 34h1M353 34h1M357 34h1M381 34h1M433 34h1M547 34h1M466 35h1M668 35h1M674 35h1M669 36h1M683 36h1M687 36h1M69 37h1M71 37h1M83 37h3M171 37h1M173 37h5M183 37h2M193 37h1M212 37h1M218 37h1M227 37h1M231 37h2M243 37h2M248 37h1M257 37h1M271 37h2M280 37h1M282 37h2M285 37h1M288 37h3M295 37h2M299 37h3M323 37h1M369 37h1M374 37h1M396 37h1M424 37h2M427 37h1M531 37h1M538 37h1M3 38h1M7 38h3M11 38h1M17 38h1M23 38h1M25 38h1M27 38h1M31 38h1M88 38h1M90 38h1M169 38h2M178 38h1M183 38h1M185 38h1M187 38h1M189 38h2M195 38h1M197 38h1M217 38h1M219 38h1M251 38h1M255 38h1M258 38h1M268 38h1M285 38h2M288 38h2M295 38h1M303 38h3M309 38h1M312 38h1M376 38h1M454 38h1M488 38h2M527 38h2M531 38h1M697 38h1M701 38h2M728 38h1M741 38h1M752 38h1M754 38h1M760 38h1M771 38h1M96 39h1M116 39h1M121 39h1M128 39h1M134 39h1M137 39h1M141 39h1M147 39h1M160 39h1M165 39h1M199 39h1M203 39h1M210 39h2M221 39h1M232 39h1M235 39h1M282 39h1M306 39h1M331 39h1M333 39h1M337 39h1M443 39h1M616 39h3M621 39h1M630 39h1M727 39h1M734 39h1M736 39h1M753 39h1M757 39h1M794 39h1M819 39h2M435 40h1M616 40h1M622 40h1M630 40h3M635 40h1M641 40h2M831 40h2M157 41h1M164 41h1M828 41h1M210 42h1M331 42h1M337 42h1M814 42h1M419 43h1M433 43h1M438 43h1M459 43h1M463 43h1M465 43h1M471 43h3M543 43h1M552 43h1M557 43h1M573 43h1M669 43h2M672 43h1M682 43h1M685 43h1M795 43h1M799 43h2M803 43h1M813 43h1M831 43h1M199 44h1M210 44h1M435 45h1M537 46h1M711 46h1M722 46h4M728 46h3M800 46h1M811 46h1M428 47h1M533 47h1M535 47h1M762 47h1M764 47h1M822 47h1M828 47h3M833 47h3M479 48h1M660 48h2M666 48h1M426 49h1M71 50h2M84 50h1M99 50h1M233 50h1M332 50h2M337 50h1M376 50h1M380 50h1M393 50h1M447 50h1M489 50h1M500 50h1M507 50h4M527 50h1M529 50h1M555 50h1M580 50h1M589 50h1M597 50h2M744 50h1M221 51h3M225 51h5M294 51h3M299 51h3M305 51h2M308 51h4M313 51h1M437 51h1M458 51h1M475 51h1M483 51h1M485 51h1M487 51h1M492 51h1M504 51h1M531 51h1M540 51h1M566 51h1M569 51h3M574 51h3M592 51h1M760 51h1M765 51h1M174 52h5M423 52h1M468 52h1M472 52h1M475 52h1M483 52h1M487 52h1M496 52h1M501 52h1M503 52h1M531 52h1M537 52h2M543 52h1M545 52h1M547 52h1M554 52h1M556 52h2M561 52h3M135 53h3M120 54h1M358 54h3M140 55h1M324 55h3M505 55h1M521 55h1M525 55h1M528 55h1M696 55h1M741 55h1M744 55h1M755 55h2M771 55h1M775 55h1M779 55h1M789 55h1M799 55h1M822 55h1M825 55h1M1 56h1M18 56h1M44 56h3M49 56h3M86 56h1M92 56h2M97 56h1M106 56h1M113 56h1M163 56h3M297 56h1M515 56h2M518 56h3M533 56h1M545 56h2M554 56h2M825 56h2M10 57h1M26 57h3M56 57h1M68 57h1M70 57h1M74 57h1M80 57h1M107 57h1M109 57h1M112 57h1M114 57h1M185 57h2M279 57h3M509 57h2M521 57h1M524 57h1M532 57h1M557 57h1M827 57h1M206 58h6M213 58h3M217 58h2M254 58h6M623 58h1M14 60h2M21 60h1M25 60h2M32 60h1M37 60h1M40 60h1M54 60h2M62 60h1M72 60h2M84 60h2M95 60h2M110 60h3M747 60h1M802 60h2M808 60h3M817 60h1M824 60h1M624 63h1M650 63h3M655 63h1M667 63h1M669 63h1M673 63h2M681 63h1M685 63h2M689 63h2M693 63h2M730 63h1M607 64h1M609 64h1M582 65h1M589 65h1M664 65h1M753 65h4M581 66h1M623 66h1M628 66h1M634 66h2M637 66h4M593 67h1M597 67h1M602 67h1M429 68h1M530 68h1M628 68h1M470 69h1M475 69h1M478 69h1M482 69h1M487 69h2M493 69h1M506 69h1M509 69h2M533 69h1M536 69h2M549 69h1M556 69h1M197 70h1M97 72h2M100 72h1M174 72h2M179 72h1M186 72h1M188 72h1M192 72h1M219 72h1M242 72h1M257 72h1M287 72h1M368 72h1M381 72h3M428 72h1M433 72h1M439 72h1M538 72h1M675 72h1M52 73h1M56 73h1M82 73h2M91 73h1M95 73h1M111 73h1M119 73h1M153 73h1M158 73h1M177 73h1M196 73h2M349 73h1M456 73h1M477 73h1M676 73h1M19 74h1M23 74h1M44 74h2M49 74h1M18 75h1M25 75h1M28 75h1M34 75h1M37 75h1M50 75h1M13 78h1M15 78h1M33 78h2M39 78h1M338 78h1M396 79h1M398 79h1M411 79h1M414 79h1M664 80h1M676 80h1M207 82h1M173 83h1M189 83h1M191 83h1M193 83h1M195 83h1M793 85h2M10 88h3M32 88h1M470 88h1M37 89h1M45 89h1M64 89h1M174 89h1M470 91h1M24 92h1M42 92h2M65 92h1M90 92h3M179 92h2M230 93h1M98 94h1M158 94h1M160 94h1M167 94h1M175 94h1M178 94h1M230 94h1M358 94h1M377 94h1M406 94h1M413 94h1M469 94h1M484 94h1M497 94h1M516 94h1M558 94h1M688 94h1M808 94h1M810 94h1M834 94h1M492 95h1M502 95h1M504 95h1M509 95h1M526 95h1M532 95h1M543 95h2M804 95h1M515 98h1M529 98h1M538 98h1M37 100h1M46 100h1M55 100h1M134 100h1M146 100h1M170 100h1M172 100h1M181 100h1M220 100h1M254 100h1M260 100h1M263 100h1M272 100h1M275 100h1M293 100h1M302 100h1M308 100h1M311 100h1M467 100h1M627 100h1M655 100h1M679 100h2M730 100h1M737 100h1M754 100h3M761 100h2M765 100h1M795 100h1M799 100h7M807 100h2M832 100h1M836 100h1M13 101h1M43 101h1M49 101h1M106 101h1M124 101h1M157 101h1M160 101h1M166 101h1M278 101h1M305 101h1M356 101h1M359 101h1M401 101h1M413 101h1M428 101h1M443 101h1M446 101h1M61 103h1M85 103h1M94 103h1M97 103h1M194 103h1M197 103h1M275 103h1M375 103h1M414 103h1M463 103h1M466 103h1M471 103h1M487 103h2M621 103h3M611 104h1M613 104h1M496 105h2M512 105h1M515 105h1M525 105h1M527 105h1M529 105h1M554 105h1M563 105h1M612 105h1"/>
<path stroke="#4200ff" d="M332 6h1M349 6h2M46 7h3M51 7h1M239 7h2M276 7h1M297 7h1M302 7h1M524 7h1M526 7h1M632 7h2M705 9h1M726 9h1M728 9h2M733 9h1M759 9h1M781 9h2M812 9h1M818 9h2M327 10h1M471 10h1M526 10h1M663 10h1M680 10h1M717 10h2M726 10h1M730 10h2M736 10h1M745 10h2M754 10h1M756 10h1M758 10h1M810 10h1M645 11h1M652 11h1M660 11h1M672 11h2M690 11h1M715 11h2M762 11h1M799 11h1M801 11h1M832 11h1M53 14h1M184 14h1M270 14h2M540 14h2M544 14h1M546 14h1M575 14h1M615 14h1M651 14h1M700 14h3M706 14h1M708 14h1M728 14h1M730 14h2M740 14h1M32 15h1M36 15h1M51 15h2M54 15h1M57 15h1M61 15h2M113 15h1M128 15h1M143 15h1M230 15h1M247 15h1M253 15h1M333 15h1M341 15h1M663 15h1M665 15h1M674 15h1M676 15h1M680 15h1M683 15h4M761 15h1M767 15h1M781 15h2M788 15h5M795 15h1M803 15h1M807 15h1M818 15h1M827 15h1M830 15h1M39 16h1M102 16h1M184 16h1M203 16h1M241 16h1M243 16h1M302 16h2M653 16h2M657 16h1M661 16h4M669 16h1M672 16h1M683 16h3M687 16h3M691 16h1M695 16h1M697 16h1M705 16h1M722 16h1M727 16h1M731 16h1M736 16h2M739 16h2M761 16h1M769 16h2M773 16h2M776 16h1M778 16h2M786 16h1M788 16h1M805 16h2M808 16h1M817 16h2M834 16h1M836 16h1M36 17h1M38 17h1M41 17h1M43 17h2M47 17h4M269 17h1M295 17h1M441 17h1M462 17h2M465 17h1M44 18h1M159 18h1M293 18h1M328 18h1M331 18h2M355 18h1M467 18h1M473 18h1M748 18h1M756 18h1M75 19h1M80 19h1M101 19h1M199 19h1M218 19h1M380 19h1M443 19h1M520 19h1M754 19h1M42 20h1M72 20h1M77 20h1M82 20h1M87 20h1M94 20h1M97 20h1M107 20h1M134 20h1M197 20h1M204 20h1M261 20h1M350 20h2M361 20h1M367 20h1M370 20h1M372 20h1M397 20h1M409 20h1M418 20h1M518 20h1M80 21h1M301 21h1M326 21h1M553 21h1M17 22h1M132 22h1M161 22h1M213 22h1M352 22h1M358 22h1M408 22h1M491 22h1M526 22h1M73 23h1M407 23h1M411 23h2M154 24h1M156 24h1M218 24h1M238 24h1M268 24h1M275 24h1M353 24h1M492 24h2M499 24h1M518 24h2M633 24h1M3 25h1M54 25h1M56 25h2M60 25h2M69 25h1M129 25h1M142 25h1M172 25h1M181 25h1M221 25h1M223 25h1M227 25h1M252 25h1M283 25h1M287 25h2M307 25h1M319 25h2M340 25h2M368 25h1M398 25h2M418 25h1M420 25h1M445 25h2M506 25h1M515 25h1M542 25h2M557 25h1M559 25h1M570 25h2M584 25h2M588 25h1M590 25h1M160 28h2M70 30h1M517 30h1M520 30h2M523 30h1M735 30h2M101 31h2M155 31h1M190 31h2M215 31h2M219 31h1M247 31h1M270 31h1M273 31h1M357 31h3M381 31h1M405 31h1M413 31h1M443 31h1M461 31h1M469 31h2M493 31h1M551 31h1M553 31h1M572 31h1M628 31h1M634 31h1M72 32h2M101 32h1M136 32h1M159 32h1M185 32h1M210 32h1M237 32h1M324 32h1M329 32h1M407 32h1M572 32h1M605 32h1M636 32h1M659 32h1M803 32h1M52 33h1M60 33h1M71 33h1M160 33h1M215 33h1M302 33h1M351 33h1M411 33h1M415 33h1M434 33h1M436 33h1M470 33h1M546 33h1M574 33h1M657 33h1M685 33h2M688 33h1M693 33h1M713 33h1M716 33h1M719 33h1M741 33h1M769 33h1M58 34h1M88 34h2M128 34h1M134 34h1M136 34h1M270 34h1M408 34h1M435 34h1M439 34h1M465 34h1M471 34h1M548 34h1M691 34h1M189 35h1M240 35h1M246 35h2M294 35h1M329 35h1M664 35h1M684 35h1M678 36h1M10 37h1M14 37h1M17 37h4M23 37h2M169 37h2M172 37h1M192 37h1M195 37h1M197 37h1M199 37h4M204 37h1M206 37h3M211 37h1M213 37h1M216 37h1M219 37h1M222 37h1M230 37h1M233 37h1M242 37h1M246 37h2M258 37h1M264 37h1M270 37h1M275 37h2M286 37h1M291 37h2M294 37h1M297 37h1M312 37h4M320 37h3M324 37h2M327 37h1M364 37h1M373 37h1M437 37h1M439 37h1M442 37h2M453 37h2M470 37h1M474 37h1M691 37h1M700 37h1M702 37h1M813 37h24M1 38h1M5 38h1M12 38h3M16 38h1M18 38h5M24 38h1M26 38h1M28 38h3M98 38h1M174 38h1M177 38h1M179 38h2M186 38h1M188 38h1M191 38h2M194 38h1M206 38h1M208 38h1M214 38h3M220 38h1M243 38h2M247 38h2M253 38h1M259 38h3M269 38h2M274 38h2M283 38h2M293 38h2M296 38h1M299 38h1M302 38h1M306 38h3M315 38h1M317 38h1M448 38h1M452 38h1M458 38h2M462 38h2M698 38h1M729 38h2M743 38h1M746 38h1M751 38h1M115 39h1M117 39h1M142 39h1M158 39h1M198 39h1M209 39h1M237 39h1M240 39h1M272 39h1M300 39h1M322 39h1M324 39h1M329 39h2M334 39h1M336 39h1M622 39h1M741 39h1M752 39h1M754 39h1M760 39h1M817 39h1M148 40h1M153 40h1M164 40h1M617 40h1M823 40h2M163 41h1M435 41h1M140 42h1M334 42h1M435 42h1M807 42h1M809 42h1M817 42h1M828 42h1M210 43h1M439 43h1M445 43h2M451 43h4M458 43h1M461 43h1M464 43h1M542 43h1M555 43h1M558 43h3M683 43h2M689 43h1M691 43h1M698 43h1M794 43h1M802 43h1M805 43h1M810 43h1M815 43h1M832 43h1M154 45h1M156 45h1M538 46h1M544 46h2M709 46h1M712 46h1M715 46h1M717 46h4M732 46h2M802 46h4M536 47h1M763 47h1M815 47h2M818 47h1M823 47h1M826 47h2M831 47h2M432 49h2M477 49h1M73 50h1M105 50h1M266 50h2M334 50h1M442 50h1M444 50h3M453 50h1M458 50h1M492 50h1M504 50h1M532 50h1M536 50h1M543 50h1M569 50h3M574 50h3M591 50h2M230 51h13M244 51h2M287 51h7M297 51h2M302 51h3M426 51h1M430 51h2M486 51h1M493 51h1M499 51h1M505 51h1M530 51h1M539 51h1M541 51h1M590 51h1M758 51h1M179 52h4M366 52h1M370 52h2M378 52h1M422 52h1M465 52h1M470 52h1M482 52h1M491 52h1M495 52h1M533 52h1M535 52h1M540 52h1M558 52h3M138 53h3M356 54h2M141 55h1M319 55h2M322 55h2M514 55h3M518 55h1M520 55h1M526 55h1M532 55h1M537 55h2M543 55h2M546 55h1M554 55h1M557 55h1M743 55h1M821 55h1M22 56h2M65 56h1M69 56h1M73 56h1M84 56h2M88 56h1M98 56h1M111 56h1M166 56h2M293 56h4M504 56h1M514 56h1M543 56h2M1 57h1M18 57h1M44 57h3M49 57h3M86 57h1M92 57h2M97 57h1M106 57h1M113 57h1M187 57h3M515 57h2M518 57h3M533 57h1M545 57h1M554 57h2M825 57h1M212 58h1M216 58h1M219 58h12M251 58h3M810 59h3M1 60h1M10 60h1M17 60h1M24 60h1M27 60h1M31 60h1M42 60h1M49 60h2M52 60h2M63 60h1M65 60h2M69 60h1M86 60h1M89 60h1M91 60h2M94 60h1M109 60h1M113 60h2M779 60h1M788 60h1M807 60h1M816 60h1M818 60h1M822 60h1M826 60h1M832 60h1M835 60h1M623 63h1M625 63h1M631 63h4M648 63h1M656 63h1M664 63h1M666 63h1M668 63h1M671 63h2M675 63h2M680 63h1M682 63h1M687 63h2M608 64h1M610 64h3M615 64h2M729 64h1M594 65h5M649 65h1M667 65h1M730 65h1M758 65h2M583 66h1M636 66h1M435 69h1M480 69h2M484 69h2M501 69h3M505 69h1M513 69h1M535 69h1M542 69h1M550 69h1M557 69h1M195 70h1M279 70h1M226 71h1M273 71h1M367 71h1M379 71h1M178 72h1M184 72h1M189 72h3M193 72h1M240 72h1M263 72h1M286 72h1M288 72h1M369 72h3M375 72h1M419 72h1M436 72h1M438 72h1M445 72h1M54 73h1M58 73h1M84 73h2M87 73h1M105 73h1M107 73h1M110 73h1M116 73h1M154 73h2M160 73h1M350 73h1M373 73h1M457 73h1M24 74h1M41 74h1M19 75h1M23 75h1M44 75h2M49 75h1M40 78h1M44 78h1M397 79h1M412 79h1M665 80h1M188 83h1M196 83h3M790 85h3M807 85h2M821 85h2M30 89h2M36 89h1M44 89h1M176 89h2M75 92h1M178 92h1M234 92h1M173 93h2M166 94h1M171 94h1M173 94h2M176 94h2M231 94h1M372 94h1M398 94h1M403 94h2M416 94h1M422 94h1M485 94h1M507 94h1M522 94h1M524 94h2M528 94h1M545 94h1M560 94h1M563 94h1M687 94h1M809 94h1M823 94h1M825 94h1M827 94h1M835 94h1M501 95h1M508 95h1M535 95h1M558 95h1M802 95h1M492 98h1M551 98h1M31 100h1M155 100h1M221 100h1M242 100h1M266 100h1M269 100h1M281 100h1M314 100h1M362 100h1M437 100h1M452 100h1M728 100h2M731 100h1M736 100h1M739 100h1M753 100h1M757 100h4M763 100h2M766 100h1M783 100h4M789 100h1M806 100h1M10 101h1M22 101h1M109 101h1M148 101h1M151 101h1M163 101h1M169 101h1M296 101h1M389 101h1M407 101h1M416 101h1M419 101h1M422 101h1M434 101h1M440 101h1M84 103h1M86 103h1M276 103h1M378 103h1M413 103h1M462 103h1M464 103h1M483 103h1M485 103h2M620 103h1M624 103h1M654 103h2M612 104h1M514 105h1M521 105h2M524 105h1M526 105h1M610 105h1"/>
<path stroke="#5b00ff" d="M53 6h1M45 7h1M303 7h1M727 9h1M735 9h2M757 9h2M326 10h1M328 10h1M412 10h1M499 10h1M524 10h1M727 10h1M733 10h3M737 10h1M747 10h1M489 11h1M523 11h1M663 11h1M671 11h1M685 11h2M718 11h1M745 11h2M761 11h1M763 11h3M796 11h1M800 11h1M802 11h2M824 11h4M246 14h1M273 14h1M414 14h1M493 14h1M545 14h1M642 14h1M646 14h1M663 14h1M665 14h1M684 14h3M703 14h3M709 14h1M726 14h2M803 14h1M820 14h2M827 14h1M830 14h1M56 15h1M58 15h3M236 15h1M270 15h2M322 15h1M338 15h1M370 15h1M417 15h1M653 15h3M666 15h1M669 15h1M672 15h1M681 15h2M760 15h1M765 15h1M768 15h3M783 15h1M785 15h2M804 15h1M829 15h1M834 15h1M836 15h1M45 16h2M186 16h1M298 16h1M321 16h1M658 16h1M665 16h2M668 16h1M682 16h1M690 16h1M692 16h1M694 16h1M729 16h2M735 16h1M738 16h1M741 16h4M763 16h3M767 16h2M782 16h4M789 16h6M801 16h2M804 16h1M807 16h1M835 16h1M39 17h1M442 17h1M554 17h1M51 18h1M103 18h1M184 18h1M189 18h2M271 18h1M295 18h1M301 18h1M352 18h1M379 18h1M461 18h1M469 18h1M472 18h1M475 18h1M490 18h1M553 18h1M18 19h1M24 19h1M273 19h1M521 19h1M546 19h1M548 19h1M579 19h1M607 19h1M629 19h1M631 19h1M753 19h1M17 20h1M19 20h1M78 20h1M86 20h1M89 20h1M112 20h1M140 20h1M154 20h1M160 20h1M162 20h2M207 20h1M243 20h1M290 20h1M301 20h1M346 20h1M373 20h1M406 20h1M416 20h1M477 20h1M634 20h1M741 20h1M72 21h1M157 21h1M195 21h1M410 21h1M517 21h1M520 21h2M609 21h2M637 21h1M22 22h1M155 22h1M163 22h1M214 22h1M270 22h1M414 22h1M473 22h1M497 22h1M98 23h2M274 23h1M739 23h1M134 24h1M163 24h1M350 24h1M490 24h1M638 24h1M742 24h1M744 24h1M2 25h1M4 25h1M34 25h1M58 25h2M82 25h1M86 25h1M94 25h1M112 25h2M117 25h3M124 25h2M128 25h1M137 25h1M141 25h1M143 25h1M150 25h2M157 25h1M160 25h1M170 25h2M173 25h3M178 25h1M180 25h1M194 25h4M202 25h1M226 25h1M228 25h1M236 25h3M253 25h4M277 25h1M280 25h3M285 25h1M291 25h1M306 25h1M309 25h1M313 25h2M318 25h1M345 25h3M361 25h2M369 25h1M397 25h1M400 25h2M417 25h1M421 25h1M428 25h1M444 25h1M448 25h1M450 25h1M453 25h1M458 25h2M472 25h1M476 25h2M487 25h1M501 25h1M509 25h3M513 25h1M516 25h1M521 25h1M536 25h1M540 25h2M558 25h1M560 25h1M566 25h1M569 25h1M589 25h1M620 25h1M629 25h1M649 25h2M157 28h3M162 28h1M323 28h1M15 30h2M22 30h1M75 31h1M79 31h1M107 31h1M130 31h1M134 31h3M182 31h1M186 31h2M210 31h1M217 31h1M237 31h1M268 31h1M274 31h1M323 31h1M328 31h1M407 31h2M412 31h1M439 31h1M467 31h1M489 31h1M498 31h1M518 31h1M522 31h2M554 31h2M600 31h1M605 31h1M48 32h1M131 32h1M133 32h1M135 32h1M182 32h1M186 32h1M213 32h1M215 32h1M245 32h1M247 32h1M266 32h1M274 32h1M323 32h1M385 32h1M434 32h1M467 32h1M472 32h1M493 32h1M498 32h1M524 32h1M553 32h1M603 32h1M628 32h1M631 32h1M729 32h1M748 32h1M830 32h3M834 32h1M17 33h1M75 33h1M158 33h1M162 33h1M193 33h1M214 33h1M244 33h1M268 33h1M275 33h1M410 33h1M490 33h1M494 33h1M633 33h1M684 33h1M687 33h1M712 33h1M726 33h1M107 34h1M127 34h1M238 34h1M266 34h1M269 34h1M467 34h1M324 35h1M673 35h1M679 35h1M0 37h4M6 37h4M11 37h3M15 37h2M22 37h1M25 37h1M27 37h1M31 37h1M86 37h2M155 37h1M185 37h1M187 37h1M189 37h3M194 37h1M198 37h1M203 37h1M205 37h1M210 37h1M214 37h2M217 37h1M220 37h2M223 37h3M228 37h2M234 37h1M240 37h2M245 37h1M265 37h1M267 37h2M284 37h1M293 37h1M298 37h1M316 37h1M326 37h1M436 37h1M438 37h1M444 37h1M459 37h2M463 37h1M468 37h2M690 37h1M692 37h8M703 37h5M810 37h3M0 38h1M4 38h1M15 38h1M97 38h1M99 38h1M111 38h1M175 38h2M181 38h2M199 38h4M204 38h2M207 38h1M210 38h1M212 38h2M221 38h2M230 38h2M234 38h1M238 38h1M245 38h2M254 38h1M262 38h2M271 38h1M273 38h1M276 38h2M279 38h3M297 38h2M300 38h1M446 38h2M450 38h2M455 38h2M460 38h2M464 38h1M468 38h3M731 38h2M120 39h1M159 39h1M166 39h1M226 39h2M229 39h1M236 39h1M239 39h1M241 39h1M325 39h1M335 39h1M701 39h2M728 39h1M743 39h1M746 39h1M751 39h1M818 39h1M163 40h1M443 40h1M618 40h1M829 40h2M836 40h1M162 41h1M124 42h1M139 42h1M437 42h1M806 42h1M818 42h1M140 43h1M430 43h1M447 43h2M460 43h1M553 43h1M556 43h1M561 43h1M690 43h1M696 43h2M814 43h1M829 43h2M155 45h1M539 46h2M546 46h1M704 46h1M708 46h1M710 46h1M713 46h2M716 46h1M796 46h1M806 46h1M808 46h1M810 46h1M543 47h1M766 47h2M817 47h1M824 47h2M433 48h1M672 48h1M816 48h2M427 49h1M481 49h1M338 50h1M396 50h2M434 50h2M441 50h1M443 50h1M481 50h1M493 50h1M499 50h1M505 50h1M530 50h1M533 50h1M535 50h1M545 50h2M590 50h1M243 51h1M246 51h2M254 51h4M259 51h1M261 51h1M263 51h3M270 51h17M425 51h1M474 51h1M476 51h2M548 51h1M183 52h2M362 52h1M365 52h1M367 52h3M372 52h6M466 52h2M476 52h1M484 52h1M497 52h1M502 52h1M534 52h1M539 52h1M541 52h1M544 52h1M141 53h1M370 53h2M378 53h1M121 54h1M354 54h2M142 55h2M318 55h1M321 55h1M509 55h1M512 55h2M527 55h1M533 55h1M536 55h1M556 55h1M730 55h1M72 56h1M95 56h1M168 56h3M289 56h4M527 56h2M22 57h1M65 57h1M69 57h1M73 57h1M84 57h2M88 57h1M98 57h1M111 57h1M190 57h4M270 57h5M276 57h3M504 57h1M514 57h1M543 57h2M546 57h1M826 57h1M231 58h20M812 58h1M9 60h1M16 60h1M22 60h2M28 60h2M33 60h1M36 60h1M41 60h1M51 60h1M64 60h1M67 60h1M70 60h2M76 60h1M78 60h1M88 60h1M93 60h1M115 60h1M780 60h1M821 60h1M833 60h2M836 60h1M630 63h1M635 63h1M638 63h2M642 63h3M657 63h1M663 63h1M665 63h1M677 63h1M679 63h1M683 63h2M649 64h1M664 64h1M667 64h1M599 65h1M650 65h4M663 65h1M665 65h2M668 65h1M673 65h1M691 65h2M718 65h1M744 65h7M752 65h1M757 65h1M582 66h1M584 66h2M618 66h1M620 66h1M595 67h2M600 67h1M531 68h1M419 69h2M422 69h2M425 69h1M433 69h1M437 69h1M439 69h4M449 69h1M451 69h1M461 69h1M465 69h1M467 69h1M474 69h1M483 69h1M504 69h1M507 69h2M511 69h1M532 69h1M534 69h1M538 69h3M196 70h1M367 70h1M379 70h1M283 71h1M368 71h5M375 71h4M176 72h2M180 72h2M194 72h1M243 72h1M262 72h1M351 72h2M372 72h1M420 72h2M424 72h4M429 72h1M434 72h1M446 72h3M453 72h1M463 72h1M49 73h3M77 73h1M86 73h1M92 73h1M99 73h1M115 73h1M156 73h1M161 73h1M466 73h3M675 73h1M20 74h1M24 75h1M41 75h1M12 78h1M19 78h2M37 78h1M41 78h1M43 78h1M48 78h1M337 78h1M413 79h1M415 79h1M192 83h1M199 83h4M205 83h2M822 84h1M758 85h1M764 85h1M820 85h1M2 88h1M32 89h2M35 89h1M43 89h1M65 89h1M225 89h2M228 89h1M230 89h3M234 89h2M471 89h1M471 90h1M473 90h1M76 92h1M175 92h3M225 92h1M227 92h1M232 92h2M235 92h1M161 94h1M172 94h1M359 94h1M373 94h1M375 94h1M492 94h1M498 94h3M503 94h1M508 94h2M515 94h1M523 94h1M526 94h1M532 94h1M535 94h1M543 94h1M567 94h1M569 94h1M571 94h2M811 94h1M829 94h1M534 95h1M801 95h1M803 95h1M813 95h1M548 98h1M13 100h1M43 100h1M49 100h1M106 100h1M124 100h1M160 100h1M278 100h1M305 100h1M356 100h1M401 100h1M428 100h1M695 100h1M723 100h2M727 100h1M735 100h1M774 100h1M782 100h1M787 100h2M790 100h1M794 100h1M818 100h1M823 100h2M826 100h4M831 100h1M7 101h1M19 101h1M25 101h1M28 101h1M115 101h1M136 101h1M139 101h1M142 101h1M398 101h1M58 103h1M60 103h1M376 103h1M610 104h1M500 105h1M534 105h1"/>
<path stroke="#7300ff" d="M52 7h1M332 7h1M349 7h2M754 9h2M662 10h1M728 10h2M664 11h1M674 11h1M703 11h6M717 11h1M740 11h1M760 11h1M781 11h1M788 11h2M798 11h1M804 11h2M831 11h1M245 14h1M272 14h1M653 14h1M666 14h1M677 14h3M804 14h1M818 14h2M834 14h1M53 15h1M184 15h1M200 15h1M231 15h1M246 15h1M652 15h1M657 15h1M659 15h2M662 15h1M668 15h1M670 15h1M735 15h1M738 15h3M759 15h1M766 15h1M784 15h1M787 15h1M197 16h1M651 16h2M667 16h1M670 16h2M693 16h1M732 16h2M745 16h2M749 16h3M759 16h2M762 16h1M766 16h1M780 16h2M787 16h1M795 16h2M803 16h1M45 17h2M202 17h1M304 17h1M321 17h1M329 17h1M464 17h1M466 17h1M468 17h1M246 18h3M272 18h1M356 18h1M358 18h1M477 18h1M757 18h1M22 19h1M25 19h1M47 19h2M76 19h1M103 19h1M132 19h1M157 19h2M214 19h1M301 19h1M328 19h1M353 19h1M357 19h1M384 19h1M467 19h1M494 19h1M497 19h1M517 19h1M551 19h1M601 19h2M630 19h1M632 19h1M637 19h1M747 19h1M752 19h1M15 20h1M83 20h1M85 20h1M93 20h1M113 20h1M115 20h1M139 20h1M188 20h1M208 20h1M232 20h1M257 20h1M262 20h1M289 20h1M327 20h1M353 20h1M362 20h2M387 20h3M410 20h1M467 20h1M17 21h1M19 21h1M154 21h1M162 21h1M210 21h1M272 21h1M296 21h1M304 21h1M324 21h1M328 21h1M383 21h2M406 21h1M442 21h1M494 21h1M551 21h1M554 21h1M20 22h2M44 22h1M73 22h1M135 22h1M158 22h1M380 22h1M100 23h1M438 23h1M351 24h1M438 24h1M517 24h1M548 24h1M550 24h1M639 24h1M749 24h1M5 25h1M9 25h2M13 25h1M33 25h1M38 25h1M40 25h2M62 25h1M66 25h3M85 25h1M87 25h2M92 25h2M95 25h1M97 25h1M114 25h1M120 25h1M122 25h2M132 25h1M140 25h1M144 25h1M149 25h1M152 25h2M158 25h1M166 25h1M169 25h1M176 25h2M179 25h1M198 25h4M203 25h1M224 25h2M231 25h1M233 25h3M249 25h3M257 25h1M278 25h2M284 25h1M289 25h2M315 25h3M342 25h3M367 25h1M374 25h1M376 25h1M402 25h3M406 25h1M430 25h1M447 25h1M452 25h1M457 25h1M460 25h1M473 25h1M475 25h1M478 25h1M480 25h1M483 25h1M488 25h1M502 25h4M514 25h1M520 25h1M525 25h1M532 25h1M535 25h1M537 25h1M562 25h3M580 25h1M586 25h1M599 25h1M613 25h2M621 25h2M156 28h1M193 28h1M322 28h1M22 29h1M739 29h1M14 30h1M23 30h2M131 30h1M133 30h2M164 30h1M524 30h1M22 31h1M47 31h1M106 31h1M158 31h1M162 31h1M185 31h1M213 31h1M240 31h1M245 31h2M322 31h1M329 31h1M350 31h2M384 31h2M433 31h1M462 31h1M633 31h1M796 31h1M74 32h1M99 32h1M127 32h1M130 32h1M132 32h1M161 32h1M267 32h1M384 32h1M416 32h1M462 32h1M470 32h1M522 32h1M551 32h1M660 32h1M730 32h1M749 32h1M775 32h1M796 32h1M802 32h1M824 32h2M48 33h1M349 33h1M386 33h1M406 33h1M438 33h1M440 33h1M545 33h1M575 33h1M604 33h1M692 33h1M694 33h1M714 33h2M717 33h2M740 33h1M50 34h1M91 34h1M135 34h1M186 34h1M295 34h1M300 34h1M700 34h3M813 34h24M187 35h1M190 35h1M323 35h1M683 35h1M687 35h1M688 36h1M4 37h2M21 37h1M26 37h1M30 37h1M89 37h2M99 37h1M105 37h2M124 37h1M129 37h1M149 37h4M154 37h1M167 37h1M186 37h1M188 37h1M209 37h1M239 37h1M259 37h1M261 37h1M263 37h1M266 37h1M269 37h1M440 37h2M445 37h2M448 37h1M450 37h3M455 37h2M458 37h1M461 37h2M471 37h3M708 37h33M802 37h8M92 38h4M100 38h1M102 38h1M104 38h4M109 38h2M124 38h1M144 38h1M155 38h1M198 38h1M203 38h1M209 38h1M211 38h1M226 38h2M232 38h2M235 38h1M242 38h1M278 38h1M282 38h1M323 38h1M327 38h2M436 38h2M442 38h1M449 38h1M457 38h1M465 38h1M467 38h1M471 38h1M474 38h1M733 38h1M740 38h1M744 38h1M114 39h1M118 39h2M223 39h1M326 39h1M729 39h1M836 39h1M150 40h1M148 41h1M138 42h1M431 42h1M207 43h1M449 43h2M455 43h1M554 43h1M807 43h1M809 43h1M833 43h1M211 44h1M435 44h1M542 46h1M731 46h1M797 46h1M799 46h1M807 46h1M537 47h2M544 47h2M812 47h3M426 48h1M811 48h1M428 49h1M431 49h1M478 49h1M816 49h1M74 50h1M433 50h1M436 50h3M440 50h1M475 50h1M478 50h1M483 50h3M487 50h2M531 50h1M534 50h1M537 50h2M540 50h1M542 50h1M544 50h1M547 50h1M759 50h2M765 50h1M248 51h6M258 51h1M260 51h1M262 51h1M266 51h4M427 51h3M482 51h1M494 51h1M572 51h2M767 51h1M185 52h3M189 52h1M359 52h3M363 52h2M473 52h1M479 52h1M486 52h1M542 52h1M142 53h3M366 53h4M372 53h6M349 54h5M144 55h1M312 55h1M314 55h4M539 55h4M547 55h1M549 55h1M553 55h1M776 55h1M171 56h1M287 56h2M23 57h1M72 57h1M95 57h1M194 57h1M267 57h3M275 57h1M527 57h2M30 60h1M35 60h1M77 60h1M87 60h1M695 60h1M829 60h1M831 60h1M627 63h1M629 63h1M637 63h1M640 63h2M645 63h3M659 63h2M662 63h1M613 64h2M650 64h2M653 64h1M666 64h1M692 64h1M718 64h1M744 64h1M600 65h2M669 65h2M674 65h1M676 65h2M685 65h1M717 65h1M751 65h1M588 66h1M590 66h3M616 66h2M619 66h1M594 67h1M598 67h2M426 69h1M434 69h1M436 69h1M438 69h1M443 69h2M448 69h1M450 69h1M452 69h1M458 69h1M460 69h1M462 69h3M466 69h1M468 69h2M473 69h1M512 69h1M541 69h1M551 69h1M203 71h1M220 71h6M274 71h9M374 71h1M254 72h1M258 72h4M374 72h1M452 72h1M455 72h1M461 72h2M475 72h1M482 72h2M534 72h1M48 73h1M57 73h1M93 73h2M96 73h1M102 73h2M108 73h1M113 73h1M157 73h1M469 73h1M20 75h1M42 78h1M203 83h2M758 84h1M792 84h1M746 85h1M763 85h1M765 85h1M773 85h2M809 85h1M221 89h1M224 89h1M227 89h1M229 89h1M233 89h1M77 92h1M174 92h1M224 92h1M226 92h1M228 92h1M378 94h1M501 94h2M504 94h1M533 94h2M544 94h1M568 94h1M573 94h1M820 94h1M822 94h1M824 94h1M830 94h1M836 94h1M515 95h1M799 95h1M805 95h1M815 95h1M817 95h1M828 95h1M109 100h1M151 100h1M157 100h1M163 100h1M166 100h1M169 100h1M359 100h1M389 100h1M407 100h1M413 100h1M419 100h1M422 100h1M434 100h1M443 100h1M446 100h1M696 100h1M725 100h1M732 100h1M740 100h1M775 100h1M781 100h1M791 100h3M822 100h1M825 100h1M830 100h1M4 101h1M16 101h1M34 101h1M40 101h1M112 101h1M127 101h1M145 101h1M154 101h1M365 101h1M368 101h1M374 101h1M380 101h1M386 101h1M392 101h1M395 101h1M404 101h1M431 101h1M377 103h1"/>
<path stroke="#8b02fd" d="M737 9h1M756 9h1M489 10h1M523 10h1M681 10h1M661 11h1M670 11h1M675 11h2M699 11h1M701 11h2M709 11h1M721 11h1M741 11h2M747 11h1M750 11h1M759 11h1M782 11h2M787 11h1M790 11h1M797 11h1M806 11h1M818 11h3M274 14h1M276 14h1M657 14h1M659 14h1M673 14h4M680 14h2M750 14h1M760 14h1M769 14h2M793 14h1M809 14h3M816 14h2M829 14h1M273 15h1M278 15h2M414 15h1M658 15h1M661 15h1M667 15h1M671 15h1M736 15h1M751 15h3M763 15h2M835 15h1M196 16h1M198 16h1M734 16h1M752 16h2M797 16h1M799 16h2M183 17h2M188 17h1M330 17h1M43 18h1M50 18h1M95 18h1M104 18h1M217 18h1M244 18h1M268 18h1M324 18h1M382 18h1M385 18h1M415 18h1M463 18h1M492 18h2M555 18h1M16 19h1M53 19h1M135 19h1M159 19h1M213 19h1M246 19h1M378 19h1M519 19h1M547 19h1M575 19h1M606 19h1M635 19h1M748 19h1M74 20h1M80 20h1M84 20h1M92 20h1M114 20h1M206 20h1M328 20h1M392 20h2M414 20h1M520 20h1M545 20h1M608 20h1M15 21h1M136 21h1M163 21h1M268 21h1M299 21h1M321 21h1M356 21h2M382 21h1M441 21h1M463 21h1M465 21h1M519 21h1M549 21h1M603 21h1M611 21h1M631 21h1M24 22h2M98 22h1M211 22h1M492 22h1M754 22h1M743 23h1M188 24h1M386 24h1M580 24h1M637 24h1M746 24h1M0 25h2M6 25h3M11 25h2M26 25h4M31 25h2M37 25h1M39 25h1M63 25h3M83 25h2M89 25h1M96 25h1M110 25h2M115 25h2M121 25h1M126 25h1M138 25h2M146 25h3M167 25h1M204 25h1M206 25h2M209 25h1M214 25h1M219 25h2M230 25h1M232 25h1M258 25h7M269 25h3M298 25h1M310 25h1M334 25h2M337 25h3M348 25h1M363 25h1M370 25h2M375 25h1M380 25h1M389 25h3M395 25h1M410 25h1M414 25h1M422 25h1M426 25h2M429 25h1M431 25h2M438 25h1M451 25h1M454 25h3M474 25h1M479 25h1M481 25h2M484 25h3M500 25h1M522 25h1M533 25h2M539 25h1M548 25h1M550 25h1M561 25h1M565 25h1M587 25h1M591 25h2M594 25h3M598 25h1M612 25h1M615 25h2M618 25h2M623 25h5M633 25h1M638 25h1M640 25h1M642 25h2M648 25h1M324 28h1M162 29h1M322 29h1M18 30h3M135 30h2M163 30h1M165 30h1M527 30h1M71 31h1M73 31h1M214 31h1M218 31h1M239 31h1M243 31h1M321 31h1M383 31h1M406 31h1M411 31h1M416 31h1M435 31h2M438 31h1M464 31h1M495 31h1M517 31h1M549 31h2M629 31h1M636 31h1M667 31h1M733 31h2M775 31h1M797 31h1M803 31h1M834 31h1M15 32h1M19 32h1M22 32h1M43 32h1M46 32h1M79 32h1M134 32h1M268 32h1M440 32h1M468 32h1M490 32h1M517 32h1M629 32h1M634 32h1M637 32h1M658 32h1M747 32h1M750 32h1M774 32h1M797 32h3M827 32h3M833 32h1M99 33h1M105 33h2M184 33h1M186 33h1M266 33h1M301 33h1M324 33h1M329 33h1M350 33h1M382 33h1M437 33h1M464 33h1M467 33h1M489 33h1M573 33h1M602 33h1M695 33h1M728 33h1M730 33h1M732 33h1M90 34h1M267 34h1M296 34h1M329 34h1M468 34h1M692 34h8M811 34h2M326 35h1M330 35h1M669 35h1M678 35h1M701 36h1M28 37h2M88 37h1M92 37h4M97 37h2M100 37h1M104 37h1M107 37h1M109 37h1M111 37h1M122 37h2M126 37h1M128 37h1M130 37h1M143 37h1M146 37h1M148 37h1M153 37h1M156 37h1M238 37h1M260 37h1M262 37h1M328 37h1M330 37h2M447 37h1M464 37h2M467 37h1M741 37h61M91 38h1M101 38h1M103 38h1M108 38h1M112 38h2M122 38h2M126 38h1M143 38h1M146 38h1M149 38h4M154 38h1M223 38h1M229 38h1M237 38h1M239 38h3M272 38h1M321 38h1M324 38h1M330 38h5M439 38h1M441 38h1M443 38h3M466 38h1M472 38h2M745 38h1M162 39h1M167 39h1M440 39h1M730 39h1M155 40h1M823 41h1M117 42h1M123 42h1M139 43h1M153 43h2M201 43h1M456 43h2M806 43h1M834 43h1M156 44h1M541 46h1M548 46h1M795 46h1M539 47h2M546 47h1M805 47h4M811 47h1M432 48h1M810 48h1M429 49h2M480 49h1M811 49h1M817 49h1M419 50h1M421 50h2M439 50h1M474 50h1M476 50h2M479 50h2M482 50h1M486 50h1M494 50h1M539 50h1M541 50h1M572 50h2M758 50h1M495 51h2M764 51h1M766 51h1M188 52h1M190 52h2M344 52h1M346 52h6M353 52h3M358 52h1M471 52h1M478 52h1M485 52h1M548 52h1M555 52h1M145 53h4M365 53h1M122 54h1M342 54h7M145 55h4M310 55h2M313 55h1M504 55h1M517 55h1M534 55h2M550 55h1M552 55h1M555 55h1M778 55h1M172 56h1M286 56h1M195 57h3M264 57h3M810 58h1M34 60h1M825 60h1M830 60h1M626 63h1M628 63h1M636 63h1M658 63h1M661 63h1M678 63h1M617 64h2M621 64h1M652 64h1M663 64h1M665 64h1M668 64h2M673 64h1M691 64h1M717 64h1M616 65h1M641 65h4M648 65h1M654 65h1M656 65h2M660 65h1M671 65h2M679 65h3M684 65h1M686 65h1M690 65h1M693 65h1M586 66h2M615 66h1M424 69h1M430 69h1M432 69h1M453 69h1M455 69h1M459 69h1M471 69h1M476 69h1M530 69h1M244 71h10M373 71h1M349 72h1M423 72h1M449 72h1M451 72h1M454 72h1M458 72h1M460 72h1M97 73h2M101 73h1M114 73h1M118 73h1M534 73h1M208 82h1M207 83h1M765 84h1M773 84h1M807 84h1M820 84h1M775 85h1M222 89h2M474 89h1M474 91h1M173 92h1M221 92h3M231 92h1M562 94h1M826 94h1M800 95h1M806 95h2M814 95h1M816 95h1M818 95h2M831 95h3M534 98h1M10 100h1M19 100h1M22 100h1M115 100h1M139 100h1M142 100h1M148 100h1M296 100h1M416 100h1M440 100h1M704 100h1M711 100h3M719 100h4M726 100h1M734 100h1M741 100h1M745 100h1M752 100h1M767 100h1M773 100h1M779 100h2M819 100h1M118 101h1M121 101h1M130 101h1M133 101h1M371 101h1M377 101h1M410 101h1M425 101h1M87 103h1"/>
<path stroke="#a312ed" d="M53 7h1M656 10h2M662 11h1M677 11h1M684 11h1M698 11h1M700 11h1M722 11h1M737 11h1M743 11h2M748 11h2M758 11h1M784 11h3M791 11h3M817 11h1M821 11h1M660 14h1M662 14h1M735 14h1M761 14h1M781 14h1M791 14h2M812 14h4M245 15h1M272 15h1M737 15h1M745 15h1M749 15h2M754 15h4M762 15h1M185 16h1M294 16h1M299 16h1M754 16h5M798 16h1M102 17h1M186 17h1M243 17h1M303 17h1M182 18h1M191 18h1M210 18h2M245 18h1M269 18h1M549 18h1M52 19h1M79 19h1M104 19h1M243 19h1M267 19h1M270 19h1M274 19h1M415 19h1M438 19h1M469 19h2M474 19h1M491 19h1M553 19h1M636 19h1M108 20h1M136 20h1M155 20h1M161 20h1M164 20h1M217 20h1M258 20h1M269 20h1M294 20h1M298 20h1M364 20h1M380 20h1M390 20h1M417 20h1M494 20h1M517 20h1M521 20h1M525 20h2M551 20h1M553 20h1M555 20h1M631 20h1M637 20h1M746 20h1M755 20h1M22 21h1M25 21h1M78 21h1M132 21h1M213 21h1M271 21h1M354 21h1M378 21h1M414 21h1M461 21h1M476 21h1M491 21h1M493 21h1M550 21h1M608 21h1M629 21h1M750 21h1M43 22h1M48 22h1M100 22h1M164 22h1M267 22h1M379 22h1M411 22h2M241 23h1M272 24h1M298 24h1M382 24h1M740 24h1M745 24h1M750 24h1M30 25h1M35 25h2M91 25h1M145 25h1M168 25h1M186 25h1M205 25h1M210 25h1M229 25h1M305 25h1M311 25h1M333 25h1M366 25h1M372 25h2M388 25h1M392 25h1M394 25h1M396 25h1M405 25h1M408 25h1M411 25h1M413 25h1M423 25h2M527 25h1M529 25h1M538 25h1M597 25h1M617 25h1M641 25h1M644 25h1M647 25h1M353 28h1M18 29h3M23 29h1M156 29h1M25 30h1M109 30h1M130 30h1M137 30h1M525 30h2M738 30h1M105 31h1M161 31h1M193 31h1M241 31h2M269 31h1M300 31h1M302 31h1M386 31h1M410 31h1M466 31h1M497 31h1M579 31h1M604 31h1M608 31h1M631 31h1M659 31h1M662 31h1M685 31h2M768 31h2M774 31h1M777 31h1M799 31h1M801 31h2M825 31h1M832 31h2M16 32h1M18 32h1M71 32h1M75 32h1M100 32h1M106 32h1M155 32h1M160 32h1M189 32h1M193 32h1M211 32h2M214 32h1M302 32h1M326 32h1M349 32h1M351 32h1M357 32h1M379 32h1M383 32h1M436 32h1M496 32h2M518 32h1M523 32h1M607 32h2M630 32h1M661 32h2M664 32h2M777 32h1M801 32h1M804 32h1M826 32h1M46 33h1M51 33h1M183 33h1M238 33h1M246 33h2M323 33h1M409 33h1M463 33h1M549 33h2M690 33h2M734 33h1M736 33h1M239 34h1M246 34h2M294 34h1M324 34h1M703 34h29M806 34h5M327 35h1M701 35h1M102 37h1M108 37h1M110 37h1M112 37h2M125 37h1M127 37h1M131 37h1M133 37h1M137 37h2M140 37h3M144 37h2M157 37h2M161 37h4M166 37h1M168 37h1M235 37h1M329 37h1M332 37h2M449 37h1M457 37h1M466 37h1M96 38h1M125 38h1M127 38h1M129 38h5M135 38h2M138 38h2M145 38h1M148 38h1M153 38h1M156 38h1M161 38h1M164 38h2M168 38h1M236 38h1M322 38h1M325 38h1M329 38h1M335 38h1M155 39h1M731 39h2M740 39h1M744 39h1M149 40h1M160 41h1M432 41h1M440 41h1M824 41h1M150 42h1M152 42h1M823 42h1M138 43h1M211 43h1M437 43h1M436 44h1M547 46h1M542 47h1M548 47h1M794 47h4M799 47h6M809 47h2M427 48h1M479 49h1M810 49h1M420 50h1M423 50h1M432 50h1M495 50h2M548 50h1M764 50h1M766 50h2M761 51h3M192 52h4M197 52h2M336 52h1M342 52h2M345 52h1M352 52h1M356 52h2M474 52h1M477 52h1M149 53h2M361 53h4M341 54h1M149 55h1M306 55h4M551 55h1M777 55h1M173 56h2M282 56h4M198 57h2M263 57h1M811 58h1M619 64h2M622 64h1M657 64h1M670 64h1M674 64h1M676 64h2M679 64h1M681 64h1M685 64h1M730 64h1M602 65h3M612 65h1M615 65h1M621 65h1M638 65h3M645 65h2M658 65h2M661 65h2M675 65h1M678 65h1M682 65h2M687 65h1M689 65h1M694 65h1M589 66h1M593 66h1M597 66h1M609 66h2M612 66h1M431 69h1M445 69h1M447 69h1M454 69h1M457 69h1M531 69h1M368 70h11M195 71h8M350 72h1M373 72h1M450 72h1M459 72h1M464 72h2M471 72h2M478 72h1M100 73h1M791 84h1M730 85h1M759 85h2M470 89h1M229 92h2M561 94h1M808 95h1M810 95h1M812 95h1M827 95h1M834 95h2M7 100h1M16 100h1M25 100h1M28 100h1M34 100h1M40 100h1M112 100h1M136 100h1M368 100h1M380 100h1M395 100h1M398 100h1M697 100h1M703 100h1M705 100h2M710 100h1M714 100h2M718 100h1M733 100h1M742 100h3M746 100h1M768 100h3M772 100h1M776 100h3M820 100h2M1 101h1M383 101h1M59 103h1"/>
<path stroke="#bb21de" d="M658 10h2M665 11h1M678 11h2M734 11h3M754 11h1M757 11h1M815 11h2M652 14h1M661 14h1M667 14h1M672 14h1M745 14h1M749 14h1M759 14h1M762 14h2M765 14h1M782 14h1M790 14h1M744 15h1M748 15h1M758 15h1M187 16h1M242 16h1M322 16h1M100 17h1M241 17h1M298 17h1M302 17h1M323 17h1M96 18h1M99 18h2M105 18h1M192 18h1M243 18h1M304 18h1M321 18h1M383 18h1M440 18h1M462 18h1M465 18h1M550 18h1M552 18h1M23 19h1M44 19h1M217 19h1M247 19h1M271 19h2M324 19h1M354 19h1M439 19h1M461 19h1M463 19h1M555 19h1M581 19h1M603 19h1M755 19h1M24 20h1M98 20h1M132 20h1M157 20h2M205 20h1M210 20h1M213 20h1M268 20h1M272 20h1M304 20h1M321 20h1M324 20h1M357 20h1M366 20h1M386 20h1M396 20h1M463 20h1M629 20h1M744 20h1M749 20h1M754 20h1M76 21h1M79 21h1M155 21h1M161 21h1M187 21h1M247 21h1M270 21h1M294 21h1M352 21h1M380 21h1M490 21h1M525 21h2M545 21h1M576 21h1M18 22h1M23 22h1M47 22h1M99 22h1M184 22h2M241 22h1M274 22h1M740 22h1M322 23h1M349 24h1M359 24h1M494 24h1M631 24h2M634 24h1M90 25h1M162 25h1M208 25h1M212 25h2M276 25h1M312 25h1M322 25h1M336 25h1M356 25h1M364 25h1M377 25h1M393 25h1M409 25h1M412 25h1M425 25h1M489 25h1M496 25h3M526 25h1M528 25h1M530 25h2M572 25h1M579 25h1M581 25h1M593 25h1M639 25h1M645 25h2M105 28h1M325 28h1M352 28h1M15 29h3M21 29h1M24 29h2M193 29h1M746 29h1M21 30h1M81 30h1M128 30h2M162 30h1M193 30h1M489 30h1M491 30h1M737 30h1M18 31h1M43 31h1M52 31h1M74 31h1M275 31h1M296 31h1M465 31h1M494 31h1M546 31h1M578 31h1M602 31h1M630 31h1M656 31h1M660 31h2M663 31h4M684 31h1M687 31h3M712 31h1M719 31h1M770 31h1M772 31h1M778 31h1M798 31h1M824 31h1M826 31h2M52 32h1M105 32h1M162 32h1M246 32h1M275 32h1M327 32h1M386 32h1M410 32h2M435 32h1M464 32h1M489 32h1M606 32h1M656 32h1M663 32h1M666 32h2M732 32h1M743 32h4M772 32h1M778 32h1M800 32h1M805 32h1M192 33h1M267 33h1M357 33h1M381 33h1M433 33h1M465 33h1M468 33h1M547 33h1M738 33h1M47 34h1M189 34h1M323 34h1M466 34h1M732 34h14M796 34h10M91 37h1M96 37h1M101 37h1M103 37h1M121 37h1M132 37h1M134 37h3M139 37h1M147 37h1M159 37h2M165 37h1M236 37h2M334 37h2M115 38h3M121 38h1M128 38h1M134 38h1M137 38h1M140 38h3M147 38h1M157 38h2M160 38h1M162 38h1M326 38h1M440 38h1M733 39h1M745 39h1M162 40h1M440 40h1M151 42h1M432 42h1M824 42h1M117 43h1M124 43h1M150 43h1M159 43h1M206 43h1M835 43h1M207 44h1M794 46h1M809 46h1M541 47h1M547 47h1M428 48h1M431 48h1M424 50h1M761 50h3M196 52h1M199 52h4M314 52h1M316 52h4M324 52h4M335 52h1M337 52h1M339 52h3M151 53h4M156 53h1M358 53h3M329 54h1M335 54h6M150 55h1M302 55h4M175 56h1M281 56h1M200 57h2M260 57h3M639 64h1M641 64h4M648 64h1M654 64h1M656 64h1M660 64h1M662 64h1M671 64h2M675 64h1M680 64h1M682 64h1M684 64h1M686 64h1M690 64h1M693 64h1M759 64h1M605 65h3M611 65h1M622 65h1M625 65h1M647 65h1M655 65h1M688 65h1M601 66h1M606 66h3M611 66h1M613 66h2M427 69h1M446 69h1M456 69h1M472 69h1M477 69h1M226 72h1M273 72h1M422 72h1M470 72h1M473 72h2M479 72h2M117 73h1M730 84h1M746 84h1M821 84h1M470 90h1M809 95h1M811 95h1M823 95h3M829 95h2M4 100h1M127 100h1M145 100h1M154 100h1M365 100h1M374 100h1M386 100h1M392 100h1M404 100h1M431 100h1M698 100h1M700 100h3M707 100h3M716 100h2M747 100h1M751 100h1M771 100h1"/>
<path stroke="#d331ce" d="M660 10h1M712 10h2M666 11h2M680 11h2M726 11h2M731 11h3M755 11h2M811 11h4M275 14h1M658 14h1M671 14h1M736 14h2M744 14h1M748 14h1M757 14h2M764 14h1M783 14h7M202 15h1M274 15h1M276 15h1M101 17h1M98 18h1M186 18h1M193 18h1M329 18h1M441 18h2M95 19h2M248 19h1M268 19h2M295 19h1M321 19h1M352 19h1M356 19h1M358 19h1M413 19h1M492 19h2M576 19h1M580 19h1M582 19h1M605 19h1M22 20h1M73 20h1M76 20h1M99 20h1M103 20h1M111 20h1M270 20h2M378 20h1M384 20h1M412 20h1M461 20h1M491 20h1M493 20h1M519 20h1M546 20h1M578 20h1M44 21h1M74 21h1M98 21h1M101 21h2M158 21h2M185 21h1M194 21h1M248 21h1M303 21h1M358 21h1M462 21h1M466 21h1M552 21h1M601 21h2M630 21h1M14 22h1M16 22h1M19 22h1M52 22h1M322 22h1M407 22h1M413 22h1M438 22h1M295 23h1M298 23h1M322 24h1M572 24h1M581 24h1M628 24h1M636 24h1M741 24h1M130 25h2M136 25h1M155 25h1M159 25h1M164 25h1M189 25h1M192 25h1M247 25h1M273 25h2M302 25h1M358 25h1M360 25h1M365 25h1M378 25h2M381 25h1M383 25h1M416 25h1M433 25h1M439 25h2M523 25h1M574 25h1M637 25h1M161 29h1M745 29h1M108 30h1M127 30h1M154 30h1M388 30h1M628 30h2M635 30h1M662 30h2M160 31h1M211 31h2M244 31h1M295 31h1M379 31h1M382 31h1M548 31h1M573 31h2M607 31h1M609 31h1M637 31h1M658 31h1M713 31h1M720 31h1M722 31h1M736 31h1M742 31h1M747 31h2M771 31h1M773 31h1M776 31h1M800 31h1M831 31h1M17 32h1M190 32h1M238 32h1M244 32h1M350 32h1M352 32h1M381 32h1M406 32h1M438 32h1M494 32h1M546 32h2M578 32h2M609 32h1M633 32h1M689 32h1M720 32h3M734 32h1M742 32h1M768 32h1M771 32h1M773 32h1M776 32h1M806 32h1M101 33h1M295 33h2M300 33h1M435 33h1M439 33h1M471 33h1M548 33h1M552 33h1M240 34h1M746 34h50M688 35h1M116 37h5M114 38h1M118 38h1M120 38h1M159 38h1M163 38h1M166 38h1M436 39h1M438 40h1M150 41h1M155 41h1M123 43h1M200 43h1M432 43h1M154 44h1M201 44h1M429 48h2M431 50h1M203 52h3M304 52h2M307 52h1M311 52h3M315 52h1M320 52h1M322 52h2M328 52h7M338 52h1M155 53h1M157 53h1M347 53h1M354 53h2M357 53h1M123 54h6M324 54h5M330 54h5M151 55h1M298 55h4M176 56h4M202 57h2M256 57h4M625 64h1M638 64h1M640 64h1M645 64h3M658 64h2M661 64h1M678 64h1M683 64h1M687 64h1M689 64h1M694 64h1M745 64h14M609 65h2M617 65h4M627 65h1M632 65h4M637 65h1M594 66h3M598 66h1M602 66h4M428 69h1M283 72h1M456 72h1M476 72h2M481 72h1M112 73h1M208 83h1M760 84h1M763 84h1M794 84h1M821 94h1M820 95h1M822 95h1M826 95h1M836 95h1M118 100h1M121 100h1M130 100h1M133 100h1M371 100h1M377 100h1M410 100h1M425 100h1M699 100h1M748 100h1M750 100h1"/>
<path stroke="#eb40bf" d="M661 10h1M664 10h1M692 10h3M714 10h1M728 11h3M810 11h1M670 14h1M754 14h1M756 14h1M277 15h1M294 17h1M183 18h1M199 18h1M330 18h1M464 18h1M466 18h1M554 18h1M51 19h1M98 19h2M198 19h1M210 19h2M244 19h1M294 19h1M304 19h1M355 19h1M379 19h1M385 19h1M475 19h1M490 19h1M604 19h1M25 20h1M79 20h1M104 20h1M106 20h1M109 20h1M185 20h1M196 20h1M241 20h1M246 20h3M352 20h1M354 20h1M356 20h1M383 20h1M442 20h1M465 20h1M549 20h1M601 20h3M607 20h1M630 20h1M632 20h1M24 21h1M73 21h1M105 21h1M107 21h1M164 21h1M186 21h1M267 21h1M298 21h1M355 21h1M379 21h1M385 21h1M412 21h1M415 21h1M439 21h1M464 21h1M581 21h1M15 22h1M45 22h1M49 22h1M475 22h1M43 23h1M47 23h1M302 23h1M327 23h1M189 24h1M192 24h1M247 24h1M302 24h1M433 24h1M439 24h2M495 24h1M579 24h1M630 24h1M133 25h1M161 25h1M165 25h1M185 25h1M211 25h1M300 25h1M321 25h1M323 25h1M352 25h1M354 25h2M357 25h1M387 25h1M407 25h1M415 25h1M471 25h1M491 25h1M524 25h1M582 25h2M600 25h1M604 25h1M631 25h2M634 25h1M106 28h1M326 28h3M385 28h3M14 29h1M323 29h1M662 29h2M718 29h1M80 30h1M155 30h7M210 30h1M265 30h1M438 30h1M492 30h1M630 30h1M634 30h1M636 30h1M15 31h2M19 31h1M23 31h1M238 31h1M352 31h1M409 31h1M471 31h1M496 31h1M545 31h1M552 31h1M575 31h1M601 31h1M721 31h1M740 31h2M749 31h2M804 31h1M828 31h1M830 31h1M23 32h1M44 32h1M158 32h1M187 32h1M240 32h1M296 32h1M300 32h2M382 32h1M409 32h1M415 32h1M433 32h1M439 32h1M465 32h1M548 32h3M574 32h1M601 32h1M657 32h1M685 32h2M688 32h1M693 32h1M713 32h1M716 32h1M719 32h1M736 32h1M741 32h1M769 32h2M189 33h1M294 33h1M326 33h1M727 33h1M187 34h1M190 34h1M326 34h1M114 37h2M119 38h1M161 41h1M431 43h1M435 43h1M836 43h1M425 50h2M430 50h1M206 52h14M274 52h2M281 52h2M284 52h1M293 52h3M299 52h3M303 52h1M306 52h1M308 52h3M321 52h1M158 53h2M344 53h3M348 53h6M356 53h1M129 54h3M319 54h2M323 54h1M152 55h3M156 55h1M293 55h5M548 55h1M180 56h2M204 57h2M252 57h4M655 64h1M688 64h1M608 65h1M613 65h2M626 65h1M628 65h4M599 66h2M429 69h1M220 72h6M457 72h1M467 72h1M775 84h1M789 84h1M809 84h1M474 90h1M821 95h1M1 100h1M383 100h1M749 100h1"/>
<path stroke="#ff4fb0" d="M665 10h3M688 10h4M695 10h1M715 10h1M769 10h2M774 10h1M809 11h1M755 14h1M185 17h1M201 17h1M294 18h1M302 18h2M468 18h1M476 18h1M100 19h1M245 19h1M382 19h1M462 19h1M465 19h1M549 19h1M18 20h1M44 20h1M53 20h1M91 20h1M159 20h1M187 20h1M267 20h1M299 20h1M303 20h1M358 20h1M379 20h1M382 20h1M385 20h1M415 20h1M440 20h1M476 20h1M552 20h1M554 20h1M742 20h1M99 21h1M103 21h2M241 21h1M244 21h1M246 21h1M302 21h1M327 21h1M329 21h1M578 21h1M582 21h1M604 21h1M607 21h1M632 21h1M741 21h1M53 22h1M741 22h1M190 23h1M742 23h1M187 24h1M300 24h1M321 24h1M323 24h1M384 24h2M471 24h1M574 24h1M582 24h2M600 24h1M135 25h1M154 25h1M156 25h1M182 25h1M191 25h1M218 25h1M244 25h1M268 25h1M275 25h1M299 25h1M329 25h1M353 25h1M469 25h1M492 25h2M499 25h1M518 25h2M578 25h1M605 25h1M609 25h2M628 25h1M636 25h1M46 28h2M358 28h2M379 28h1M384 28h1M157 29h1M387 29h1M717 29h1M46 30h1M49 30h1M107 30h1M211 30h1M268 30h1M302 30h2M349 30h1M385 30h3M637 30h1M639 30h1M717 30h1M294 31h1M415 31h1M547 31h1M577 31h1M657 31h1M714 31h1M716 31h1M738 31h1M743 31h2M805 31h2M184 32h1M294 32h2M437 32h1M545 32h1M575 32h1M577 32h1M604 32h1M684 32h1M687 32h1M712 32h1M731 32h1M738 32h1M740 32h1M100 33h1M190 33h1M327 33h1M327 34h1M164 39h1M442 39h1M157 40h1M149 41h1M438 41h1M829 41h8M159 42h1M155 44h1M206 44h1M427 50h3M220 52h2M223 52h8M234 52h2M272 52h2M276 52h5M283 52h1M285 52h6M292 52h1M296 52h3M302 52h1M160 53h2M342 53h2M132 54h3M312 54h1M318 54h1M321 54h2M155 55h1M157 55h1M159 55h1M290 55h3M182 56h1M271 56h1M206 57h6M218 57h4M226 57h2M229 57h4M243 57h2M250 57h2M627 64h1M632 64h1M634 64h2M637 64h1M636 65h1M203 72h1M274 72h9M466 72h1M468 72h1M759 84h1M764 84h1M793 84h1M808 84h1"/>
<path stroke="#ff5fa0" d="M686 10h2M716 10h1M768 10h1M773 10h1M775 10h2M201 15h1M199 16h1M196 17h1M299 17h1M322 17h1M50 19h1M186 19h1M303 19h1M322 19h1M329 19h1M383 19h1M440 19h1M442 19h1M477 19h1M550 19h1M552 19h1M52 20h1M90 20h1M105 20h1M244 20h1M329 20h1M355 20h1M365 20h1M438 20h2M441 20h1M462 20h1M490 20h1M550 20h1M576 20h1M580 20h2M605 20h1M18 21h1M53 21h1M245 21h1M323 21h1M330 21h1M440 21h1M546 21h1M745 21h1M186 22h1M295 22h1M298 22h1M474 22h1M50 23h2M53 23h1M469 23h1M471 23h1M747 23h2M182 24h1M191 24h1M244 24h1M329 24h1M469 24h1M604 24h1M609 24h2M635 24h1M134 25h1M163 25h1M325 25h1M328 25h1M350 25h1M461 25h1M490 25h1M573 25h1M577 25h1M603 25h1M630 25h1M329 28h1M351 28h1M160 29h1M42 30h1M48 30h1M50 30h1M52 30h1M72 30h1M106 30h1M212 30h1M269 30h1M276 30h1M304 30h1M350 30h5M377 30h1M384 30h1M433 30h1M436 30h1M439 30h1M544 30h1M574 30h2M578 30h2M631 30h1M633 30h1M638 30h1M51 31h1M184 31h1M606 31h1M690 31h1M692 31h4M717 31h1M735 31h1M51 32h1M183 32h1M471 32h1M602 32h1M692 32h1M694 32h1M714 32h2M717 32h2M50 33h1M187 33h1M240 33h1M729 33h1M731 33h1M330 34h1M691 36h1M167 38h1M157 39h1M437 39h1M160 40h1M153 41h1M440 42h1M829 42h8M152 43h1M157 43h1M222 52h1M231 52h3M236 52h6M261 52h5M268 52h4M291 52h1M162 53h5M168 53h2M336 53h2M341 53h1M310 54h2M314 54h4M158 55h1M289 55h1M183 56h3M270 56h1M280 56h1M212 57h6M222 57h4M228 57h1M233 57h10M245 57h5M626 64h1M630 64h2M633 64h1M244 72h10M774 84h1"/>
<path stroke="#ff6e91" d="M685 10h1M719 10h3M740 10h2M771 10h2M777 10h2M275 15h1M187 17h1M242 17h1M322 18h2M43 19h1M105 19h1M183 19h3M189 19h2M302 19h1M330 19h1M441 19h1M464 19h1M471 19h1M554 19h1M16 20h1M110 20h1M186 20h1M245 20h1M330 20h1M413 20h1M464 20h1M466 20h1M579 20h1M604 20h1M743 20h1M751 20h1M50 21h1M52 21h1M108 21h1M188 21h1M438 21h1M467 21h1M580 21h1M746 21h1M749 21h1M754 21h1M51 22h1M302 22h1M327 22h1M471 22h2M45 23h2M49 23h1M184 23h1M299 24h1M325 24h1M328 24h1M461 24h1M578 24h1M603 24h1M605 24h1M184 25h1M301 25h1M351 25h1M465 25h1M517 25h1M575 25h1M606 25h1M51 28h1M102 28h1M378 28h1M380 28h1M414 28h1M158 29h1M324 29h1M351 29h1M45 30h1M47 30h1M51 30h1M71 30h1M73 30h1M105 30h1M126 30h1M213 30h1M220 30h1M266 30h2M270 30h2M299 30h2M355 30h1M378 30h1M383 30h1M434 30h2M440 30h1M493 30h1M545 30h2M573 30h1M576 30h2M608 30h2M632 30h1M739 30h1M50 31h1M192 31h1M463 31h1M691 31h1M715 31h1M829 31h1M47 32h1M192 32h1M463 32h1M552 32h1M573 32h1M695 32h1M733 33h1M735 33h1M331 34h2M691 35h1M163 39h1M441 39h1M156 40h1M436 40h1M434 41h1M153 42h1M200 44h1M242 52h1M260 52h1M266 52h2M167 53h1M170 53h1M173 53h1M314 53h6M324 53h4M335 53h1M338 53h3M135 54h1M137 54h1M307 54h3M313 54h1M160 55h2M286 55h3M186 56h2M267 56h3M272 56h1M628 64h2M636 64h1M195 72h8M469 72h1M790 84h1"/>
<path stroke="#ff7e81" d="M684 10h1M722 10h1M742 10h3M827 10h2M832 10h1M185 18h1M197 19h1M242 19h1M331 19h1M466 19h1M51 20h1M189 20h1M302 20h1M469 20h1M582 20h1M16 21h1M43 21h1M109 21h1M413 21h1M473 21h1M46 22h1M464 22h2M22 23h2M189 23h1M468 23h1M186 24h1M301 24h1M573 24h1M577 24h1M183 25h1M272 25h1M382 25h1M386 25h1M466 25h1M576 25h1M601 25h1M635 25h1M22 28h2M415 28h1M46 29h1M106 29h1M159 29h1M378 29h1M384 29h1M43 30h1M53 30h1M104 30h1M192 30h1M214 30h1M219 30h1M275 30h1M296 30h3M356 30h1M379 30h1M547 30h1M580 30h1M607 30h1M610 30h1M183 31h1M50 32h1M690 32h2M733 32h1M737 33h1M739 33h1M156 39h1M442 40h1M439 41h1M434 42h1M151 43h1M436 43h1M259 52h1M171 53h2M174 53h2M177 53h2M180 53h2M304 53h2M307 53h1M312 53h1M320 53h1M322 53h2M328 53h7M136 54h1M138 54h3M304 54h3M162 55h1M281 55h5M188 56h3M265 56h2"/>
<path stroke="#ff8d72" d="M748 10h3M824 10h3M831 10h1M833 10h2M242 18h1M323 19h1M332 19h1M468 19h1M50 20h1M323 20h1M468 20h1M51 21h1M106 21h1M579 21h1M605 21h1M753 22h1M17 23h1M20 23h2M24 23h2M185 23h1M191 23h1M470 23h1M740 23h1M744 23h1M183 24h1M575 24h2M606 24h1M349 25h1M494 25h1M15 28h7M24 28h2M297 28h1M47 29h1M329 29h1M358 29h1M74 30h1M79 30h1M98 30h2M103 30h1M215 30h1M248 30h1M272 30h1M295 30h1M359 30h2M380 30h1M382 30h1M416 30h1M441 30h1M548 30h1M572 30h1M581 30h1M602 30h2M611 30h1M47 33h1M161 40h1M433 41h1M157 42h1M158 43h1M243 52h1M176 53h1M179 53h1M182 53h1M294 53h1M299 53h2M303 53h1M306 53h1M308 53h4M313 53h1M321 53h1M141 54h3M147 54h2M292 54h3M297 54h7M163 55h3M278 55h1M280 55h1M191 56h1M263 56h2M279 56h1"/>
<path stroke="#ff9d62" d="M202 16h1M199 17h1M194 18h1M43 20h1M190 20h1M189 21h1M193 21h1M50 22h1M191 22h1M744 22h1M14 23h3M18 23h2M188 23h1M601 24h1M359 25h1M463 25h1M602 25h1M607 25h1M611 25h1M14 28h1M51 29h1M297 29h1M325 29h1M415 29h1M75 30h1M190 30h1M216 30h1M218 30h1M246 30h2M274 30h1M293 30h2M357 30h2M381 30h1M409 30h1M442 30h1M468 30h1M494 30h1M549 30h1M582 30h1M601 30h1M604 30h3M737 31h1M437 40h1M154 41h1M433 42h1M244 52h1M258 52h1M183 53h2M274 53h2M278 53h7M287 53h2M293 53h1M295 53h1M301 53h2M149 54h1M289 54h3M295 54h2M166 55h4M274 55h2M277 55h1M279 55h1M192 56h2M261 56h1"/>
<path stroke="#ffac53" d="M200 16h1M197 17h2M182 19h1M191 19h1M747 20h1M749 22h1M752 22h1M466 24h1M602 24h1M464 25h1M105 29h1M328 29h1M353 29h1M380 29h1M386 29h1M76 30h3M100 30h1M102 30h1M182 30h1M188 30h2M191 30h1M217 30h1M273 30h1M408 30h1M410 30h1M412 30h1M415 30h1M443 30h1M463 30h4M495 30h1M497 30h3M550 30h2M600 30h1M735 32h1M702 36h1M441 40h1M154 42h1M438 42h1M257 52h1M185 53h1M189 53h1M273 53h1M276 53h2M285 53h2M289 53h4M296 53h3M144 54h3M150 54h1M282 54h1M284 54h1M287 54h2M170 55h1M272 55h2M276 55h1M194 56h1M260 56h1M262 56h1M273 56h1"/>
<path stroke="#ffbc43" d="M796 10h1M800 10h7M200 17h1M192 19h2M473 19h1M194 20h2M748 20h1M744 21h1M188 22h1M190 22h1M466 22h2M742 22h1M745 22h1M44 23h1M48 23h1M464 23h1M749 23h1M184 24h2M463 24h1M607 24h1M611 24h1M384 25h1M495 25h1M102 29h1M326 29h2M352 29h1M359 29h1M379 29h1M385 29h1M414 29h1M101 30h1M183 30h1M187 30h1M245 30h1M411 30h1M413 30h2M462 30h1M469 30h1M496 30h1M552 30h1M583 30h1M737 32h1M245 52h1M186 53h3M190 53h1M197 53h2M272 53h1M151 54h2M154 54h1M156 54h2M159 54h1M278 54h1M281 54h1M283 54h1M285 54h2M270 55h2M195 56h4M253 56h1M256 56h4M278 56h1"/>
<path stroke="#ffcb34" d="M797 10h3M201 16h1M196 18h1M198 18h1M470 20h1M753 20h1M468 21h1M751 21h1M189 22h1M470 22h1M52 23h1M186 23h1M467 23h1M741 23h1M385 25h1M467 25h1M185 30h2M323 30h4M405 30h1M407 30h1M467 30h1M470 30h2M553 30h1M661 30h1M722 30h1M739 31h1M739 32h1M702 35h1M692 36h1M700 36h1M813 36h24M158 42h1M246 52h1M256 52h1M191 53h6M199 53h2M202 53h1M264 53h2M268 53h4M153 54h1M155 54h1M158 54h1M160 54h2M272 54h4M277 54h1M279 54h2M171 55h1M173 55h2M268 55h2M199 56h3M251 56h2M254 56h2M274 56h1"/>
<path stroke="#ffdb24" d="M195 18h1M196 19h1M472 19h1M191 20h1M192 21h1M745 23h1M467 24h1M664 29h2M719 29h2M184 30h1M239 30h1M327 30h3M406 30h1M461 30h1M554 30h1M656 30h5M664 30h1M834 30h1M700 35h1M813 35h23M693 36h4M812 36h1M255 52h1M201 53h1M203 53h3M218 53h2M241 53h1M244 53h2M261 53h3M266 53h2M162 54h1M271 54h1M276 54h1M172 55h1M175 55h1M177 55h1M265 55h1M267 55h1M202 56h1M243 56h2M250 56h1M277 56h1"/>
<path stroke="#ffea15" d="M197 18h1M475 20h1M472 21h1M743 22h1M465 23h1M608 25h1M656 29h2M659 29h3M666 29h1M721 29h2M747 29h4M824 29h6M238 30h1M240 30h1M244 30h1M322 30h1M555 30h1M665 30h3M719 30h3M833 30h1M692 35h3M812 35h1M836 35h1M697 36h3M703 36h4M811 36h1M439 42h1M253 52h2M206 53h3M210 53h8M220 53h1M224 53h7M232 53h1M234 53h7M242 53h2M246 53h1M259 53h2M163 54h4M168 54h2M270 54h1M176 55h1M178 55h1M181 55h1M263 55h2M266 55h1M203 56h3M219 56h1M221 56h1M226 56h2M229 56h6M238 56h5M245 56h5M275 56h2"/>
<path stroke="#fff906" d="M476 19h1M193 20h1M752 20h1M742 21h1M465 24h1M658 29h1M667 29h1M686 29h3M712 29h5M744 29h1M830 29h1M833 29h2M241 30h3M684 30h1M712 30h3M716 30h1M832 30h1M695 35h4M811 35h1M707 36h15M808 36h3M209 53h1M221 53h3M231 53h1M233 53h1M253 53h6M167 54h1M170 54h1M268 54h2M179 55h2M182 55h1M184 55h2M261 55h2M206 56h6M213 56h3M217 56h2M220 56h1M222 56h4M228 56h1M235 56h3"/>
<path stroke="#ffff3e" d="M192 20h1M473 20h1M469 21h1M747 22h2M464 24h1M608 24h1M684 29h2M689 29h2M740 29h4M831 29h2M321 30h1M685 30h2M715 30h1M744 30h1M747 30h4M769 30h1M778 30h1M796 30h2M801 30h1M825 30h4M830 30h2M699 35h1M703 35h8M810 35h1M722 36h18M803 36h5M173 54h2M181 54h1M261 54h1M263 54h3M267 54h1M183 55h1M189 55h1M259 55h2M212 56h1M216 56h1"/>
<path stroke="#ffff9e" d="M190 21h2M475 21h1M468 22h2M466 23h1M691 29h4M768 29h4M778 29h1M796 29h2M687 30h3M741 30h3M768 30h1M770 30h1M775 30h3M798 30h3M802 30h2M824 30h1M829 30h1M711 35h20M806 35h4M740 36h4M798 36h5M171 54h2M175 54h4M180 54h1M182 54h1M184 54h2M262 54h1M266 54h1M186 55h3M190 55h1M255 55h4"/>
<path stroke="#ffffff" d="M194 19h2M472 20h1M470 21h1M743 21h1M747 21h2M752 21h2M695 29h1M772 29h6M798 29h9M690 30h6M740 30h1M771 30h4M804 30h3M731 35h75M744 36h54M179 54h1M183 54h1M186 54h5M255 54h6"/>
</g>
</g>
<g filter="url(#bd)"><linearGradient id="dg1" gradientUnits="userSpaceOnUse" x1="492.0" y1="0" x2="786.0" y2="0"><stop offset="0.000" stop-color="#7a00ff" stop-opacity="1.00"/><stop offset="0.020" stop-color="#6700ff" stop-opacity="1.00"/><stop offset="0.041" stop-color="#8f05fa" stop-opacity="1.00"/><stop offset="0.061" stop-color="#a815ea" stop-opacity="1.00"/><stop offset="0.082" stop-color="#c326d9" stop-opacity="1.00"/><stop offset="0.102" stop-color="#9c0df2" stop-opacity="1.00"/><stop offset="0.122" stop-color="#8400ff" stop-opacity="1.00"/><stop offset="0.143" stop-color="#7b00ff" stop-opacity="1.00"/><stop offset="0.163" stop-color="#b41de2" stop-opacity="1.00"/><stop offset="0.184" stop-color="#d632cd" stop-opacity="1.00"/><stop offset="0.204" stop-color="#ff6e91" stop-opacity="1.00"/><stop offset="0.224" stop-color="#fb4ab5" stop-opacity="1.00"/><stop offset="0.245" stop-color="#ff51ae" stop-opacity="1.00"/><stop offset="0.265" stop-color="#ff8e71" stop-opacity="1.00"/><stop offset="0.286" stop-color="#ff6d92" stop-opacity="1.00"/><stop offset="0.306" stop-color="#e93ec1" stop-opacity="1.00"/><stop offset="0.327" stop-color="#ff6699" stop-opacity="1.00"/><stop offset="0.347" stop-color="#fe4cb3" stop-opacity="1.00"/><stop offset="0.367" stop-color="#ff59a6" stop-opacity="1.00"/><stop offset="0.388" stop-color="#ff5ca3" stop-opacity="1.00"/><stop offset="0.408" stop-color="#ff57a8" stop-opacity="1.00"/><stop offset="0.429" stop-color="#ff758a" stop-opacity="1.00"/><stop offset="0.449" stop-color="#ff6699" stop-opacity="1.00"/><stop offset="0.469" stop-color="#ff5aa5" stop-opacity="1.00"/><stop offset="0.490" stop-color="#ff728d" stop-opacity="1.00"/><stop offset="0.510" stop-color="#ff7c83" stop-opacity="1.00"/><stop offset="0.531" stop-color="#ec40bf" stop-opacity="1.00"/><stop offset="0.551" stop-color="#ff629d" stop-opacity="1.00"/><stop offset="0.571" stop-color="#ff50af" stop-opacity="1.00"/><stop offset="0.592" stop-color="#ff649b" stop-opacity="1.00"/><stop offset="0.612" stop-color="#f949b6" stop-opacity="1.00"/><stop offset="0.633" stop-color="#ff6897" stop-opacity="1.00"/><stop offset="0.653" stop-color="#ff6798" stop-opacity="1.00"/><stop offset="0.673" stop-color="#ff609f" stop-opacity="1.00"/><stop offset="0.694" stop-color="#ff4fb0" stop-opacity="1.00"/><stop offset="0.714" stop-color="#ff5ea1" stop-opacity="1.00"/><stop offset="0.735" stop-color="#ff4eb1" stop-opacity="1.00"/><stop offset="0.755" stop-color="#f747b8" stop-opacity="1.00"/><stop offset="0.776" stop-color="#ff6d92" stop-opacity="1.00"/><stop offset="0.796" stop-color="#ff4db2" stop-opacity="1.00"/><stop offset="0.816" stop-color="#ff847b" stop-opacity="1.00"/><stop offset="0.837" stop-color="#ff7986" stop-opacity="1.00"/><stop offset="0.857" stop-color="#df38c7" stop-opacity="1.00"/><stop offset="0.878" stop-color="#ff6e91" stop-opacity="1.00"/><stop offset="0.898" stop-color="#ff4db2" stop-opacity="1.00"/><stop offset="0.918" stop-color="#ff6996" stop-opacity="1.00"/><stop offset="0.939" stop-color="#ff6996" stop-opacity="1.00"/><stop offset="0.959" stop-color="#df38c7" stop-opacity="1.00"/><stop offset="0.980" stop-color="#ff629d" stop-opacity="1.00"/><stop offset="1.000" stop-color="#ff629d" stop-opacity="1.00"/></linearGradient><path d="M492.0 797.8H786.0" stroke="url(#dg1)" stroke-width="5.6" stroke-dasharray="3.2 2.80" fill="none"/><linearGradient id="dg2" gradientUnits="userSpaceOnUse" x1="786.0" y1="0" x2="905.0" y2="0"><stop offset="0.000" stop-color="#2f00ff" stop-opacity="1.00"/><stop offset="0.053" stop-color="#4a00ff" stop-opacity="1.00"/><stop offset="0.105" stop-color="#00008d" stop-opacity="0.45"/><stop offset="0.158" stop-color="#0200ff" stop-opacity="1.00"/><stop offset="0.211" stop-color="#2d00ff" stop-opacity="1.00"/><stop offset="0.263" stop-color="#3a00ff" stop-opacity="1.00"/><stop offset="0.316" stop-color="#2000ff" stop-opacity="1.00"/><stop offset="0.368" stop-color="#3f00ff" stop-opacity="1.00"/><stop offset="0.421" stop-color="#1200ff" stop-opacity="1.00"/><stop offset="0.474" stop-color="#1c00ff" stop-opacity="1.00"/><stop offset="0.526" stop-color="#0e00ff" stop-opacity="1.00"/><stop offset="0.579" stop-color="#0000d4" stop-opacity="0.85"/><stop offset="0.632" stop-color="#0000df" stop-opacity="0.91"/><stop offset="0.684" stop-color="#1500ff" stop-opacity="1.00"/><stop offset="0.737" stop-color="#0000ec" stop-opacity="0.98"/><stop offset="0.789" stop-color="#3700ff" stop-opacity="1.00"/><stop offset="0.842" stop-color="#3700ff" stop-opacity="1.00"/><stop offset="0.895" stop-color="#4a00ff" stop-opacity="1.00"/><stop offset="0.947" stop-color="#0600ff" stop-opacity="1.00"/><stop offset="1.000" stop-color="#3b00ff" stop-opacity="1.00"/></linearGradient><path d="M786.0 797.8H905.0" stroke="url(#dg2)" stroke-width="5.6" stroke-dasharray="3.0 3.00" fill="none"/><linearGradient id="dg3" gradientUnits="userSpaceOnUse" x1="660.0" y1="0" x2="786.0" y2="0"><stop offset="0.000" stop-color="#ff56a9" stop-opacity="1.00"/><stop offset="0.048" stop-color="#ff5da2" stop-opacity="1.00"/><stop offset="0.095" stop-color="#ff4fb0" stop-opacity="1.00"/><stop offset="0.143" stop-color="#ec40bf" stop-opacity="1.00"/><stop offset="0.190" stop-color="#fc4bb4" stop-opacity="1.00"/><stop offset="0.238" stop-color="#e83ec1" stop-opacity="1.00"/><stop offset="0.286" stop-color="#ff57a8" stop-opacity="1.00"/><stop offset="0.333" stop-color="#ff7689" stop-opacity="1.00"/><stop offset="0.381" stop-color="#fb4ab5" stop-opacity="1.00"/><stop offset="0.429" stop-color="#f647b8" stop-opacity="1.00"/><stop offset="0.476" stop-color="#ff629d" stop-opacity="1.00"/><stop offset="0.524" stop-color="#ff5ea1" stop-opacity="1.00"/><stop offset="0.571" stop-color="#ff58a7" stop-opacity="1.00"/><stop offset="0.619" stop-color="#eb3fc0" stop-opacity="1.00"/><stop offset="0.667" stop-color="#ff55aa" stop-opacity="1.00"/><stop offset="0.714" stop-color="#ff6699" stop-opacity="1.00"/><stop offset="0.762" stop-color="#db36c9" stop-opacity="1.00"/><stop offset="0.810" stop-color="#fc4bb4" stop-opacity="1.00"/><stop offset="0.857" stop-color="#c628d7" stop-opacity="1.00"/><stop offset="0.905" stop-color="#dd37c8" stop-opacity="1.00"/><stop offset="0.952" stop-color="#c82ad5" stop-opacity="1.00"/><stop offset="1.000" stop-color="#ff50af" stop-opacity="1.00"/></linearGradient><path d="M660.0 763.6H786.0" stroke="url(#dg3)" stroke-width="5.6" stroke-dasharray="3.2 2.80" fill="none"/><linearGradient id="dg4" gradientUnits="userSpaceOnUse" x1="545.0" y1="0" x2="660.0" y2="0"><stop offset="0.000" stop-color="#7800ff" stop-opacity="1.00"/><stop offset="0.053" stop-color="#8700ff" stop-opacity="1.00"/><stop offset="0.105" stop-color="#8600ff" stop-opacity="1.00"/><stop offset="0.158" stop-color="#ac17e8" stop-opacity="1.00"/><stop offset="0.211" stop-color="#6200ff" stop-opacity="1.00"/><stop offset="0.263" stop-color="#b21be4" stop-opacity="1.00"/><stop offset="0.316" stop-color="#9509f6" stop-opacity="1.00"/><stop offset="0.368" stop-color="#db35ca" stop-opacity="1.00"/><stop offset="0.421" stop-color="#dd37c8" stop-opacity="1.00"/><stop offset="0.474" stop-color="#ed41be" stop-opacity="1.00"/><stop offset="0.526" stop-color="#d632cd" stop-opacity="1.00"/><stop offset="0.579" stop-color="#b71fe0" stop-opacity="1.00"/><stop offset="0.632" stop-color="#d934cb" stop-opacity="1.00"/><stop offset="0.684" stop-color="#f244bb" stop-opacity="1.00"/><stop offset="0.737" stop-color="#a110ef" stop-opacity="1.00"/><stop offset="0.789" stop-color="#d02ed1" stop-opacity="1.00"/><stop offset="0.842" stop-color="#b81fe0" stop-opacity="1.00"/><stop offset="0.895" stop-color="#ef42bd" stop-opacity="1.00"/><stop offset="0.947" stop-color="#9a0cf3" stop-opacity="1.00"/><stop offset="1.000" stop-color="#ae19e6" stop-opacity="1.00"/></linearGradient><path d="M545.0 764.0H660.0" stroke="url(#dg4)" stroke-width="5.2" stroke-dasharray="3.2 2.80" fill="none"/><linearGradient id="dg5" gradientUnits="userSpaceOnUse" x1="432.0" y1="0" x2="468.0" y2="0"><stop offset="0.000" stop-color="#6300ff" stop-opacity="1.00"/><stop offset="0.167" stop-color="#8a02fd" stop-opacity="1.00"/><stop offset="0.333" stop-color="#4300ff" stop-opacity="1.00"/><stop offset="0.500" stop-color="#9a0cf3" stop-opacity="1.00"/><stop offset="0.667" stop-color="#ac17e8" stop-opacity="1.00"/><stop offset="0.833" stop-color="#7000ff" stop-opacity="1.00"/><stop offset="1.000" stop-color="#9106f9" stop-opacity="1.00"/></linearGradient><path d="M432.0 764.5H468.0" stroke="url(#dg5)" stroke-width="5.2" stroke-dasharray="3.2 2.80" fill="none"/><linearGradient id="dg6" gradientUnits="userSpaceOnUse" x1="786.0" y1="0" x2="940.0" y2="0"><stop offset="0.000" stop-color="#0000df" stop-opacity="0.91"/><stop offset="0.040" stop-color="#0000f1" stop-opacity="1.00"/><stop offset="0.080" stop-color="#0000ee" stop-opacity="0.99"/><stop offset="0.120" stop-color="#1a00ff" stop-opacity="1.00"/><stop offset="0.160" stop-color="#0700ff" stop-opacity="1.00"/><stop offset="0.200" stop-color="#1500ff" stop-opacity="1.00"/><stop offset="0.240" stop-color="#3000ff" stop-opacity="1.00"/><stop offset="0.280" stop-color="#3100ff" stop-opacity="1.00"/><stop offset="0.320" stop-color="#2200ff" stop-opacity="1.00"/><stop offset="0.360" stop-color="#0000fe" stop-opacity="1.00"/><stop offset="0.400" stop-color="#0000f0" stop-opacity="1.00"/><stop offset="0.440" stop-color="#0000ed" stop-opacity="0.98"/><stop offset="0.480" stop-color="#0400ff" stop-opacity="1.00"/><stop offset="0.520" stop-color="#0e00ff" stop-opacity="1.00"/><stop offset="0.560" stop-color="#0000e5" stop-opacity="0.94"/><stop offset="0.600" stop-color="#0000de" stop-opacity="0.90"/><stop offset="0.640" stop-color="#1c00ff" stop-opacity="1.00"/><stop offset="0.680" stop-color="#0000bb" stop-opacity="0.71"/><stop offset="0.720" stop-color="#0a00ff" stop-opacity="1.00"/><stop offset="0.760" stop-color="#2000ff" stop-opacity="1.00"/><stop offset="0.800" stop-color="#0000e5" stop-opacity="0.94"/><stop offset="0.840" stop-color="#0000df" stop-opacity="0.90"/><stop offset="0.880" stop-color="#0000ef" stop-opacity="1.00"/><stop offset="0.920" stop-color="#2900ff" stop-opacity="1.00"/><stop offset="0.960" stop-color="#0c00ff" stop-opacity="1.00"/><stop offset="1.000" stop-color="#0000ba" stop-opacity="0.70"/></linearGradient><path d="M786.0 763.6H940.0" stroke="url(#dg6)" stroke-width="5.2" stroke-dasharray="3.0 3.00" fill="none"/><linearGradient id="dg7" gradientUnits="userSpaceOnUse" x1="944.0" y1="0" x2="1086.0" y2="0"><stop offset="0.000" stop-color="#a614eb" stop-opacity="1.00"/><stop offset="0.043" stop-color="#e139c6" stop-opacity="1.00"/><stop offset="0.087" stop-color="#d02ed1" stop-opacity="1.00"/><stop offset="0.130" stop-color="#cf2ed1" stop-opacity="1.00"/><stop offset="0.174" stop-color="#ff4eb1" stop-opacity="1.00"/><stop offset="0.217" stop-color="#6300ff" stop-opacity="1.00"/><stop offset="0.261" stop-color="#8300ff" stop-opacity="1.00"/><stop offset="0.304" stop-color="#5c00ff" stop-opacity="1.00"/><stop offset="0.348" stop-color="#a010ef" stop-opacity="1.00"/><stop offset="0.391" stop-color="#df38c7" stop-opacity="1.00"/><stop offset="0.435" stop-color="#a513ec" stop-opacity="1.00"/><stop offset="0.478" stop-color="#c226d9" stop-opacity="1.00"/><stop offset="0.522" stop-color="#3b00ff" stop-opacity="1.00"/><stop offset="0.565" stop-color="#af19e6" stop-opacity="1.00"/><stop offset="0.609" stop-color="#7300ff" stop-opacity="1.00"/><stop offset="0.652" stop-color="#ff54ab" stop-opacity="1.00"/><stop offset="0.696" stop-color="#d834cb" stop-opacity="1.00"/><stop offset="0.739" stop-color="#dc36c9" stop-opacity="1.00"/><stop offset="0.783" stop-color="#a312ed" stop-opacity="1.00"/><stop offset="0.826" stop-color="#c92ad5" stop-opacity="1.00"/><stop offset="0.870" stop-color="#cb2bd4" stop-opacity="1.00"/><stop offset="0.913" stop-color="#9307f8" stop-opacity="1.00"/><stop offset="0.957" stop-color="#8a02fd" stop-opacity="1.00"/><stop offset="1.000" stop-color="#a010ef" stop-opacity="1.00"/></linearGradient><path d="M944.0 884.8H1086.0" stroke="url(#dg7)" stroke-width="5.5" stroke-dasharray="3.2 1.80" fill="none"/><linearGradient id="dg8" gradientUnits="userSpaceOnUse" x1="131.0" y1="0" x2="208.0" y2="0"><stop offset="0.000" stop-color="#ff649b" stop-opacity="1.00"/><stop offset="0.083" stop-color="#6b00ff" stop-opacity="1.00"/><stop offset="0.167" stop-color="#ff4fb0" stop-opacity="1.00"/><stop offset="0.250" stop-color="#e139c6" stop-opacity="1.00"/><stop offset="0.333" stop-color="#ff57a8" stop-opacity="1.00"/><stop offset="0.417" stop-color="#ed41be" stop-opacity="1.00"/><stop offset="0.500" stop-color="#ff649b" stop-opacity="1.00"/><stop offset="0.583" stop-color="#e039c6" stop-opacity="1.00"/><stop offset="0.667" stop-color="#cb2bd4" stop-opacity="1.00"/><stop offset="0.750" stop-color="#f446b9" stop-opacity="1.00"/><stop offset="0.833" stop-color="#ef42bd" stop-opacity="1.00"/><stop offset="0.917" stop-color="#d12fd0" stop-opacity="1.00"/><stop offset="1.000" stop-color="#d532cd" stop-opacity="1.00"/></linearGradient><path d="M131.0 899.4H208.0" stroke="url(#dg8)" stroke-width="5.0" stroke-dasharray="2.0 1.95" fill="none"/><linearGradient id="dg9" gradientUnits="userSpaceOnUse" x1="104.0" y1="0" x2="172.0" y2="0"><stop offset="0.000" stop-color="#9206f9" stop-opacity="1.00"/><stop offset="0.091" stop-color="#5300ff" stop-opacity="1.00"/><stop offset="0.182" stop-color="#3d00ff" stop-opacity="1.00"/><stop offset="0.273" stop-color="#0a00ff" stop-opacity="1.00"/><stop offset="0.364" stop-color="#6a00ff" stop-opacity="1.00"/><stop offset="0.455" stop-color="#a614eb" stop-opacity="1.00"/><stop offset="0.545" stop-color="#7900ff" stop-opacity="1.00"/><stop offset="0.636" stop-color="#8b02fd" stop-opacity="1.00"/><stop offset="0.727" stop-color="#9e0ef1" stop-opacity="1.00"/><stop offset="0.818" stop-color="#5600ff" stop-opacity="1.00"/><stop offset="0.909" stop-color="#db35ca" stop-opacity="1.00"/><stop offset="1.000" stop-color="#5700ff" stop-opacity="1.00"/></linearGradient><path d="M104.0 923.9H172.0" stroke="url(#dg9)" stroke-width="6.0" stroke-dasharray="3.0 3.02" fill="none"/><linearGradient id="dg10" gradientUnits="userSpaceOnUse" x1="262.0" y1="0" x2="312.0" y2="0"><stop offset="0.000" stop-color="#4b00ff" stop-opacity="1.00"/><stop offset="0.125" stop-color="#5e00ff" stop-opacity="1.00"/><stop offset="0.250" stop-color="#9005fa" stop-opacity="1.00"/><stop offset="0.375" stop-color="#6d00ff" stop-opacity="1.00"/><stop offset="0.500" stop-color="#9508f7" stop-opacity="1.00"/><stop offset="0.625" stop-color="#9f0ff0" stop-opacity="1.00"/><stop offset="0.750" stop-color="#4b00ff" stop-opacity="1.00"/><stop offset="0.875" stop-color="#a714eb" stop-opacity="1.00"/><stop offset="1.000" stop-color="#6b00ff" stop-opacity="1.00"/></linearGradient><path d="M262.0 923.9H312.0" stroke="url(#dg10)" stroke-width="6.0" stroke-dasharray="3.0 3.02" fill="none"/><linearGradient id="dg11" gradientUnits="userSpaceOnUse" x1="312.0" y1="0" x2="384.0" y2="0"><stop offset="0.000" stop-color="#f748b7" stop-opacity="1.00"/><stop offset="0.083" stop-color="#ff659a" stop-opacity="1.00"/><stop offset="0.167" stop-color="#ff6f90" stop-opacity="1.00"/><stop offset="0.250" stop-color="#ff6f90" stop-opacity="1.00"/><stop offset="0.333" stop-color="#ff817e" stop-opacity="1.00"/><stop offset="0.417" stop-color="#ff4db2" stop-opacity="1.00"/><stop offset="0.500" stop-color="#ff639c" stop-opacity="1.00"/><stop offset="0.583" stop-color="#ff4db2" stop-opacity="1.00"/><stop offset="0.667" stop-color="#d834cb" stop-opacity="1.00"/><stop offset="0.750" stop-color="#f345ba" stop-opacity="1.00"/><stop offset="0.833" stop-color="#ff59a6" stop-opacity="1.00"/><stop offset="0.917" stop-color="#eb40bf" stop-opacity="1.00"/><stop offset="1.000" stop-color="#ff51ae" stop-opacity="1.00"/></linearGradient><path d="M312.0 923.9H384.0" stroke="url(#dg11)" stroke-width="6.0" stroke-dasharray="3.0 3.02" fill="none"/><linearGradient id="dg12" gradientUnits="userSpaceOnUse" x1="103.0" y1="0" x2="1190.0" y2="0"><stop offset="0.000" stop-color="#ffc33c" stop-opacity="1.00"/><stop offset="0.006" stop-color="#ffaf50" stop-opacity="1.00"/><stop offset="0.011" stop-color="#ff9867" stop-opacity="1.00"/><stop offset="0.017" stop-color="#ff847b" stop-opacity="1.00"/><stop offset="0.022" stop-color="#ff738c" stop-opacity="1.00"/><stop offset="0.028" stop-color="#ff9f60" stop-opacity="1.00"/><stop offset="0.033" stop-color="#ff8976" stop-opacity="1.00"/><stop offset="0.039" stop-color="#ff857a" stop-opacity="1.00"/><stop offset="0.044" stop-color="#ff936c" stop-opacity="1.00"/><stop offset="0.050" stop-color="#ff956a" stop-opacity="1.00"/><stop offset="0.055" stop-color="#ff58a7" stop-opacity="1.00"/><stop offset="0.061" stop-color="#ff9867" stop-opacity="1.00"/><stop offset="0.066" stop-color="#f345ba" stop-opacity="1.00"/><stop offset="0.072" stop-color="#ff9669" stop-opacity="1.00"/><stop offset="0.077" stop-color="#ff6b94" stop-opacity="1.00"/><stop offset="0.083" stop-color="#f345ba" stop-opacity="1.00"/><stop offset="0.088" stop-color="#ff649b" stop-opacity="1.00"/><stop offset="0.094" stop-color="#df38c7" stop-opacity="1.00"/><stop offset="0.099" stop-color="#e43bc4" stop-opacity="1.00"/><stop offset="0.105" stop-color="#b51de2" stop-opacity="1.00"/><stop offset="0.110" stop-color="#b41de2" stop-opacity="1.00"/><stop offset="0.116" stop-color="#8d04fb" stop-opacity="1.00"/><stop offset="0.122" stop-color="#0000f2" stop-opacity="1.00"/><stop offset="0.127" stop-color="#000094" stop-opacity="0.49"/><stop offset="0.133" stop-color="#000056" stop-opacity="0.14"/><stop offset="0.138" stop-color="#000008" stop-opacity="0.00"/><stop offset="0.144" stop-color="#000000" stop-opacity="0.00"/><stop offset="0.149" stop-color="#000073" stop-opacity="0.31"/><stop offset="0.155" stop-color="#000000" stop-opacity="0.00"/><stop offset="0.160" stop-color="#000000" stop-opacity="0.00"/><stop offset="0.166" stop-color="#000000" stop-opacity="0.00"/><stop offset="0.171" stop-color="#0000a2" stop-opacity="0.57"/><stop offset="0.177" stop-color="#6900ff" stop-opacity="1.00"/><stop offset="0.182" stop-color="#9006f9" stop-opacity="1.00"/><stop offset="0.188" stop-color="#be23dc" stop-opacity="1.00"/><stop offset="0.193" stop-color="#ff52ad" stop-opacity="1.00"/><stop offset="0.199" stop-color="#ff6699" stop-opacity="1.00"/><stop offset="0.204" stop-color="#ff916e" stop-opacity="1.00"/><stop offset="0.210" stop-color="#ff8f70" stop-opacity="1.00"/><stop offset="0.215" stop-color="#ffb649" stop-opacity="1.00"/><stop offset="0.221" stop-color="#ffb748" stop-opacity="1.00"/><stop offset="0.227" stop-color="#ff758a" stop-opacity="1.00"/><stop offset="0.232" stop-color="#ffaf50" stop-opacity="1.00"/><stop offset="0.238" stop-color="#ffb748" stop-opacity="1.00"/><stop offset="0.243" stop-color="#ffc23d" stop-opacity="1.00"/><stop offset="0.249" stop-color="#ffa35c" stop-opacity="1.00"/><stop offset="0.254" stop-color="#ff9966" stop-opacity="1.00"/><stop offset="0.260" stop-color="#ff9d62" stop-opacity="1.00"/><stop offset="0.265" stop-color="#ffbc43" stop-opacity="1.00"/><stop offset="0.271" stop-color="#ff956a" stop-opacity="1.00"/><stop offset="0.276" stop-color="#ff926d" stop-opacity="1.00"/><stop offset="0.282" stop-color="#ffba45" stop-opacity="1.00"/><stop offset="0.287" stop-color="#ff8679" stop-opacity="1.00"/><stop offset="0.293" stop-color="#ff7e81" stop-opacity="1.00"/><stop offset="0.298" stop-color="#ff8c73" stop-opacity="1.00"/><stop offset="0.304" stop-color="#ff8a75" stop-opacity="1.00"/><stop offset="0.309" stop-color="#ff936c" stop-opacity="1.00"/><stop offset="0.315" stop-color="#ff5aa5" stop-opacity="1.00"/><stop offset="0.320" stop-color="#e93ec1" stop-opacity="1.00"/><stop offset="0.326" stop-color="#ff56a9" stop-opacity="1.00"/><stop offset="0.331" stop-color="#ff5da2" stop-opacity="1.00"/><stop offset="0.337" stop-color="#b71ee1" stop-opacity="1.00"/><stop offset="0.343" stop-color="#d833cc" stop-opacity="1.00"/><stop offset="0.348" stop-color="#f244bb" stop-opacity="1.00"/><stop offset="0.354" stop-color="#ec41be" stop-opacity="1.00"/><stop offset="0.359" stop-color="#e43bc4" stop-opacity="1.00"/><stop offset="0.365" stop-color="#d431ce" stop-opacity="1.00"/><stop offset="0.370" stop-color="#bc22dd" stop-opacity="1.00"/><stop offset="0.376" stop-color="#b41de2" stop-opacity="1.00"/><stop offset="0.381" stop-color="#ff4db2" stop-opacity="1.00"/><stop offset="0.387" stop-color="#a714eb" stop-opacity="1.00"/><stop offset="0.392" stop-color="#fc4ab5" stop-opacity="1.00"/><stop offset="0.398" stop-color="#990bf4" stop-opacity="1.00"/><stop offset="0.403" stop-color="#ff6f90" stop-opacity="1.00"/><stop offset="0.409" stop-color="#8300ff" stop-opacity="1.00"/><stop offset="0.414" stop-color="#fd4bb4" stop-opacity="1.00"/><stop offset="0.420" stop-color="#9d0df2" stop-opacity="1.00"/><stop offset="0.425" stop-color="#bd22dd" stop-opacity="1.00"/><stop offset="0.431" stop-color="#c226d9" stop-opacity="1.00"/><stop offset="0.436" stop-color="#b01ae5" stop-opacity="1.00"/><stop offset="0.442" stop-color="#ff619e" stop-opacity="1.00"/><stop offset="0.448" stop-color="#d330cf" stop-opacity="1.00"/><stop offset="0.453" stop-color="#a110ef" stop-opacity="1.00"/><stop offset="0.459" stop-color="#f043bc" stop-opacity="1.00"/><stop offset="0.464" stop-color="#fb4ab5" stop-opacity="1.00"/><stop offset="0.470" stop-color="#bf23dc" stop-opacity="1.00"/><stop offset="0.475" stop-color="#ff52ad" stop-opacity="1.00"/><stop offset="0.481" stop-color="#ff4cb3" stop-opacity="1.00"/><stop offset="0.486" stop-color="#ff649b" stop-opacity="1.00"/><stop offset="0.492" stop-color="#ff6798" stop-opacity="1.00"/><stop offset="0.497" stop-color="#ff58a7" stop-opacity="1.00"/><stop offset="0.503" stop-color="#ff4db2" stop-opacity="1.00"/><stop offset="0.508" stop-color="#ff6b94" stop-opacity="1.00"/><stop offset="0.514" stop-color="#ff5ba4" stop-opacity="1.00"/><stop offset="0.519" stop-color="#d12fd0" stop-opacity="1.00"/><stop offset="0.525" stop-color="#f244bb" stop-opacity="1.00"/><stop offset="0.530" stop-color="#f244bb" stop-opacity="1.00"/><stop offset="0.536" stop-color="#f546b9" stop-opacity="1.00"/><stop offset="0.541" stop-color="#ff807f" stop-opacity="1.00"/><stop offset="0.547" stop-color="#e63cc3" stop-opacity="1.00"/><stop offset="0.552" stop-color="#ff4db2" stop-opacity="1.00"/><stop offset="0.558" stop-color="#ff6699" stop-opacity="1.00"/><stop offset="0.564" stop-color="#f647b8" stop-opacity="1.00"/><stop offset="0.569" stop-color="#ee42bd" stop-opacity="1.00"/><stop offset="0.575" stop-color="#ff53ac" stop-opacity="1.00"/><stop offset="0.580" stop-color="#be23dc" stop-opacity="1.00"/><stop offset="0.586" stop-color="#7800ff" stop-opacity="1.00"/><stop offset="0.591" stop-color="#4a00ff" stop-opacity="1.00"/><stop offset="0.597" stop-color="#3100ff" stop-opacity="1.00"/><stop offset="0.602" stop-color="#0000f8" stop-opacity="1.00"/><stop offset="0.608" stop-color="#0000ce" stop-opacity="0.81"/><stop offset="0.613" stop-color="#0000ef" stop-opacity="0.99"/><stop offset="0.619" stop-color="#2700ff" stop-opacity="1.00"/><stop offset="0.624" stop-color="#3500ff" stop-opacity="1.00"/><stop offset="0.630" stop-color="#b41ce3" stop-opacity="1.00"/><stop offset="0.635" stop-color="#c729d6" stop-opacity="1.00"/><stop offset="0.641" stop-color="#c829d6" stop-opacity="1.00"/><stop offset="0.646" stop-color="#8d04fb" stop-opacity="1.00"/><stop offset="0.652" stop-color="#ff5aa5" stop-opacity="1.00"/><stop offset="0.657" stop-color="#ff609f" stop-opacity="1.00"/><stop offset="0.663" stop-color="#ff52ad" stop-opacity="1.00"/><stop offset="0.669" stop-color="#ff926d" stop-opacity="1.00"/><stop offset="0.674" stop-color="#ff8f70" stop-opacity="1.00"/><stop offset="0.680" stop-color="#ffa45b" stop-opacity="1.00"/><stop offset="0.685" stop-color="#ff9768" stop-opacity="1.00"/><stop offset="0.691" stop-color="#ffad52" stop-opacity="1.00"/><stop offset="0.696" stop-color="#ff9a65" stop-opacity="1.00"/><stop offset="0.702" stop-color="#ffbd42" stop-opacity="1.00"/><stop offset="0.707" stop-color="#ffa35c" stop-opacity="1.00"/><stop offset="0.713" stop-color="#ff7c83" stop-opacity="1.00"/><stop offset="0.718" stop-color="#ffa05f" stop-opacity="1.00"/><stop offset="0.724" stop-color="#ff9a65" stop-opacity="1.00"/><stop offset="0.729" stop-color="#ff906f" stop-opacity="1.00"/><stop offset="0.735" stop-color="#ff718e" stop-opacity="1.00"/><stop offset="0.740" stop-color="#ffa857" stop-opacity="1.00"/><stop offset="0.746" stop-color="#ff7a85" stop-opacity="1.00"/><stop offset="0.751" stop-color="#ffae51" stop-opacity="1.00"/><stop offset="0.757" stop-color="#ff758a" stop-opacity="1.00"/><stop offset="0.762" stop-color="#ff827d" stop-opacity="1.00"/><stop offset="0.768" stop-color="#ff7d82" stop-opacity="1.00"/><stop offset="0.773" stop-color="#ff7f80" stop-opacity="1.00"/><stop offset="0.779" stop-color="#ffb748" stop-opacity="1.00"/><stop offset="0.785" stop-color="#ff6996" stop-opacity="1.00"/><stop offset="0.790" stop-color="#ffa45b" stop-opacity="1.00"/><stop offset="0.796" stop-color="#ff7e81" stop-opacity="1.00"/><stop offset="0.801" stop-color="#ff5ba4" stop-opacity="1.00"/><stop offset="0.807" stop-color="#ff8778" stop-opacity="1.00"/><stop offset="0.812" stop-color="#ff7a85" stop-opacity="1.00"/><stop offset="0.818" stop-color="#ff7a85" stop-opacity="1.00"/><stop offset="0.823" stop-color="#eb40bf" stop-opacity="1.00"/><stop offset="0.829" stop-color="#ff6699" stop-opacity="1.00"/><stop offset="0.834" stop-color="#f848b7" stop-opacity="1.00"/><stop offset="0.840" stop-color="#f546b9" stop-opacity="1.00"/><stop offset="0.845" stop-color="#e83ec1" stop-opacity="1.00"/><stop offset="0.851" stop-color="#e53cc3" stop-opacity="1.00"/><stop offset="0.856" stop-color="#ff5ba4" stop-opacity="1.00"/><stop offset="0.862" stop-color="#de37c8" stop-opacity="1.00"/><stop offset="0.867" stop-color="#8100ff" stop-opacity="1.00"/><stop offset="0.873" stop-color="#eb40bf" stop-opacity="1.00"/><stop offset="0.878" stop-color="#b61ee1" stop-opacity="1.00"/><stop offset="0.884" stop-color="#ae19e6" stop-opacity="1.00"/><stop offset="0.890" stop-color="#5b00ff" stop-opacity="1.00"/><stop offset="0.895" stop-color="#a513ec" stop-opacity="1.00"/><stop offset="0.901" stop-color="#7500ff" stop-opacity="1.00"/><stop offset="0.906" stop-color="#9408f7" stop-opacity="1.00"/><stop offset="0.912" stop-color="#6a00ff" stop-opacity="1.00"/><stop offset="0.917" stop-color="#6000ff" stop-opacity="1.00"/><stop offset="0.923" stop-color="#1700ff" stop-opacity="1.00"/><stop offset="0.928" stop-color="#0000a6" stop-opacity="0.59"/><stop offset="0.934" stop-color="#0000fc" stop-opacity="1.00"/><stop offset="0.939" stop-color="#0000b1" stop-opacity="0.65"/><stop offset="0.945" stop-color="#00005d" stop-opacity="0.18"/><stop offset="0.950" stop-color="#000048" stop-opacity="0.07"/><stop offset="0.956" stop-color="#000030" stop-opacity="0.00"/><stop offset="0.961" stop-color="#000000" stop-opacity="0.00"/><stop offset="0.967" stop-color="#000010" stop-opacity="0.00"/><stop offset="0.972" stop-color="#00003c" stop-opacity="0.00"/><stop offset="0.978" stop-color="#000083" stop-opacity="0.40"/><stop offset="0.983" stop-color="#000043" stop-opacity="0.04"/><stop offset="0.989" stop-color="#000071" stop-opacity="0.29"/><stop offset="0.994" stop-color="#000000" stop-opacity="0.00"/><stop offset="1.000" stop-color="#00004e" stop-opacity="0.10"/></linearGradient><path d="M105.0 957.8H1190.0" stroke="url(#dg12)" stroke-width="7.5" stroke-dasharray="3.0 3.02" fill="none"/><linearGradient id="dg13" gradientUnits="userSpaceOnUse" x1="1215.0" y1="0" x2="1492.0" y2="0"><stop offset="0.000" stop-color="#2f00ff" stop-opacity="1.00"/><stop offset="0.022" stop-color="#8f05fa" stop-opacity="1.00"/><stop offset="0.043" stop-color="#6600ff" stop-opacity="1.00"/><stop offset="0.065" stop-color="#1d00ff" stop-opacity="1.00"/><stop offset="0.087" stop-color="#7800ff" stop-opacity="1.00"/><stop offset="0.109" stop-color="#0000d9" stop-opacity="0.87"/><stop offset="0.130" stop-color="#7200ff" stop-opacity="1.00"/><stop offset="0.152" stop-color="#2100ff" stop-opacity="1.00"/><stop offset="0.174" stop-color="#7500ff" stop-opacity="1.00"/><stop offset="0.196" stop-color="#6800ff" stop-opacity="1.00"/><stop offset="0.217" stop-color="#1300ff" stop-opacity="1.00"/><stop offset="0.239" stop-color="#6e00ff" stop-opacity="1.00"/><stop offset="0.261" stop-color="#6100ff" stop-opacity="1.00"/><stop offset="0.283" stop-color="#1b00ff" stop-opacity="1.00"/><stop offset="0.304" stop-color="#d532cd" stop-opacity="1.00"/><stop offset="0.326" stop-color="#8100ff" stop-opacity="1.00"/><stop offset="0.348" stop-color="#0000f2" stop-opacity="1.00"/><stop offset="0.370" stop-color="#0300ff" stop-opacity="1.00"/><stop offset="0.391" stop-color="#5f00ff" stop-opacity="1.00"/><stop offset="0.413" stop-color="#5f00ff" stop-opacity="1.00"/><stop offset="0.435" stop-color="#1600ff" stop-opacity="1.00"/><stop offset="0.457" stop-color="#fc4bb4" stop-opacity="1.00"/><stop offset="0.478" stop-color="#ad18e7" stop-opacity="1.00"/><stop offset="0.500" stop-color="#6a00ff" stop-opacity="1.00"/><stop offset="0.522" stop-color="#8c03fc" stop-opacity="1.00"/><stop offset="0.543" stop-color="#9a0cf3" stop-opacity="1.00"/><stop offset="0.565" stop-color="#3900ff" stop-opacity="1.00"/><stop offset="0.587" stop-color="#6c00ff" stop-opacity="1.00"/><stop offset="0.609" stop-color="#2700ff" stop-opacity="1.00"/><stop offset="0.630" stop-color="#9207f8" stop-opacity="1.00"/><stop offset="0.652" stop-color="#d12fd0" stop-opacity="1.00"/><stop offset="0.674" stop-color="#4c00ff" stop-opacity="1.00"/><stop offset="0.696" stop-color="#bd22dd" stop-opacity="1.00"/><stop offset="0.717" stop-color="#5300ff" stop-opacity="1.00"/><stop offset="0.739" stop-color="#9b0cf3" stop-opacity="1.00"/><stop offset="0.761" stop-color="#8200ff" stop-opacity="1.00"/><stop offset="0.783" stop-color="#5100ff" stop-opacity="1.00"/><stop offset="0.804" stop-color="#8000ff" stop-opacity="1.00"/><stop offset="0.826" stop-color="#5000ff" stop-opacity="1.00"/><stop offset="0.848" stop-color="#bb21de" stop-opacity="1.00"/><stop offset="0.870" stop-color="#aa16e9" stop-opacity="1.00"/><stop offset="0.891" stop-color="#fb4ab5" stop-opacity="1.00"/><stop offset="0.913" stop-color="#4000ff" stop-opacity="1.00"/><stop offset="0.935" stop-color="#f345ba" stop-opacity="1.00"/><stop offset="0.957" stop-color="#a110ef" stop-opacity="1.00"/><stop offset="0.978" stop-color="#c326d9" stop-opacity="1.00"/><stop offset="1.000" stop-color="#990bf4" stop-opacity="1.00"/></linearGradient><path d="M1215.0 955.3H1492.0" stroke="url(#dg13)" stroke-width="7.0" stroke-dasharray="3.0 3.02" fill="none"/><linearGradient id="dg14" gradientUnits="userSpaceOnUse" x1="1492.0" y1="0" x2="1780.0" y2="0"><stop offset="0.000" stop-color="#ff5ba4" stop-opacity="1.00"/><stop offset="0.021" stop-color="#ff926d" stop-opacity="1.00"/><stop offset="0.042" stop-color="#7500ff" stop-opacity="1.00"/><stop offset="0.062" stop-color="#ff9b64" stop-opacity="1.00"/><stop offset="0.083" stop-color="#f748b7" stop-opacity="1.00"/><stop offset="0.104" stop-color="#bf23dc" stop-opacity="1.00"/><stop offset="0.125" stop-color="#bf23dc" stop-opacity="1.00"/><stop offset="0.146" stop-color="#aa16e9" stop-opacity="1.00"/><stop offset="0.167" stop-color="#ea3fc0" stop-opacity="1.00"/><stop offset="0.188" stop-color="#ff728d" stop-opacity="1.00"/><stop offset="0.208" stop-color="#ff6699" stop-opacity="1.00"/><stop offset="0.229" stop-color="#ff6897" stop-opacity="1.00"/><stop offset="0.250" stop-color="#7c00ff" stop-opacity="1.00"/><stop offset="0.271" stop-color="#8500ff" stop-opacity="1.00"/><stop offset="0.292" stop-color="#ff946b" stop-opacity="1.00"/><stop offset="0.312" stop-color="#ff7887" stop-opacity="1.00"/><stop offset="0.333" stop-color="#ffb34c" stop-opacity="1.00"/><stop offset="0.354" stop-color="#ff847b" stop-opacity="1.00"/><stop offset="0.375" stop-color="#ae19e6" stop-opacity="1.00"/><stop offset="0.396" stop-color="#ff8778" stop-opacity="1.00"/><stop offset="0.417" stop-color="#ff6897" stop-opacity="1.00"/><stop offset="0.438" stop-color="#ff54ab" stop-opacity="1.00"/><stop offset="0.458" stop-color="#bd22dd" stop-opacity="1.00"/><stop offset="0.479" stop-color="#fb4ab5" stop-opacity="1.00"/><stop offset="0.500" stop-color="#f043bc" stop-opacity="1.00"/><stop offset="0.521" stop-color="#ff758a" stop-opacity="1.00"/><stop offset="0.542" stop-color="#ff50af" stop-opacity="1.00"/><stop offset="0.562" stop-color="#ff9669" stop-opacity="1.00"/><stop offset="0.583" stop-color="#c125da" stop-opacity="1.00"/><stop offset="0.604" stop-color="#ff609f" stop-opacity="1.00"/><stop offset="0.625" stop-color="#ff629d" stop-opacity="1.00"/><stop offset="0.646" stop-color="#ba20df" stop-opacity="1.00"/><stop offset="0.667" stop-color="#a211ee" stop-opacity="1.00"/><stop offset="0.688" stop-color="#ff7a85" stop-opacity="1.00"/><stop offset="0.708" stop-color="#ff639c" stop-opacity="1.00"/><stop offset="0.729" stop-color="#ef42bd" stop-opacity="1.00"/><stop offset="0.750" stop-color="#ff5da2" stop-opacity="1.00"/><stop offset="0.771" stop-color="#c829d6" stop-opacity="1.00"/><stop offset="0.792" stop-color="#ff55aa" stop-opacity="1.00"/><stop offset="0.812" stop-color="#cd2dd2" stop-opacity="1.00"/><stop offset="0.833" stop-color="#ff53ac" stop-opacity="1.00"/><stop offset="0.854" stop-color="#ff7986" stop-opacity="1.00"/><stop offset="0.875" stop-color="#e139c6" stop-opacity="1.00"/><stop offset="0.896" stop-color="#ff738c" stop-opacity="1.00"/><stop offset="0.917" stop-color="#ad18e7" stop-opacity="1.00"/><stop offset="0.938" stop-color="#e53cc3" stop-opacity="1.00"/><stop offset="0.958" stop-color="#9408f7" stop-opacity="1.00"/><stop offset="0.979" stop-color="#f345ba" stop-opacity="1.00"/><stop offset="1.000" stop-color="#ff4eb1" stop-opacity="1.00"/></linearGradient><path d="M1493.5 955.5H1780.0" stroke="url(#dg14)" stroke-width="8.0" stroke-dasharray="3.3 2.72" fill="none"/></g>
<g filter="url(#b2)">
<rect x="707.0" y="85.5" width="213.0" height="3.5" fill="#0000a5"/>
<rect x="383.0" y="162.8" width="57.0" height="4.0" fill="#0000a8"/>
<rect x="486.0" y="162.8" width="86.0" height="4.0" fill="#0000a8"/>
<rect x="666.0" y="57.4" width="50.0" height="4.0" fill="#0000a2"/>
<rect x="270.0" y="156.5" width="60.0" height="3.0" fill="#000096"/>
<rect x="390.0" y="356.5" width="80.0" height="3.0" fill="#000093"/>
<rect x="130.0" y="546.5" width="30.0" height="4.0" fill="#000096"/>
<rect x="300.0" y="546.5" width="50.0" height="4.0" fill="#000069"/>
<rect x="400.0" y="546.5" width="40.0" height="4.0" fill="#000096"/>
<rect x="470.0" y="546.5" width="30.0" height="4.0" fill="#000066"/>
<rect x="540.0" y="546.5" width="20.0" height="4.0" fill="#000069"/>
<rect x="590.0" y="546.5" width="50.0" height="4.0" fill="#00006c"/>
<rect x="666.0" y="546.5" width="94.0" height="4.0" fill="#0000d2"/>
<rect x="760.0" y="546.5" width="46.0" height="4.0" fill="#0000b4"/>
<rect x="880.0" y="546.5" width="20.0" height="4.0" fill="#0000a2"/>
<rect x="1050.0" y="546.5" width="70.0" height="4.0" fill="#0000a8"/>
<rect x="1219.0" y="546.5" width="127.0" height="4.0" fill="#0000bd"/>
<rect x="1404.0" y="546.5" width="376.0" height="4.0" fill="#000054"/>
<rect x="730.0" y="563.0" width="60.0" height="3.0" fill="#000099"/>
<rect x="1404.0" y="614.5" width="120.0" height="4.5" fill="#0000ae"/>
<rect x="1524.0" y="614.5" width="130.0" height="4.5" fill="#0000ba"/>
<rect x="1654.0" y="614.5" width="122.0" height="4.5" fill="#00009c"/>
<rect x="1690.0" y="624.0" width="60.0" height="3.5" fill="#00009c"/>
<rect x="99.4" y="455.4" width="1679.6" height="4.2" fill="#000018"/>
</g>
<g filter="url(#b3)" fill="none" stroke-linejoin="round">
<path d="M98 652 L124 651 L150 641 L176 636 L204 645 L235 650 L285 650 L300 641 L318 636 L340 640 L352 648 L380 641 L396 636 L428 637 L446 650 L512 652 L556 643 L590 636 L650 637 L700 639 L740 647 L800 650 L832 648" stroke="#00005a" stroke-width="9" stroke-opacity="0.8"/>
<path d="M98 639 L150 628 L204 632 L285 637 L318 623 L352 635 L396 623 L446 637 L556 630 L650 624 L740 634 L832 635" stroke="#000066" stroke-width="5" stroke-opacity="0.3"/>
<path d="M98 661 L150 650 L204 654 L285 659 L318 645 L352 657 L396 645 L446 659 L556 652 L650 646 L740 656 L832 657" stroke="#0000ab" stroke-width="6" stroke-opacity="0.7"/>
<path d="M360 647H420" stroke="#0000ba" stroke-width="5" stroke-opacity="0.7"/>
<path d="M600 647H680" stroke="#0000ba" stroke-width="5" stroke-opacity="0.7"/>
<path d="M690 640H800" stroke="#0000ba" stroke-width="5" stroke-opacity="0.7"/>
<path d="M900 630L942 655" stroke="#00005d" stroke-width="7" stroke-opacity="0.75"/>
<path d="M922 634L956 652" stroke="#0000b1" stroke-width="5" stroke-opacity="0.6"/>
<path d="M956 630L998 655" stroke="#00005d" stroke-width="7" stroke-opacity="0.75"/>
<path d="M978 634L1012 652" stroke="#0000b1" stroke-width="5" stroke-opacity="0.6"/>
<path d="M1012 630L1054 655" stroke="#00005d" stroke-width="7" stroke-opacity="0.75"/>
<path d="M1034 634L1068 652" stroke="#0000b1" stroke-width="5" stroke-opacity="0.6"/>
<path d="M1067 630L1109 655" stroke="#00005d" stroke-width="7" stroke-opacity="0.75"/>
<path d="M1089 634L1123 652" stroke="#0000b1" stroke-width="5" stroke-opacity="0.6"/>
<path d="M1123 630L1165 655" stroke="#00005d" stroke-width="7" stroke-opacity="0.75"/>
<path d="M1145 634L1179 652" stroke="#0000b1" stroke-width="5" stroke-opacity="0.6"/>
<path d="M1179 630L1221 655" stroke="#00005d" stroke-width="7" stroke-opacity="0.75"/>
<path d="M1201 634L1235 652" stroke="#0000b1" stroke-width="5" stroke-opacity="0.6"/>
<path d="M1235 630L1277 655" stroke="#00005d" stroke-width="7" stroke-opacity="0.75"/>
<path d="M1257 634L1291 652" stroke="#0000b1" stroke-width="5" stroke-opacity="0.6"/>
<path d="M1291 630L1333 655" stroke="#00005d" stroke-width="7" stroke-opacity="0.75"/>
<path d="M1313 634L1347 652" stroke="#0000b1" stroke-width="5" stroke-opacity="0.6"/>
<path d="M1346 630L1388 655" stroke="#00005d" stroke-width="7" stroke-opacity="0.75"/>
<path d="M1368 634L1402 652" stroke="#0000b1" stroke-width="5" stroke-opacity="0.6"/>
<path d="M1402 630L1444 655" stroke="#00005d" stroke-width="7" stroke-opacity="0.75"/>
<path d="M1424 634L1458 652" stroke="#0000b1" stroke-width="5" stroke-opacity="0.6"/>
<path d="M1458 630L1500 655" stroke="#00005d" stroke-width="7" stroke-opacity="0.75"/>
<path d="M1480 634L1514 652" stroke="#0000b1" stroke-width="5" stroke-opacity="0.6"/>
<path d="M1514 630L1556 655" stroke="#00005d" stroke-width="7" stroke-opacity="0.75"/>
<path d="M1536 634L1570 652" stroke="#0000b1" stroke-width="5" stroke-opacity="0.6"/>
<path d="M1569 630L1611 655" stroke="#00005d" stroke-width="7" stroke-opacity="0.75"/>
<path d="M1591 634L1625 652" stroke="#0000b1" stroke-width="5" stroke-opacity="0.6"/>
<path d="M1625 630L1667 655" stroke="#00005d" stroke-width="7" stroke-opacity="0.75"/>
<path d="M1647 634L1681 652" stroke="#0000b1" stroke-width="5" stroke-opacity="0.6"/>
<path d="M1681 630L1723 655" stroke="#00005d" stroke-width="7" stroke-opacity="0.75"/>
<path d="M1703 634L1737 652" stroke="#0000b1" stroke-width="5" stroke-opacity="0.6"/>
<path d="M1737 630L1779 655" stroke="#00005d" stroke-width="7" stroke-opacity="0.75"/>
<path d="M1759 634L1793 652" stroke="#0000b1" stroke-width="5" stroke-opacity="0.6"/>
<path d="M940 645H1100" stroke="#000060" stroke-width="5" stroke-opacity="0.7"/>
<path d="M1400 648H1776" stroke="#0000ae" stroke-width="4" stroke-opacity="0.6"/>
</g>
<g filter="url(#b2)">
<rect x="829.6" y="572.0" width="66.4" height="14.0" fill="#000" fill-opacity="0.13"/>
<rect x="829.6" y="586.0" width="66.4" height="44.0" fill="#000" fill-opacity="0.06"/>
<rect x="829.6" y="630.0" width="66.4" height="9.0" fill="#00002a"/>
<rect x="829.6" y="638.0" width="66.4" height="19.0" fill="#000000"/>
<rect x="829.6" y="657.0" width="66.4" height="4.0" fill="#000048"/>
<rect x="829.6" y="661.0" width="66.4" height="30.0" fill="#000" fill-opacity="0.08"/>
</g>
<g filter="url(#b2)">
<rect x="996.8" y="451.8" width="22.6" height="12.0" fill="#0000cc"/>
<rect x="996.8" y="454.2" width="22.6" height="7.0" fill="#1a00ff"/>
<rect x="997.3" y="455.8" width="21.6" height="3.8" fill="#4d00ff"/>
<rect x="1052.6" y="451.8" width="22.6" height="12.0" fill="#0000d8"/>
<rect x="1052.6" y="454.2" width="22.6" height="7.0" fill="#2300ff"/>
<rect x="1053.1" y="455.8" width="21.6" height="3.8" fill="#5700ff"/>
<rect x="1108.4" y="451.8" width="22.6" height="12.0" fill="#0000ea"/>
<rect x="1108.4" y="454.2" width="22.6" height="7.0" fill="#3100ff"/>
<rect x="1108.9" y="455.8" width="21.6" height="3.8" fill="#6500ff"/>
<rect x="1164.2" y="451.8" width="22.6" height="12.0" fill="#0200ff"/>
<rect x="1164.2" y="454.2" width="22.6" height="7.0" fill="#4400ff"/>
<rect x="1164.7" y="455.8" width="21.6" height="3.8" fill="#7800ff"/>
<rect x="1220.0" y="451.8" width="22.6" height="12.0" fill="#3600ff"/>
<rect x="1220.0" y="454.2" width="22.6" height="7.0" fill="#7800ff"/>
<rect x="1220.5" y="455.8" width="21.6" height="3.8" fill="#ab17e8"/>
<rect x="1275.8" y="451.8" width="22.6" height="12.0" fill="#3f00ff"/>
<rect x="1275.8" y="454.2" width="22.6" height="7.0" fill="#a614eb"/>
<rect x="1276.2" y="455.8" width="21.6" height="3.8" fill="#da35ca"/>
<rect x="1331.5" y="451.8" width="22.6" height="12.0" fill="#3f00ff"/>
<rect x="1331.5" y="454.2" width="22.6" height="7.0" fill="#b41de2"/>
<rect x="1332.0" y="455.8" width="21.6" height="3.8" fill="#e83ec1"/>
<rect x="1387.3" y="451.8" width="22.6" height="12.0" fill="#3f00ff"/>
<rect x="1387.3" y="454.2" width="22.6" height="7.0" fill="#b920df"/>
<rect x="1387.8" y="455.8" width="21.6" height="3.8" fill="#ed41be"/>
<rect x="1443.1" y="451.8" width="22.6" height="12.0" fill="#3f00ff"/>
<rect x="1443.1" y="454.2" width="22.6" height="7.0" fill="#b920df"/>
<rect x="1443.6" y="455.8" width="21.6" height="3.8" fill="#ed41be"/>
<rect x="1498.9" y="451.8" width="22.6" height="12.0" fill="#3f00ff"/>
<rect x="1498.9" y="454.2" width="22.6" height="7.0" fill="#b41de2"/>
<rect x="1499.4" y="455.8" width="21.6" height="3.8" fill="#e83ec1"/>
<rect x="1554.7" y="451.8" width="22.6" height="12.0" fill="#3f00ff"/>
<rect x="1554.7" y="454.2" width="22.6" height="7.0" fill="#b01ae5"/>
<rect x="1555.2" y="455.8" width="21.6" height="3.8" fill="#e33bc4"/>
<rect x="1610.5" y="451.8" width="22.6" height="12.0" fill="#3f00ff"/>
<rect x="1610.5" y="454.2" width="22.6" height="7.0" fill="#b41de2"/>
<rect x="1611.0" y="455.8" width="21.6" height="3.8" fill="#e83ec1"/>
<rect x="1666.3" y="451.8" width="22.6" height="12.0" fill="#3f00ff"/>
<rect x="1666.3" y="454.2" width="22.6" height="7.0" fill="#b920df"/>
<rect x="1666.8" y="455.8" width="21.6" height="3.8" fill="#ed41be"/>
<rect x="1722.1" y="451.8" width="22.6" height="12.0" fill="#3f00ff"/>
<rect x="1722.1" y="454.2" width="22.6" height="7.0" fill="#be23dc"/>
<rect x="1722.6" y="455.8" width="21.6" height="3.8" fill="#f144bb"/>
</g>
<g filter="url(#b2)">
<rect x="1079.0" y="693.0" width="8.0" height="6.0" fill="#0000de"/>
<rect x="1312.5" y="693.0" width="9.0" height="6.0" fill="#0000d8"/>
<rect x="1557.0" y="693.0" width="12.0" height="6.0" fill="#0000d8"/>
<rect x="1247.0" y="694.5" width="6.0" height="5.0" fill="#0000c6"/>
<rect x="1157.5" y="694.5" width="5.0" height="5.0" fill="#0000c0"/>
<rect x="1416.0" y="695.5" width="8.0" height="5.0" fill="#0000c0"/>
<rect x="1636.0" y="694.5" width="8.0" height="5.0" fill="#0000ba"/>
<rect x="1696.5" y="695.5" width="7.0" height="5.0" fill="#0000c0"/>
<rect x="110.0" y="707.0" width="40.0" height="4.0" fill="#0000d8"/>
<rect x="255.0" y="707.0" width="50.0" height="4.0" fill="#0000d8"/>
<rect x="205.0" y="707.0" width="30.0" height="4.0" fill="#0000c6"/>
<rect x="320.0" y="707.0" width="60.0" height="4.0" fill="#0000c0"/>
<rect x="239.5" y="678.5" width="3.0" height="4.0" fill="#1000ff"/>
<rect x="248.0" y="679.0" width="2.0" height="3.0" fill="#0000e4"/>
<rect x="254.0" y="679.0" width="2.0" height="3.0" fill="#0000e4"/>
<rect x="263.0" y="679.0" width="2.0" height="3.0" fill="#0000e4"/>
<rect x="1769.8" y="686.0" width="2.5" height="8.0" fill="#0700ff"/>
<rect x="501.2" y="704.5" width="2.5" height="7.0" fill="#f647b8"/>
<rect x="498.0" y="709.5" width="2.0" height="5.0" fill="#b01ae5"/>
<rect x="494.0" y="708.5" width="2.0" height="5.0" fill="#3b00ff"/>
<rect x="1378.4" y="210.0" width="2.2" height="5.0" fill="#df38c7"/>
<rect x="1378.5" y="202.0" width="2.0" height="6.0" fill="#2d00ff"/>
<rect x="1377.2" y="171.5" width="2.5" height="9.0" fill="#1a00ff"/>
<rect x="1378.5" y="222.0" width="2.0" height="6.0" fill="#0700ff"/>
<rect x="1049.8" y="712.0" width="2.5" height="6.0" fill="#980bf4"/>
<rect x="1605.8" y="713.5" width="2.5" height="5.0" fill="#c729d6"/>
</g>
</g>
<rect x="102.40" y="51.30" width="1673.60" height="923.70" fill="none" stroke="#000" stroke-width="1.33"/>
<text x="938.6" y="40.6" font-size="37.6" text-anchor="middle" textLength="1412.5" lengthAdjust="spacingAndGlyphs">2026/02/09&#160;&#160;Radio flux density, e-CALLISTO (POLAND-BALDY), Focuscode: 62</text>
<text x="938.4" y="1048.3" font-size="34.2" text-anchor="middle" textLength="392.0" lengthAdjust="spacingAndGlyphs">Observation time [UTC]</text>
<text x="37.7" y="513.5" font-size="34.2" text-anchor="middle" textLength="279.0" lengthAdjust="spacingAndGlyphs" transform="rotate(-90 37.7 513.5)">Frequency [MHz]</text>
<text x="2025.6" y="506.8" font-size="34.2" text-anchor="middle" textLength="362.5" lengthAdjust="spacingAndGlyphs" transform="rotate(-90 2025.6 506.8)">dB above background</text>
<path d="M102.40 975.0v6.5" stroke="#000" stroke-width="1.33"/>
<text x="101.8" y="1009.8" font-size="31" text-anchor="middle" textLength="83.5" lengthAdjust="spacingAndGlyphs">12:30</text>
<path d="M213.97 975.0v6.5" stroke="#000" stroke-width="1.33"/>
<text x="213.4" y="1009.8" font-size="31" text-anchor="middle" textLength="83.5" lengthAdjust="spacingAndGlyphs">12:30</text>
<path d="M325.55 975.0v6.5" stroke="#000" stroke-width="1.33"/>
<text x="324.9" y="1009.8" font-size="31" text-anchor="middle" textLength="83.5" lengthAdjust="spacingAndGlyphs">12:31</text>
<path d="M437.12 975.0v6.5" stroke="#000" stroke-width="1.33"/>
<text x="436.5" y="1009.8" font-size="31" text-anchor="middle" textLength="83.5" lengthAdjust="spacingAndGlyphs">12:32</text>
<path d="M548.69 975.0v6.5" stroke="#000" stroke-width="1.33"/>
<text x="548.1" y="1009.8" font-size="31" text-anchor="middle" textLength="83.5" lengthAdjust="spacingAndGlyphs">12:33</text>
<path d="M660.27 975.0v6.5" stroke="#000" stroke-width="1.33"/>
<text x="659.7" y="1009.8" font-size="31" text-anchor="middle" textLength="83.5" lengthAdjust="spacingAndGlyphs">12:34</text>
<path d="M771.84 975.0v6.5" stroke="#000" stroke-width="1.33"/>
<text x="771.2" y="1009.8" font-size="31" text-anchor="middle" textLength="83.5" lengthAdjust="spacingAndGlyphs">12:35</text>
<path d="M883.41 975.0v6.5" stroke="#000" stroke-width="1.33"/>
<text x="882.8" y="1009.8" font-size="31" text-anchor="middle" textLength="83.5" lengthAdjust="spacingAndGlyphs">12:36</text>
<path d="M994.99 975.0v6.5" stroke="#000" stroke-width="1.33"/>
<text x="994.4" y="1009.8" font-size="31" text-anchor="middle" textLength="83.5" lengthAdjust="spacingAndGlyphs">12:37</text>
<path d="M1106.56 975.0v6.5" stroke="#000" stroke-width="1.33"/>
<text x="1106.0" y="1009.8" font-size="31" text-anchor="middle" textLength="83.5" lengthAdjust="spacingAndGlyphs">12:38</text>
<path d="M1218.13 975.0v6.5" stroke="#000" stroke-width="1.33"/>
<text x="1217.5" y="1009.8" font-size="31" text-anchor="middle" textLength="83.5" lengthAdjust="spacingAndGlyphs">12:39</text>
<path d="M1329.71 975.0v6.5" stroke="#000" stroke-width="1.33"/>
<text x="1329.1" y="1009.8" font-size="31" text-anchor="middle" textLength="83.5" lengthAdjust="spacingAndGlyphs">12:40</text>
<path d="M1441.28 975.0v6.5" stroke="#000" stroke-width="1.33"/>
<text x="1440.7" y="1009.8" font-size="31" text-anchor="middle" textLength="83.5" lengthAdjust="spacingAndGlyphs">12:41</text>
<path d="M1552.85 975.0v6.5" stroke="#000" stroke-width="1.33"/>
<text x="1552.3" y="1009.8" font-size="31" text-anchor="middle" textLength="83.5" lengthAdjust="spacingAndGlyphs">12:42</text>
<path d="M1664.43 975.0v6.5" stroke="#000" stroke-width="1.33"/>
<text x="1663.8" y="1009.8" font-size="31" text-anchor="middle" textLength="83.5" lengthAdjust="spacingAndGlyphs">12:43</text>
<path d="M102.4 975.00h-6.5" stroke="#000" stroke-width="1.33"/>
<text x="89.4" y="986.3" font-size="30.6" text-anchor="end" textLength="37.6" lengthAdjust="spacingAndGlyphs">10</text>
<path d="M102.4 846.49h-6.5" stroke="#000" stroke-width="1.33"/>
<text x="89.4" y="857.8" font-size="30.6" text-anchor="end" textLength="37.6" lengthAdjust="spacingAndGlyphs">20</text>
<path d="M102.4 717.97h-6.5" stroke="#000" stroke-width="1.33"/>
<text x="89.4" y="729.3" font-size="30.6" text-anchor="end" textLength="37.6" lengthAdjust="spacingAndGlyphs">30</text>
<path d="M102.4 589.46h-6.5" stroke="#000" stroke-width="1.33"/>
<text x="89.4" y="600.8" font-size="30.6" text-anchor="end" textLength="37.6" lengthAdjust="spacingAndGlyphs">40</text>
<path d="M102.4 460.94h-6.5" stroke="#000" stroke-width="1.33"/>
<text x="89.4" y="472.2" font-size="30.6" text-anchor="end" textLength="37.6" lengthAdjust="spacingAndGlyphs">50</text>
<path d="M102.4 332.43h-6.5" stroke="#000" stroke-width="1.33"/>
<text x="89.4" y="343.7" font-size="30.6" text-anchor="end" textLength="37.6" lengthAdjust="spacingAndGlyphs">60</text>
<path d="M102.4 203.91h-6.5" stroke="#000" stroke-width="1.33"/>
<text x="89.4" y="215.2" font-size="30.6" text-anchor="end" textLength="37.6" lengthAdjust="spacingAndGlyphs">70</text>
<path d="M102.4 75.40h-6.5" stroke="#000" stroke-width="1.33"/>
<text x="89.4" y="86.7" font-size="30.6" text-anchor="end" textLength="37.6" lengthAdjust="spacingAndGlyphs">80</text>
<defs><linearGradient id="cbg" x1="0" y1="0" x2="0" y2="1"><stop offset="0.0000" stop-color="#ffffff"/><stop offset="0.0147" stop-color="#ffffd0"/><stop offset="0.0294" stop-color="#ffffa1"/><stop offset="0.0441" stop-color="#ffff72"/><stop offset="0.0588" stop-color="#ffff43"/><stop offset="0.0735" stop-color="#ffff15"/><stop offset="0.0882" stop-color="#fffb04"/><stop offset="0.1029" stop-color="#fff30c"/><stop offset="0.1176" stop-color="#ffec13"/><stop offset="0.1324" stop-color="#ffe41b"/><stop offset="0.1471" stop-color="#ffdd22"/><stop offset="0.1618" stop-color="#ffd52a"/><stop offset="0.1765" stop-color="#ffce31"/><stop offset="0.1912" stop-color="#ffc639"/><stop offset="0.2059" stop-color="#ffbf40"/><stop offset="0.2206" stop-color="#ffb748"/><stop offset="0.2353" stop-color="#ffb04f"/><stop offset="0.2500" stop-color="#ffa857"/><stop offset="0.2647" stop-color="#ffa15e"/><stop offset="0.2794" stop-color="#ff9966"/><stop offset="0.2941" stop-color="#ff926d"/><stop offset="0.3088" stop-color="#ff8a75"/><stop offset="0.3235" stop-color="#ff837c"/><stop offset="0.3382" stop-color="#ff7b84"/><stop offset="0.3529" stop-color="#ff748b"/><stop offset="0.3676" stop-color="#ff6c93"/><stop offset="0.3824" stop-color="#ff659a"/><stop offset="0.3971" stop-color="#ff5da2"/><stop offset="0.4118" stop-color="#ff56a9"/><stop offset="0.4265" stop-color="#ff4eb1"/><stop offset="0.4412" stop-color="#f647b8"/><stop offset="0.4559" stop-color="#ea3fc0"/><stop offset="0.4706" stop-color="#df38c7"/><stop offset="0.4853" stop-color="#d330cf"/><stop offset="0.5000" stop-color="#c729d6"/><stop offset="0.5147" stop-color="#bc21de"/><stop offset="0.5294" stop-color="#b01ae5"/><stop offset="0.5441" stop-color="#a412ed"/><stop offset="0.5588" stop-color="#980bf4"/><stop offset="0.5735" stop-color="#8d03fc"/><stop offset="0.5882" stop-color="#8100ff"/><stop offset="0.6029" stop-color="#7500ff"/><stop offset="0.6176" stop-color="#6900ff"/><stop offset="0.6324" stop-color="#5e00ff"/><stop offset="0.6471" stop-color="#5200ff"/><stop offset="0.6618" stop-color="#4600ff"/><stop offset="0.6765" stop-color="#3b00ff"/><stop offset="0.6912" stop-color="#2f00ff"/><stop offset="0.7059" stop-color="#2300ff"/><stop offset="0.7206" stop-color="#1700ff"/><stop offset="0.7353" stop-color="#0c00ff"/><stop offset="0.7500" stop-color="#0000ff"/><stop offset="0.7647" stop-color="#0000f0"/><stop offset="0.7794" stop-color="#0000e1"/><stop offset="0.7941" stop-color="#0000d2"/><stop offset="0.8088" stop-color="#0000c3"/><stop offset="0.8235" stop-color="#0000b4"/><stop offset="0.8382" stop-color="#0000a5"/><stop offset="0.8529" stop-color="#000096"/><stop offset="0.8676" stop-color="#000087"/><stop offset="0.8824" stop-color="#000078"/><stop offset="0.8971" stop-color="#000069"/><stop offset="0.9118" stop-color="#00005a"/><stop offset="0.9265" stop-color="#00004b"/><stop offset="0.9412" stop-color="#00003c"/><stop offset="0.9559" stop-color="#00002d"/><stop offset="0.9706" stop-color="#00001e"/><stop offset="0.9853" stop-color="#00000f"/><stop offset="1.0000" stop-color="#000000"/></linearGradient></defs>
<rect x="1916.55" y="27.30" width="43.15" height="959.70" fill="url(#cbg)" stroke="#000" stroke-width="1.33"/>
<path d="M1959.7 987.00h6.3" stroke="#000" stroke-width="1.33"/>
<text x="1972.4" y="992.4" font-size="17.4" text-anchor="start">&#8722;2</text>
<path d="M1959.7 874.09h6.3" stroke="#000" stroke-width="1.33"/>
<text x="1972.4" y="879.5" font-size="17.4" text-anchor="start">0</text>
<path d="M1959.7 761.19h6.3" stroke="#000" stroke-width="1.33"/>
<text x="1972.4" y="766.6" font-size="17.4" text-anchor="start">2</text>
<path d="M1959.7 648.28h6.3" stroke="#000" stroke-width="1.33"/>
<text x="1972.4" y="653.7" font-size="17.4" text-anchor="start">4</text>
<path d="M1959.7 535.38h6.3" stroke="#000" stroke-width="1.33"/>
<text x="1972.4" y="540.8" font-size="17.4" text-anchor="start">6</text>
<path d="M1959.7 422.47h6.3" stroke="#000" stroke-width="1.33"/>
<text x="1972.4" y="427.9" font-size="17.4" text-anchor="start">8</text>
<path d="M1959.7 309.56h6.3" stroke="#000" stroke-width="1.33"/>
<text x="1972.4" y="315.0" font-size="17.4" text-anchor="start">10</text>
<path d="M1959.7 196.66h6.3" stroke="#000" stroke-width="1.33"/>
<text x="1972.4" y="202.1" font-size="17.4" text-anchor="start">12</text>
<path d="M1959.7 83.75h6.3" stroke="#000" stroke-width="1.33"/>
<text x="1972.4" y="89.2" font-size="17.4" text-anchor="start">14</text>
</svg>
</body></html>
